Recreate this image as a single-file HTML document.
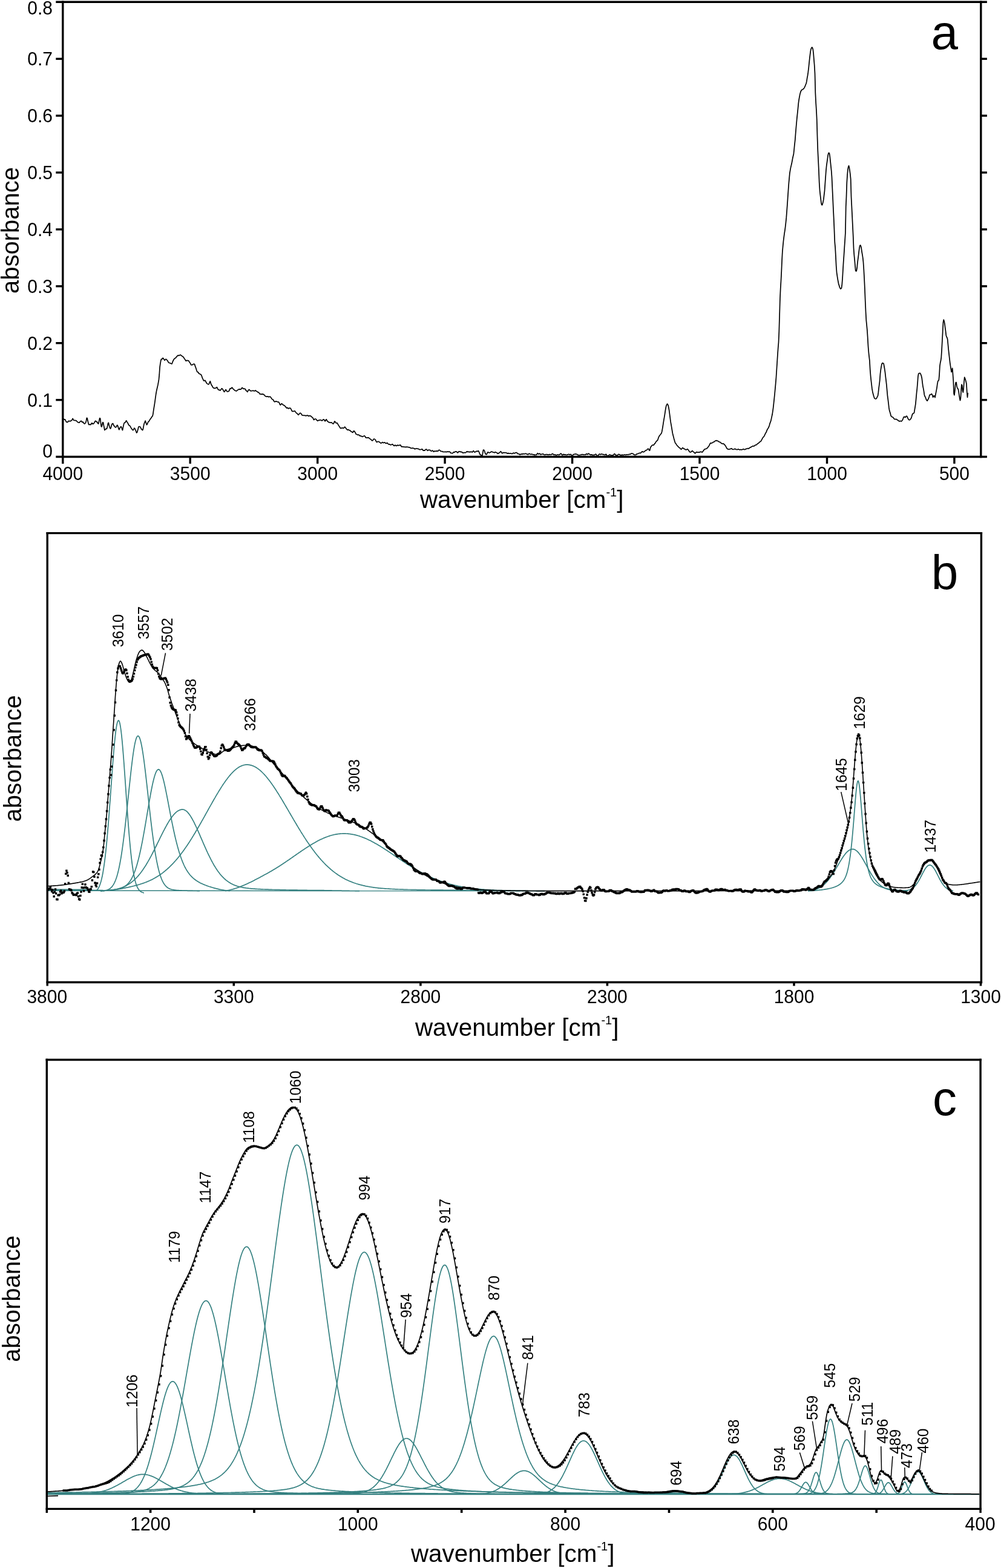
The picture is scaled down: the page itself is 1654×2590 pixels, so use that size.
<!DOCTYPE html>
<html lang="en">
<head>
<meta charset="utf-8">
<title>FTIR spectrum with band deconvolution</title>
<style>
html,body{margin:0;padding:0;background:#fff;}
body{width:1654px;height:2590px;overflow:hidden;}
svg{display:block;font-family:"Liberation Sans", Arial, Helvetica, sans-serif;fill:#000;}
</style>
</head>
<body>
<svg width="1654" height="2590" viewBox="0 0 1654 2590">
<rect width="1654" height="2590" fill="#fff"/>
<g id="panel-a">
<line x1="92.3" y1="3.2" x2="1630.9" y2="3.2" stroke="#000" stroke-width="3.4" stroke-linecap="butt"/>
<line x1="92.3" y1="754.5" x2="1630.9" y2="754.5" stroke="#000" stroke-width="3.4" stroke-linecap="butt"/>
<line x1="103.8" y1="1.5" x2="103.8" y2="765.9" stroke="#000" stroke-width="3.4" stroke-linecap="butt"/>
<line x1="1620.8" y1="1.5" x2="1620.8" y2="756.2" stroke="#000" stroke-width="3.4" stroke-linecap="butt"/>
<line x1="92.3" y1="660.6" x2="103.8" y2="660.6" stroke="#000" stroke-width="3.4" stroke-linecap="butt"/>
<line x1="1620.8" y1="660.6" x2="1630.9" y2="660.6" stroke="#000" stroke-width="3.4" stroke-linecap="butt"/>
<line x1="92.3" y1="566.7" x2="103.8" y2="566.7" stroke="#000" stroke-width="3.4" stroke-linecap="butt"/>
<line x1="1620.8" y1="566.7" x2="1630.9" y2="566.7" stroke="#000" stroke-width="3.4" stroke-linecap="butt"/>
<line x1="92.3" y1="472.8" x2="103.8" y2="472.8" stroke="#000" stroke-width="3.4" stroke-linecap="butt"/>
<line x1="1620.8" y1="472.8" x2="1630.9" y2="472.8" stroke="#000" stroke-width="3.4" stroke-linecap="butt"/>
<line x1="92.3" y1="378.9" x2="103.8" y2="378.9" stroke="#000" stroke-width="3.4" stroke-linecap="butt"/>
<line x1="1620.8" y1="378.9" x2="1630.9" y2="378.9" stroke="#000" stroke-width="3.4" stroke-linecap="butt"/>
<line x1="92.3" y1="285.0" x2="103.8" y2="285.0" stroke="#000" stroke-width="3.4" stroke-linecap="butt"/>
<line x1="1620.8" y1="285.0" x2="1630.9" y2="285.0" stroke="#000" stroke-width="3.4" stroke-linecap="butt"/>
<line x1="92.3" y1="191.1" x2="103.8" y2="191.1" stroke="#000" stroke-width="3.4" stroke-linecap="butt"/>
<line x1="1620.8" y1="191.1" x2="1630.9" y2="191.1" stroke="#000" stroke-width="3.4" stroke-linecap="butt"/>
<line x1="92.3" y1="97.2" x2="103.8" y2="97.2" stroke="#000" stroke-width="3.4" stroke-linecap="butt"/>
<line x1="1620.8" y1="97.2" x2="1630.9" y2="97.2" stroke="#000" stroke-width="3.4" stroke-linecap="butt"/>
<line x1="314.2" y1="754.5" x2="314.2" y2="765.9" stroke="#000" stroke-width="3.4" stroke-linecap="butt"/>
<line x1="524.7" y1="754.5" x2="524.7" y2="765.9" stroke="#000" stroke-width="3.4" stroke-linecap="butt"/>
<line x1="735.1" y1="754.5" x2="735.1" y2="765.9" stroke="#000" stroke-width="3.4" stroke-linecap="butt"/>
<line x1="945.6" y1="754.5" x2="945.6" y2="765.9" stroke="#000" stroke-width="3.4" stroke-linecap="butt"/>
<line x1="1156.0" y1="754.5" x2="1156.0" y2="765.9" stroke="#000" stroke-width="3.4" stroke-linecap="butt"/>
<line x1="1366.5" y1="754.5" x2="1366.5" y2="765.9" stroke="#000" stroke-width="3.4" stroke-linecap="butt"/>
<line x1="1576.9" y1="754.5" x2="1576.9" y2="765.9" stroke="#000" stroke-width="3.4" stroke-linecap="butt"/>
<text transform="translate(87.0,756.0) scale(1,1.04)" font-size="30" text-anchor="end">0</text>
<text transform="translate(87.0,671.5) scale(1,1.04)" font-size="30" text-anchor="end">0.1</text>
<text transform="translate(87.0,577.6) scale(1,1.04)" font-size="30" text-anchor="end">0.2</text>
<text transform="translate(87.0,483.7) scale(1,1.04)" font-size="30" text-anchor="end">0.3</text>
<text transform="translate(87.0,389.8) scale(1,1.04)" font-size="30" text-anchor="end">0.4</text>
<text transform="translate(87.0,295.9) scale(1,1.04)" font-size="30" text-anchor="end">0.5</text>
<text transform="translate(87.0,202.0) scale(1,1.04)" font-size="30" text-anchor="end">0.6</text>
<text transform="translate(87.0,108.1) scale(1,1.04)" font-size="30" text-anchor="end">0.7</text>
<text transform="translate(87.0,24.1) scale(1,1.04)" font-size="30" text-anchor="end">0.8</text>
<text transform="translate(103.8,793.2) scale(1,1.04)" font-size="30" text-anchor="middle">4000</text>
<text transform="translate(314.2,793.2) scale(1,1.04)" font-size="30" text-anchor="middle">3500</text>
<text transform="translate(524.7,793.2) scale(1,1.04)" font-size="30" text-anchor="middle">3000</text>
<text transform="translate(735.1,793.2) scale(1,1.04)" font-size="30" text-anchor="middle">2500</text>
<text transform="translate(945.6,793.2) scale(1,1.04)" font-size="30" text-anchor="middle">2000</text>
<text transform="translate(1156.0,793.2) scale(1,1.04)" font-size="30" text-anchor="middle">1500</text>
<text transform="translate(1366.5,793.2) scale(1,1.04)" font-size="30" text-anchor="middle">1000</text>
<text transform="translate(1576.9,793.2) scale(1,1.04)" font-size="30" text-anchor="middle">500</text>
<text transform="translate(30.9,380.6) rotate(-90) scale(1,1)" font-size="40" text-anchor="middle">absorbance</text>
<text x="862.2" y="839.0" font-size="40.4" text-anchor="middle">wavenumber [cm<tspan font-size="20" dy="-19">-1</tspan><tspan dy="19">]</tspan></text>
<text transform="translate(1538.4,80.7) scale(1,1)" font-size="80" text-anchor="start">a</text>
<path d="M104.9,691.3 L105.7,692.9 L106.5,693.1 L107.3,692.8 L108.1,693.8 L108.9,695.8 L109.7,697.2 L110.5,697.0 L111.3,697.4 L112.1,697.1 L112.9,695.7 L113.7,695.3 L114.5,695.6 L115.3,695.6 L116.1,695.8 L116.9,695.3 L117.7,694.8 L118.5,694.4 L119.3,692.9 L120.1,691.3 L120.9,692.6 L121.7,694.2 L122.5,694.3 L123.3,694.5 L124.1,694.4 L124.9,694.6 L125.7,694.8 L126.5,695.3 L127.3,696.2 L128.1,697.3 L128.9,697.5 L129.7,697.8 L130.5,698.2 L131.3,697.9 L132.1,696.7 L132.9,695.8 L133.7,695.6 L134.5,695.4 L135.3,696.9 L136.1,697.5 L136.9,696.8 L137.7,697.8 L138.5,699.1 L139.3,699.9 L140.1,699.8 L140.9,699.0 L141.7,697.9 L142.5,694.9 L143.3,690.3 L144.1,690.8 L144.9,694.5 L145.7,697.9 L146.5,701.0 L147.3,701.6 L148.1,701.0 L148.9,701.1 L149.7,701.7 L150.5,700.9 L151.3,699.2 L152.1,698.7 L152.9,700.1 L153.7,700.3 L154.5,699.7 L155.3,699.1 L156.1,697.7 L156.9,696.1 L157.7,695.2 L158.5,695.5 L159.3,696.8 L160.1,696.8 L160.9,697.6 L161.7,699.4 L162.5,700.0 L163.3,697.2 L164.1,693.3 L164.9,690.5 L165.7,691.5 L166.5,698.8 L167.3,704.5 L168.1,704.9 L168.9,701.1 L169.7,697.7 L170.5,697.8 L171.3,702.2 L172.1,706.1 L172.9,710.5 L173.7,709.6 L174.5,708.7 L175.3,708.4 L176.1,708.5 L176.9,706.9 L177.7,703.4 L178.5,699.5 L179.3,698.3 L180.1,701.8 L180.9,704.5 L181.7,706.9 L182.5,708.0 L183.3,706.6 L184.1,703.2 L184.9,700.9 L185.7,699.9 L186.5,699.4 L187.3,701.1 L188.1,703.1 L188.9,703.7 L189.7,704.9 L190.5,705.8 L191.3,705.8 L192.1,705.1 L192.9,703.5 L193.7,702.2 L194.5,703.3 L195.3,705.6 L196.1,708.4 L196.9,709.8 L197.7,707.6 L198.5,706.2 L199.3,705.1 L200.1,704.6 L200.9,705.9 L201.7,708.9 L202.5,710.6 L203.3,706.7 L204.1,702.6 L204.9,699.4 L205.7,698.1 L206.5,698.1 L207.3,697.4 L208.1,695.5 L208.9,694.8 L209.7,696.6 L210.5,697.8 L211.3,698.9 L212.1,701.0 L212.9,702.3 L213.7,702.8 L214.5,703.4 L215.3,704.3 L216.1,705.8 L216.9,707.5 L217.7,708.3 L218.5,709.5 L219.3,710.4 L220.1,710.4 L220.9,709.3 L221.7,707.2 L222.5,707.4 L223.3,709.0 L224.1,710.8 L224.9,713.0 L225.7,714.9 L226.5,714.2 L227.3,711.4 L228.1,708.7 L228.9,705.2 L229.7,704.6 L230.5,704.6 L231.3,704.8 L232.1,705.8 L232.9,707.4 L233.7,709.0 L234.5,709.5 L235.3,710.5 L236.1,709.8 L236.9,706.0 L237.7,701.6 L238.5,698.9 L239.3,697.1 L240.1,695.1 L240.9,697.3 L241.7,699.8 L242.5,701.7 L243.3,700.6 L244.1,698.5 L244.9,696.8 L245.7,696.1 L246.5,695.3 L247.3,693.8 L248.1,692.6 L248.9,691.5 L249.7,690.5 L250.5,689.2 L251.3,687.9 L252.1,687.2 L252.9,683.6 L253.7,677.8 L254.5,672.9 L255.3,668.0 L256.1,662.6 L256.9,656.7 L257.7,651.0 L258.5,646.4 L259.3,642.7 L260.1,639.3 L260.9,635.9 L261.7,631.5 L262.5,626.7 L263.3,618.2 L264.1,606.3 L264.9,600.6 L265.7,596.1 L266.5,593.2 L267.3,593.4 L268.1,592.8 L268.9,591.3 L269.7,591.7 L270.5,593.0 L271.3,594.0 L272.1,595.2 L272.9,594.3 L273.7,593.3 L274.5,593.3 L275.3,594.2 L276.1,595.0 L276.9,595.8 L277.7,597.4 L278.5,598.7 L279.3,599.2 L280.1,599.6 L280.9,599.7 L281.7,600.0 L282.5,600.5 L283.3,600.9 L284.1,600.9 L284.9,598.8 L285.7,596.6 L286.5,595.0 L287.3,593.7 L288.1,592.5 L288.9,591.9 L289.7,591.5 L290.5,591.0 L291.3,589.7 L292.1,588.8 L292.9,588.2 L293.7,587.4 L294.5,586.8 L295.3,587.5 L296.1,587.3 L296.9,586.8 L297.7,586.2 L298.5,586.3 L299.3,587.0 L300.1,587.6 L300.9,588.3 L301.7,588.9 L302.5,589.2 L303.3,590.1 L304.1,591.5 L304.9,592.7 L305.7,593.7 L306.5,595.0 L307.3,596.2 L308.1,595.8 L308.9,595.3 L309.7,595.6 L310.5,595.7 L311.3,595.7 L312.1,596.5 L312.9,597.9 L313.7,599.2 L314.5,600.0 L315.3,601.9 L316.1,603.0 L316.9,602.6 L317.7,602.7 L318.5,602.2 L319.3,601.5 L320.1,601.3 L320.9,601.2 L321.7,602.1 L322.5,604.9 L323.3,606.8 L324.1,609.3 L324.9,611.7 L325.7,613.9 L326.5,614.7 L327.3,614.7 L328.1,616.0 L328.9,617.4 L329.7,617.3 L330.5,617.7 L331.3,618.6 L332.1,618.7 L332.9,619.9 L333.7,622.3 L334.5,624.6 L335.3,626.1 L336.1,628.0 L336.9,629.1 L337.7,628.8 L338.5,628.3 L339.3,628.8 L340.1,630.4 L340.9,632.1 L341.7,633.2 L342.5,633.9 L343.3,634.4 L344.1,634.8 L344.9,635.0 L345.7,633.2 L346.5,631.3 L347.3,629.7 L348.1,632.2 L348.9,634.9 L349.7,636.2 L350.5,637.5 L351.3,638.8 L352.1,640.4 L352.9,640.9 L353.7,641.1 L354.5,641.4 L355.3,641.3 L356.1,641.0 L356.9,641.0 L357.7,639.8 L358.5,639.6 L359.3,641.4 L360.1,642.9 L360.9,643.9 L361.7,643.9 L362.5,644.0 L363.3,644.8 L364.1,644.8 L364.9,643.6 L365.7,642.7 L366.5,641.6 L367.3,642.2 L368.1,643.2 L368.9,644.6 L369.7,646.1 L370.5,647.4 L371.3,646.5 L372.1,645.0 L372.9,643.6 L373.7,644.2 L374.5,645.7 L375.3,646.9 L376.1,646.7 L376.9,646.7 L377.7,646.5 L378.5,645.6 L379.3,643.7 L380.1,641.9 L380.9,641.6 L381.7,641.9 L382.5,641.1 L383.3,640.0 L384.1,640.8 L384.9,642.2 L385.7,643.0 L386.5,643.4 L387.3,644.3 L388.1,645.0 L388.9,645.3 L389.7,645.6 L390.5,645.9 L391.3,645.5 L392.1,644.7 L392.9,644.1 L393.7,643.6 L394.5,643.2 L395.3,642.9 L396.1,643.1 L396.9,643.2 L397.7,643.2 L398.5,642.6 L399.3,641.3 L400.1,640.4 L400.9,640.9 L401.7,641.9 L402.5,642.2 L403.3,642.3 L404.1,642.1 L404.9,642.4 L405.7,643.5 L406.5,645.0 L407.3,645.7 L408.1,646.4 L408.9,647.4 L409.7,645.8 L410.5,644.3 L411.3,643.6 L412.1,643.7 L412.9,644.9 L413.7,645.7 L414.5,645.6 L415.3,645.6 L416.1,645.7 L416.9,645.5 L417.7,645.2 L418.5,645.1 L419.3,645.7 L420.1,646.0 L420.9,645.7 L421.7,644.8 L422.5,645.3 L423.3,646.0 L424.1,646.2 L424.9,646.9 L425.7,647.7 L426.5,647.9 L427.3,648.1 L428.1,648.9 L428.9,650.3 L429.7,651.0 L430.5,650.8 L431.3,650.8 L432.1,651.3 L432.9,651.4 L433.7,650.8 L434.5,650.9 L435.3,651.6 L436.1,651.9 L436.9,652.6 L437.7,653.8 L438.5,654.4 L439.3,654.8 L440.1,655.2 L440.9,655.0 L441.7,655.1 L442.5,654.8 L443.3,655.1 L444.1,655.8 L444.9,655.5 L445.7,655.1 L446.5,655.3 L447.3,656.3 L448.1,657.3 L448.9,658.5 L449.7,659.6 L450.5,659.8 L451.3,660.3 L452.1,661.5 L452.9,663.1 L453.7,663.7 L454.5,663.6 L455.3,663.0 L456.1,662.9 L456.9,663.2 L457.7,663.4 L458.5,663.9 L459.3,664.0 L460.1,663.8 L460.9,664.6 L461.7,666.1 L462.5,668.1 L463.3,669.0 L464.1,668.1 L464.9,667.1 L465.7,666.7 L466.5,667.6 L467.3,668.4 L468.1,668.8 L468.9,669.5 L469.7,669.6 L470.5,670.4 L471.3,671.3 L472.1,672.0 L472.9,673.4 L473.7,674.0 L474.5,673.3 L475.3,673.5 L476.1,674.7 L476.9,674.9 L477.7,674.2 L478.5,674.1 L479.3,674.2 L480.1,674.3 L480.9,675.9 L481.7,677.4 L482.5,679.1 L483.3,679.6 L484.1,679.3 L484.9,679.4 L485.7,679.4 L486.5,678.9 L487.3,678.9 L488.1,680.1 L488.9,681.3 L489.7,682.3 L490.5,682.8 L491.3,683.3 L492.1,684.4 L492.9,685.3 L493.7,684.7 L494.5,683.6 L495.3,682.9 L496.1,682.2 L496.9,682.5 L497.7,683.5 L498.5,684.8 L499.3,685.9 L500.1,686.0 L500.9,685.9 L501.7,686.3 L502.5,686.5 L503.3,686.2 L504.1,686.2 L504.9,686.7 L505.7,686.9 L506.5,686.5 L507.3,686.0 L508.1,686.0 L508.9,686.8 L509.7,687.3 L510.5,686.9 L511.3,686.7 L512.1,686.9 L512.9,686.9 L513.7,687.3 L514.5,688.1 L515.3,689.0 L516.1,689.4 L516.9,690.1 L517.7,691.8 L518.5,693.5 L519.3,692.8 L520.1,692.3 L520.9,692.2 L521.7,692.2 L522.5,692.6 L523.3,693.9 L524.1,694.7 L524.9,695.2 L525.7,694.7 L526.5,694.1 L527.3,694.1 L528.1,694.1 L528.9,693.6 L529.7,693.8 L530.5,694.0 L531.3,694.7 L532.1,694.9 L532.9,694.3 L533.7,693.2 L534.5,692.9 L535.3,693.0 L536.1,694.1 L536.9,695.6 L537.7,695.4 L538.5,693.4 L539.3,692.7 L540.1,694.2 L540.9,695.7 L541.7,696.3 L542.5,696.9 L543.3,697.6 L544.1,697.6 L544.9,697.8 L545.7,698.2 L546.5,698.0 L547.3,697.8 L548.1,698.1 L548.9,698.8 L549.7,699.7 L550.5,700.1 L551.3,699.7 L552.1,697.5 L552.9,695.9 L553.7,696.5 L554.5,697.9 L555.3,698.8 L556.1,698.8 L556.9,698.4 L557.7,699.5 L558.5,701.2 L559.3,702.3 L560.1,703.7 L560.9,704.8 L561.7,706.0 L562.5,707.2 L563.3,707.6 L564.1,707.2 L564.9,706.6 L565.7,706.8 L566.5,707.1 L567.3,707.1 L568.1,707.0 L568.9,706.0 L569.7,705.2 L570.5,705.9 L571.3,707.1 L572.1,708.2 L572.9,709.0 L573.7,709.9 L574.5,710.1 L575.3,709.8 L576.1,709.9 L576.9,710.7 L577.7,711.0 L578.5,710.9 L579.3,712.1 L580.1,713.0 L580.9,713.0 L581.7,713.5 L582.5,714.5 L583.3,714.1 L584.1,712.4 L584.9,711.7 L585.7,712.6 L586.5,713.7 L587.3,714.9 L588.1,716.9 L588.9,717.3 L589.7,717.6 L590.5,718.1 L591.3,718.4 L592.1,718.2 L592.9,718.2 L593.7,719.2 L594.5,719.8 L595.3,719.8 L596.1,720.3 L596.9,720.4 L597.7,720.7 L598.5,721.4 L599.3,721.2 L600.1,720.9 L600.9,720.4 L601.7,719.9 L602.5,720.0 L603.3,721.0 L604.1,722.5 L604.9,723.2 L605.7,723.2 L606.5,723.2 L607.3,723.2 L608.1,722.7 L608.9,722.9 L609.7,723.7 L610.5,724.1 L611.3,724.7 L612.1,725.5 L612.9,725.9 L613.7,726.7 L614.5,727.7 L615.3,727.8 L616.1,727.2 L616.9,726.2 L617.7,725.1 L618.5,725.1 L619.3,725.6 L620.1,726.1 L620.9,727.6 L621.7,729.5 L622.5,730.3 L623.3,730.0 L624.1,729.4 L624.9,729.4 L625.7,729.5 L626.5,729.9 L627.3,730.3 L628.1,731.1 L628.9,731.9 L629.7,731.9 L630.5,731.7 L631.3,730.8 L632.1,730.5 L632.9,731.2 L633.7,731.6 L634.5,731.1 L635.3,730.8 L636.1,731.0 L636.9,731.8 L637.7,732.5 L638.5,732.3 L639.3,731.7 L640.1,731.7 L640.9,732.7 L641.7,733.7 L642.5,733.9 L643.3,733.7 L644.1,733.9 L644.9,734.8 L645.7,734.8 L646.5,734.6 L647.3,734.3 L648.1,733.7 L648.9,734.1 L649.7,735.0 L650.5,735.9 L651.3,736.5 L652.1,736.0 L652.9,735.2 L653.7,735.7 L654.5,736.5 L655.3,736.5 L656.1,735.6 L656.9,735.2 L657.7,735.8 L658.5,735.8 L659.3,735.4 L660.1,735.3 L660.9,735.6 L661.7,735.0 L662.5,736.2 L663.3,737.9 L664.1,738.0 L664.9,737.8 L665.7,737.9 L666.5,738.3 L667.3,738.1 L668.1,738.3 L668.9,738.4 L669.7,738.4 L670.5,738.6 L671.3,738.2 L672.1,738.3 L672.9,738.4 L673.7,738.4 L674.5,738.5 L675.3,738.9 L676.1,738.9 L676.9,739.0 L677.7,739.5 L678.5,740.1 L679.3,740.5 L680.1,740.4 L680.9,740.4 L681.7,740.1 L682.5,740.2 L683.3,740.6 L684.1,740.6 L684.9,741.2 L685.7,741.8 L686.5,741.3 L687.3,741.0 L688.1,740.8 L688.9,741.0 L689.7,741.2 L690.5,741.3 L691.3,741.4 L692.1,741.9 L692.9,742.5 L693.7,742.6 L694.5,742.6 L695.3,742.5 L696.1,742.3 L696.9,741.9 L697.7,741.9 L698.5,743.2 L699.3,744.3 L700.1,744.1 L700.9,743.9 L701.7,744.1 L702.5,743.4 L703.3,742.5 L704.1,742.1 L704.9,742.3 L705.7,743.5 L706.5,744.4 L707.3,743.9 L708.1,743.2 L708.9,743.3 L709.7,743.3 L710.5,743.3 L711.3,744.1 L712.1,744.9 L712.9,745.1 L713.7,744.8 L714.5,744.0 L715.3,744.4 L716.1,745.8 L716.9,746.1 L717.7,745.2 L718.5,745.1 L719.3,745.4 L720.1,745.4 L720.9,745.1 L721.7,744.9 L722.5,745.1 L723.3,745.3 L724.1,744.8 L724.9,743.6 L725.7,743.1 L726.5,743.6 L727.3,744.2 L728.1,745.1 L728.9,745.7 L729.7,745.5 L730.5,745.5 L731.3,746.0 L732.1,746.5 L732.9,746.4 L733.7,746.5 L734.5,746.5 L735.3,746.2 L736.1,746.5 L736.9,746.4 L737.7,746.6 L738.5,746.3 L739.3,746.0 L740.1,746.1 L740.9,746.4 L741.7,746.2 L742.5,746.1 L743.3,746.3 L744.1,747.5 L744.9,748.3 L745.7,748.3 L746.5,748.5 L747.3,748.8 L748.1,748.6 L748.9,747.4 L749.7,746.7 L750.5,747.2 L751.3,746.8 L752.1,746.1 L752.9,745.8 L753.7,745.8 L754.5,746.3 L755.3,746.9 L756.1,747.9 L756.9,747.5 L757.7,746.1 L758.5,745.7 L759.3,745.8 L760.1,745.8 L760.9,746.4 L761.7,746.7 L762.5,746.4 L763.3,746.7 L764.1,747.5 L764.9,748.2 L765.7,748.1 L766.5,747.7 L767.3,747.7 L768.1,747.6 L768.9,747.9 L769.7,747.4 L770.5,746.9 L771.3,745.9 L772.1,745.7 L772.9,746.4 L773.7,746.6 L774.5,746.1 L775.3,746.3 L776.1,746.9 L776.9,746.7 L777.7,746.2 L778.5,746.2 L779.3,746.5 L780.1,747.0 L780.9,746.5 L781.7,745.1 L782.5,744.7 L783.3,745.9 L784.1,746.9 L784.9,746.8 L785.7,746.4 L786.5,745.5 L787.3,745.2 L788.1,745.7 L788.9,745.6 L789.7,744.8 L790.5,744.8 L791.3,746.1 L792.1,748.1 L792.9,750.2 L793.7,751.4 L794.5,751.4 L795.3,752.1 L796.1,753.0 L796.9,752.8 L797.7,748.3 L798.5,743.3 L799.3,743.1 L800.1,744.0 L800.9,745.9 L801.7,748.7 L802.5,750.0 L803.3,750.7 L804.1,750.6 L804.9,748.9 L805.7,747.0 L806.5,746.9 L807.3,747.3 L808.1,747.9 L808.9,747.8 L809.7,747.5 L810.5,746.9 L811.3,746.6 L812.1,746.0 L812.9,746.0 L813.7,746.7 L814.5,747.0 L815.3,747.1 L816.1,747.3 L816.9,747.8 L817.7,747.3 L818.5,746.7 L819.3,747.1 L820.1,747.6 L820.9,747.6 L821.7,748.5 L822.5,749.4 L823.3,749.2 L824.1,748.4 L824.9,747.9 L825.7,747.6 L826.5,746.4 L827.3,745.6 L828.1,746.4 L828.9,747.7 L829.7,748.8 L830.5,748.5 L831.3,747.7 L832.1,747.6 L832.9,748.0 L833.7,747.7 L834.5,747.6 L835.3,747.8 L836.1,748.0 L836.9,748.1 L837.7,748.5 L838.5,749.2 L839.3,748.9 L840.1,748.4 L840.9,749.1 L841.7,749.2 L842.5,749.0 L843.3,748.7 L844.1,749.0 L844.9,749.3 L845.7,749.3 L846.5,749.4 L847.3,749.0 L848.1,748.2 L848.9,748.3 L849.7,748.8 L850.5,748.7 L851.3,748.1 L852.1,747.7 L852.9,747.7 L853.7,747.6 L854.5,748.3 L855.3,749.5 L856.1,749.7 L856.9,749.5 L857.7,749.8 L858.5,750.8 L859.3,751.1 L860.1,750.4 L860.9,750.0 L861.7,749.9 L862.5,750.5 L863.3,750.1 L864.1,749.4 L864.9,749.7 L865.7,749.9 L866.5,749.8 L867.3,749.5 L868.1,749.2 L868.9,749.4 L869.7,749.9 L870.5,749.9 L871.3,750.2 L872.1,751.0 L872.9,750.6 L873.7,749.5 L874.5,749.2 L875.3,749.6 L876.1,750.2 L876.9,750.5 L877.7,750.4 L878.5,750.0 L879.3,750.3 L880.1,750.8 L880.9,751.0 L881.7,750.9 L882.5,750.9 L883.3,751.9 L884.1,751.4 L884.9,751.2 L885.7,751.5 L886.5,751.2 L887.3,750.0 L888.1,748.6 L888.9,749.2 L889.7,750.1 L890.5,749.8 L891.3,749.1 L892.1,749.3 L892.9,750.7 L893.7,750.9 L894.5,750.3 L895.3,750.2 L896.1,750.0 L896.9,749.7 L897.7,750.0 L898.5,750.6 L899.3,751.2 L900.1,751.4 L900.9,751.0 L901.7,750.7 L902.5,750.8 L903.3,750.5 L904.1,750.6 L904.9,751.2 L905.7,751.2 L906.5,751.1 L907.3,750.9 L908.1,750.6 L908.9,750.9 L909.7,751.0 L910.5,750.9 L911.3,750.7 L912.1,749.9 L912.9,749.4 L913.7,750.0 L914.5,750.7 L915.3,751.4 L916.1,751.3 L916.9,750.9 L917.7,751.2 L918.5,751.9 L919.3,751.9 L920.1,751.4 L920.9,751.2 L921.7,751.1 L922.5,751.2 L923.3,751.4 L924.1,751.2 L924.9,750.8 L925.7,749.9 L926.5,749.2 L927.3,749.3 L928.1,750.6 L928.9,751.8 L929.7,751.7 L930.5,750.5 L931.3,750.3 L932.1,751.1 L932.9,751.2 L933.7,750.7 L934.5,751.1 L935.3,751.4 L936.1,751.5 L936.9,751.2 L937.7,751.2 L938.5,750.8 L939.3,750.4 L940.1,750.4 L940.9,750.9 L941.7,751.1 L942.5,750.5 L943.3,750.4 L944.1,751.6 L944.9,752.6 L945.7,752.8 L946.5,752.0 L947.3,750.8 L948.1,750.4 L948.9,750.5 L949.7,750.2 L950.5,749.7 L951.3,750.1 L952.1,750.3 L952.9,750.1 L953.7,750.6 L954.5,751.3 L955.3,751.4 L956.1,751.8 L956.9,751.9 L957.7,751.7 L958.5,751.5 L959.3,751.4 L960.1,751.4 L960.9,750.9 L961.7,750.6 L962.5,750.8 L963.3,750.7 L964.1,751.0 L964.9,751.3 L965.7,751.0 L966.5,751.0 L967.3,751.2 L968.1,750.6 L968.9,749.5 L969.7,749.7 L970.5,750.7 L971.3,750.3 L972.1,749.1 L972.9,749.3 L973.7,750.0 L974.5,750.4 L975.3,751.0 L976.1,751.4 L976.9,751.1 L977.7,750.8 L978.5,751.5 L979.3,751.9 L980.1,751.4 L980.9,751.6 L981.7,751.7 L982.5,751.4 L983.3,750.7 L984.1,750.1 L984.9,750.5 L985.7,751.7 L986.5,752.5 L987.3,752.8 L988.1,752.5 L988.9,751.7 L989.7,750.6 L990.5,749.9 L991.3,750.3 L992.1,750.8 L992.9,750.5 L993.7,749.9 L994.5,750.0 L995.3,750.3 L996.1,750.7 L996.9,750.6 L997.7,750.9 L998.5,751.2 L999.3,751.5 L1000.1,751.4 L1000.9,750.4 L1001.7,750.3 L1002.5,752.0 L1003.3,753.3 L1004.1,753.4 L1004.9,752.8 L1005.7,752.3 L1006.5,751.7 L1007.3,751.0 L1008.1,751.2 L1008.9,751.7 L1009.7,752.2 L1010.5,752.5 L1011.3,751.9 L1012.1,752.1 L1012.9,752.5 L1013.7,751.4 L1014.5,750.1 L1015.3,749.6 L1016.1,750.0 L1016.9,751.5 L1017.7,751.9 L1018.5,751.9 L1019.3,752.0 L1020.1,752.1 L1020.9,751.4 L1021.7,750.5 L1022.5,750.4 L1023.3,750.7 L1024.1,751.3 L1024.9,751.4 L1025.7,752.0 L1026.5,752.3 L1027.3,751.4 L1028.1,751.2 L1028.9,751.8 L1029.7,751.9 L1030.5,751.4 L1031.3,751.2 L1032.1,751.0 L1032.9,751.2 L1033.7,751.4 L1034.5,751.4 L1035.3,750.9 L1036.1,750.9 L1036.9,751.0 L1037.7,751.0 L1038.5,750.9 L1039.3,750.4 L1040.1,750.3 L1040.9,750.4 L1041.7,750.0 L1042.5,749.5 L1043.3,749.1 L1044.1,749.1 L1044.9,749.2 L1045.7,749.4 L1046.5,749.9 L1047.3,750.7 L1048.1,751.4 L1048.9,751.4 L1049.7,751.3 L1050.5,751.4 L1051.3,750.9 L1052.1,749.9 L1052.9,749.7 L1053.7,749.7 L1054.5,749.3 L1055.3,748.9 L1056.1,748.4 L1056.9,748.4 L1057.7,748.4 L1058.5,748.4 L1059.3,747.7 L1060.1,746.8 L1060.9,745.8 L1061.7,745.9 L1062.5,746.7 L1063.3,746.6 L1064.1,746.3 L1064.9,746.0 L1065.7,745.0 L1066.5,744.2 L1067.3,743.9 L1068.1,743.7 L1068.9,743.2 L1069.7,742.3 L1070.5,741.3 L1071.3,741.3 L1072.1,742.3 L1072.9,744.1 L1073.7,744.0 L1074.5,740.5 L1075.3,738.1 L1076.1,737.4 L1076.9,736.2 L1077.7,735.4 L1078.5,735.0 L1079.3,735.3 L1080.1,735.2 L1080.9,734.0 L1081.7,732.7 L1082.5,732.2 L1083.3,730.9 L1084.1,729.4 L1084.9,728.7 L1085.7,728.0 L1086.5,727.2 L1087.3,725.3 L1088.1,722.8 L1088.9,721.0 L1089.7,719.7 L1090.5,718.7 L1091.3,717.8 L1092.1,716.6 L1092.9,715.7 L1093.7,712.9 L1094.5,708.6 L1095.3,704.0 L1096.1,698.4 L1096.9,693.7 L1097.7,689.2 L1098.5,684.1 L1099.3,678.7 L1100.1,673.8 L1100.9,670.1 L1101.7,668.6 L1102.5,667.1 L1103.3,668.0 L1104.1,669.7 L1104.9,673.4 L1105.7,678.0 L1106.5,684.3 L1107.3,690.4 L1108.1,696.7 L1108.9,701.1 L1109.7,705.7 L1110.5,710.5 L1111.3,715.5 L1112.1,718.7 L1112.9,721.8 L1113.7,725.0 L1114.5,727.8 L1115.3,730.6 L1116.1,732.2 L1116.9,732.9 L1117.7,734.4 L1118.5,735.6 L1119.3,736.2 L1120.1,737.3 L1120.9,738.0 L1121.7,738.8 L1122.5,739.7 L1123.3,740.0 L1124.1,740.6 L1124.9,741.8 L1125.7,742.2 L1126.5,741.3 L1127.3,740.1 L1128.1,739.7 L1128.9,740.5 L1129.7,741.2 L1130.5,741.2 L1131.3,741.7 L1132.1,742.3 L1132.9,742.7 L1133.7,743.1 L1134.5,742.7 L1135.3,742.0 L1136.1,741.8 L1136.9,742.7 L1137.7,743.6 L1138.5,745.0 L1139.3,746.2 L1140.1,746.8 L1140.9,747.0 L1141.7,746.5 L1142.5,746.1 L1143.3,745.1 L1144.1,744.7 L1144.9,745.5 L1145.7,746.4 L1146.5,746.9 L1147.3,747.7 L1148.1,748.6 L1148.9,748.6 L1149.7,747.6 L1150.5,746.8 L1151.3,746.6 L1152.1,747.1 L1152.9,747.2 L1153.7,747.1 L1154.5,747.0 L1155.3,747.1 L1156.1,747.0 L1156.9,746.4 L1157.7,746.4 L1158.5,746.4 L1159.3,746.6 L1160.1,746.9 L1160.9,746.6 L1161.7,745.2 L1162.5,744.1 L1163.3,743.1 L1164.1,742.2 L1164.9,741.7 L1165.7,741.7 L1166.5,741.5 L1167.3,740.9 L1168.1,740.5 L1168.9,740.1 L1169.7,738.8 L1170.5,737.8 L1171.3,736.8 L1172.1,735.4 L1172.9,733.7 L1173.7,732.1 L1174.5,731.7 L1175.3,732.0 L1176.1,732.0 L1176.9,731.4 L1177.7,730.7 L1178.5,730.4 L1179.3,730.3 L1180.1,729.7 L1180.9,728.8 L1181.7,728.5 L1182.5,728.0 L1183.3,727.5 L1184.1,727.9 L1184.9,728.1 L1185.7,728.3 L1186.5,728.6 L1187.3,729.3 L1188.1,729.8 L1188.9,730.1 L1189.7,730.3 L1190.5,730.8 L1191.3,731.7 L1192.1,732.4 L1192.9,732.7 L1193.7,733.0 L1194.5,732.8 L1195.3,732.8 L1196.1,733.5 L1196.9,734.1 L1197.7,735.1 L1198.5,736.2 L1199.3,737.3 L1200.1,738.9 L1200.9,740.5 L1201.7,741.2 L1202.5,741.9 L1203.3,742.1 L1204.1,742.1 L1204.9,742.1 L1205.7,742.0 L1206.5,741.5 L1207.3,741.5 L1208.1,740.9 L1208.9,740.8 L1209.7,741.7 L1210.5,742.2 L1211.3,742.5 L1212.1,742.3 L1212.9,742.0 L1213.7,741.6 L1214.5,741.4 L1215.3,741.8 L1216.1,742.3 L1216.9,742.5 L1217.7,742.6 L1218.5,742.6 L1219.3,742.2 L1220.1,741.9 L1220.9,742.4 L1221.7,742.9 L1222.5,742.8 L1223.3,742.7 L1224.1,742.7 L1224.9,742.8 L1225.7,742.8 L1226.5,742.6 L1227.3,742.2 L1228.1,741.8 L1228.9,741.9 L1229.7,742.3 L1230.5,742.6 L1231.3,742.4 L1232.1,741.8 L1232.9,741.3 L1233.7,741.4 L1234.5,741.1 L1235.3,740.6 L1236.1,740.8 L1236.9,741.1 L1237.7,740.7 L1238.5,739.6 L1239.3,739.1 L1240.1,739.1 L1240.9,738.5 L1241.7,738.0 L1242.5,737.6 L1243.3,737.1 L1244.1,736.7 L1244.9,736.9 L1245.7,737.0 L1246.5,736.5 L1247.3,735.7 L1248.1,735.1 L1248.9,735.1 L1249.7,734.8 L1250.5,734.1 L1251.3,733.2 L1252.1,732.8 L1252.9,732.2 L1253.7,731.7 L1254.5,730.9 L1255.3,730.0 L1256.1,729.6 L1256.9,729.2 L1257.7,728.1 L1258.5,726.7 L1259.3,725.1 L1260.1,723.6 L1260.9,722.4 L1261.7,721.6 L1262.5,720.7 L1263.3,719.1 L1264.1,717.3 L1264.9,715.7 L1265.7,714.5 L1266.5,712.9 L1267.3,710.6 L1268.1,709.0 L1268.9,707.9 L1269.7,706.5 L1270.5,704.9 L1271.3,702.4 L1272.1,699.6 L1272.9,697.4 L1273.7,695.4 L1274.5,691.9 L1275.3,688.1 L1276.1,684.3 L1276.9,679.1 L1277.7,673.3 L1278.5,665.8 L1279.3,658.4 L1280.1,650.5 L1280.9,641.6 L1281.7,632.8 L1282.5,623.2 L1283.3,610.8 L1284.1,598.5 L1284.9,586.2 L1285.7,574.8 L1286.5,565.2 L1287.3,547.5 L1288.1,520.4 L1288.9,493.2 L1289.7,476.8 L1290.5,463.5 L1291.3,447.5 L1292.1,429.2 L1292.9,415.0 L1293.7,406.2 L1294.5,398.0 L1295.3,391.6 L1296.1,385.5 L1296.9,380.6 L1297.7,374.6 L1298.5,367.3 L1299.3,359.4 L1300.1,349.0 L1300.9,338.1 L1301.7,326.1 L1302.5,314.7 L1303.3,303.5 L1304.1,294.6 L1304.9,286.2 L1305.7,281.4 L1306.5,276.9 L1307.3,273.6 L1308.1,270.3 L1308.9,266.0 L1309.7,261.7 L1310.5,258.0 L1311.3,254.8 L1312.1,247.5 L1312.9,239.2 L1313.7,232.2 L1314.5,221.9 L1315.3,212.3 L1316.1,203.2 L1316.9,194.4 L1317.7,187.2 L1318.5,179.4 L1319.3,170.7 L1320.1,165.0 L1320.9,160.3 L1321.7,156.1 L1322.5,153.1 L1323.3,150.9 L1324.1,149.2 L1324.9,148.5 L1325.7,148.1 L1326.5,147.6 L1327.3,147.0 L1328.1,146.3 L1328.9,145.1 L1329.7,143.7 L1330.5,141.7 L1331.3,139.7 L1332.1,137.7 L1332.9,134.4 L1333.7,128.8 L1334.5,124.8 L1335.3,119.4 L1336.1,112.9 L1336.9,104.9 L1337.7,97.4 L1338.5,90.7 L1339.3,84.4 L1340.1,80.9 L1340.9,79.0 L1341.7,78.1 L1342.5,79.1 L1343.3,81.7 L1344.1,88.0 L1344.9,98.4 L1345.7,107.5 L1346.5,121.6 L1347.3,153.2 L1348.1,169.2 L1348.9,181.6 L1349.7,197.7 L1350.5,225.2 L1351.3,248.8 L1352.1,265.0 L1352.9,281.4 L1353.7,301.4 L1354.5,314.0 L1355.3,321.4 L1356.1,328.2 L1356.9,334.7 L1357.7,338.3 L1358.5,338.7 L1359.3,336.2 L1360.1,333.2 L1360.9,329.2 L1361.7,321.9 L1362.5,315.3 L1363.3,304.2 L1364.1,292.9 L1364.9,281.8 L1365.7,273.8 L1366.5,268.1 L1367.3,262.4 L1368.1,256.4 L1368.9,253.2 L1369.7,252.4 L1370.5,253.6 L1371.3,258.8 L1372.1,266.7 L1372.9,274.4 L1373.7,281.8 L1374.5,292.9 L1375.3,310.4 L1376.1,327.0 L1376.9,345.4 L1377.7,361.4 L1378.5,379.6 L1379.3,400.2 L1380.1,408.9 L1380.9,422.9 L1381.7,439.2 L1382.5,449.8 L1383.3,455.4 L1384.1,460.6 L1384.9,465.0 L1385.7,469.0 L1386.5,471.6 L1387.3,474.3 L1388.1,475.9 L1388.9,477.2 L1389.7,476.6 L1390.5,475.6 L1391.3,469.9 L1392.1,459.5 L1392.9,445.5 L1393.7,432.6 L1394.5,421.3 L1395.3,408.6 L1396.1,397.3 L1396.9,384.7 L1397.7,341.7 L1398.5,325.2 L1399.3,301.5 L1400.1,288.7 L1400.9,280.4 L1401.7,275.7 L1402.5,273.7 L1403.3,276.9 L1404.1,281.8 L1404.9,288.0 L1405.7,296.2 L1406.5,324.6 L1407.3,340.6 L1408.1,356.6 L1408.9,372.6 L1409.7,389.2 L1410.5,409.8 L1411.3,420.6 L1412.1,429.1 L1412.9,438.3 L1413.7,446.7 L1414.5,448.1 L1415.3,447.2 L1416.1,442.5 L1416.9,434.2 L1417.7,427.9 L1418.5,421.9 L1419.3,414.9 L1420.1,409.0 L1420.9,405.6 L1421.7,405.0 L1422.5,406.7 L1423.3,410.5 L1424.1,416.1 L1424.9,420.6 L1425.7,425.9 L1426.5,433.2 L1427.3,445.3 L1428.1,460.2 L1428.9,476.7 L1429.7,496.5 L1430.5,514.7 L1431.3,528.8 L1432.1,536.8 L1432.9,545.6 L1433.7,557.8 L1434.5,571.6 L1435.3,581.8 L1436.1,589.2 L1436.9,595.6 L1437.7,610.4 L1438.5,620.3 L1439.3,628.0 L1440.1,635.0 L1440.9,641.9 L1441.7,646.4 L1442.5,650.1 L1443.3,652.9 L1444.1,655.5 L1444.9,657.9 L1445.7,658.4 L1446.5,658.8 L1447.3,658.7 L1448.1,658.4 L1448.9,656.8 L1449.7,655.1 L1450.5,653.9 L1451.3,648.4 L1452.1,641.2 L1452.9,635.0 L1453.7,628.3 L1454.5,617.5 L1455.3,611.0 L1456.1,605.9 L1456.9,601.8 L1457.7,599.9 L1458.5,599.5 L1459.3,600.1 L1460.1,600.7 L1460.9,605.0 L1461.7,609.5 L1462.5,615.1 L1463.3,622.5 L1464.1,628.9 L1464.9,635.9 L1465.7,645.1 L1466.5,654.2 L1467.3,659.9 L1468.1,666.6 L1468.9,673.9 L1469.7,678.3 L1470.5,680.7 L1471.3,683.5 L1472.1,686.8 L1472.9,687.9 L1473.7,688.5 L1474.5,688.8 L1475.3,689.2 L1476.1,690.0 L1476.9,691.1 L1477.7,692.1 L1478.5,692.5 L1479.3,692.7 L1480.1,692.3 L1480.9,692.4 L1481.7,692.8 L1482.5,693.5 L1483.3,694.0 L1484.1,694.4 L1484.9,694.9 L1485.7,695.9 L1486.5,695.9 L1487.3,695.4 L1488.1,695.4 L1488.9,695.9 L1489.7,695.9 L1490.5,694.6 L1491.3,693.7 L1492.1,691.8 L1492.9,689.5 L1493.7,688.6 L1494.5,688.3 L1495.3,689.3 L1496.1,689.3 L1496.9,687.9 L1497.7,687.3 L1498.5,687.3 L1499.3,689.2 L1500.1,690.8 L1500.9,692.5 L1501.7,693.3 L1502.5,693.8 L1503.3,693.5 L1504.1,692.8 L1504.9,691.7 L1505.7,690.5 L1506.5,687.9 L1507.3,685.0 L1508.1,683.5 L1508.9,683.0 L1509.7,682.5 L1510.5,681.8 L1511.3,676.8 L1512.1,672.2 L1512.9,667.1 L1513.7,658.3 L1514.5,649.4 L1515.3,642.3 L1516.1,633.0 L1516.9,621.9 L1517.7,617.4 L1518.5,616.7 L1519.3,616.7 L1520.1,616.2 L1520.9,617.2 L1521.7,619.0 L1522.5,621.3 L1523.3,625.0 L1524.1,631.8 L1524.9,637.8 L1525.7,641.7 L1526.5,646.2 L1527.3,651.9 L1528.1,654.5 L1528.9,655.8 L1529.7,657.8 L1530.5,660.1 L1531.3,661.2 L1532.1,662.1 L1532.9,660.7 L1533.7,659.4 L1534.5,657.7 L1535.3,655.3 L1536.1,652.3 L1536.9,652.0 L1537.7,651.9 L1538.5,651.2 L1539.3,650.6 L1540.1,651.5 L1540.9,653.7 L1541.7,656.3 L1542.5,654.1 L1543.3,653.8 L1544.1,654.0 L1544.9,656.6 L1545.7,652.8 L1546.5,648.6 L1547.3,644.4 L1548.1,640.1 L1548.9,633.8 L1549.7,629.8 L1550.5,628.6 L1551.3,627.9 L1552.1,618.9 L1552.9,604.7 L1553.7,599.3 L1554.5,595.8 L1555.3,590.3 L1556.1,577.9 L1556.9,562.7 L1557.7,547.4 L1558.5,532.1 L1559.3,528.2 L1560.1,530.6 L1560.9,534.7 L1561.7,541.1 L1562.5,546.8 L1563.3,553.9 L1564.1,556.5 L1564.9,557.7 L1565.7,560.7 L1566.5,569.5 L1567.3,578.2 L1568.1,585.2 L1568.9,592.1 L1569.7,599.1 L1570.5,604.5 L1571.3,609.4 L1572.1,614.5 L1572.9,610.5 L1573.7,608.2 L1574.5,618.4 L1575.3,629.5 L1576.1,650.2 L1576.9,652.7 L1577.7,646.5 L1578.5,636.6 L1579.3,631.7 L1580.1,631.6 L1580.9,637.4 L1581.7,640.6 L1582.5,641.9 L1583.3,642.8 L1584.1,646.9 L1584.9,652.9 L1585.7,657.7 L1586.5,661.5 L1587.3,658.0 L1588.1,646.0 L1588.9,635.2 L1589.7,636.4 L1590.5,645.5 L1591.3,648.1 L1592.1,642.2 L1592.9,631.5 L1593.7,623.2 L1594.5,625.1 L1595.3,627.4 L1596.1,630.2 L1596.9,633.8 L1597.7,646.7 L1598.5,656.3 L1599.3,649.0" fill="none" stroke="#000" stroke-width="1.7" stroke-linejoin="round"/>
</g>
<g id="panel-b">
<path d="M160.0,1470.6 L161.0,1469.4 L162.0,1468.0 L163.0,1466.3 L164.0,1464.2 L165.0,1461.7 L166.0,1458.8 L167.0,1455.4 L168.0,1451.5 L169.0,1447.0 L170.0,1441.8 L171.0,1435.9 L172.0,1429.2 L173.0,1421.8 L174.0,1413.5 L175.0,1404.5 L176.0,1394.6 L177.0,1384.0 L178.0,1372.6 L179.0,1360.4 L180.0,1347.7 L181.0,1334.5 L182.0,1320.9 L183.0,1307.1 L184.0,1293.2 L185.0,1279.4 L186.0,1266.0 L187.0,1253.0 L188.0,1240.8 L189.0,1229.5 L190.0,1219.3 L191.0,1210.4 L192.0,1202.9 L193.0,1197.0 L194.0,1192.9 L195.0,1190.5 L196.0,1189.9 L197.0,1191.3 L198.0,1194.7 L199.0,1200.0 L200.0,1207.0 L201.0,1215.7 L202.0,1225.9 L203.0,1237.4 L204.0,1249.9 L205.0,1263.2 L206.0,1277.2 L207.0,1291.5 L208.0,1306.0 L209.0,1320.4 L210.0,1334.6 L211.0,1348.3 L212.0,1361.5 L213.0,1374.1 L214.0,1385.8 L215.0,1396.8 L216.0,1406.9 L217.0,1416.1 L218.0,1424.4 L219.0,1431.8 L220.0,1438.4 L221.0,1444.2 L222.0,1449.3 L223.0,1453.7 L224.0,1457.4 L225.0,1460.7 L226.0,1463.4 L227.0,1465.6 L228.0,1467.5 L229.0,1469.1 L230.0,1470.4 L231.0,1471.4 L232.0,1472.3 L233.0,1473.0 L234.0,1473.5 L235.0,1474.0 L236.0,1474.3 L237.0,1474.6 L238.0,1474.8" fill="none" stroke="#348080" stroke-width="1.7" stroke-linejoin="round"/>
<path d="M166.0,1471.6 L167.0,1471.6 L168.0,1471.5 L169.0,1471.4 L170.0,1471.4 L171.0,1471.3 L172.0,1471.2 L173.0,1471.0 L174.0,1470.8 L175.0,1470.6 L176.0,1470.4 L177.0,1470.1 L178.0,1469.7 L179.0,1469.3 L180.0,1468.8 L181.0,1468.2 L182.0,1467.5 L183.0,1466.7 L184.0,1465.7 L185.0,1464.6 L186.0,1463.4 L187.0,1461.9 L188.0,1460.2 L189.0,1458.3 L190.0,1456.2 L191.0,1453.7 L192.0,1451.0 L193.0,1447.9 L194.0,1444.5 L195.0,1440.7 L196.0,1436.6 L197.0,1432.0 L198.0,1427.0 L199.0,1421.6 L200.0,1415.8 L201.0,1409.5 L202.0,1402.7 L203.0,1395.5 L204.0,1387.9 L205.0,1379.9 L206.0,1371.6 L207.0,1362.9 L208.0,1353.8 L209.0,1344.6 L210.0,1335.1 L211.0,1325.5 L212.0,1315.9 L213.0,1306.2 L214.0,1296.6 L215.0,1287.2 L216.0,1278.0 L217.0,1269.2 L218.0,1260.8 L219.0,1252.9 L220.0,1245.5 L221.0,1238.8 L222.0,1232.9 L223.0,1227.7 L224.0,1223.4 L225.0,1220.0 L226.0,1217.6 L227.0,1216.1 L228.0,1215.6 L229.0,1216.1 L230.0,1217.4 L231.0,1219.7 L232.0,1222.8 L233.0,1226.8 L234.0,1231.5 L235.0,1237.0 L236.0,1243.2 L237.0,1249.9 L238.0,1257.2 L239.0,1265.0 L240.0,1273.2 L241.0,1281.7 L242.0,1290.5 L243.0,1299.4 L244.0,1308.5 L245.0,1317.5 L246.0,1326.6 L247.0,1335.6 L248.0,1344.5 L249.0,1353.1 L250.0,1361.6 L251.0,1369.8 L252.0,1377.6 L253.0,1385.2 L254.0,1392.4 L255.0,1399.2 L256.0,1405.6 L257.0,1411.7 L258.0,1417.4 L259.0,1422.6 L260.0,1427.5 L261.0,1432.0 L262.0,1436.2 L263.0,1440.0 L264.0,1443.4 L265.0,1446.6 L266.0,1449.4 L267.0,1452.0 L268.0,1454.3 L269.0,1456.4 L270.0,1458.2 L271.0,1459.8 L272.0,1461.3 L273.0,1462.5 L274.0,1463.6 L275.0,1464.6 L276.0,1465.5 L277.0,1466.2 L278.0,1466.9 L279.0,1467.4 L280.0,1467.9 L281.0,1468.3 L282.0,1468.7 L283.0,1469.0 L284.0,1469.3 L285.0,1469.5 L286.0,1469.7 L287.0,1469.9 L288.0,1470.1 L289.0,1470.2 L290.0,1470.3 L291.0,1470.4 L292.0,1470.5 L293.0,1470.6 L294.0,1470.6 L295.0,1470.7 L296.0,1470.8 L297.0,1470.8 L298.0,1470.9 L299.0,1470.9 L300.0,1470.9 L301.0,1471.0 L302.0,1471.0 L303.0,1471.1 L304.0,1471.1 L305.0,1471.1 L306.0,1471.2 L307.0,1471.2 L308.0,1471.2 L309.0,1471.2 L310.0,1471.3 L311.0,1471.3 L312.0,1471.3 L313.0,1471.3 L314.0,1471.4 L315.0,1471.4 L316.0,1471.4 L317.0,1471.4 L318.0,1471.4 L319.0,1471.5 L320.0,1471.5 L321.0,1471.5 L322.0,1471.5 L323.0,1471.5 L324.0,1471.5 L325.0,1471.5 L326.0,1471.6 L327.0,1471.6 L328.0,1471.6 L329.0,1471.6 L330.0,1471.6" fill="none" stroke="#348080" stroke-width="1.7" stroke-linejoin="round"/>
<path d="M166.0,1471.6 L167.0,1471.6 L168.0,1471.5 L169.0,1471.5 L170.0,1471.4 L171.0,1471.4 L172.0,1471.3 L173.0,1471.2 L174.0,1471.2 L175.0,1471.1 L176.0,1471.0 L177.0,1471.0 L178.0,1470.9 L179.0,1470.8 L180.0,1470.7 L181.0,1470.6 L182.0,1470.5 L183.0,1470.4 L184.0,1470.3 L185.0,1470.2 L186.0,1470.1 L187.0,1470.0 L188.0,1469.8 L189.0,1469.7 L190.0,1469.5 L191.0,1469.4 L192.0,1469.2 L193.0,1469.0 L194.0,1468.8 L195.0,1468.6 L196.0,1468.3 L197.0,1468.0 L198.0,1467.8 L199.0,1467.4 L200.0,1467.1 L201.0,1466.7 L202.0,1466.3 L203.0,1465.9 L204.0,1465.4 L205.0,1464.8 L206.0,1464.2 L207.0,1463.5 L208.0,1462.8 L209.0,1462.0 L210.0,1461.1 L211.0,1460.1 L212.0,1459.1 L213.0,1457.9 L214.0,1456.6 L215.0,1455.2 L216.0,1453.7 L217.0,1452.0 L218.0,1450.2 L219.0,1448.2 L220.0,1446.1 L221.0,1443.8 L222.0,1441.3 L223.0,1438.6 L224.0,1435.8 L225.0,1432.7 L226.0,1429.5 L227.0,1426.0 L228.0,1422.3 L229.0,1418.4 L230.0,1414.3 L231.0,1410.0 L232.0,1405.5 L233.0,1400.8 L234.0,1395.9 L235.0,1390.8 L236.0,1385.6 L237.0,1380.2 L238.0,1374.6 L239.0,1369.0 L240.0,1363.2 L241.0,1357.3 L242.0,1351.4 L243.0,1345.4 L244.0,1339.5 L245.0,1333.6 L246.0,1327.7 L247.0,1321.9 L248.0,1316.3 L249.0,1310.8 L250.0,1305.5 L251.0,1300.5 L252.0,1295.7 L253.0,1291.3 L254.0,1287.2 L255.0,1283.5 L256.0,1280.2 L257.0,1277.4 L258.0,1275.0 L259.0,1273.2 L260.0,1271.9 L261.0,1271.1 L262.0,1270.9 L263.0,1271.2 L264.0,1272.1 L265.0,1273.6 L266.0,1275.5 L267.0,1278.0 L268.0,1280.9 L269.0,1284.3 L270.0,1288.0 L271.0,1292.0 L272.0,1296.4 L273.0,1301.0 L274.0,1305.8 L275.0,1310.8 L276.0,1315.8 L277.0,1321.0 L278.0,1326.3 L279.0,1331.5 L280.0,1336.8 L281.0,1342.0 L282.0,1347.2 L283.0,1352.3 L284.0,1357.3 L285.0,1362.2 L286.0,1367.0 L287.0,1371.7 L288.0,1376.3 L289.0,1380.7 L290.0,1385.0 L291.0,1389.1 L292.0,1393.0 L293.0,1396.9 L294.0,1400.5 L295.0,1404.0 L296.0,1407.4 L297.0,1410.6 L298.0,1413.6 L299.0,1416.5 L300.0,1419.3 L301.0,1421.9 L302.0,1424.4 L303.0,1426.7 L304.0,1429.0 L305.0,1431.1 L306.0,1433.0 L307.0,1434.9 L308.0,1436.6 L309.0,1438.3 L310.0,1439.8 L311.0,1441.3 L312.0,1442.6 L313.0,1443.9 L314.0,1445.2 L315.0,1446.3 L316.0,1447.4 L317.0,1448.4 L318.0,1449.4 L319.0,1450.3 L320.0,1451.2 L321.0,1452.0 L322.0,1452.8 L323.0,1453.5 L324.0,1454.2 L325.0,1454.9 L326.0,1455.5 L327.0,1456.2 L328.0,1456.7 L329.0,1457.3 L330.0,1457.9 L331.0,1458.4 L332.0,1458.9 L333.0,1459.4 L334.0,1459.8 L335.0,1460.3 L336.0,1460.7 L337.0,1461.1 L338.0,1461.6 L339.0,1462.0 L340.0,1462.3 L341.0,1462.7 L342.0,1463.1 L343.0,1463.5 L344.0,1463.8 L345.0,1464.2 L346.0,1464.5 L347.0,1464.8 L348.0,1465.1 L349.0,1465.4 L350.0,1465.7 L351.0,1466.0 L352.0,1466.3 L353.0,1466.6 L354.0,1466.9 L355.0,1467.2 L356.0,1467.4 L357.0,1467.7 L358.0,1467.9 L359.0,1468.2 L360.0,1468.4 L361.0,1468.6 L362.0,1468.8 L363.0,1469.1 L364.0,1469.3 L365.0,1469.5 L366.0,1469.7 L367.0,1469.8 L368.0,1470.0 L369.0,1470.2 L370.0,1470.4 L371.0,1470.5 L372.0,1470.7 L373.0,1470.8 L374.0,1471.0 L375.0,1471.1 L376.0,1471.2 L377.0,1471.3 L378.0,1471.4 L379.0,1471.5 L380.0,1471.6" fill="none" stroke="#348080" stroke-width="1.7" stroke-linejoin="round"/>
<path d="M166.0,1471.6 L167.0,1471.6 L168.0,1471.5 L169.0,1471.5 L170.0,1471.4 L171.0,1471.4 L172.0,1471.3 L173.0,1471.3 L174.0,1471.2 L175.0,1471.1 L176.0,1471.0 L177.0,1471.0 L178.0,1470.9 L179.0,1470.8 L180.0,1470.7 L181.0,1470.6 L182.0,1470.5 L183.0,1470.3 L184.0,1470.2 L185.0,1470.1 L186.0,1469.9 L187.0,1469.8 L188.0,1469.6 L189.0,1469.4 L190.0,1469.2 L191.0,1469.0 L192.0,1468.8 L193.0,1468.6 L194.0,1468.3 L195.0,1468.1 L196.0,1467.8 L197.0,1467.5 L198.0,1467.2 L199.0,1466.9 L200.0,1466.6 L201.0,1466.2 L202.0,1465.9 L203.0,1465.5 L204.0,1465.1 L205.0,1464.6 L206.0,1464.2 L207.0,1463.7 L208.0,1463.2 L209.0,1462.7 L210.0,1462.1 L211.0,1461.5 L212.0,1460.9 L213.0,1460.3 L214.0,1459.6 L215.0,1459.0 L216.0,1458.2 L217.0,1457.5 L218.0,1456.7 L219.0,1455.9 L220.0,1455.1 L221.0,1454.2 L222.0,1453.3 L223.0,1452.3 L224.0,1451.4 L225.0,1450.4 L226.0,1449.3 L227.0,1448.2 L228.0,1447.1 L229.0,1445.9 L230.0,1444.7 L231.0,1443.5 L232.0,1442.2 L233.0,1440.9 L234.0,1439.6 L235.0,1438.2 L236.0,1436.8 L237.0,1435.3 L238.0,1433.8 L239.0,1432.3 L240.0,1430.8 L241.0,1429.2 L242.0,1427.5 L243.0,1425.8 L244.0,1424.1 L245.0,1422.4 L246.0,1420.6 L247.0,1418.8 L248.0,1417.0 L249.0,1415.2 L250.0,1413.3 L251.0,1411.4 L252.0,1409.5 L253.0,1407.5 L254.0,1405.5 L255.0,1403.6 L256.0,1401.5 L257.0,1399.5 L258.0,1397.5 L259.0,1395.5 L260.0,1393.4 L261.0,1391.4 L262.0,1389.3 L263.0,1387.3 L264.0,1385.2 L265.0,1383.2 L266.0,1381.2 L267.0,1379.2 L268.0,1377.2 L269.0,1375.2 L270.0,1373.2 L271.0,1371.3 L272.0,1369.4 L273.0,1367.5 L274.0,1365.6 L275.0,1363.8 L276.0,1362.0 L277.0,1360.3 L278.0,1358.6 L279.0,1356.9 L280.0,1355.3 L281.0,1353.8 L282.0,1352.3 L283.0,1350.9 L284.0,1349.5 L285.0,1348.2 L286.0,1346.9 L287.0,1345.7 L288.0,1344.6 L289.0,1343.6 L290.0,1342.6 L291.0,1341.7 L292.0,1340.9 L293.0,1340.1 L294.0,1339.5 L295.0,1338.9 L296.0,1338.4 L297.0,1338.0 L298.0,1337.6 L299.0,1337.4 L300.0,1337.2 L301.0,1337.1 L302.0,1337.1 L303.0,1337.2 L304.0,1337.5 L305.0,1337.9 L306.0,1338.4 L307.0,1339.1 L308.0,1339.8 L309.0,1340.7 L310.0,1341.7 L311.0,1342.9 L312.0,1344.1 L313.0,1345.4 L314.0,1346.8 L315.0,1348.4 L316.0,1350.0 L317.0,1351.7 L318.0,1353.5 L319.0,1355.3 L320.0,1357.2 L321.0,1359.2 L322.0,1361.3 L323.0,1363.3 L324.0,1365.5 L325.0,1367.6 L326.0,1369.9 L327.0,1372.1 L328.0,1374.4 L329.0,1376.6 L330.0,1378.9 L331.0,1381.3 L332.0,1383.6 L333.0,1385.9 L334.0,1388.2 L335.0,1390.5 L336.0,1392.8 L337.0,1395.1 L338.0,1397.4 L339.0,1399.7 L340.0,1401.9 L341.0,1404.1 L342.0,1406.3 L343.0,1408.5 L344.0,1410.6 L345.0,1412.7 L346.0,1414.7 L347.0,1416.7 L348.0,1418.7 L349.0,1420.7 L350.0,1422.5 L351.0,1424.4 L352.0,1426.2 L353.0,1428.0 L354.0,1429.7 L355.0,1431.3 L356.0,1432.9 L357.0,1434.5 L358.0,1436.0 L359.0,1437.5 L360.0,1438.9 L361.0,1440.3 L362.0,1441.6 L363.0,1442.9 L364.0,1444.2 L365.0,1445.4 L366.0,1446.5 L367.0,1447.6 L368.0,1448.7 L369.0,1449.7 L370.0,1450.7 L371.0,1451.6 L372.0,1452.5 L373.0,1453.4 L374.0,1454.2 L375.0,1454.9 L376.0,1455.7 L377.0,1456.4 L378.0,1457.1 L379.0,1457.7 L380.0,1458.3 L381.0,1458.9 L382.0,1459.5 L383.0,1460.0 L384.0,1460.5 L385.0,1461.0 L386.0,1461.4 L387.0,1461.9 L388.0,1462.3 L389.0,1462.6 L390.0,1463.0 L391.0,1463.4 L392.0,1463.7 L393.0,1464.0 L394.0,1464.3 L395.0,1464.5 L396.0,1464.8 L397.0,1465.0 L398.0,1465.3 L399.0,1465.5 L400.0,1465.7 L401.0,1465.9 L402.0,1466.1 L403.0,1466.3 L404.0,1466.4 L405.0,1466.6 L406.0,1466.7 L407.0,1466.9 L408.0,1467.0 L409.0,1467.1 L410.0,1467.2 L411.0,1467.4 L412.0,1467.5 L413.0,1467.6 L414.0,1467.7 L415.0,1467.8 L416.0,1467.8 L417.0,1467.9 L418.0,1468.0 L419.0,1468.1 L420.0,1468.2 L421.0,1468.2 L422.0,1468.3 L423.0,1468.4 L424.0,1468.4 L425.0,1468.5 L426.0,1468.5 L427.0,1468.6 L428.0,1468.6 L429.0,1468.7 L430.0,1468.7 L431.0,1468.8 L432.0,1468.8 L433.0,1468.9 L434.0,1468.9 L435.0,1469.0 L436.0,1469.0 L437.0,1469.0 L438.0,1469.1 L439.0,1469.1 L440.0,1469.1 L441.0,1469.2 L442.0,1469.2 L443.0,1469.2 L444.0,1469.3 L445.0,1469.3 L446.0,1469.3 L447.0,1469.4 L448.0,1469.4 L449.0,1469.4 L450.0,1469.5 L451.0,1469.5 L452.0,1469.5 L453.0,1469.5 L454.0,1469.6 L455.0,1469.6 L456.0,1469.6 L457.0,1469.6 L458.0,1469.7 L459.0,1469.7 L460.0,1469.7 L461.0,1469.7 L462.0,1469.7 L463.0,1469.8 L464.0,1469.8 L465.0,1469.8 L466.0,1469.8 L467.0,1469.9 L468.0,1469.9 L469.0,1469.9 L470.0,1469.9 L471.0,1469.9 L472.0,1469.9 L473.0,1470.0 L474.0,1470.0 L475.0,1470.0 L476.0,1470.0 L477.0,1470.0 L478.0,1470.1 L479.0,1470.1 L480.0,1470.1 L481.0,1470.1 L482.0,1470.1 L483.0,1470.1 L484.0,1470.1 L485.0,1470.2 L486.0,1470.2 L487.0,1470.2 L488.0,1470.2 L489.0,1470.2 L490.0,1470.2 L491.0,1470.2 L492.0,1470.3 L493.0,1470.3 L494.0,1470.3 L495.0,1470.3 L496.0,1470.3 L497.0,1470.3 L498.0,1470.3 L499.0,1470.4 L500.0,1470.4 L501.0,1470.4 L502.0,1470.4 L503.0,1470.4 L504.0,1470.4 L505.0,1470.4 L506.0,1470.4 L507.0,1470.4 L508.0,1470.5 L509.0,1470.5 L510.0,1470.5 L511.0,1470.5 L512.0,1470.5 L513.0,1470.5 L514.0,1470.5 L515.0,1470.5 L516.0,1470.5 L517.0,1470.5 L518.0,1470.6 L519.0,1470.6 L520.0,1470.6 L521.0,1470.6 L522.0,1470.6 L523.0,1470.6 L524.0,1470.6 L525.0,1470.6 L526.0,1470.6 L527.0,1470.6 L528.0,1470.6 L529.0,1470.7 L530.0,1470.7 L531.0,1470.7 L532.0,1470.7 L533.0,1470.7 L534.0,1470.7 L535.0,1470.7 L536.0,1470.8 L537.0,1470.8 L538.0,1470.8 L539.0,1470.8 L540.0,1470.8 L541.0,1470.8 L542.0,1470.8 L543.0,1470.9 L544.0,1470.9 L545.0,1470.9 L546.0,1470.9 L547.0,1470.9 L548.0,1470.9 L549.0,1471.0 L550.0,1471.0 L551.0,1471.0 L552.0,1471.0 L553.0,1471.0 L554.0,1471.1 L555.0,1471.1 L556.0,1471.1 L557.0,1471.1 L558.0,1471.1 L559.0,1471.1 L560.0,1471.2 L561.0,1471.2 L562.0,1471.2 L563.0,1471.2 L564.0,1471.2 L565.0,1471.3 L566.0,1471.3 L567.0,1471.3 L568.0,1471.3 L569.0,1471.3 L570.0,1471.3 L571.0,1471.4 L572.0,1471.4 L573.0,1471.4 L574.0,1471.4 L575.0,1471.4 L576.0,1471.4 L577.0,1471.4 L578.0,1471.5 L579.0,1471.5 L580.0,1471.5 L581.0,1471.5 L582.0,1471.5 L583.0,1471.5 L584.0,1471.5 L585.0,1471.5 L586.0,1471.5 L587.0,1471.6 L588.0,1471.6 L589.0,1471.6 L590.0,1471.6 L591.0,1471.6 L592.0,1471.6 L593.0,1471.6 L594.0,1471.6" fill="none" stroke="#348080" stroke-width="1.7" stroke-linejoin="round"/>
<path d="M166.0,1471.6 L167.0,1471.6 L168.0,1471.5 L169.0,1471.5 L170.0,1471.4 L171.0,1471.4 L172.0,1471.3 L173.0,1471.2 L174.0,1471.2 L175.0,1471.1 L176.0,1471.0 L177.0,1470.9 L178.0,1470.8 L179.0,1470.7 L180.0,1470.6 L181.0,1470.5 L182.0,1470.4 L183.0,1470.3 L184.0,1470.2 L185.0,1470.1 L186.0,1470.0 L187.0,1469.9 L188.0,1469.7 L189.0,1469.6 L190.0,1469.5 L191.0,1469.3 L192.0,1469.2 L193.0,1469.1 L194.0,1468.9 L195.0,1468.7 L196.0,1468.6 L197.0,1468.4 L198.0,1468.3 L199.0,1468.1 L200.0,1467.9 L201.0,1467.8 L202.0,1467.6 L203.0,1467.4 L204.0,1467.2 L205.0,1467.0 L206.0,1466.8 L207.0,1466.6 L208.0,1466.4 L209.0,1466.2 L210.0,1466.0 L211.0,1465.8 L212.0,1465.6 L213.0,1465.4 L214.0,1465.2 L215.0,1464.9 L216.0,1464.7 L217.0,1464.5 L218.0,1464.2 L219.0,1464.0 L220.0,1463.7 L221.0,1463.5 L222.0,1463.2 L223.0,1462.9 L224.0,1462.7 L225.0,1462.4 L226.0,1462.1 L227.0,1461.8 L228.0,1461.6 L229.0,1461.3 L230.0,1461.0 L231.0,1460.7 L232.0,1460.4 L233.0,1460.0 L234.0,1459.7 L235.0,1459.4 L236.0,1459.1 L237.0,1458.7 L238.0,1458.4 L239.0,1458.0 L240.0,1457.7 L241.0,1457.3 L242.0,1456.9 L243.0,1456.5 L244.0,1456.1 L245.0,1455.6 L246.0,1455.2 L247.0,1454.8 L248.0,1454.3 L249.0,1453.8 L250.0,1453.4 L251.0,1452.9 L252.0,1452.4 L253.0,1451.8 L254.0,1451.3 L255.0,1450.8 L256.0,1450.2 L257.0,1449.6 L258.0,1449.0 L259.0,1448.4 L260.0,1447.8 L261.0,1447.2 L262.0,1446.5 L263.0,1445.9 L264.0,1445.2 L265.0,1444.5 L266.0,1443.8 L267.0,1443.1 L268.0,1442.3 L269.0,1441.6 L270.0,1440.8 L271.0,1440.0 L272.0,1439.2 L273.0,1438.4 L274.0,1437.5 L275.0,1436.7 L276.0,1435.8 L277.0,1434.9 L278.0,1434.0 L279.0,1433.1 L280.0,1432.1 L281.0,1431.2 L282.0,1430.2 L283.0,1429.2 L284.0,1428.2 L285.0,1427.1 L286.0,1426.1 L287.0,1425.0 L288.0,1423.9 L289.0,1422.8 L290.0,1421.7 L291.0,1420.5 L292.0,1419.4 L293.0,1418.2 L294.0,1417.0 L295.0,1415.7 L296.0,1414.5 L297.0,1413.2 L298.0,1412.0 L299.0,1410.7 L300.0,1409.3 L301.0,1408.0 L302.0,1406.7 L303.0,1405.3 L304.0,1403.9 L305.0,1402.5 L306.0,1401.1 L307.0,1399.6 L308.0,1398.2 L309.0,1396.7 L310.0,1395.2 L311.0,1393.7 L312.0,1392.2 L313.0,1390.7 L314.0,1389.1 L315.0,1387.5 L316.0,1386.0 L317.0,1384.4 L318.0,1382.7 L319.0,1381.1 L320.0,1379.5 L321.0,1377.8 L322.0,1376.2 L323.0,1374.5 L324.0,1372.8 L325.0,1371.1 L326.0,1369.4 L327.0,1367.7 L328.0,1366.0 L329.0,1364.2 L330.0,1362.5 L331.0,1360.7 L332.0,1359.0 L333.0,1357.2 L334.0,1355.4 L335.0,1353.7 L336.0,1351.9 L337.0,1350.1 L338.0,1348.3 L339.0,1346.5 L340.0,1344.7 L341.0,1342.9 L342.0,1341.1 L343.0,1339.3 L344.0,1337.5 L345.0,1335.7 L346.0,1333.9 L347.0,1332.1 L348.0,1330.4 L349.0,1328.6 L350.0,1326.8 L351.0,1325.0 L352.0,1323.3 L353.0,1321.5 L354.0,1319.8 L355.0,1318.1 L356.0,1316.3 L357.0,1314.6 L358.0,1312.9 L359.0,1311.2 L360.0,1309.6 L361.0,1307.9 L362.0,1306.3 L363.0,1304.7 L364.0,1303.1 L365.0,1301.5 L366.0,1299.9 L367.0,1298.4 L368.0,1296.8 L369.0,1295.3 L370.0,1293.9 L371.0,1292.4 L372.0,1291.0 L373.0,1289.6 L374.0,1288.2 L375.0,1286.9 L376.0,1285.5 L377.0,1284.3 L378.0,1283.0 L379.0,1281.8 L380.0,1280.6 L381.0,1279.4 L382.0,1278.3 L383.0,1277.2 L384.0,1276.2 L385.0,1275.1 L386.0,1274.2 L387.0,1273.2 L388.0,1272.3 L389.0,1271.4 L390.0,1270.6 L391.0,1269.8 L392.0,1269.1 L393.0,1268.4 L394.0,1267.7 L395.0,1267.1 L396.0,1266.5 L397.0,1266.0 L398.0,1265.5 L399.0,1265.1 L400.0,1264.7 L401.0,1264.3 L402.0,1264.0 L403.0,1263.7 L404.0,1263.5 L405.0,1263.3 L406.0,1263.2 L407.0,1263.1 L408.0,1263.1 L409.0,1263.1 L410.0,1263.2 L411.0,1263.3 L412.0,1263.4 L413.0,1263.6 L414.0,1263.8 L415.0,1264.1 L416.0,1264.4 L417.0,1264.7 L418.0,1265.1 L419.0,1265.5 L420.0,1266.0 L421.0,1266.5 L422.0,1267.0 L423.0,1267.6 L424.0,1268.2 L425.0,1268.9 L426.0,1269.6 L427.0,1270.3 L428.0,1271.1 L429.0,1271.9 L430.0,1272.7 L431.0,1273.6 L432.0,1274.5 L433.0,1275.5 L434.0,1276.5 L435.0,1277.5 L436.0,1278.5 L437.0,1279.6 L438.0,1280.7 L439.0,1281.8 L440.0,1283.0 L441.0,1284.2 L442.0,1285.4 L443.0,1286.7 L444.0,1288.0 L445.0,1289.3 L446.0,1290.6 L447.0,1291.9 L448.0,1293.3 L449.0,1294.7 L450.0,1296.1 L451.0,1297.6 L452.0,1299.0 L453.0,1300.5 L454.0,1302.0 L455.0,1303.5 L456.0,1305.0 L457.0,1306.6 L458.0,1308.2 L459.0,1309.7 L460.0,1311.3 L461.0,1312.9 L462.0,1314.6 L463.0,1316.2 L464.0,1317.8 L465.0,1319.5 L466.0,1321.1 L467.0,1322.8 L468.0,1324.5 L469.0,1326.2 L470.0,1327.9 L471.0,1329.6 L472.0,1331.3 L473.0,1333.0 L474.0,1334.7 L475.0,1336.4 L476.0,1338.1 L477.0,1339.8 L478.0,1341.6 L479.0,1343.3 L480.0,1345.0 L481.0,1346.7 L482.0,1348.4 L483.0,1350.1 L484.0,1351.8 L485.0,1353.6 L486.0,1355.3 L487.0,1357.0 L488.0,1358.6 L489.0,1360.3 L490.0,1362.0 L491.0,1363.7 L492.0,1365.4 L493.0,1367.0 L494.0,1368.7 L495.0,1370.3 L496.0,1371.9 L497.0,1373.6 L498.0,1375.2 L499.0,1376.8 L500.0,1378.4 L501.0,1379.9 L502.0,1381.5 L503.0,1383.1 L504.0,1384.6 L505.0,1386.1 L506.0,1387.7 L507.0,1389.2 L508.0,1390.7 L509.0,1392.1 L510.0,1393.6 L511.0,1395.0 L512.0,1396.5 L513.0,1397.9 L514.0,1399.3 L515.0,1400.7 L516.0,1402.1 L517.0,1403.4 L518.0,1404.8 L519.0,1406.1 L520.0,1407.4 L521.0,1408.7 L522.0,1410.0 L523.0,1411.2 L524.0,1412.5 L525.0,1413.7 L526.0,1414.9 L527.0,1416.1 L528.0,1417.3 L529.0,1418.4 L530.0,1419.6 L531.0,1420.7 L532.0,1421.8 L533.0,1422.9 L534.0,1423.9 L535.0,1425.0 L536.0,1426.0 L537.0,1427.1 L538.0,1428.1 L539.0,1429.1 L540.0,1430.0 L541.0,1431.0 L542.0,1431.9 L543.0,1432.8 L544.0,1433.7 L545.0,1434.6 L546.0,1435.5 L547.0,1436.4 L548.0,1437.2 L549.0,1438.0 L550.0,1438.8 L551.0,1439.6 L552.0,1440.4 L553.0,1441.1 L554.0,1441.9 L555.0,1442.6 L556.0,1443.3 L557.0,1444.0 L558.0,1444.7 L559.0,1445.4 L560.0,1446.0 L561.0,1446.7 L562.0,1447.3 L563.0,1447.9 L564.0,1448.5 L565.0,1449.1 L566.0,1449.7 L567.0,1450.3 L568.0,1450.8 L569.0,1451.3 L570.0,1451.9 L571.0,1452.4 L572.0,1452.9 L573.0,1453.4 L574.0,1453.8 L575.0,1454.3 L576.0,1454.7 L577.0,1455.2 L578.0,1455.6 L579.0,1456.0 L580.0,1456.4 L581.0,1456.8 L582.0,1457.2 L583.0,1457.6 L584.0,1458.0 L585.0,1458.3 L586.0,1458.7 L587.0,1459.0 L588.0,1459.3 L589.0,1459.7 L590.0,1460.0 L591.0,1460.3 L592.0,1460.6 L593.0,1460.9 L594.0,1461.2 L595.0,1461.4 L596.0,1461.7 L597.0,1461.9 L598.0,1462.2 L599.0,1462.4 L600.0,1462.7 L601.0,1462.9 L602.0,1463.1 L603.0,1463.3 L604.0,1463.6 L605.0,1463.8 L606.0,1464.0 L607.0,1464.1 L608.0,1464.3 L609.0,1464.5 L610.0,1464.7 L611.0,1464.9 L612.0,1465.0 L613.0,1465.2 L614.0,1465.3 L615.0,1465.5 L616.0,1465.6 L617.0,1465.8 L618.0,1465.9 L619.0,1466.0 L620.0,1466.2 L621.0,1466.3 L622.0,1466.4 L623.0,1466.5 L624.0,1466.6 L625.0,1466.8 L626.0,1466.9 L627.0,1467.0 L628.0,1467.1 L629.0,1467.2 L630.0,1467.3 L631.0,1467.3 L632.0,1467.4 L633.0,1467.5 L634.0,1467.6 L635.0,1467.7 L636.0,1467.8 L637.0,1467.8 L638.0,1467.9 L639.0,1468.0 L640.0,1468.0 L641.0,1468.1 L642.0,1468.2 L643.0,1468.2 L644.0,1468.3 L645.0,1468.4 L646.0,1468.4 L647.0,1468.5 L648.0,1468.5 L649.0,1468.6 L650.0,1468.6 L651.0,1468.7 L652.0,1468.7 L653.0,1468.8 L654.0,1468.8 L655.0,1468.8 L656.0,1468.9 L657.0,1468.9 L658.0,1469.0 L659.0,1469.0 L660.0,1469.0 L661.0,1469.1 L662.0,1469.1 L663.0,1469.1 L664.0,1469.2 L665.0,1469.2 L666.0,1469.2 L667.0,1469.3 L668.0,1469.3 L669.0,1469.3 L670.0,1469.3 L671.0,1469.4 L672.0,1469.4 L673.0,1469.4 L674.0,1469.5 L675.0,1469.5 L676.0,1469.5 L677.0,1469.5 L678.0,1469.5 L679.0,1469.6 L680.0,1469.6 L681.0,1469.6 L682.0,1469.6 L683.0,1469.6 L684.0,1469.7 L685.0,1469.7 L686.0,1469.7 L687.0,1469.7 L688.0,1469.7 L689.0,1469.8 L690.0,1469.8 L691.0,1469.8 L692.0,1469.8 L693.0,1469.8 L694.0,1469.8 L695.0,1469.8 L696.0,1469.9 L697.0,1469.9 L698.0,1469.9 L699.0,1469.9 L700.0,1469.9 L701.0,1469.9 L702.0,1469.9 L703.0,1470.0 L704.0,1470.0 L705.0,1470.0 L706.0,1470.0 L707.0,1470.0 L708.0,1470.0 L709.0,1470.0 L710.0,1470.0 L711.0,1470.0 L712.0,1470.1 L713.0,1470.1 L714.0,1470.1 L715.0,1470.1 L716.0,1470.1 L717.0,1470.1 L718.0,1470.1 L719.0,1470.1 L720.0,1470.1 L721.0,1470.2 L722.0,1470.2 L723.0,1470.2 L724.0,1470.2 L725.0,1470.2 L726.0,1470.2 L727.0,1470.2 L728.0,1470.2 L729.0,1470.2 L730.0,1470.2 L731.0,1470.2 L732.0,1470.2 L733.0,1470.3 L734.0,1470.3 L735.0,1470.3 L736.0,1470.3 L737.0,1470.3 L738.0,1470.3 L739.0,1470.3 L740.0,1470.3 L741.0,1470.3 L742.0,1470.3 L743.0,1470.3 L744.0,1470.3 L745.0,1470.3 L746.0,1470.4 L747.0,1470.4 L748.0,1470.4 L749.0,1470.4 L750.0,1470.4 L751.0,1470.4 L752.0,1470.4 L753.0,1470.4 L754.0,1470.4 L755.0,1470.4 L756.0,1470.4 L757.0,1470.4 L758.0,1470.4 L759.0,1470.4 L760.0,1470.4 L761.0,1470.5 L762.0,1470.5 L763.0,1470.5 L764.0,1470.5 L765.0,1470.5 L766.0,1470.5 L767.0,1470.5 L768.0,1470.5 L769.0,1470.5 L770.0,1470.5 L771.0,1470.5 L772.0,1470.5 L773.0,1470.5 L774.0,1470.5 L775.0,1470.5 L776.0,1470.5 L777.0,1470.5 L778.0,1470.6 L779.0,1470.6 L780.0,1470.6 L781.0,1470.6 L782.0,1470.6 L783.0,1470.6 L784.0,1470.6 L785.0,1470.6 L786.0,1470.6 L787.0,1470.6 L788.0,1470.6 L789.0,1470.6 L790.0,1470.6 L791.0,1470.6 L792.0,1470.6 L793.0,1470.6 L794.0,1470.6 L795.0,1470.6 L796.0,1470.7 L797.0,1470.7 L798.0,1470.7 L799.0,1470.7 L800.0,1470.7 L801.0,1470.7 L802.0,1470.7 L803.0,1470.7 L804.0,1470.8 L805.0,1470.8 L806.0,1470.8 L807.0,1470.8 L808.0,1470.8 L809.0,1470.8 L810.0,1470.8 L811.0,1470.9 L812.0,1470.9 L813.0,1470.9 L814.0,1470.9 L815.0,1470.9 L816.0,1471.0 L817.0,1471.0 L818.0,1471.0 L819.0,1471.0 L820.0,1471.0 L821.0,1471.0 L822.0,1471.1 L823.0,1471.1 L824.0,1471.1 L825.0,1471.1 L826.0,1471.1 L827.0,1471.2 L828.0,1471.2 L829.0,1471.2 L830.0,1471.2 L831.0,1471.2 L832.0,1471.3 L833.0,1471.3 L834.0,1471.3 L835.0,1471.3 L836.0,1471.3 L837.0,1471.3 L838.0,1471.4 L839.0,1471.4 L840.0,1471.4 L841.0,1471.4 L842.0,1471.4 L843.0,1471.4 L844.0,1471.5 L845.0,1471.5 L846.0,1471.5 L847.0,1471.5 L848.0,1471.5 L849.0,1471.5 L850.0,1471.5 L851.0,1471.5 L852.0,1471.5 L853.0,1471.6 L854.0,1471.6 L855.0,1471.6 L856.0,1471.6 L857.0,1471.6 L858.0,1471.6 L859.0,1471.6 L860.0,1471.6" fill="none" stroke="#348080" stroke-width="1.7" stroke-linejoin="round"/>
<path d="M372.0,1471.6 L373.0,1471.4 L374.0,1471.3 L375.0,1471.1 L376.0,1470.9 L377.0,1470.7 L378.0,1470.5 L379.0,1470.2 L380.0,1470.0 L381.0,1469.7 L382.0,1469.5 L383.0,1469.2 L384.0,1469.0 L385.0,1468.7 L386.0,1468.4 L387.0,1468.1 L388.0,1467.8 L389.0,1467.5 L390.0,1467.1 L391.0,1466.8 L392.0,1466.4 L393.0,1466.1 L394.0,1465.7 L395.0,1465.4 L396.0,1465.0 L397.0,1464.6 L398.0,1464.2 L399.0,1463.8 L400.0,1463.4 L401.0,1463.0 L402.0,1462.6 L403.0,1462.2 L404.0,1461.8 L405.0,1461.3 L406.0,1460.9 L407.0,1460.4 L408.0,1460.0 L409.0,1459.5 L410.0,1459.1 L411.0,1458.6 L412.0,1458.1 L413.0,1457.6 L414.0,1457.2 L415.0,1456.7 L416.0,1456.2 L417.0,1455.7 L418.0,1455.2 L419.0,1454.7 L420.0,1454.2 L421.0,1453.6 L422.0,1453.1 L423.0,1452.6 L424.0,1452.1 L425.0,1451.6 L426.0,1451.0 L427.0,1450.5 L428.0,1450.0 L429.0,1449.4 L430.0,1448.9 L431.0,1448.3 L432.0,1447.8 L433.0,1447.3 L434.0,1446.7 L435.0,1446.2 L436.0,1445.6 L437.0,1445.1 L438.0,1444.5 L439.0,1444.0 L440.0,1443.4 L441.0,1442.9 L442.0,1442.4 L443.0,1441.8 L444.0,1441.3 L445.0,1440.7 L446.0,1440.1 L447.0,1439.6 L448.0,1439.0 L449.0,1438.4 L450.0,1437.8 L451.0,1437.2 L452.0,1436.6 L453.0,1436.0 L454.0,1435.4 L455.0,1434.8 L456.0,1434.2 L457.0,1433.6 L458.0,1433.0 L459.0,1432.3 L460.0,1431.7 L461.0,1431.0 L462.0,1430.4 L463.0,1429.8 L464.0,1429.1 L465.0,1428.5 L466.0,1427.8 L467.0,1427.1 L468.0,1426.5 L469.0,1425.8 L470.0,1425.1 L471.0,1424.5 L472.0,1423.8 L473.0,1423.1 L474.0,1422.4 L475.0,1421.7 L476.0,1421.0 L477.0,1420.4 L478.0,1419.7 L479.0,1419.0 L480.0,1418.3 L481.0,1417.6 L482.0,1416.9 L483.0,1416.2 L484.0,1415.5 L485.0,1414.8 L486.0,1414.1 L487.0,1413.4 L488.0,1412.7 L489.0,1412.0 L490.0,1411.3 L491.0,1410.6 L492.0,1409.9 L493.0,1409.2 L494.0,1408.5 L495.0,1407.9 L496.0,1407.2 L497.0,1406.5 L498.0,1405.8 L499.0,1405.1 L500.0,1404.4 L501.0,1403.8 L502.0,1403.1 L503.0,1402.4 L504.0,1401.8 L505.0,1401.1 L506.0,1400.4 L507.0,1399.8 L508.0,1399.2 L509.0,1398.5 L510.0,1397.9 L511.0,1397.2 L512.0,1396.6 L513.0,1396.0 L514.0,1395.4 L515.0,1394.8 L516.0,1394.2 L517.0,1393.6 L518.0,1393.0 L519.0,1392.4 L520.0,1391.9 L521.0,1391.3 L522.0,1390.7 L523.0,1390.2 L524.0,1389.6 L525.0,1389.1 L526.0,1388.6 L527.0,1388.1 L528.0,1387.6 L529.0,1387.1 L530.0,1386.6 L531.0,1386.1 L532.0,1385.7 L533.0,1385.2 L534.0,1384.8 L535.0,1384.3 L536.0,1383.9 L537.0,1383.5 L538.0,1383.1 L539.0,1382.7 L540.0,1382.3 L541.0,1382.0 L542.0,1381.6 L543.0,1381.3 L544.0,1380.9 L545.0,1380.6 L546.0,1380.3 L547.0,1380.0 L548.0,1379.7 L549.0,1379.5 L550.0,1379.2 L551.0,1379.0 L552.0,1378.7 L553.0,1378.5 L554.0,1378.3 L555.0,1378.1 L556.0,1377.9 L557.0,1377.8 L558.0,1377.6 L559.0,1377.5 L560.0,1377.4 L561.0,1377.3 L562.0,1377.2 L563.0,1377.1 L564.0,1377.0 L565.0,1377.0 L566.0,1376.9 L567.0,1376.9 L568.0,1376.9 L569.0,1376.9 L570.0,1376.9 L571.0,1376.9 L572.0,1377.0 L573.0,1377.0 L574.0,1377.1 L575.0,1377.2 L576.0,1377.3 L577.0,1377.4 L578.0,1377.5 L579.0,1377.6 L580.0,1377.8 L581.0,1378.0 L582.0,1378.1 L583.0,1378.3 L584.0,1378.5 L585.0,1378.7 L586.0,1378.9 L587.0,1379.2 L588.0,1379.4 L589.0,1379.7 L590.0,1379.9 L591.0,1380.2 L592.0,1380.5 L593.0,1380.8 L594.0,1381.1 L595.0,1381.5 L596.0,1381.8 L597.0,1382.2 L598.0,1382.5 L599.0,1382.9 L600.0,1383.3 L601.0,1383.7 L602.0,1384.1 L603.0,1384.5 L604.0,1384.9 L605.0,1385.3 L606.0,1385.8 L607.0,1386.2 L608.0,1386.7 L609.0,1387.2 L610.0,1387.7 L611.0,1388.1 L612.0,1388.6 L613.0,1389.1 L614.0,1389.7 L615.0,1390.2 L616.0,1390.7 L617.0,1391.3 L618.0,1391.8 L619.0,1392.4 L620.0,1392.9 L621.0,1393.5 L622.0,1394.1 L623.0,1394.6 L624.0,1395.2 L625.0,1395.8 L626.0,1396.4 L627.0,1397.0 L628.0,1397.6 L629.0,1398.2 L630.0,1398.9 L631.0,1399.5 L632.0,1400.1 L633.0,1400.7 L634.0,1401.4 L635.0,1402.0 L636.0,1402.7 L637.0,1403.3 L638.0,1404.0 L639.0,1404.6 L640.0,1405.3 L641.0,1405.9 L642.0,1406.6 L643.0,1407.3 L644.0,1407.9 L645.0,1408.6 L646.0,1409.3 L647.0,1410.0 L648.0,1410.6 L649.0,1411.3 L650.0,1412.0 L651.0,1412.7 L652.0,1413.3 L653.0,1414.0 L654.0,1414.7 L655.0,1415.4 L656.0,1416.0 L657.0,1416.7 L658.0,1417.4 L659.0,1418.1 L660.0,1418.7 L661.0,1419.4 L662.0,1420.1 L663.0,1420.7 L664.0,1421.4 L665.0,1422.1 L666.0,1422.7 L667.0,1423.4 L668.0,1424.1 L669.0,1424.7 L670.0,1425.4 L671.0,1426.0 L672.0,1426.7 L673.0,1427.3 L674.0,1427.9 L675.0,1428.6 L676.0,1429.2 L677.0,1429.8 L678.0,1430.5 L679.0,1431.1 L680.0,1431.7 L681.0,1432.3 L682.0,1432.9 L683.0,1433.6 L684.0,1434.2 L685.0,1434.8 L686.0,1435.3 L687.0,1435.9 L688.0,1436.5 L689.0,1437.1 L690.0,1437.7 L691.0,1438.2 L692.0,1438.8 L693.0,1439.4 L694.0,1439.9 L695.0,1440.5 L696.0,1441.0 L697.0,1441.6 L698.0,1442.1 L699.0,1442.6 L700.0,1443.1 L701.0,1443.7 L702.0,1444.2 L703.0,1444.7 L704.0,1445.2 L705.0,1445.7 L706.0,1446.2 L707.0,1446.6 L708.0,1447.1 L709.0,1447.6 L710.0,1448.1 L711.0,1448.5 L712.0,1449.0 L713.0,1449.4 L714.0,1449.9 L715.0,1450.3 L716.0,1450.7 L717.0,1451.1 L718.0,1451.6 L719.0,1452.0 L720.0,1452.4 L721.0,1452.8 L722.0,1453.2 L723.0,1453.6 L724.0,1454.0 L725.0,1454.3 L726.0,1454.7 L727.0,1455.1 L728.0,1455.4 L729.0,1455.8 L730.0,1456.1 L731.0,1456.5 L732.0,1456.8 L733.0,1457.2 L734.0,1457.5 L735.0,1457.8 L736.0,1458.1 L737.0,1458.4 L738.0,1458.7 L739.0,1459.0 L740.0,1459.3 L741.0,1459.6 L742.0,1459.9 L743.0,1460.2 L744.0,1460.5 L745.0,1460.7 L746.0,1461.0 L747.0,1461.2 L748.0,1461.5 L749.0,1461.7 L750.0,1462.0 L751.0,1462.2 L752.0,1462.5 L753.0,1462.7 L754.0,1462.9 L755.0,1463.1 L756.0,1463.4 L757.0,1463.6 L758.0,1463.8 L759.0,1464.0 L760.0,1464.2 L761.0,1464.4 L762.0,1464.6 L763.0,1464.8 L764.0,1464.9 L765.0,1465.1 L766.0,1465.3 L767.0,1465.5 L768.0,1465.6 L769.0,1465.8 L770.0,1466.0 L771.0,1466.1 L772.0,1466.3 L773.0,1466.4 L774.0,1466.6 L775.0,1466.7 L776.0,1466.8 L777.0,1467.0 L778.0,1467.1 L779.0,1467.2 L780.0,1467.4 L781.0,1467.5 L782.0,1467.6 L783.0,1467.7 L784.0,1467.8 L785.0,1467.9 L786.0,1468.1 L787.0,1468.2 L788.0,1468.3 L789.0,1468.4 L790.0,1468.5 L791.0,1468.6 L792.0,1468.6 L793.0,1468.7 L794.0,1468.8 L795.0,1468.9 L796.0,1469.0 L797.0,1469.1 L798.0,1469.2 L799.0,1469.2 L800.0,1469.3 L801.0,1469.4 L802.0,1469.5 L803.0,1469.5 L804.0,1469.6 L805.0,1469.7 L806.0,1469.7 L807.0,1469.8 L808.0,1469.8 L809.0,1469.9 L810.0,1469.9 L811.0,1470.0 L812.0,1470.1 L813.0,1470.1 L814.0,1470.2 L815.0,1470.2 L816.0,1470.3 L817.0,1470.3 L818.0,1470.3 L819.0,1470.4 L820.0,1470.4 L821.0,1470.5 L822.0,1470.5 L823.0,1470.5 L824.0,1470.6 L825.0,1470.6 L826.0,1470.7 L827.0,1470.7 L828.0,1470.7 L829.0,1470.7 L830.0,1470.8 L831.0,1470.8 L832.0,1470.8 L833.0,1470.9 L834.0,1470.9 L835.0,1470.9 L836.0,1470.9 L837.0,1471.0 L838.0,1471.0 L839.0,1471.0 L840.0,1471.0 L841.0,1471.1 L842.0,1471.1 L843.0,1471.1 L844.0,1471.1 L845.0,1471.1 L846.0,1471.2 L847.0,1471.2 L848.0,1471.2 L849.0,1471.2 L850.0,1471.2 L851.0,1471.2 L852.0,1471.3 L853.0,1471.3 L854.0,1471.3 L855.0,1471.3 L856.0,1471.3 L857.0,1471.3 L858.0,1471.3 L859.0,1471.3 L860.0,1471.4 L861.0,1471.4 L862.0,1471.4 L863.0,1471.4 L864.0,1471.4 L865.0,1471.4 L866.0,1471.4 L867.0,1471.4 L868.0,1471.4 L869.0,1471.4 L870.0,1471.5 L871.0,1471.5 L872.0,1471.5 L873.0,1471.5 L874.0,1471.5 L875.0,1471.5 L876.0,1471.5 L877.0,1471.5 L878.0,1471.5 L879.0,1471.5 L880.0,1471.5 L881.0,1471.5 L882.0,1471.5 L883.0,1471.5 L884.0,1471.5 L885.0,1471.6 L886.0,1471.6 L887.0,1471.6 L888.0,1471.6 L889.0,1471.6 L890.0,1471.6 L891.0,1471.6 L892.0,1471.6 L893.0,1471.6 L894.0,1471.6 L895.0,1471.6 L896.0,1471.6 L897.0,1471.6 L898.0,1471.6 L899.0,1471.6 L900.0,1471.6" fill="none" stroke="#348080" stroke-width="1.7" stroke-linejoin="round"/>
<path d="M1335.0,1471.6 L1336.0,1471.5 L1337.0,1471.4 L1338.0,1471.3 L1339.0,1471.1 L1340.0,1471.0 L1341.0,1470.8 L1342.0,1470.6 L1343.0,1470.4 L1344.0,1470.2 L1345.0,1469.9 L1346.0,1469.6 L1347.0,1469.4 L1348.0,1469.0 L1349.0,1468.7 L1350.0,1468.3 L1351.0,1467.9 L1352.0,1467.4 L1353.0,1466.9 L1354.0,1466.4 L1355.0,1465.9 L1356.0,1465.3 L1357.0,1464.6 L1358.0,1464.0 L1359.0,1463.2 L1360.0,1462.5 L1361.0,1461.6 L1362.0,1460.8 L1363.0,1459.9 L1364.0,1458.9 L1365.0,1457.9 L1366.0,1456.8 L1367.0,1455.7 L1368.0,1454.5 L1369.0,1453.3 L1370.0,1452.0 L1371.0,1450.7 L1372.0,1449.4 L1373.0,1447.9 L1374.0,1446.5 L1375.0,1445.0 L1376.0,1443.5 L1377.0,1441.9 L1378.0,1440.3 L1379.0,1438.7 L1380.0,1437.0 L1381.0,1435.3 L1382.0,1433.6 L1383.0,1431.9 L1384.0,1430.2 L1385.0,1428.5 L1386.0,1426.8 L1387.0,1425.1 L1388.0,1423.4 L1389.0,1421.8 L1390.0,1420.1 L1391.0,1418.5 L1392.0,1417.0 L1393.0,1415.5 L1394.0,1414.0 L1395.0,1412.7 L1396.0,1411.4 L1397.0,1410.1 L1398.0,1408.9 L1399.0,1407.9 L1400.0,1406.9 L1401.0,1406.0 L1402.0,1405.2 L1403.0,1404.5 L1404.0,1403.9 L1405.0,1403.4 L1406.0,1403.0 L1407.0,1402.8 L1408.0,1402.6 L1409.0,1402.6 L1410.0,1402.7 L1411.0,1402.9 L1412.0,1403.3 L1413.0,1403.7 L1414.0,1404.4 L1415.0,1405.1 L1416.0,1405.9 L1417.0,1406.9 L1418.0,1407.9 L1419.0,1409.1 L1420.0,1410.4 L1421.0,1411.7 L1422.0,1413.1 L1423.0,1414.6 L1424.0,1416.2 L1425.0,1417.8 L1426.0,1419.5 L1427.0,1421.2 L1428.0,1423.0 L1429.0,1424.8 L1430.0,1426.6 L1431.0,1428.4 L1432.0,1430.2 L1433.0,1432.1 L1434.0,1433.9 L1435.0,1435.7 L1436.0,1437.5 L1437.0,1439.2 L1438.0,1440.9 L1439.0,1442.6 L1440.0,1444.3 L1441.0,1445.9 L1442.0,1447.4 L1443.0,1448.9 L1444.0,1450.4 L1445.0,1451.8 L1446.0,1453.1 L1447.0,1454.4 L1448.0,1455.6 L1449.0,1456.8 L1450.0,1457.9 L1451.0,1459.0 L1452.0,1460.0 L1453.0,1460.9 L1454.0,1461.8 L1455.0,1462.6 L1456.0,1463.4 L1457.0,1464.1 L1458.0,1464.8 L1459.0,1465.4 L1460.0,1466.0 L1461.0,1466.5 L1462.0,1467.0 L1463.0,1467.5 L1464.0,1467.9 L1465.0,1468.3 L1466.0,1468.6 L1467.0,1468.9 L1468.0,1469.2 L1469.0,1469.5 L1470.0,1469.7 L1471.0,1470.0 L1472.0,1470.2 L1473.0,1470.3 L1474.0,1470.5 L1475.0,1470.6 L1476.0,1470.8 L1477.0,1470.9 L1478.0,1471.0 L1479.0,1471.1 L1480.0,1471.2 L1481.0,1471.2 L1482.0,1471.3 L1483.0,1471.4 L1484.0,1471.4 L1485.0,1471.5 L1486.0,1471.5 L1487.0,1471.5 L1488.0,1471.6 L1489.0,1471.6 L1490.0,1471.6" fill="none" stroke="#348080" stroke-width="1.7" stroke-linejoin="round"/>
<path d="M1335.0,1471.6 L1336.0,1471.6 L1337.0,1471.5 L1338.0,1471.5 L1339.0,1471.4 L1340.0,1471.4 L1341.0,1471.3 L1342.0,1471.3 L1343.0,1471.2 L1344.0,1471.1 L1345.0,1471.1 L1346.0,1471.0 L1347.0,1470.9 L1348.0,1470.8 L1349.0,1470.7 L1350.0,1470.6 L1351.0,1470.6 L1352.0,1470.5 L1353.0,1470.4 L1354.0,1470.2 L1355.0,1470.1 L1356.0,1470.0 L1357.0,1469.9 L1358.0,1469.8 L1359.0,1469.6 L1360.0,1469.5 L1361.0,1469.4 L1362.0,1469.2 L1363.0,1469.1 L1364.0,1468.9 L1365.0,1468.7 L1366.0,1468.6 L1367.0,1468.4 L1368.0,1468.2 L1369.0,1468.0 L1370.0,1467.7 L1371.0,1467.5 L1372.0,1467.3 L1373.0,1467.0 L1374.0,1466.8 L1375.0,1466.5 L1376.0,1466.2 L1377.0,1465.9 L1378.0,1465.5 L1379.0,1465.2 L1380.0,1464.8 L1381.0,1464.4 L1382.0,1463.9 L1383.0,1463.5 L1384.0,1463.0 L1385.0,1462.4 L1386.0,1461.8 L1387.0,1461.2 L1388.0,1460.5 L1389.0,1459.7 L1390.0,1458.9 L1391.0,1457.9 L1392.0,1456.8 L1393.0,1455.6 L1394.0,1454.2 L1395.0,1452.7 L1396.0,1450.8 L1397.0,1448.7 L1398.0,1446.3 L1399.0,1443.4 L1400.0,1440.0 L1401.0,1436.0 L1402.0,1431.4 L1403.0,1426.1 L1404.0,1419.9 L1405.0,1412.9 L1406.0,1404.9 L1407.0,1395.9 L1408.0,1385.9 L1409.0,1375.0 L1410.0,1363.3 L1411.0,1350.9 L1412.0,1338.2 L1413.0,1325.6 L1414.0,1313.8 L1415.0,1303.5 L1416.0,1295.6 L1417.0,1290.8 L1418.0,1289.7 L1419.0,1292.3 L1420.0,1298.4 L1421.0,1307.4 L1422.0,1318.4 L1423.0,1330.6 L1424.0,1343.3 L1425.0,1355.9 L1426.0,1368.1 L1427.0,1379.5 L1428.0,1390.0 L1429.0,1399.6 L1430.0,1408.2 L1431.0,1415.8 L1432.0,1422.5 L1433.0,1428.3 L1434.0,1433.4 L1435.0,1437.7 L1436.0,1441.4 L1437.0,1444.6 L1438.0,1447.3 L1439.0,1449.6 L1440.0,1451.6 L1441.0,1453.3 L1442.0,1454.8 L1443.0,1456.1 L1444.0,1457.3 L1445.0,1458.3 L1446.0,1459.2 L1447.0,1460.0 L1448.0,1460.8 L1449.0,1461.5 L1450.0,1462.1 L1451.0,1462.7 L1452.0,1463.2 L1453.0,1463.7 L1454.0,1464.1 L1455.0,1464.6 L1456.0,1465.0 L1457.0,1465.3 L1458.0,1465.7 L1459.0,1466.0 L1460.0,1466.3 L1461.0,1466.6 L1462.0,1466.9 L1463.0,1467.2 L1464.0,1467.4 L1465.0,1467.6 L1466.0,1467.9 L1467.0,1468.1 L1468.0,1468.3 L1469.0,1468.5 L1470.0,1468.7 L1471.0,1468.8 L1472.0,1469.0 L1473.0,1469.2 L1474.0,1469.3 L1475.0,1469.5 L1476.0,1469.6 L1477.0,1469.7 L1478.0,1469.9 L1479.0,1470.0 L1480.0,1470.1 L1481.0,1470.2 L1482.0,1470.3 L1483.0,1470.4 L1484.0,1470.5 L1485.0,1470.6 L1486.0,1470.7 L1487.0,1470.8 L1488.0,1470.9 L1489.0,1471.0 L1490.0,1471.0 L1491.0,1471.1 L1492.0,1471.2 L1493.0,1471.2 L1494.0,1471.3 L1495.0,1471.4 L1496.0,1471.4 L1497.0,1471.5 L1498.0,1471.5 L1499.0,1471.6 L1500.0,1471.6" fill="none" stroke="#348080" stroke-width="1.7" stroke-linejoin="round"/>
<path d="M1480.0,1471.6 L1481.0,1471.6 L1482.0,1471.6 L1483.0,1471.6 L1484.0,1471.6 L1485.0,1471.6 L1486.0,1471.6 L1487.0,1471.6 L1488.0,1471.5 L1489.0,1471.5 L1490.0,1471.5 L1491.0,1471.5 L1492.0,1471.4 L1493.0,1471.4 L1494.0,1471.3 L1495.0,1471.2 L1496.0,1471.2 L1497.0,1471.0 L1498.0,1470.9 L1499.0,1470.7 L1500.0,1470.5 L1501.0,1470.3 L1502.0,1470.0 L1503.0,1469.7 L1504.0,1469.3 L1505.0,1468.9 L1506.0,1468.4 L1507.0,1467.8 L1508.0,1467.1 L1509.0,1466.3 L1510.0,1465.5 L1511.0,1464.5 L1512.0,1463.4 L1513.0,1462.3 L1514.0,1461.0 L1515.0,1459.6 L1516.0,1458.1 L1517.0,1456.6 L1518.0,1454.9 L1519.0,1453.1 L1520.0,1451.3 L1521.0,1449.4 L1522.0,1447.5 L1523.0,1445.6 L1524.0,1443.6 L1525.0,1441.7 L1526.0,1439.8 L1527.0,1438.0 L1528.0,1436.3 L1529.0,1434.8 L1530.0,1433.3 L1531.0,1432.1 L1532.0,1431.0 L1533.0,1430.1 L1534.0,1429.5 L1535.0,1429.1 L1536.0,1428.9 L1537.0,1428.9 L1538.0,1429.2 L1539.0,1429.8 L1540.0,1430.5 L1541.0,1431.5 L1542.0,1432.7 L1543.0,1434.1 L1544.0,1435.6 L1545.0,1437.2 L1546.0,1439.0 L1547.0,1440.8 L1548.0,1442.8 L1549.0,1444.7 L1550.0,1446.7 L1551.0,1448.6 L1552.0,1450.6 L1553.0,1452.5 L1554.0,1454.3 L1555.0,1456.0 L1556.0,1457.7 L1557.0,1459.2 L1558.0,1460.7 L1559.0,1462.1 L1560.0,1463.3 L1561.0,1464.4 L1562.0,1465.5 L1563.0,1466.4 L1564.0,1467.2 L1565.0,1468.0 L1566.0,1468.6 L1567.0,1469.2 L1568.0,1469.7 L1569.0,1470.1 L1570.0,1470.5 L1571.0,1470.8 L1572.0,1471.0 L1573.0,1471.3 L1574.0,1471.4 L1575.0,1471.6" fill="none" stroke="#348080" stroke-width="1.7" stroke-linejoin="round"/>
<path d="M79.5,1471.3 L900.0,1471.6" fill="none" stroke="#348080" stroke-width="1.5" stroke-linejoin="round"/>
<path d="M79.5,1470.0 L170.0,1470.4" fill="none" stroke="#348080" stroke-width="1.5" stroke-linejoin="round"/>
<path d="M79.5,1469.0 L150.0,1469.4" fill="none" stroke="#348080" stroke-width="1.5" stroke-linejoin="round"/>
<path d="M79.5,1463.7 L80.5,1463.6 L81.5,1463.6 L82.5,1463.5 L83.5,1463.5 L84.5,1463.4 L85.5,1463.3 L86.5,1463.3 L87.5,1463.2 L88.5,1463.1 L89.5,1463.1 L90.5,1463.0 L91.5,1462.9 L92.5,1462.8 L93.5,1462.7 L94.5,1462.7 L95.5,1462.6 L96.5,1462.5 L97.5,1462.4 L98.5,1462.3 L99.5,1462.2 L100.5,1462.1 L101.5,1462.0 L102.5,1461.9 L103.5,1461.8 L104.5,1461.7 L105.5,1461.5 L106.5,1461.4 L107.5,1461.3 L108.5,1461.1 L109.5,1461.0 L110.5,1460.8 L111.5,1460.7 L112.5,1460.5 L113.5,1460.4 L114.5,1460.2 L115.5,1460.1 L116.5,1459.9 L117.5,1459.7 L118.5,1459.6 L119.5,1459.4 L120.5,1459.2 L121.5,1459.1 L122.5,1458.9 L123.5,1458.7 L124.5,1458.6 L125.5,1458.4 L126.5,1458.2 L127.5,1458.1 L128.5,1457.9 L129.5,1457.7 L130.5,1457.5 L131.5,1457.3 L132.5,1457.1 L133.5,1456.9 L134.5,1456.7 L135.5,1456.5 L136.5,1456.2 L137.5,1456.0 L138.5,1455.7 L139.5,1455.4 L140.5,1455.1 L141.5,1454.8 L142.5,1454.5 L143.5,1454.0 L144.5,1453.6 L145.5,1453.0 L146.5,1452.4 L147.5,1451.8 L148.5,1451.1 L149.5,1450.4 L150.5,1449.6 L151.5,1448.9 L152.5,1448.1 L153.5,1447.4 L154.5,1446.6 L155.5,1445.9 L156.5,1445.1 L157.5,1444.2 L158.5,1443.3 L159.5,1442.2 L160.5,1440.9 L161.5,1439.4 L162.5,1437.1 L163.5,1434.2 L164.5,1430.7 L165.5,1426.8 L166.5,1422.8 L167.5,1418.7 L168.5,1414.3 L169.5,1409.1 L170.5,1403.0 L171.5,1394.5 L172.5,1383.7 L173.5,1373.2 L174.5,1363.6 L175.5,1353.5 L176.5,1342.2 L177.5,1329.5 L178.5,1316.7 L179.5,1304.2 L180.5,1291.7 L181.5,1279.2 L182.5,1267.0 L183.5,1254.5 L184.5,1240.5 L185.5,1225.2 L186.5,1210.0 L187.5,1195.8 L188.5,1181.6 L189.5,1166.4 L190.5,1150.9 L191.5,1137.3 L192.5,1125.2 L193.5,1115.0 L194.5,1107.2 L195.5,1100.7 L196.5,1096.6 L197.5,1093.9 L198.5,1092.1 L199.5,1092.1 L200.5,1093.7 L201.5,1095.9 L202.5,1098.6 L203.5,1102.1 L204.5,1105.6 L205.5,1109.2 L206.5,1112.7 L207.5,1115.8 L208.5,1118.7 L209.5,1121.1 L210.5,1123.1 L211.5,1124.8 L212.5,1126.0 L213.5,1126.8 L214.5,1126.8 L215.5,1125.9 L216.5,1124.3 L217.5,1121.3 L218.5,1117.7 L219.5,1114.0 L220.5,1109.8 L221.5,1105.5 L222.5,1100.9 L223.5,1096.4 L224.5,1092.5 L225.5,1089.0 L226.5,1085.9 L227.5,1082.8 L228.5,1080.2 L229.5,1078.2 L230.5,1076.5 L231.5,1075.4 L232.5,1074.5 L233.5,1073.9 L234.5,1073.7 L235.5,1074.1 L236.5,1075.1 L237.5,1076.1 L238.5,1077.5 L239.5,1079.2 L240.5,1081.0 L241.5,1082.8 L242.5,1084.8 L243.5,1086.9 L244.5,1089.0 L245.5,1091.0 L246.5,1093.1 L247.5,1095.1 L248.5,1096.9 L249.5,1098.8 L250.5,1100.6 L251.5,1102.2 L252.5,1103.5 L253.5,1104.7 L254.5,1105.6 L255.5,1106.6 L256.5,1107.5 L257.5,1108.3 L258.5,1109.1 L259.5,1109.9 L260.5,1110.8 L261.5,1111.9 L262.5,1113.1 L263.5,1114.3 L264.5,1115.7 L265.5,1117.1 L266.5,1118.7 L267.5,1120.2 L268.5,1121.7 L269.5,1123.1 L270.5,1124.5 L271.5,1126.1 L272.5,1128.0 L273.5,1130.2 L274.5,1132.6 L275.5,1135.2 L276.5,1138.1 L277.5,1141.5 L278.5,1145.0 L279.5,1148.4 L280.5,1151.5 L281.5,1154.6 L282.5,1157.6 L283.5,1160.4 L284.5,1163.2 L285.5,1165.8 L286.5,1168.5 L287.5,1171.1 L288.5,1173.8 L289.5,1176.4 L290.5,1179.1 L291.5,1181.8 L292.5,1184.5 L293.5,1187.3 L294.5,1190.0 L295.5,1192.3 L296.5,1194.5 L297.5,1196.5 L298.5,1198.4 L299.5,1200.2 L300.5,1201.8 L301.5,1203.4 L302.5,1205.1 L303.5,1206.9 L304.5,1209.0 L305.5,1211.1 L306.5,1213.1 L307.5,1214.7 L308.5,1216.1 L309.5,1217.4 L310.5,1218.7 L311.5,1219.8 L312.5,1220.9 L313.5,1221.9 L314.5,1222.8 L315.5,1223.8 L316.5,1224.7 L317.5,1225.5 L318.5,1226.4 L319.5,1227.2 L320.5,1228.0 L321.5,1228.7 L322.5,1229.4 L323.5,1230.1 L324.5,1230.7 L325.5,1231.3 L326.5,1231.9 L327.5,1232.4 L328.5,1233.0 L329.5,1233.6 L330.5,1234.2 L331.5,1234.8 L332.5,1235.4 L333.5,1236.0 L334.5,1236.6 L335.5,1237.2 L336.5,1237.8 L337.5,1238.5 L338.5,1239.1 L339.5,1239.7 L340.5,1240.3 L341.5,1240.9 L342.5,1241.4 L343.5,1241.8 L344.5,1242.3 L345.5,1242.7 L346.5,1243.1 L347.5,1243.4 L348.5,1243.7 L349.5,1244.0 L350.5,1244.4 L351.5,1244.7 L352.5,1245.0 L353.5,1245.3 L354.5,1245.5 L355.5,1245.8 L356.5,1246.0 L357.5,1246.2 L358.5,1246.3 L359.5,1246.4 L360.5,1246.3 L361.5,1246.1 L362.5,1245.7 L363.5,1245.1 L364.5,1244.4 L365.5,1243.6 L366.5,1242.8 L367.5,1242.0 L368.5,1241.2 L369.5,1240.5 L370.5,1239.9 L371.5,1239.4 L372.5,1239.0 L373.5,1238.6 L374.5,1238.2 L375.5,1237.9 L376.5,1237.5 L377.5,1237.2 L378.5,1236.9 L379.5,1236.6 L380.5,1236.3 L381.5,1236.0 L382.5,1235.7 L383.5,1235.5 L384.5,1235.2 L385.5,1234.9 L386.5,1234.6 L387.5,1234.4 L388.5,1234.1 L389.5,1233.8 L390.5,1233.4 L391.5,1233.1 L392.5,1232.9 L393.5,1232.6 L394.5,1232.4 L395.5,1232.2 L396.5,1232.0 L397.5,1231.9 L398.5,1231.7 L399.5,1231.6 L400.5,1231.5 L401.5,1231.4 L402.5,1231.3 L403.5,1231.3 L404.5,1231.3 L405.5,1231.3 L406.5,1231.3 L407.5,1231.3 L408.5,1231.4 L409.5,1231.4 L410.5,1231.5 L411.5,1231.5 L412.5,1231.6 L413.5,1231.7 L414.5,1231.8 L415.5,1232.0 L416.5,1232.3 L417.5,1232.6 L418.5,1232.9 L419.5,1233.2 L420.5,1233.5 L421.5,1233.8 L422.5,1234.2 L423.5,1234.7 L424.5,1235.2 L425.5,1235.7 L426.5,1236.3 L427.5,1236.9 L428.5,1237.5 L429.5,1238.1 L430.5,1238.9 L431.5,1239.7 L432.5,1240.5 L433.5,1241.4 L434.5,1242.3 L435.5,1243.2 L436.5,1244.1 L437.5,1245.0 L438.5,1245.8 L439.5,1246.7 L440.5,1247.6 L441.5,1248.7 L442.5,1249.8 L443.5,1250.9 L444.5,1252.1 L445.5,1253.4 L446.5,1254.6 L447.5,1255.9 L448.5,1257.2 L449.5,1258.4 L450.5,1259.7 L451.5,1260.9 L452.5,1262.2 L453.5,1263.3 L454.5,1264.5 L455.5,1265.6 L456.5,1266.7 L457.5,1267.8 L458.5,1268.9 L459.5,1270.0 L460.5,1271.0 L461.5,1272.1 L462.5,1273.2 L463.5,1274.3 L464.5,1275.4 L465.5,1276.5 L466.5,1277.6 L467.5,1278.8 L468.5,1279.9 L469.5,1281.1 L470.5,1282.3 L471.5,1283.5 L472.5,1284.7 L473.5,1286.0 L474.5,1287.2 L475.5,1288.4 L476.5,1289.6 L477.5,1290.8 L478.5,1292.0 L479.5,1293.2 L480.5,1294.4 L481.5,1295.5 L482.5,1296.7 L483.5,1297.8 L484.5,1299.0 L485.5,1300.1 L486.5,1301.3 L487.5,1302.4 L488.5,1303.5 L489.5,1304.6 L490.5,1305.7 L491.5,1306.7 L492.5,1307.8 L493.5,1308.8 L494.5,1309.8 L495.5,1310.8 L496.5,1311.8 L497.5,1312.7 L498.5,1313.7 L499.5,1314.6 L500.5,1315.5 L501.5,1316.4 L502.5,1317.3 L503.5,1318.2 L504.5,1319.1 L505.5,1319.9 L506.5,1320.8 L507.5,1321.6 L508.5,1322.4 L509.5,1323.2 L510.5,1324.1 L511.5,1324.9 L512.5,1325.7 L513.5,1326.5 L514.5,1327.3 L515.5,1328.1 L516.5,1328.8 L517.5,1329.6 L518.5,1330.3 L519.5,1331.0 L520.5,1331.7 L521.5,1332.3 L522.5,1333.0 L523.5,1333.6 L524.5,1334.2 L525.5,1334.7 L526.5,1335.3 L527.5,1335.9 L528.5,1336.4 L529.5,1336.9 L530.5,1337.4 L531.5,1337.9 L532.5,1338.4 L533.5,1338.9 L534.5,1339.4 L535.5,1339.9 L536.5,1340.4 L537.5,1340.9 L538.5,1341.4 L539.5,1341.9 L540.5,1342.4 L541.5,1342.9 L542.5,1343.3 L543.5,1343.8 L544.5,1344.3 L545.5,1344.7 L546.5,1345.1 L547.5,1345.6 L548.5,1346.0 L549.5,1346.4 L550.5,1346.7 L551.5,1347.1 L552.5,1347.5 L553.5,1347.8 L554.5,1348.2 L555.5,1348.5 L556.5,1348.8 L557.5,1349.1 L558.5,1349.5 L559.5,1349.8 L560.5,1350.1 L561.5,1350.4 L562.5,1350.8 L563.5,1351.1 L564.5,1351.4 L565.5,1351.8 L566.5,1352.1 L567.5,1352.4 L568.5,1352.8 L569.5,1353.1 L570.5,1353.4 L571.5,1353.8 L572.5,1354.1 L573.5,1354.5 L574.5,1354.8 L575.5,1355.2 L576.5,1355.5 L577.5,1355.9 L578.5,1356.3 L579.5,1356.6 L580.5,1357.0 L581.5,1357.4 L582.5,1357.8 L583.5,1358.2 L584.5,1358.6 L585.5,1359.0 L586.5,1359.4 L587.5,1359.8 L588.5,1360.2 L589.5,1360.7 L590.5,1361.1 L591.5,1361.6 L592.5,1362.1 L593.5,1362.6 L594.5,1363.2 L595.5,1363.7 L596.5,1364.3 L597.5,1364.8 L598.5,1365.4 L599.5,1366.0 L600.5,1366.6 L601.5,1367.2 L602.5,1367.8 L603.5,1368.4 L604.5,1369.1 L605.5,1369.7 L606.5,1370.4 L607.5,1371.0 L608.5,1371.7 L609.5,1372.4 L610.5,1373.1 L611.5,1373.8 L612.5,1374.5 L613.5,1375.3 L614.5,1376.0 L615.5,1376.7 L616.5,1377.5 L617.5,1378.2 L618.5,1379.0 L619.5,1379.7 L620.5,1380.5 L621.5,1381.3 L622.5,1382.0 L623.5,1382.8 L624.5,1383.6 L625.5,1384.4 L626.5,1385.3 L627.5,1386.1 L628.5,1386.9 L629.5,1387.7 L630.5,1388.6 L631.5,1389.4 L632.5,1390.3 L633.5,1391.2 L634.5,1392.0 L635.5,1392.9 L636.5,1393.8 L637.5,1394.7 L638.5,1395.7 L639.5,1396.6 L640.5,1397.5 L641.5,1398.4 L642.5,1399.3 L643.5,1400.2 L644.5,1401.1 L645.5,1402.0 L646.5,1403.0 L647.5,1403.9 L648.5,1404.8 L649.5,1405.7 L650.5,1406.6 L651.5,1407.5 L652.5,1408.4 L653.5,1409.4 L654.5,1410.3 L655.5,1411.1 L656.5,1412.0 L657.5,1412.9 L658.5,1413.7 L659.5,1414.6 L660.5,1415.4 L661.5,1416.2 L662.5,1417.1 L663.5,1417.9 L664.5,1418.7 L665.5,1419.5 L666.5,1420.3 L667.5,1421.1 L668.5,1421.8 L669.5,1422.6 L670.5,1423.4 L671.5,1424.2 L672.5,1424.9 L673.5,1425.7 L674.5,1426.5 L675.5,1427.2 L676.5,1428.0 L677.5,1428.7 L678.5,1429.5 L679.5,1430.2 L680.5,1431.0 L681.5,1431.7 L682.5,1432.4 L683.5,1433.1 L684.5,1433.8 L685.5,1434.5 L686.5,1435.2 L687.5,1435.9 L688.5,1436.6 L689.5,1437.3 L690.5,1438.0 L691.5,1438.7 L692.5,1439.4 L693.5,1440.0 L694.5,1440.7 L695.5,1441.3 L696.5,1442.0 L697.5,1442.6 L698.5,1443.2 L699.5,1443.8 L700.5,1444.4 L701.5,1445.0 L702.5,1445.6 L703.5,1446.1 L704.5,1446.7 L705.5,1447.3 L706.5,1447.8 L707.5,1448.3 L708.5,1448.9 L709.5,1449.4 L710.5,1449.9 L711.5,1450.4 L712.5,1450.9 L713.5,1451.3 L714.5,1451.8 L715.5,1452.2 L716.5,1452.6 L717.5,1453.0 L718.5,1453.4 L719.5,1453.8 L720.5,1454.2 L721.5,1454.6 L722.5,1455.0 L723.5,1455.4 L724.5,1455.7 L725.5,1456.1 L726.5,1456.5 L727.5,1456.9 L728.5,1457.3 L729.5,1457.6 L730.5,1458.0 L731.5,1458.4 L732.5,1458.8 L733.5,1459.2 L734.5,1459.5 L735.5,1459.9 L736.5,1460.3 L737.5,1460.6 L738.5,1460.9 L739.5,1461.2 L740.5,1461.5 L741.5,1461.8 L742.5,1462.1 L743.5,1462.4 L744.5,1462.6 L745.5,1462.9 L746.5,1463.1 L747.5,1463.4 L748.5,1463.6 L749.5,1463.8 L750.5,1464.1 L751.5,1464.3 L752.5,1464.5 L753.5,1464.7 L754.5,1464.9 L755.5,1465.0 L756.5,1465.2 L757.5,1465.4 L758.5,1465.6 L759.5,1465.8 L760.5,1465.9 L761.5,1466.1 L762.5,1466.2 L763.5,1466.4 L764.5,1466.5 L765.5,1466.7 L766.5,1466.8 L767.5,1466.9 L768.5,1467.1 L769.5,1467.2 L770.5,1467.3 L771.5,1467.4 L772.5,1467.6 L773.5,1467.7 L774.5,1467.8 L775.5,1467.9 L776.5,1468.0 L777.5,1468.1 L778.5,1468.3 L779.5,1468.4 L780.5,1468.5 L781.5,1468.6 L782.5,1468.7 L783.5,1468.8 L784.5,1468.9 L785.5,1469.0 L786.5,1469.1 L787.5,1469.1 L788.5,1469.2 L789.5,1469.3 L790.5,1469.4 L791.5,1469.5 L792.5,1469.5 L793.5,1469.6 L794.5,1469.7 L795.5,1469.7 L796.5,1469.8 L797.5,1469.8 L798.5,1469.9 L799.5,1469.9 L800.5,1470.0 L801.5,1470.0 L802.5,1470.1 L803.5,1470.1 L804.5,1470.2 L805.5,1470.2 L806.5,1470.3 L807.5,1470.3 L808.5,1470.3 L809.5,1470.4 L810.5,1470.4 L811.5,1470.5 L812.5,1470.5 L813.5,1470.5 L814.5,1470.6 L815.5,1470.6 L816.5,1470.6 L817.5,1470.7 L818.5,1470.7 L819.5,1470.7 L820.5,1470.7 L821.5,1470.8 L822.5,1470.8 L823.5,1470.8 L824.5,1470.8 L825.5,1470.8 L826.5,1470.9 L827.5,1470.9 L828.5,1470.9 L829.5,1470.9 L830.5,1470.9 L831.5,1471.0 L832.5,1471.0 L833.5,1471.0 L834.5,1471.0 L835.5,1471.0 L836.5,1471.0 L837.5,1471.1 L838.5,1471.1 L839.5,1471.1 L840.5,1471.1 L841.5,1471.1 L842.5,1471.1 L843.5,1471.1 L844.5,1471.2 L845.5,1471.2 L846.5,1471.2 L847.5,1471.2 L848.5,1471.2 L849.5,1471.2 L850.5,1471.2 L851.5,1471.2 L852.5,1471.3 L853.5,1471.3 L854.5,1471.3 L855.5,1471.3 L856.5,1471.3 L857.5,1471.3 L858.5,1471.3 L859.5,1471.3 L860.5,1471.3 L861.5,1471.3 L862.5,1471.4 L863.5,1471.4 L864.5,1471.4 L865.5,1471.4 L866.5,1471.4 L867.5,1471.4 L868.5,1471.4 L869.5,1471.4 L870.5,1471.4 L871.5,1471.4 L872.5,1471.4 L873.5,1471.5 L874.5,1471.5 L875.5,1471.5 L876.5,1471.5 L877.5,1471.5 L878.5,1471.5 L879.5,1471.5 L880.5,1471.5 L881.5,1471.5 L882.5,1471.5 L883.5,1471.5 L884.5,1471.5 L885.5,1471.5 L886.5,1471.6 L887.5,1471.6 L888.5,1471.6 L889.5,1471.6 L890.5,1471.6 L891.5,1471.6 L892.5,1471.6 L893.5,1471.6 L894.5,1471.6 L895.5,1471.6 L896.5,1471.6 L897.5,1471.6 L898.5,1471.6 L899.5,1471.6 L900.5,1471.6 L901.5,1471.6 L902.5,1471.6 L903.5,1471.6 L904.5,1471.6 L905.5,1471.6 L906.5,1471.6 L907.5,1471.6 L908.5,1471.6 L909.5,1471.6 L910.5,1471.6 L911.5,1471.6 L912.5,1471.6 L913.5,1471.6 L914.5,1471.6 L915.5,1471.6 L916.5,1471.6 L917.5,1471.6 L918.5,1471.6 L919.5,1471.6 L920.5,1471.6 L921.5,1471.6 L922.5,1471.6 L923.5,1471.6 L924.5,1471.6 L925.5,1471.6 L926.5,1471.6 L927.5,1471.6 L928.5,1471.6 L929.5,1471.6 L930.5,1471.6 L931.5,1471.6 L932.5,1471.6 L933.5,1471.6 L934.5,1471.6 L935.5,1471.6 L936.5,1471.6 L937.5,1471.6 L938.5,1471.6 L939.5,1471.6 L940.5,1471.6 L941.5,1471.6 L942.5,1471.6 L943.5,1471.6 L944.5,1471.6 L945.5,1471.6 L946.5,1471.6 L947.5,1471.6 L948.5,1471.6 L949.5,1471.6 L950.5,1471.6 L951.5,1471.6 L952.5,1471.6 L953.5,1471.6 L954.5,1471.6 L955.5,1471.6 L956.5,1471.6 L957.5,1471.6 L958.5,1471.6 L959.5,1471.6 L960.5,1471.6 L961.5,1471.6 L962.5,1471.6 L963.5,1471.6 L964.5,1471.6 L965.5,1471.6 L966.5,1471.6 L967.5,1471.6 L968.5,1471.6 L969.5,1471.6 L970.5,1471.6 L971.5,1471.6 L972.5,1471.6 L973.5,1471.6 L974.5,1471.6 L975.5,1471.6 L976.5,1471.6 L977.5,1471.6 L978.5,1471.6 L979.5,1471.6 L980.5,1471.6 L981.5,1471.6 L982.5,1471.6 L983.5,1471.6 L984.5,1471.6 L985.5,1471.6 L986.5,1471.6 L987.5,1471.6 L988.5,1471.6 L989.5,1471.6 L990.5,1471.6 L991.5,1471.6 L992.5,1471.6 L993.5,1471.6 L994.5,1471.6 L995.5,1471.6 L996.5,1471.6 L997.5,1471.6 L998.5,1471.6 L999.5,1471.6 L1000.5,1471.6 L1001.5,1471.6 L1002.5,1471.6 L1003.5,1471.6 L1004.5,1471.6 L1005.5,1471.6 L1006.5,1471.6 L1007.5,1471.6 L1008.5,1471.6 L1009.5,1471.6 L1010.5,1471.6 L1011.5,1471.6 L1012.5,1471.6 L1013.5,1471.6 L1014.5,1471.6 L1015.5,1471.6 L1016.5,1471.6 L1017.5,1471.6 L1018.5,1471.6 L1019.5,1471.6 L1020.5,1471.6 L1021.5,1471.6 L1022.5,1471.6 L1023.5,1471.6 L1024.5,1471.6 L1025.5,1471.6 L1026.5,1471.6 L1027.5,1471.6 L1028.5,1471.6 L1029.5,1471.6 L1030.5,1471.6 L1031.5,1471.6 L1032.5,1471.6 L1033.5,1471.6 L1034.5,1471.6 L1035.5,1471.6 L1036.5,1471.6 L1037.5,1471.6 L1038.5,1471.6 L1039.5,1471.6 L1040.5,1471.6 L1041.5,1471.6 L1042.5,1471.6 L1043.5,1471.6 L1044.5,1471.6 L1045.5,1471.6 L1046.5,1471.6 L1047.5,1471.6 L1048.5,1471.6 L1049.5,1471.6 L1050.5,1471.6 L1051.5,1471.6 L1052.5,1471.6 L1053.5,1471.6 L1054.5,1471.6 L1055.5,1471.6 L1056.5,1471.6 L1057.5,1471.6 L1058.5,1471.6 L1059.5,1471.6 L1060.5,1471.6 L1061.5,1471.6 L1062.5,1471.6 L1063.5,1471.6 L1064.5,1471.6 L1065.5,1471.6 L1066.5,1471.6 L1067.5,1471.6 L1068.5,1471.6 L1069.5,1471.6 L1070.5,1471.6 L1071.5,1471.6 L1072.5,1471.6 L1073.5,1471.6 L1074.5,1471.6 L1075.5,1471.6 L1076.5,1471.6 L1077.5,1471.6 L1078.5,1471.6 L1079.5,1471.6 L1080.5,1471.6 L1081.5,1471.6 L1082.5,1471.6 L1083.5,1471.6 L1084.5,1471.6 L1085.5,1471.6 L1086.5,1471.6 L1087.5,1471.6 L1088.5,1471.6 L1089.5,1471.6 L1090.5,1471.6 L1091.5,1471.6 L1092.5,1471.6 L1093.5,1471.6 L1094.5,1471.6 L1095.5,1471.6 L1096.5,1471.6 L1097.5,1471.6 L1098.5,1471.6 L1099.5,1471.6 L1100.5,1471.6 L1101.5,1471.6 L1102.5,1471.6 L1103.5,1471.6 L1104.5,1471.6 L1105.5,1471.6 L1106.5,1471.6 L1107.5,1471.6 L1108.5,1471.6 L1109.5,1471.6 L1110.5,1471.6 L1111.5,1471.6 L1112.5,1471.6 L1113.5,1471.6 L1114.5,1471.6 L1115.5,1471.6 L1116.5,1471.6 L1117.5,1471.6 L1118.5,1471.6 L1119.5,1471.6 L1120.5,1471.6 L1121.5,1471.6 L1122.5,1471.6 L1123.5,1471.6 L1124.5,1471.6 L1125.5,1471.6 L1126.5,1471.6 L1127.5,1471.6 L1128.5,1471.6 L1129.5,1471.6 L1130.5,1471.6 L1131.5,1471.6 L1132.5,1471.6 L1133.5,1471.6 L1134.5,1471.6 L1135.5,1471.6 L1136.5,1471.6 L1137.5,1471.6 L1138.5,1471.6 L1139.5,1471.6 L1140.5,1471.6 L1141.5,1471.6 L1142.5,1471.6 L1143.5,1471.6 L1144.5,1471.6 L1145.5,1471.6 L1146.5,1471.6 L1147.5,1471.6 L1148.5,1471.6 L1149.5,1471.6 L1150.5,1471.6 L1151.5,1471.6 L1152.5,1471.6 L1153.5,1471.6 L1154.5,1471.6 L1155.5,1471.6 L1156.5,1471.6 L1157.5,1471.6 L1158.5,1471.6 L1159.5,1471.6 L1160.5,1471.6 L1161.5,1471.6 L1162.5,1471.6 L1163.5,1471.6 L1164.5,1471.6 L1165.5,1471.6 L1166.5,1471.6 L1167.5,1471.6 L1168.5,1471.6 L1169.5,1471.6 L1170.5,1471.6 L1171.5,1471.6 L1172.5,1471.6 L1173.5,1471.6 L1174.5,1471.6 L1175.5,1471.6 L1176.5,1471.6 L1177.5,1471.6 L1178.5,1471.6 L1179.5,1471.6 L1180.5,1471.5 L1181.5,1471.5 L1182.5,1471.5 L1183.5,1471.5 L1184.5,1471.5 L1185.5,1471.5 L1186.5,1471.5 L1187.5,1471.5 L1188.5,1471.5 L1189.5,1471.5 L1190.5,1471.5 L1191.5,1471.5 L1192.5,1471.5 L1193.5,1471.5 L1194.5,1471.5 L1195.5,1471.5 L1196.5,1471.5 L1197.5,1471.5 L1198.5,1471.5 L1199.5,1471.5 L1200.5,1471.5 L1201.5,1471.5 L1202.5,1471.5 L1203.5,1471.5 L1204.5,1471.5 L1205.5,1471.5 L1206.5,1471.5 L1207.5,1471.5 L1208.5,1471.5 L1209.5,1471.5 L1210.5,1471.5 L1211.5,1471.5 L1212.5,1471.5 L1213.5,1471.5 L1214.5,1471.5 L1215.5,1471.5 L1216.5,1471.5 L1217.5,1471.5 L1218.5,1471.5 L1219.5,1471.5 L1220.5,1471.5 L1221.5,1471.5 L1222.5,1471.5 L1223.5,1471.5 L1224.5,1471.5 L1225.5,1471.5 L1226.5,1471.5 L1227.5,1471.5 L1228.5,1471.5 L1229.5,1471.5 L1230.5,1471.5 L1231.5,1471.4 L1232.5,1471.4 L1233.5,1471.4 L1234.5,1471.4 L1235.5,1471.4 L1236.5,1471.4 L1237.5,1471.4 L1238.5,1471.4 L1239.5,1471.4 L1240.5,1471.4 L1241.5,1471.4 L1242.5,1471.4 L1243.5,1471.4 L1244.5,1471.4 L1245.5,1471.4 L1246.5,1471.4 L1247.5,1471.4 L1248.5,1471.4 L1249.5,1471.4 L1250.5,1471.4 L1251.5,1471.4 L1252.5,1471.4 L1253.5,1471.4 L1254.5,1471.4 L1255.5,1471.4 L1256.5,1471.4 L1257.5,1471.4 L1258.5,1471.4 L1259.5,1471.4 L1260.5,1471.4 L1261.5,1471.4 L1262.5,1471.4 L1263.5,1471.3 L1264.5,1471.3 L1265.5,1471.3 L1266.5,1471.3 L1267.5,1471.3 L1268.5,1471.3 L1269.5,1471.3 L1270.5,1471.3 L1271.5,1471.3 L1272.5,1471.3 L1273.5,1471.3 L1274.5,1471.3 L1275.5,1471.3 L1276.5,1471.3 L1277.5,1471.3 L1278.5,1471.3 L1279.5,1471.3 L1280.5,1471.3 L1281.5,1471.3 L1282.5,1471.3 L1283.5,1471.3 L1284.5,1471.3 L1285.5,1471.3 L1286.5,1471.3 L1287.5,1471.3 L1288.5,1471.3 L1289.5,1471.2 L1290.5,1471.2 L1291.5,1471.2 L1292.5,1471.2 L1293.5,1471.2 L1294.5,1471.2 L1295.5,1471.2 L1296.5,1471.2 L1297.5,1471.2 L1298.5,1471.2 L1299.5,1471.2 L1300.5,1471.2 L1301.5,1471.2 L1302.5,1471.2 L1303.5,1471.2 L1304.5,1471.2 L1305.5,1471.2 L1306.5,1471.1 L1307.5,1471.1 L1308.5,1471.1 L1309.5,1471.1 L1310.5,1471.1 L1311.5,1471.1 L1312.5,1471.1 L1313.5,1471.0 L1314.5,1471.0 L1315.5,1471.0 L1316.5,1471.0 L1317.5,1470.9 L1318.5,1470.9 L1319.5,1470.9 L1320.5,1470.8 L1321.5,1470.8 L1322.5,1470.8 L1323.5,1470.7 L1324.5,1470.7 L1325.5,1470.7 L1326.5,1470.6 L1327.5,1470.6 L1328.5,1470.5 L1329.5,1470.5 L1330.5,1470.4 L1331.5,1470.4 L1332.5,1470.3 L1333.5,1470.3 L1334.5,1470.2 L1335.5,1470.2 L1336.5,1470.1 L1337.5,1470.0 L1338.5,1470.0 L1339.5,1469.8 L1340.5,1469.7 L1341.5,1469.5 L1342.5,1469.2 L1343.5,1468.9 L1344.5,1468.6 L1345.5,1468.3 L1346.5,1467.9 L1347.5,1467.6 L1348.5,1467.2 L1349.5,1466.7 L1350.5,1466.3 L1351.5,1465.9 L1352.5,1465.4 L1353.5,1464.8 L1354.5,1464.2 L1355.5,1463.5 L1356.5,1462.7 L1357.5,1461.9 L1358.5,1461.1 L1359.5,1460.2 L1360.5,1459.3 L1361.5,1458.5 L1362.5,1457.6 L1363.5,1456.7 L1364.5,1455.8 L1365.5,1454.9 L1366.5,1454.0 L1367.5,1453.0 L1368.5,1451.9 L1369.5,1450.8 L1370.5,1449.6 L1371.5,1448.3 L1372.5,1446.9 L1373.5,1445.4 L1374.5,1443.8 L1375.5,1442.0 L1376.5,1440.2 L1377.5,1438.3 L1378.5,1436.4 L1379.5,1434.2 L1380.5,1431.9 L1381.5,1429.3 L1382.5,1426.7 L1383.5,1423.9 L1384.5,1421.0 L1385.5,1418.1 L1386.5,1415.2 L1387.5,1412.4 L1388.5,1409.5 L1389.5,1406.6 L1390.5,1403.6 L1391.5,1400.5 L1392.5,1397.3 L1393.5,1394.0 L1394.5,1390.7 L1395.5,1387.3 L1396.5,1383.7 L1397.5,1379.9 L1398.5,1375.8 L1399.5,1371.5 L1400.5,1366.9 L1401.5,1361.8 L1402.5,1356.3 L1403.5,1350.3 L1404.5,1343.6 L1405.5,1336.4 L1406.5,1328.2 L1407.5,1318.6 L1408.5,1307.8 L1409.5,1295.9 L1410.5,1282.5 L1411.5,1269.3 L1412.5,1256.4 L1413.5,1244.1 L1414.5,1234.0 L1415.5,1225.2 L1416.5,1219.9 L1417.5,1217.3 L1418.5,1216.1 L1419.5,1217.2 L1420.5,1220.4 L1421.5,1226.2 L1422.5,1236.7 L1423.5,1248.5 L1424.5,1262.5 L1425.5,1277.1 L1426.5,1292.0 L1427.5,1307.2 L1428.5,1322.4 L1429.5,1337.9 L1430.5,1352.4 L1431.5,1365.8 L1432.5,1378.1 L1433.5,1388.1 L1434.5,1396.1 L1435.5,1403.0 L1436.5,1409.0 L1437.5,1414.3 L1438.5,1419.0 L1439.5,1423.2 L1440.5,1427.0 L1441.5,1430.3 L1442.5,1433.3 L1443.5,1436.1 L1444.5,1438.7 L1445.5,1441.0 L1446.5,1443.1 L1447.5,1445.0 L1448.5,1446.7 L1449.5,1448.4 L1450.5,1449.8 L1451.5,1451.1 L1452.5,1452.3 L1453.5,1453.4 L1454.5,1454.3 L1455.5,1455.3 L1456.5,1456.1 L1457.5,1456.9 L1458.5,1457.7 L1459.5,1458.3 L1460.5,1459.0 L1461.5,1459.6 L1462.5,1460.2 L1463.5,1460.8 L1464.5,1461.3 L1465.5,1461.8 L1466.5,1462.3 L1467.5,1462.7 L1468.5,1463.1 L1469.5,1463.4 L1470.5,1463.7 L1471.5,1464.1 L1472.5,1464.4 L1473.5,1464.7 L1474.5,1465.0 L1475.5,1465.2 L1476.5,1465.5 L1477.5,1465.6 L1478.5,1465.8 L1479.5,1465.9 L1480.5,1466.0 L1481.5,1466.0 L1482.5,1466.1 L1483.5,1466.2 L1484.5,1466.2 L1485.5,1466.3 L1486.5,1466.3 L1487.5,1466.4 L1488.5,1466.4 L1489.5,1466.4 L1490.5,1466.4 L1491.5,1466.5 L1492.5,1466.5 L1493.5,1466.5 L1494.5,1466.5 L1495.5,1466.4 L1496.5,1466.4 L1497.5,1466.3 L1498.5,1466.2 L1499.5,1466.2 L1500.5,1466.1 L1501.5,1465.9 L1502.5,1465.7 L1503.5,1465.4 L1504.5,1464.9 L1505.5,1464.3 L1506.5,1463.6 L1507.5,1462.9 L1508.5,1461.9 L1509.5,1460.7 L1510.5,1459.4 L1511.5,1457.9 L1512.5,1456.4 L1513.5,1454.7 L1514.5,1452.8 L1515.5,1450.7 L1516.5,1448.6 L1517.5,1446.5 L1518.5,1444.4 L1519.5,1442.4 L1520.5,1440.3 L1521.5,1438.3 L1522.5,1436.3 L1523.5,1434.4 L1524.5,1432.6 L1525.5,1430.8 L1526.5,1429.1 L1527.5,1427.5 L1528.5,1426.1 L1529.5,1424.8 L1530.5,1423.5 L1531.5,1422.3 L1532.5,1421.5 L1533.5,1420.9 L1534.5,1420.4 L1535.5,1420.1 L1536.5,1420.1 L1537.5,1420.3 L1538.5,1420.7 L1539.5,1421.2 L1540.5,1421.8 L1541.5,1422.7 L1542.5,1423.8 L1543.5,1425.1 L1544.5,1426.5 L1545.5,1428.0 L1546.5,1429.7 L1547.5,1431.7 L1548.5,1433.8 L1549.5,1436.0 L1550.5,1438.1 L1551.5,1440.1 L1552.5,1442.2 L1553.5,1444.3 L1554.5,1446.3 L1555.5,1448.2 L1556.5,1450.0 L1557.5,1451.8 L1558.5,1453.5 L1559.5,1455.2 L1560.5,1456.5 L1561.5,1457.6 L1562.5,1458.3 L1563.5,1459.0 L1564.5,1459.6 L1565.5,1460.1 L1566.5,1460.5 L1567.5,1460.8 L1568.5,1461.0 L1569.5,1461.1 L1570.5,1461.3 L1571.5,1461.4 L1572.5,1461.5 L1573.5,1461.6 L1574.5,1461.7 L1575.5,1461.8 L1576.5,1461.8 L1577.5,1461.8 L1578.5,1461.8 L1579.5,1461.8 L1580.5,1461.8 L1581.5,1461.7 L1582.5,1461.6 L1583.5,1461.5 L1584.5,1461.5 L1585.5,1461.4 L1586.5,1461.3 L1587.5,1461.2 L1588.5,1461.1 L1589.5,1461.0 L1590.5,1460.8 L1591.5,1460.7 L1592.5,1460.6 L1593.5,1460.5 L1594.5,1460.3 L1595.5,1460.2 L1596.5,1460.0 L1597.5,1459.9 L1598.5,1459.7 L1599.5,1459.6 L1600.5,1459.4 L1601.5,1459.3 L1602.5,1459.1 L1603.5,1459.0 L1604.5,1458.8 L1605.5,1458.7 L1606.5,1458.5 L1607.5,1458.4 L1608.5,1458.2 L1609.5,1458.1 L1610.5,1457.9 L1611.5,1457.8 L1612.5,1457.6 L1613.5,1457.5 L1614.5,1457.3 L1615.5,1457.1 L1616.5,1457.0 L1617.5,1456.8 L1618.5,1456.7 L1619.5,1456.5" fill="none" stroke="#000" stroke-width="1.6" stroke-linejoin="round"/>
<path d="M80.0,1469.5h.01M81.1,1468.1h.01M82.3,1467.2h.01M83.4,1465.1h.01M84.6,1469.1h.01M85.7,1472.5h.01M86.9,1470.0h.01M88.0,1474.7h.01M89.2,1480.8h.01M90.3,1473.2h.01M91.5,1468.9h.01M92.6,1475.7h.01M93.8,1485.5h.01M94.9,1485.8h.01M96.1,1478.7h.01M97.2,1478.8h.01M98.4,1477.8h.01M99.5,1473.0h.01M100.7,1471.3h.01M101.8,1475.8h.01M103.0,1474.8h.01M104.1,1474.2h.01M105.3,1474.0h.01M106.4,1472.0h.01M107.6,1459.9h.01M108.7,1443.2h.01M109.9,1438.2h.01M111.0,1441.6h.01M112.2,1446.2h.01M113.3,1458.4h.01M114.5,1468.6h.01M115.6,1469.5h.01M116.8,1469.4h.01M117.9,1470.8h.01M119.1,1474.8h.01M120.2,1476.1h.01M121.4,1478.2h.01M122.5,1478.0h.01M123.7,1477.7h.01M124.8,1477.6h.01M126.0,1478.4h.01M127.1,1475.9h.01M128.3,1475.0h.01M129.4,1480.7h.01M130.6,1485.0h.01M131.7,1485.9h.01M132.9,1479.4h.01M134.0,1473.1h.01M135.2,1466.0h.01M136.3,1460.3h.01M137.5,1466.5h.01M138.6,1471.8h.01M139.8,1465.9h.01M140.9,1460.9h.01M142.1,1465.6h.01M143.2,1466.6h.01M144.4,1467.1h.01M145.5,1469.4h.01M146.7,1472.7h.01M147.8,1473.2h.01M149.0,1469.3h.01M150.1,1468.5h.01M151.3,1464.6h.01M152.4,1454.0h.01M153.6,1440.0h.01M154.7,1440.4h.01M155.9,1448.2h.01M157.0,1458.2h.01M158.2,1462.0h.01M159.3,1464.1h.01M160.5,1458.9h.01M161.6,1449.1h.01M162.8,1443.8h.01M163.9,1436.3h.01M165.1,1425.3h.01M166.2,1418.9h.01M167.4,1412.9h.01M168.5,1413.5h.01M169.7,1407.4h.01M170.8,1399.6h.01M172.0,1388.4h.01M173.1,1376.4h.01M174.3,1364.8h.01M175.4,1352.9h.01M176.6,1339.7h.01M177.7,1325.4h.01M178.9,1311.7h.01M180.0,1298.0h.01M181.2,1284.6h.01M182.3,1271.1h.01M183.5,1280.1h.01M184.6,1266.2h.01M185.8,1249.9h.01M186.9,1229.9h.01M188.1,1205.7h.01M189.2,1181.9h.01M190.4,1160.2h.01M191.5,1140.2h.01M192.7,1123.6h.01M193.8,1110.5h.01M195.0,1104.0h.01M196.1,1100.6h.01M197.3,1100.2h.01M198.4,1100.7h.01M199.6,1104.0h.01M200.7,1107.4h.01M201.9,1110.8h.01M203.0,1112.3h.01M204.2,1110.6h.01M205.3,1108.2h.01M206.5,1106.6h.01M207.6,1105.7h.01M208.8,1107.0h.01M209.9,1112.3h.01M211.1,1118.0h.01M212.2,1122.6h.01M213.4,1125.0h.01M214.5,1125.9h.01M215.7,1125.4h.01M216.8,1124.8h.01M218.0,1124.0h.01M219.1,1121.4h.01M220.3,1117.6h.01M221.4,1112.8h.01M222.6,1107.2h.01M223.7,1102.5h.01M224.9,1098.2h.01M226.0,1093.6h.01M227.2,1089.7h.01M228.3,1087.9h.01M229.5,1086.7h.01M230.6,1085.8h.01M231.8,1084.9h.01M232.9,1084.0h.01M234.1,1083.6h.01M235.2,1083.3h.01M236.4,1082.7h.01M237.5,1082.2h.01M238.7,1081.9h.01M239.8,1081.7h.01M241.0,1081.4h.01M242.1,1081.1h.01M243.3,1080.7h.01M244.4,1080.4h.01M245.6,1081.4h.01M246.7,1083.5h.01M247.9,1085.6h.01M249.0,1088.7h.01M250.2,1093.5h.01M251.3,1097.6h.01M252.5,1101.2h.01M253.6,1102.9h.01M254.8,1103.3h.01M255.9,1103.4h.01M257.1,1103.4h.01M258.2,1103.3h.01M259.4,1103.7h.01M260.5,1107.3h.01M261.7,1113.0h.01M262.8,1117.5h.01M264.0,1120.0h.01M265.1,1121.2h.01M266.3,1121.7h.01M267.4,1121.5h.01M268.6,1121.2h.01M269.7,1120.9h.01M270.9,1120.6h.01M272.0,1120.3h.01M273.2,1119.9h.01M274.3,1121.8h.01M275.5,1124.5h.01M276.6,1127.1h.01M277.8,1131.2h.01M278.9,1139.7h.01M280.1,1151.9h.01M281.2,1160.8h.01M282.4,1165.5h.01M283.5,1168.5h.01M284.7,1170.3h.01M285.8,1171.2h.01M287.0,1172.0h.01M288.1,1172.5h.01M289.3,1172.8h.01M290.4,1173.2h.01M291.6,1176.8h.01M292.7,1181.2h.01M293.9,1186.6h.01M295.0,1193.2h.01M296.2,1197.5h.01M297.3,1199.1h.01M298.5,1200.4h.01M299.6,1201.3h.01M300.8,1202.3h.01M301.9,1203.5h.01M303.1,1205.1h.01M304.2,1207.4h.01M305.4,1210.7h.01M306.5,1216.3h.01M307.7,1220.8h.01M308.8,1219.8h.01M310.0,1218.2h.01M311.1,1215.9h.01M312.3,1215.8h.01M313.4,1217.3h.01M314.6,1219.5h.01M315.7,1222.0h.01M316.9,1224.4h.01M318.0,1227.3h.01M319.2,1229.9h.01M320.3,1232.4h.01M321.5,1234.5h.01M322.6,1235.3h.01M323.8,1234.9h.01M324.9,1234.2h.01M326.1,1233.6h.01M327.2,1233.3h.01M328.4,1233.0h.01M329.5,1233.4h.01M330.7,1237.0h.01M331.8,1241.1h.01M333.0,1245.7h.01M334.1,1246.6h.01M335.3,1243.5h.01M336.4,1239.8h.01M337.6,1236.9h.01M338.7,1233.9h.01M339.9,1233.6h.01M341.0,1238.5h.01M342.2,1244.2h.01M343.3,1249.9h.01M344.5,1253.6h.01M345.6,1251.5h.01M346.8,1247.2h.01M347.9,1243.4h.01M349.1,1242.7h.01M350.2,1243.9h.01M351.4,1245.5h.01M352.5,1247.0h.01M353.7,1248.4h.01M354.8,1249.3h.01M356.0,1249.1h.01M357.1,1248.6h.01M358.3,1247.7h.01M359.4,1246.0h.01M360.6,1245.5h.01M361.7,1244.9h.01M362.9,1244.3h.01M364.0,1241.1h.01M365.2,1235.8h.01M366.3,1231.5h.01M367.5,1230.0h.01M368.6,1231.4h.01M369.8,1234.3h.01M370.9,1237.4h.01M372.1,1239.0h.01M373.2,1239.0h.01M374.4,1239.0h.01M375.5,1239.6h.01M376.7,1240.3h.01M377.8,1240.3h.01M379.0,1239.4h.01M380.1,1238.7h.01M381.3,1237.5h.01M382.4,1236.1h.01M383.6,1234.9h.01M384.7,1233.8h.01M385.9,1232.4h.01M387.0,1230.2h.01M388.2,1227.2h.01M389.3,1224.9h.01M390.5,1225.1h.01M391.6,1227.1h.01M392.8,1228.5h.01M393.9,1229.2h.01M395.1,1230.2h.01M396.2,1231.5h.01M397.4,1233.3h.01M398.5,1236.2h.01M399.7,1239.0h.01M400.8,1239.0h.01M402.0,1237.4h.01M403.1,1236.0h.01M404.3,1235.9h.01M405.4,1234.8h.01M406.6,1232.6h.01M407.7,1230.7h.01M408.9,1229.6h.01M410.0,1229.4h.01M411.2,1230.0h.01M412.3,1231.1h.01M413.5,1232.3h.01M414.6,1233.4h.01M415.8,1234.0h.01M416.9,1234.2h.01M418.1,1234.6h.01M419.2,1234.4h.01M420.4,1234.1h.01M421.5,1234.0h.01M422.7,1234.3h.01M423.8,1235.5h.01M425.0,1237.1h.01M426.1,1238.3h.01M427.3,1238.8h.01M428.4,1239.3h.01M429.6,1239.4h.01M430.7,1239.0h.01M431.9,1239.2h.01M433.0,1240.6h.01M434.2,1243.4h.01M435.3,1246.5h.01M436.5,1249.3h.01M437.6,1250.1h.01M438.8,1250.6h.01M439.9,1251.7h.01M441.1,1252.1h.01M442.2,1252.8h.01M443.4,1253.9h.01M444.5,1254.7h.01M445.7,1256.2h.01M446.8,1257.1h.01M448.0,1257.1h.01M449.1,1256.9h.01M450.3,1257.2h.01M451.4,1257.4h.01M452.6,1258.2h.01M453.7,1260.2h.01M454.9,1262.6h.01M456.0,1265.4h.01M457.2,1267.3h.01M458.3,1269.0h.01M459.5,1270.3h.01M460.6,1271.1h.01M461.8,1272.3h.01M462.9,1274.2h.01M464.1,1277.1h.01M465.2,1279.7h.01M466.4,1281.4h.01M467.5,1281.9h.01M468.7,1281.6h.01M469.8,1281.3h.01M471.0,1281.9h.01M472.1,1283.6h.01M473.3,1284.8h.01M474.4,1285.9h.01M475.6,1287.6h.01M476.7,1289.2h.01M477.9,1290.9h.01M479.0,1292.5h.01M480.2,1293.8h.01M481.3,1295.6h.01M482.5,1297.7h.01M483.6,1299.5h.01M484.8,1300.8h.01M485.9,1301.7h.01M487.1,1303.2h.01M488.2,1305.3h.01M489.4,1307.1h.01M490.5,1308.1h.01M491.7,1309.7h.01M492.8,1310.0h.01M494.0,1310.0h.01M495.1,1310.7h.01M496.3,1310.7h.01M497.4,1311.4h.01M498.6,1313.1h.01M499.7,1314.1h.01M500.9,1314.2h.01M502.0,1313.7h.01M503.2,1312.6h.01M504.3,1310.9h.01M505.5,1309.3h.01M506.6,1310.9h.01M507.8,1315.8h.01M508.9,1320.7h.01M510.1,1324.6h.01M511.2,1326.9h.01M512.4,1328.1h.01M513.5,1329.1h.01M514.7,1329.2h.01M515.8,1329.9h.01M517.0,1330.1h.01M518.1,1329.7h.01M519.3,1330.2h.01M520.4,1330.9h.01M521.6,1331.4h.01M522.7,1332.2h.01M523.9,1334.2h.01M525.0,1335.9h.01M526.2,1336.5h.01M527.3,1336.9h.01M528.5,1335.5h.01M529.6,1332.9h.01M530.8,1331.6h.01M531.9,1332.0h.01M533.1,1334.4h.01M534.2,1337.2h.01M535.4,1338.8h.01M536.5,1339.8h.01M537.7,1338.7h.01M538.8,1337.9h.01M540.0,1338.4h.01M541.1,1338.7h.01M542.3,1338.7h.01M543.4,1339.7h.01M544.6,1341.6h.01M545.7,1343.3h.01M546.9,1345.0h.01M548.0,1346.6h.01M549.2,1347.6h.01M550.3,1348.4h.01M551.5,1348.2h.01M552.6,1347.6h.01M553.8,1347.0h.01M554.9,1347.2h.01M556.1,1347.4h.01M557.2,1346.6h.01M558.4,1344.1h.01M559.5,1342.2h.01M560.7,1342.2h.01M561.8,1344.1h.01M563.0,1346.4h.01M564.1,1348.0h.01M565.3,1348.8h.01M566.4,1350.6h.01M567.6,1353.1h.01M568.7,1354.5h.01M569.9,1354.9h.01M571.0,1354.8h.01M572.2,1354.8h.01M573.3,1354.9h.01M574.5,1355.9h.01M575.6,1357.7h.01M576.8,1358.7h.01M577.9,1358.7h.01M579.1,1358.4h.01M580.2,1357.5h.01M581.4,1355.9h.01M582.5,1354.1h.01M583.7,1352.7h.01M584.8,1353.0h.01M586.0,1354.5h.01M587.1,1357.1h.01M588.3,1359.9h.01M589.4,1361.3h.01M590.6,1361.9h.01M591.7,1362.1h.01M592.9,1363.0h.01M594.0,1364.5h.01M595.2,1365.6h.01M596.3,1365.8h.01M597.5,1365.9h.01M598.6,1366.3h.01M599.8,1367.4h.01M600.9,1368.7h.01M602.1,1368.2h.01M603.2,1368.0h.01M604.4,1368.2h.01M605.5,1368.0h.01M606.7,1367.0h.01M607.8,1365.8h.01M609.0,1363.4h.01M610.1,1360.4h.01M611.3,1358.4h.01M612.4,1358.6h.01M613.6,1361.0h.01M614.7,1365.5h.01M615.9,1369.7h.01M617.0,1373.1h.01M618.2,1376.3h.01M619.3,1378.8h.01M620.5,1380.5h.01M621.6,1382.0h.01M622.8,1383.0h.01M623.9,1383.5h.01M625.1,1384.3h.01M626.2,1385.2h.01M627.4,1385.9h.01M628.5,1387.2h.01M629.7,1387.5h.01M630.8,1387.6h.01M632.0,1387.7h.01M633.1,1388.3h.01M634.3,1390.1h.01M635.4,1392.1h.01M636.6,1393.3h.01M637.7,1394.7h.01M638.9,1397.4h.01M640.0,1399.0h.01M641.2,1399.8h.01M642.3,1400.5h.01M643.5,1401.2h.01M644.6,1402.2h.01M645.8,1403.2h.01M646.9,1403.8h.01M648.1,1404.6h.01M649.2,1405.3h.01M650.4,1405.9h.01M651.5,1406.8h.01M652.7,1408.4h.01M653.8,1410.3h.01M655.0,1412.1h.01M656.1,1413.9h.01M657.3,1414.6h.01M658.4,1413.9h.01M659.6,1413.8h.01M660.7,1413.9h.01M661.9,1414.8h.01M663.0,1416.5h.01M664.2,1417.8h.01M665.3,1419.1h.01M666.5,1420.5h.01M667.6,1420.9h.01M668.8,1421.4h.01M669.9,1422.3h.01M671.1,1422.4h.01M672.2,1423.4h.01M673.4,1425.3h.01M674.5,1426.4h.01M675.7,1427.1h.01M676.8,1427.0h.01M678.0,1427.1h.01M679.1,1427.9h.01M680.3,1428.9h.01M681.4,1430.6h.01M682.6,1433.3h.01M683.7,1435.9h.01M684.9,1437.4h.01M686.0,1438.4h.01M687.2,1439.2h.01M688.3,1439.3h.01M689.5,1439.2h.01M690.6,1439.6h.01M691.8,1440.6h.01M692.9,1441.6h.01M694.1,1442.2h.01M695.2,1442.4h.01M696.4,1442.6h.01M697.5,1443.4h.01M698.7,1443.8h.01M699.8,1443.2h.01M701.0,1442.8h.01M702.1,1442.8h.01M703.3,1443.4h.01M704.4,1443.8h.01M705.6,1444.1h.01M706.7,1445.1h.01M707.9,1446.2h.01M709.0,1447.8h.01M710.2,1449.0h.01M711.3,1450.1h.01M712.5,1450.9h.01M713.6,1452.1h.01M714.8,1452.6h.01M715.9,1452.9h.01M717.1,1452.8h.01M718.2,1453.0h.01M719.4,1452.8h.01M720.5,1453.1h.01M721.7,1454.4h.01M722.8,1455.2h.01M724.0,1455.3h.01M725.1,1455.8h.01M726.3,1457.0h.01M727.4,1457.9h.01M728.6,1457.8h.01M729.7,1457.3h.01M730.9,1457.2h.01M732.0,1457.4h.01M733.2,1457.0h.01M734.3,1456.3h.01M735.5,1456.9h.01M736.6,1458.6h.01M737.8,1460.1h.01M738.9,1461.0h.01M740.1,1462.0h.01M741.2,1463.0h.01M742.4,1463.4h.01M743.5,1463.6h.01M744.7,1463.2h.01M745.8,1463.0h.01M747.0,1463.1h.01M748.1,1463.8h.01M749.3,1464.1h.01M750.4,1464.5h.01M751.6,1465.6h.01M752.7,1466.3h.01M753.9,1467.0h.01M755.0,1467.8h.01M756.2,1468.0h.01M757.3,1467.8h.01M758.5,1467.5h.01M759.6,1467.5h.01M760.8,1467.9h.01M761.9,1468.4h.01M763.1,1468.3h.01M764.2,1467.1h.01M765.4,1466.2h.01M766.5,1466.0h.01M767.7,1466.2h.01M768.8,1466.6h.01M770.0,1466.6h.01M771.1,1466.6h.01M772.3,1467.2h.01M773.4,1467.2h.01M774.6,1466.8h.01M775.7,1466.8h.01M776.9,1467.3h.01M778.0,1467.8h.01M779.2,1468.1h.01M780.3,1467.8h.01M781.5,1467.8h.01M782.6,1468.1h.01M783.8,1468.6h.01M784.9,1468.6h.01M786.1,1469.0h.01M787.2,1468.9h.01M788.4,1469.1h.01M789.5,1469.5h.01M790.7,1474.7h.01M791.8,1475.3h.01M793.0,1474.6h.01M794.1,1474.1h.01M795.3,1474.8h.01M796.4,1475.2h.01M797.6,1474.6h.01M798.7,1474.0h.01M799.9,1473.2h.01M801.0,1472.9h.01M802.2,1473.2h.01M803.3,1474.9h.01M804.5,1475.8h.01M805.6,1475.7h.01M806.8,1475.8h.01M807.9,1475.2h.01M809.1,1473.3h.01M810.2,1472.3h.01M811.4,1472.6h.01M812.5,1473.6h.01M813.7,1475.0h.01M814.8,1475.7h.01M816.0,1475.3h.01M817.1,1475.0h.01M818.3,1474.7h.01M819.4,1474.8h.01M820.6,1474.7h.01M821.7,1474.2h.01M822.9,1474.9h.01M824.0,1475.6h.01M825.2,1475.5h.01M826.3,1474.6h.01M827.5,1473.9h.01M828.6,1473.7h.01M829.8,1473.1h.01M830.9,1472.6h.01M832.1,1472.8h.01M833.2,1473.6h.01M834.4,1475.1h.01M835.5,1475.8h.01M836.7,1475.8h.01M837.8,1475.9h.01M839.0,1476.5h.01M840.1,1476.7h.01M841.3,1476.8h.01M842.4,1476.4h.01M843.6,1475.9h.01M844.7,1475.1h.01M845.9,1475.1h.01M847.0,1475.3h.01M848.2,1475.5h.01M849.3,1476.2h.01M850.5,1476.6h.01M851.6,1477.0h.01M852.8,1477.6h.01M853.9,1477.9h.01M855.1,1477.8h.01M856.2,1478.3h.01M857.4,1478.6h.01M858.5,1478.9h.01M859.7,1478.9h.01M860.8,1478.3h.01M862.0,1478.4h.01M863.1,1477.8h.01M864.3,1476.7h.01M865.4,1476.2h.01M866.6,1476.2h.01M867.7,1476.0h.01M868.9,1475.3h.01M870.0,1474.3h.01M871.2,1474.1h.01M872.3,1474.7h.01M873.5,1475.2h.01M874.6,1475.4h.01M875.8,1476.2h.01M876.9,1476.8h.01M878.1,1477.1h.01M879.2,1477.5h.01M880.4,1478.4h.01M881.5,1478.7h.01M882.7,1478.4h.01M883.8,1477.3h.01M885.0,1476.6h.01M886.1,1477.1h.01M887.3,1477.8h.01M888.4,1477.8h.01M889.6,1477.8h.01M890.7,1478.4h.01M891.9,1478.2h.01M893.0,1477.2h.01M894.2,1476.6h.01M895.3,1476.5h.01M896.5,1477.0h.01M897.6,1477.5h.01M898.8,1477.5h.01M899.9,1476.7h.01M901.1,1476.4h.01M902.2,1475.7h.01M903.4,1475.0h.01M904.5,1474.3h.01M905.7,1474.3h.01M906.8,1474.3h.01M908.0,1474.5h.01M909.1,1474.8h.01M910.3,1475.1h.01M911.4,1475.4h.01M912.6,1475.2h.01M913.7,1475.2h.01M914.9,1475.7h.01M916.0,1475.5h.01M917.2,1475.5h.01M918.3,1476.2h.01M919.5,1476.5h.01M920.6,1476.2h.01M921.8,1475.4h.01M922.9,1475.7h.01M924.1,1476.4h.01M925.2,1476.1h.01M926.4,1475.7h.01M927.5,1475.5h.01M928.7,1475.9h.01M929.8,1476.4h.01M931.0,1476.3h.01M932.1,1475.7h.01M933.3,1474.9h.01M934.4,1474.7h.01M935.6,1475.2h.01M936.7,1475.9h.01M937.9,1476.2h.01M939.0,1476.0h.01M940.2,1475.5h.01M941.3,1475.4h.01M942.5,1475.4h.01M943.6,1475.1h.01M944.8,1475.0h.01M945.9,1474.7h.01M947.1,1474.2h.01M948.2,1473.8h.01M949.4,1472.9h.01M950.5,1468.2h.01M951.7,1468.3h.01M952.8,1467.7h.01M954.0,1466.6h.01M955.1,1465.8h.01M956.3,1465.5h.01M957.4,1464.5h.01M958.6,1464.5h.01M959.7,1466.1h.01M960.9,1467.2h.01M962.0,1469.0h.01M963.2,1472.3h.01M964.3,1477.1h.01M965.5,1482.9h.01M966.6,1487.8h.01M967.8,1488.0h.01M968.9,1483.7h.01M970.1,1477.9h.01M971.2,1473.3h.01M972.4,1470.3h.01M973.5,1467.5h.01M974.7,1465.2h.01M975.8,1466.4h.01M977.0,1470.7h.01M978.1,1474.5h.01M979.3,1477.7h.01M980.4,1479.2h.01M981.6,1477.9h.01M982.7,1473.5h.01M983.9,1468.7h.01M985.0,1466.7h.01M986.2,1465.7h.01M987.3,1465.2h.01M988.5,1465.8h.01M989.6,1467.2h.01M990.8,1468.6h.01M991.9,1469.9h.01M993.1,1470.7h.01M994.2,1471.0h.01M995.4,1470.5h.01M996.5,1469.6h.01M997.7,1469.7h.01M998.8,1471.0h.01M1000.0,1472.1h.01M1001.1,1472.4h.01M1002.3,1472.2h.01M1003.4,1472.3h.01M1004.6,1472.3h.01M1005.7,1472.2h.01M1006.9,1471.3h.01M1008.0,1470.5h.01M1009.2,1470.5h.01M1010.3,1471.3h.01M1011.5,1471.9h.01M1012.6,1472.2h.01M1013.8,1473.0h.01M1014.9,1473.5h.01M1016.1,1473.9h.01M1017.2,1474.5h.01M1018.4,1475.3h.01M1019.5,1475.4h.01M1020.7,1475.5h.01M1021.8,1475.3h.01M1023.0,1475.5h.01M1024.1,1474.9h.01M1025.3,1474.2h.01M1026.4,1473.8h.01M1027.6,1473.8h.01M1028.7,1473.1h.01M1029.9,1472.1h.01M1031.0,1471.3h.01M1032.2,1470.4h.01M1033.3,1469.7h.01M1034.5,1469.3h.01M1035.6,1468.7h.01M1036.8,1469.1h.01M1037.9,1470.0h.01M1039.1,1470.0h.01M1040.2,1470.3h.01M1041.4,1471.0h.01M1042.5,1471.6h.01M1043.7,1472.7h.01M1044.8,1473.0h.01M1046.0,1472.9h.01M1047.1,1473.1h.01M1048.3,1473.1h.01M1049.4,1473.1h.01M1050.6,1472.7h.01M1051.7,1472.4h.01M1052.9,1471.6h.01M1054.0,1471.9h.01M1055.2,1472.6h.01M1056.3,1472.9h.01M1057.5,1473.1h.01M1058.6,1473.4h.01M1059.8,1473.4h.01M1060.9,1473.1h.01M1062.1,1473.2h.01M1063.2,1473.3h.01M1064.4,1472.5h.01M1065.5,1471.0h.01M1066.7,1470.4h.01M1067.8,1470.5h.01M1069.0,1470.5h.01M1070.1,1470.3h.01M1071.3,1470.4h.01M1072.4,1470.8h.01M1073.6,1471.1h.01M1074.7,1471.5h.01M1075.9,1472.3h.01M1077.0,1472.0h.01M1078.2,1471.5h.01M1079.3,1470.9h.01M1080.5,1470.3h.01M1081.6,1471.4h.01M1082.8,1472.3h.01M1083.9,1472.3h.01M1085.1,1472.5h.01M1086.2,1473.2h.01M1087.4,1474.5h.01M1088.5,1474.8h.01M1089.7,1474.6h.01M1090.8,1474.5h.01M1092.0,1474.5h.01M1093.1,1474.0h.01M1094.3,1473.0h.01M1095.4,1471.7h.01M1096.6,1471.0h.01M1097.7,1471.6h.01M1098.9,1471.7h.01M1100.0,1471.1h.01M1101.2,1470.7h.01M1102.3,1471.1h.01M1103.5,1471.7h.01M1104.6,1471.8h.01M1105.8,1471.6h.01M1106.9,1471.3h.01M1108.1,1470.8h.01M1109.2,1470.7h.01M1110.4,1470.0h.01M1111.5,1469.2h.01M1112.7,1469.1h.01M1113.8,1468.9h.01M1115.0,1468.9h.01M1116.1,1469.2h.01M1117.3,1468.5h.01M1118.4,1468.5h.01M1119.6,1468.6h.01M1120.7,1468.6h.01M1121.9,1469.4h.01M1123.0,1470.5h.01M1124.2,1470.6h.01M1125.3,1471.0h.01M1126.5,1471.8h.01M1127.6,1472.3h.01M1128.8,1472.3h.01M1129.9,1471.5h.01M1131.1,1470.9h.01M1132.2,1471.6h.01M1133.4,1472.2h.01M1134.5,1472.4h.01M1135.7,1472.1h.01M1136.8,1472.3h.01M1138.0,1473.1h.01M1139.1,1473.4h.01M1140.3,1473.0h.01M1141.4,1472.1h.01M1142.6,1471.5h.01M1143.7,1471.3h.01M1144.9,1470.7h.01M1146.0,1471.2h.01M1147.2,1472.6h.01M1148.3,1473.7h.01M1149.5,1474.5h.01M1150.6,1474.9h.01M1151.8,1474.7h.01M1152.9,1474.4h.01M1154.1,1474.1h.01M1155.2,1473.3h.01M1156.4,1472.7h.01M1157.5,1472.7h.01M1158.7,1472.6h.01M1159.8,1472.3h.01M1161.0,1472.1h.01M1162.1,1471.2h.01M1163.3,1470.2h.01M1164.4,1469.7h.01M1165.6,1469.3h.01M1166.7,1469.0h.01M1167.9,1468.5h.01M1169.0,1469.3h.01M1170.2,1471.0h.01M1171.3,1472.1h.01M1172.5,1472.7h.01M1173.6,1472.9h.01M1174.8,1472.1h.01M1175.9,1471.5h.01M1177.1,1471.3h.01M1178.2,1471.0h.01M1179.4,1471.0h.01M1180.5,1470.9h.01M1181.7,1470.0h.01M1182.8,1469.2h.01M1184.0,1469.1h.01M1185.1,1469.7h.01M1186.3,1470.3h.01M1187.4,1470.4h.01M1188.6,1470.0h.01M1189.7,1469.5h.01M1190.9,1468.6h.01M1192.0,1468.4h.01M1193.2,1469.0h.01M1194.3,1469.9h.01M1195.5,1470.0h.01M1196.6,1469.6h.01M1197.8,1469.5h.01M1198.9,1470.3h.01M1200.1,1470.8h.01M1201.2,1470.6h.01M1202.4,1471.1h.01M1203.5,1471.6h.01M1204.7,1471.7h.01M1205.8,1471.6h.01M1207.0,1471.4h.01M1208.1,1471.5h.01M1209.3,1471.9h.01M1210.4,1472.1h.01M1211.6,1471.4h.01M1212.7,1470.7h.01M1213.9,1469.9h.01M1215.0,1469.6h.01M1216.2,1469.4h.01M1217.3,1469.7h.01M1218.5,1470.5h.01M1219.6,1470.6h.01M1220.8,1469.6h.01M1221.9,1469.3h.01M1223.1,1469.0h.01M1224.2,1469.3h.01M1225.4,1471.2h.01M1226.5,1472.5h.01M1227.7,1473.0h.01M1228.8,1473.0h.01M1230.0,1472.0h.01M1231.1,1471.2h.01M1232.3,1471.6h.01M1233.4,1471.8h.01M1234.6,1471.8h.01M1235.7,1472.2h.01M1236.9,1472.8h.01M1238.0,1472.8h.01M1239.2,1472.5h.01M1240.3,1472.9h.01M1241.5,1474.0h.01M1242.6,1473.8h.01M1243.8,1472.5h.01M1244.9,1470.9h.01M1246.1,1469.5h.01M1247.2,1468.9h.01M1248.4,1469.8h.01M1249.5,1470.6h.01M1250.7,1470.7h.01M1251.8,1470.9h.01M1253.0,1471.2h.01M1254.1,1471.1h.01M1255.3,1470.5h.01M1256.4,1470.8h.01M1257.6,1471.7h.01M1258.7,1471.9h.01M1259.9,1471.6h.01M1261.0,1471.2h.01M1262.2,1471.3h.01M1263.3,1470.8h.01M1264.5,1470.0h.01M1265.6,1469.9h.01M1266.8,1470.5h.01M1267.9,1471.0h.01M1269.1,1471.6h.01M1270.2,1472.3h.01M1271.4,1472.1h.01M1272.5,1471.1h.01M1273.7,1470.4h.01M1274.8,1470.1h.01M1276.0,1469.8h.01M1277.1,1469.4h.01M1278.3,1470.4h.01M1279.4,1471.6h.01M1280.6,1472.9h.01M1281.7,1473.2h.01M1282.9,1473.4h.01M1284.0,1473.7h.01M1285.2,1473.7h.01M1286.3,1473.6h.01M1287.5,1473.0h.01M1288.6,1471.9h.01M1289.8,1471.4h.01M1290.9,1470.8h.01M1292.1,1470.7h.01M1293.2,1471.2h.01M1294.4,1472.2h.01M1295.5,1472.9h.01M1296.7,1473.1h.01M1297.8,1472.9h.01M1299.0,1473.2h.01M1300.1,1473.6h.01M1301.3,1473.6h.01M1302.4,1473.3h.01M1303.6,1472.4h.01M1304.7,1471.6h.01M1305.9,1471.5h.01M1307.0,1471.3h.01M1308.2,1471.2h.01M1309.3,1471.1h.01M1310.5,1471.5h.01M1311.6,1472.1h.01M1312.8,1472.2h.01M1313.9,1471.8h.01M1315.1,1471.4h.01M1316.2,1470.6h.01M1317.4,1470.8h.01M1318.5,1471.3h.01M1319.7,1471.3h.01M1320.8,1470.9h.01M1322.0,1470.8h.01M1323.1,1470.7h.01M1324.3,1469.8h.01M1325.4,1469.0h.01M1326.6,1468.8h.01M1327.7,1468.9h.01M1328.9,1468.9h.01M1330.0,1469.3h.01M1331.2,1469.9h.01M1332.3,1469.6h.01M1333.5,1468.7h.01M1334.6,1467.6h.01M1335.8,1466.5h.01M1336.9,1467.3h.01M1338.1,1469.0h.01M1339.2,1469.8h.01M1340.4,1469.5h.01M1341.5,1469.7h.01M1342.7,1470.0h.01M1343.8,1470.0h.01M1345.0,1469.3h.01M1346.1,1468.2h.01M1347.3,1467.3h.01M1348.4,1466.8h.01M1349.6,1466.1h.01M1350.7,1465.3h.01M1351.9,1464.2h.01M1353.0,1463.4h.01M1354.2,1463.9h.01M1355.3,1464.5h.01M1356.5,1464.7h.01M1357.6,1464.1h.01M1358.8,1462.7h.01M1359.9,1460.4h.01M1361.1,1458.1h.01M1362.2,1456.4h.01M1363.4,1455.6h.01M1364.5,1454.9h.01M1365.7,1453.8h.01M1366.8,1452.7h.01M1368.0,1451.1h.01M1369.1,1448.1h.01M1370.3,1444.2h.01M1371.4,1440.4h.01M1372.6,1438.9h.01M1373.7,1438.7h.01M1374.9,1439.7h.01M1376.0,1443.0h.01M1377.2,1443.4h.01M1378.3,1437.4h.01M1379.5,1430.4h.01M1380.6,1425.0h.01M1381.8,1421.6h.01M1382.9,1419.7h.01M1384.1,1419.2h.01M1385.2,1418.4h.01M1386.4,1415.8h.01M1387.5,1412.5h.01M1388.7,1408.7h.01M1389.8,1404.8h.01M1391.0,1400.9h.01M1392.1,1396.5h.01M1393.3,1392.8h.01M1394.4,1388.8h.01M1395.6,1384.9h.01M1396.7,1380.8h.01M1397.9,1375.9h.01M1399.0,1371.2h.01M1400.2,1366.8h.01M1401.3,1362.2h.01M1402.5,1357.3h.01M1403.6,1350.4h.01M1404.8,1342.6h.01M1405.9,1334.2h.01M1407.1,1325.1h.01M1408.2,1314.1h.01M1409.4,1301.3h.01M1410.5,1286.0h.01M1411.7,1270.4h.01M1412.8,1255.3h.01M1414.0,1241.8h.01M1415.1,1229.5h.01M1416.3,1219.8h.01M1417.4,1215.4h.01M1418.6,1212.9h.01M1419.7,1214.7h.01M1420.9,1219.3h.01M1422.0,1229.5h.01M1423.2,1243.3h.01M1424.3,1259.9h.01M1425.5,1276.3h.01M1426.6,1292.6h.01M1427.8,1309.6h.01M1428.9,1327.1h.01M1430.1,1344.4h.01M1431.2,1359.4h.01M1432.4,1373.4h.01M1433.5,1384.9h.01M1434.7,1393.6h.01M1435.8,1401.7h.01M1437.0,1409.0h.01M1438.1,1415.2h.01M1439.3,1421.1h.01M1440.4,1426.2h.01M1441.6,1430.3h.01M1442.7,1432.4h.01M1443.9,1434.4h.01M1445.0,1436.6h.01M1446.2,1438.8h.01M1447.3,1441.1h.01M1448.5,1443.4h.01M1449.6,1445.8h.01M1450.8,1448.1h.01M1451.9,1450.3h.01M1453.1,1452.0h.01M1454.2,1452.8h.01M1455.4,1452.9h.01M1456.5,1452.1h.01M1457.7,1451.7h.01M1458.8,1453.1h.01M1460.0,1455.7h.01M1461.1,1458.6h.01M1462.3,1460.9h.01M1463.4,1462.3h.01M1464.6,1462.4h.01M1465.7,1461.0h.01M1466.9,1459.2h.01M1468.0,1459.1h.01M1469.2,1461.0h.01M1470.3,1464.5h.01M1471.5,1467.7h.01M1472.6,1470.0h.01M1473.8,1472.0h.01M1474.9,1472.8h.01M1476.1,1471.6h.01M1477.2,1469.9h.01M1478.4,1469.4h.01M1479.5,1470.1h.01M1480.7,1471.6h.01M1481.8,1472.3h.01M1483.0,1472.7h.01M1484.1,1472.9h.01M1485.3,1472.5h.01M1486.4,1471.7h.01M1487.6,1471.1h.01M1488.7,1471.7h.01M1489.9,1472.5h.01M1491.0,1472.9h.01M1492.2,1473.1h.01M1493.3,1473.7h.01M1494.5,1473.9h.01M1495.6,1473.5h.01M1496.8,1473.6h.01M1497.9,1474.7h.01M1499.1,1475.5h.01M1500.2,1475.8h.01M1501.4,1475.4h.01M1502.5,1474.5h.01M1503.7,1473.5h.01M1504.8,1472.3h.01M1506.0,1470.3h.01M1507.1,1468.5h.01M1508.3,1466.9h.01M1509.4,1464.4h.01M1510.6,1461.6h.01M1511.7,1458.5h.01M1512.9,1455.5h.01M1514.0,1453.2h.01M1515.2,1451.3h.01M1516.3,1449.0h.01M1517.5,1446.5h.01M1518.6,1444.8h.01M1519.8,1442.9h.01M1520.9,1440.7h.01M1522.1,1438.1h.01M1523.2,1434.6h.01M1524.4,1431.1h.01M1525.5,1428.7h.01M1526.7,1426.9h.01M1527.8,1425.5h.01M1529.0,1424.7h.01M1530.1,1424.3h.01M1531.3,1423.4h.01M1532.4,1422.3h.01M1533.6,1421.4h.01M1534.7,1421.0h.01M1535.9,1421.2h.01M1537.0,1421.0h.01M1538.2,1420.5h.01M1539.3,1420.5h.01M1540.5,1421.1h.01M1541.6,1422.4h.01M1542.8,1423.9h.01M1543.9,1425.6h.01M1545.1,1427.3h.01M1546.2,1428.5h.01M1547.4,1430.2h.01M1548.5,1432.1h.01M1549.7,1434.0h.01M1550.8,1435.8h.01M1552.0,1438.1h.01M1553.1,1440.9h.01M1554.3,1443.6h.01M1555.4,1446.5h.01M1556.6,1449.7h.01M1557.7,1452.8h.01M1558.9,1454.2h.01M1560.0,1456.1h.01M1561.2,1458.1h.01M1562.3,1458.5h.01M1563.5,1459.0h.01M1564.6,1460.8h.01M1565.8,1464.1h.01M1566.9,1466.7h.01M1568.1,1468.5h.01M1569.2,1469.4h.01M1570.4,1470.8h.01M1571.5,1472.7h.01M1572.7,1474.7h.01M1573.8,1475.2h.01M1575.0,1475.7h.01M1576.1,1476.2h.01M1577.3,1476.7h.01M1578.4,1476.8h.01M1579.6,1476.9h.01M1580.7,1476.8h.01M1581.9,1476.6h.01M1583.0,1477.5h.01M1584.2,1478.2h.01M1585.3,1477.7h.01M1586.5,1476.7h.01M1587.6,1475.9h.01M1588.8,1475.4h.01M1589.9,1475.0h.01M1591.1,1475.2h.01M1592.2,1475.4h.01M1593.4,1475.9h.01M1594.5,1476.3h.01M1595.7,1477.1h.01M1596.8,1478.1h.01M1598.0,1479.2h.01M1599.1,1480.2h.01M1600.3,1480.0h.01M1601.4,1479.1h.01M1602.6,1478.5h.01M1603.7,1477.9h.01M1604.9,1477.5h.01M1606.0,1478.0h.01M1607.2,1478.7h.01M1608.3,1479.0h.01M1609.5,1478.2h.01M1610.6,1477.0h.01M1611.8,1476.0h.01M1612.9,1475.0h.01M1614.1,1475.0h.01M1615.2,1476.3h.01M1616.4,1477.6h.01" fill="none" stroke="#000" stroke-width="3.45" stroke-linecap="square"/>
<line x1="78.2" y1="878.9" x2="78.2" y2="1628.5" stroke="#000" stroke-width="3.4" stroke-linecap="butt"/>
<line x1="1621.4" y1="878.9" x2="1621.4" y2="1624.2" stroke="#000" stroke-width="3.4" stroke-linecap="butt"/>
<line x1="76.5" y1="880.6" x2="1623.1" y2="880.6" stroke="#000" stroke-width="3.4" stroke-linecap="butt"/>
<line x1="76.5" y1="1622.5" x2="1623.1" y2="1622.5" stroke="#000" stroke-width="3.4" stroke-linecap="butt"/>
<text transform="translate(77.8,1657.2) scale(1,1.04)" font-size="30" text-anchor="middle">3800</text>
<line x1="386.3" y1="1622.5" x2="386.3" y2="1628.5" stroke="#000" stroke-width="3.6" stroke-linecap="butt"/>
<text transform="translate(386.3,1657.2) scale(1,1.04)" font-size="30" text-anchor="middle">3300</text>
<line x1="694.9" y1="1622.5" x2="694.9" y2="1628.5" stroke="#000" stroke-width="3.6" stroke-linecap="butt"/>
<text transform="translate(694.9,1657.2) scale(1,1.04)" font-size="30" text-anchor="middle">2800</text>
<line x1="1003.4" y1="1622.5" x2="1003.4" y2="1628.5" stroke="#000" stroke-width="3.6" stroke-linecap="butt"/>
<text transform="translate(1003.4,1657.2) scale(1,1.04)" font-size="30" text-anchor="middle">2300</text>
<line x1="1312.0" y1="1622.5" x2="1312.0" y2="1628.5" stroke="#000" stroke-width="3.6" stroke-linecap="butt"/>
<text transform="translate(1312.0,1657.2) scale(1,1.04)" font-size="30" text-anchor="middle">1800</text>
<line x1="1620.5" y1="1622.5" x2="1620.5" y2="1628.5" stroke="#000" stroke-width="3.6" stroke-linecap="butt"/>
<text transform="translate(1620.5,1657.2) scale(1,1.04)" font-size="30" text-anchor="middle">1300</text>
<text transform="translate(34.9,1252.9) rotate(-90) scale(1,1)" font-size="40" text-anchor="middle">absorbance</text>
<text x="854.2" y="1710.7" font-size="40.4" text-anchor="middle">wavenumber [cm<tspan font-size="20" dy="-19">-1</tspan><tspan dy="19">]</tspan></text>
<text transform="translate(1538.7,973.1) scale(1,1)" font-size="80" text-anchor="start">b</text>
<text transform="translate(203.9,1069.0) rotate(-90) scale(1,1.04)" font-size="24.5" text-anchor="start">3610</text>
<text transform="translate(245.7,1056.0) rotate(-90) scale(1,1.04)" font-size="24.5" text-anchor="start">3557</text>
<text transform="translate(284.5,1075.0) rotate(-90) scale(1,1.04)" font-size="24.5" text-anchor="start">3502</text>
<line x1="273.5" y1="1078.6" x2="266.2" y2="1116.0" stroke="#000" stroke-width="1.5" stroke-linecap="butt"/>
<text transform="translate(324.3,1175.5) rotate(-90) scale(1,1.04)" font-size="24.5" text-anchor="start">3438</text>
<line x1="314.0" y1="1178.9" x2="312.6" y2="1211.6" stroke="#000" stroke-width="1.5" stroke-linecap="butt"/>
<text transform="translate(421.8,1207.5) rotate(-90) scale(1,1.04)" font-size="24.5" text-anchor="start">3266</text>
<text transform="translate(593.7,1308.5) rotate(-90) scale(1,1.04)" font-size="24.5" text-anchor="start">3003</text>
<text transform="translate(1399.2,1306.7) rotate(-90) scale(1,1.04)" font-size="24.5" text-anchor="start">1645</text>
<line x1="1389.7" y1="1308.1" x2="1402.5" y2="1363.5" stroke="#000" stroke-width="1.5" stroke-linecap="butt"/>
<text transform="translate(1429.2,1204.5) rotate(-90) scale(1,1.04)" font-size="24.5" text-anchor="start">1629</text>
<text transform="translate(1546.1,1408.5) rotate(-90) scale(1,1.04)" font-size="24.5" text-anchor="start">1437</text>
</g>
<g id="panel-c">
<path d="M96.0,2468.1 L97.0,2468.0 L98.0,2468.0 L99.0,2468.0 L100.0,2468.0 L101.0,2468.0 L102.0,2468.0 L103.0,2468.0 L104.0,2468.0 L105.0,2468.0 L106.0,2468.0 L107.0,2468.0 L108.0,2468.0 L109.0,2468.0 L110.0,2468.0 L111.0,2468.0 L112.0,2468.0 L113.0,2468.0 L114.0,2467.9 L115.0,2467.9 L116.0,2467.9 L117.0,2467.9 L118.0,2467.9 L119.0,2467.9 L120.0,2467.9 L121.0,2467.9 L122.0,2467.9 L123.0,2467.8 L124.0,2467.8 L125.0,2467.8 L126.0,2467.8 L127.0,2467.8 L128.0,2467.7 L129.0,2467.7 L130.0,2467.7 L131.0,2467.7 L132.0,2467.6 L133.0,2467.6 L134.0,2467.6 L135.0,2467.5 L136.0,2467.5 L137.0,2467.5 L138.0,2467.4 L139.0,2467.4 L140.0,2467.3 L141.0,2467.3 L142.0,2467.2 L143.0,2467.2 L144.0,2467.1 L145.0,2467.0 L146.0,2467.0 L147.0,2466.9 L148.0,2466.8 L149.0,2466.7 L150.0,2466.6 L151.0,2466.5 L152.0,2466.4 L153.0,2466.3 L154.0,2466.2 L155.0,2466.1 L156.0,2465.9 L157.0,2465.8 L158.0,2465.7 L159.0,2465.5 L160.0,2465.3 L161.0,2465.2 L162.0,2465.0 L163.0,2464.8 L164.0,2464.6 L165.0,2464.4 L166.0,2464.2 L167.0,2463.9 L168.0,2463.7 L169.0,2463.4 L170.0,2463.2 L171.0,2462.9 L172.0,2462.6 L173.0,2462.3 L174.0,2462.0 L175.0,2461.7 L176.0,2461.3 L177.0,2461.0 L178.0,2460.6 L179.0,2460.3 L180.0,2459.9 L181.0,2459.5 L182.0,2459.1 L183.0,2458.6 L184.0,2458.2 L185.0,2457.8 L186.0,2457.3 L187.0,2456.8 L188.0,2456.3 L189.0,2455.9 L190.0,2455.3 L191.0,2454.8 L192.0,2454.3 L193.0,2453.8 L194.0,2453.2 L195.0,2452.7 L196.0,2452.1 L197.0,2451.6 L198.0,2451.0 L199.0,2450.4 L200.0,2449.9 L201.0,2449.3 L202.0,2448.7 L203.0,2448.1 L204.0,2447.5 L205.0,2446.9 L206.0,2446.4 L207.0,2445.8 L208.0,2445.2 L209.0,2444.6 L210.0,2444.1 L211.0,2443.5 L212.0,2442.9 L213.0,2442.4 L214.0,2441.9 L215.0,2441.4 L216.0,2440.9 L217.0,2440.4 L218.0,2439.9 L219.0,2439.4 L220.0,2439.0 L221.0,2438.6 L222.0,2438.2 L223.0,2437.8 L224.0,2437.5 L225.0,2437.1 L226.0,2436.8 L227.0,2436.5 L228.0,2436.3 L229.0,2436.1 L230.0,2435.9 L231.0,2435.7 L232.0,2435.6 L233.0,2435.4 L234.0,2435.4 L235.0,2435.3 L236.0,2435.3 L237.0,2435.3 L238.0,2435.4 L239.0,2435.4 L240.0,2435.5 L241.0,2435.7 L242.0,2435.8 L243.0,2436.0 L244.0,2436.2 L245.0,2436.5 L246.0,2436.8 L247.0,2437.1 L248.0,2437.4 L249.0,2437.7 L250.0,2438.1 L251.0,2438.5 L252.0,2438.9 L253.0,2439.3 L254.0,2439.8 L255.0,2440.3 L256.0,2440.8 L257.0,2441.3 L258.0,2441.8 L259.0,2442.3 L260.0,2442.8 L261.0,2443.4 L262.0,2443.9 L263.0,2444.5 L264.0,2445.1 L265.0,2445.7 L266.0,2446.2 L267.0,2446.8 L268.0,2447.4 L269.0,2448.0 L270.0,2448.6 L271.0,2449.2 L272.0,2449.7 L273.0,2450.3 L274.0,2450.9 L275.0,2451.5 L276.0,2452.0 L277.0,2452.6 L278.0,2453.1 L279.0,2453.7 L280.0,2454.2 L281.0,2454.7 L282.0,2455.2 L283.0,2455.8 L284.0,2456.2 L285.0,2456.7 L286.0,2457.2 L287.0,2457.7 L288.0,2458.1 L289.0,2458.6 L290.0,2459.0 L291.0,2459.4 L292.0,2459.8 L293.0,2460.2 L294.0,2460.6 L295.0,2460.9 L296.0,2461.3 L297.0,2461.6 L298.0,2461.9 L299.0,2462.2 L300.0,2462.5 L301.0,2462.8 L302.0,2463.1 L303.0,2463.4 L304.0,2463.6 L305.0,2463.9 L306.0,2464.1 L307.0,2464.3 L308.0,2464.5 L309.0,2464.7 L310.0,2464.9 L311.0,2465.1 L312.0,2465.3 L313.0,2465.5 L314.0,2465.6 L315.0,2465.8 L316.0,2465.9 L317.0,2466.0 L318.0,2466.2 L319.0,2466.3 L320.0,2466.4 L321.0,2466.5 L322.0,2466.6 L323.0,2466.7 L324.0,2466.8 L325.0,2466.9 L326.0,2466.9 L327.0,2467.0 L328.0,2467.1 L329.0,2467.2 L330.0,2467.2 L331.0,2467.3 L332.0,2467.3 L333.0,2467.4 L334.0,2467.4 L335.0,2467.5 L336.0,2467.5 L337.0,2467.5 L338.0,2467.6 L339.0,2467.6 L340.0,2467.6 L341.0,2467.7 L342.0,2467.7 L343.0,2467.7 L344.0,2467.7 L345.0,2467.8 L346.0,2467.8 L347.0,2467.8 L348.0,2467.8 L349.0,2467.8 L350.0,2467.9 L351.0,2467.9 L352.0,2467.9 L353.0,2467.9 L354.0,2467.9 L355.0,2467.9 L356.0,2467.9 L357.0,2467.9 L358.0,2467.9 L359.0,2468.0 L360.0,2468.0 L361.0,2468.0 L362.0,2468.0 L363.0,2468.0 L364.0,2468.0 L365.0,2468.0 L366.0,2468.0 L367.0,2468.0 L368.0,2468.0 L369.0,2468.0 L370.0,2468.0 L371.0,2468.0 L372.0,2468.0 L373.0,2468.0 L374.0,2468.0 L375.0,2468.0 L376.0,2468.1" fill="none" stroke="#348080" stroke-width="1.7" stroke-linejoin="round"/>
<path d="M195.0,2468.1 L196.0,2468.0 L197.0,2468.0 L198.0,2468.0 L199.0,2467.9 L200.0,2467.8 L201.0,2467.8 L202.0,2467.7 L203.0,2467.6 L204.0,2467.5 L205.0,2467.4 L206.0,2467.3 L207.0,2467.1 L208.0,2466.9 L209.0,2466.8 L210.0,2466.6 L211.0,2466.3 L212.0,2466.1 L213.0,2465.8 L214.0,2465.5 L215.0,2465.1 L216.0,2464.7 L217.0,2464.3 L218.0,2463.8 L219.0,2463.3 L220.0,2462.7 L221.0,2462.1 L222.0,2461.4 L223.0,2460.7 L224.0,2459.9 L225.0,2459.0 L226.0,2458.0 L227.0,2457.0 L228.0,2455.8 L229.0,2454.6 L230.0,2453.3 L231.0,2451.9 L232.0,2450.4 L233.0,2448.7 L234.0,2447.0 L235.0,2445.1 L236.0,2443.1 L237.0,2441.0 L238.0,2438.8 L239.0,2436.4 L240.0,2433.9 L241.0,2431.3 L242.0,2428.5 L243.0,2425.6 L244.0,2422.6 L245.0,2419.4 L246.0,2416.1 L247.0,2412.6 L248.0,2409.0 L249.0,2405.3 L250.0,2401.5 L251.0,2397.6 L252.0,2393.5 L253.0,2389.4 L254.0,2385.1 L255.0,2380.8 L256.0,2376.4 L257.0,2371.9 L258.0,2367.4 L259.0,2362.8 L260.0,2358.3 L261.0,2353.7 L262.0,2349.1 L263.0,2344.5 L264.0,2340.0 L265.0,2335.5 L266.0,2331.1 L267.0,2326.8 L268.0,2322.6 L269.0,2318.5 L270.0,2314.5 L271.0,2310.7 L272.0,2307.1 L273.0,2303.7 L274.0,2300.4 L275.0,2297.4 L276.0,2294.6 L277.0,2292.1 L278.0,2289.8 L279.0,2287.8 L280.0,2286.1 L281.0,2284.6 L282.0,2283.5 L283.0,2282.6 L284.0,2282.1 L285.0,2281.8 L286.0,2281.9 L287.0,2282.2 L288.0,2282.9 L289.0,2283.9 L290.0,2285.2 L291.0,2286.7 L292.0,2288.6 L293.0,2290.7 L294.0,2293.1 L295.0,2295.7 L296.0,2298.6 L297.0,2301.7 L298.0,2305.0 L299.0,2308.5 L300.0,2312.2 L301.0,2316.1 L302.0,2320.1 L303.0,2324.2 L304.0,2328.5 L305.0,2332.9 L306.0,2337.3 L307.0,2341.8 L308.0,2346.3 L309.0,2350.9 L310.0,2355.5 L311.0,2360.1 L312.0,2364.7 L313.0,2369.2 L314.0,2373.7 L315.0,2378.2 L316.0,2382.5 L317.0,2386.8 L318.0,2391.0 L319.0,2395.2 L320.0,2399.2 L321.0,2403.1 L322.0,2406.8 L323.0,2410.5 L324.0,2414.0 L325.0,2417.4 L326.0,2420.7 L327.0,2423.8 L328.0,2426.8 L329.0,2429.6 L330.0,2432.4 L331.0,2434.9 L332.0,2437.4 L333.0,2439.7 L334.0,2441.9 L335.0,2443.9 L336.0,2445.9 L337.0,2447.7 L338.0,2449.4 L339.0,2451.0 L340.0,2452.5 L341.0,2453.8 L342.0,2455.1 L343.0,2456.3 L344.0,2457.4 L345.0,2458.4 L346.0,2459.3 L347.0,2460.2 L348.0,2461.0 L349.0,2461.7 L350.0,2462.4 L351.0,2463.0 L352.0,2463.5 L353.0,2464.0 L354.0,2464.5 L355.0,2464.9 L356.0,2465.3 L357.0,2465.6 L358.0,2465.9 L359.0,2466.2 L360.0,2466.4 L361.0,2466.6 L362.0,2466.8 L363.0,2467.0 L364.0,2467.2 L365.0,2467.3 L366.0,2467.4 L367.0,2467.5 L368.0,2467.6 L369.0,2467.7 L370.0,2467.8 L371.0,2467.9 L372.0,2467.9 L373.0,2468.0 L374.0,2468.0 L375.0,2468.1" fill="none" stroke="#348080" stroke-width="1.7" stroke-linejoin="round"/>
<path d="M79.0,2467.6 L80.0,2467.6 L81.0,2467.6 L82.0,2467.6 L83.0,2467.6 L84.0,2467.6 L85.0,2467.6 L86.0,2467.6 L87.0,2467.6 L88.0,2467.6 L89.0,2467.5 L90.0,2467.5 L91.0,2467.5 L92.0,2467.5 L93.0,2467.5 L94.0,2467.5 L95.0,2467.5 L96.0,2467.5 L97.0,2467.5 L98.0,2467.5 L99.0,2467.5 L100.0,2467.5 L101.0,2467.5 L102.0,2467.5 L103.0,2467.5 L104.0,2467.5 L105.0,2467.4 L106.0,2467.4 L107.0,2467.4 L108.0,2467.4 L109.0,2467.4 L110.0,2467.4 L111.0,2467.4 L112.0,2467.4 L113.0,2467.4 L114.0,2467.4 L115.0,2467.4 L116.0,2467.4 L117.0,2467.4 L118.0,2467.3 L119.0,2467.3 L120.0,2467.3 L121.0,2467.3 L122.0,2467.3 L123.0,2467.3 L124.0,2467.3 L125.0,2467.3 L126.0,2467.3 L127.0,2467.3 L128.0,2467.3 L129.0,2467.2 L130.0,2467.2 L131.0,2467.2 L132.0,2467.2 L133.0,2467.2 L134.0,2467.2 L135.0,2467.2 L136.0,2467.2 L137.0,2467.2 L138.0,2467.2 L139.0,2467.1 L140.0,2467.1 L141.0,2467.1 L142.0,2467.1 L143.0,2467.1 L144.0,2467.1 L145.0,2467.1 L146.0,2467.1 L147.0,2467.1 L148.0,2467.0 L149.0,2467.0 L150.0,2467.0 L151.0,2467.0 L152.0,2467.0 L153.0,2467.0 L154.0,2467.0 L155.0,2466.9 L156.0,2466.9 L157.0,2466.9 L158.0,2466.9 L159.0,2466.9 L160.0,2466.9 L161.0,2466.9 L162.0,2466.8 L163.0,2466.8 L164.0,2466.8 L165.0,2466.8 L166.0,2466.8 L167.0,2466.8 L168.0,2466.7 L169.0,2466.7 L170.0,2466.7 L171.0,2466.7 L172.0,2466.7 L173.0,2466.7 L174.0,2466.6 L175.0,2466.6 L176.0,2466.6 L177.0,2466.6 L178.0,2466.6 L179.0,2466.5 L180.0,2466.5 L181.0,2466.5 L182.0,2466.5 L183.0,2466.4 L184.0,2466.4 L185.0,2466.4 L186.0,2466.4 L187.0,2466.4 L188.0,2466.3 L189.0,2466.3 L190.0,2466.3 L191.0,2466.2 L192.0,2466.2 L193.0,2466.2 L194.0,2466.2 L195.0,2466.1 L196.0,2466.1 L197.0,2466.1 L198.0,2466.0 L199.0,2466.0 L200.0,2466.0 L201.0,2465.9 L202.0,2465.9 L203.0,2465.9 L204.0,2465.8 L205.0,2465.8 L206.0,2465.7 L207.0,2465.7 L208.0,2465.6 L209.0,2465.6 L210.0,2465.6 L211.0,2465.5 L212.0,2465.4 L213.0,2465.4 L214.0,2465.3 L215.0,2465.3 L216.0,2465.2 L217.0,2465.1 L218.0,2465.0 L219.0,2465.0 L220.0,2464.9 L221.0,2464.8 L222.0,2464.7 L223.0,2464.6 L224.0,2464.5 L225.0,2464.4 L226.0,2464.2 L227.0,2464.1 L228.0,2464.0 L229.0,2463.8 L230.0,2463.6 L231.0,2463.5 L232.0,2463.3 L233.0,2463.1 L234.0,2462.9 L235.0,2462.6 L236.0,2462.4 L237.0,2462.1 L238.0,2461.8 L239.0,2461.5 L240.0,2461.2 L241.0,2460.8 L242.0,2460.5 L243.0,2460.1 L244.0,2459.6 L245.0,2459.2 L246.0,2458.7 L247.0,2458.1 L248.0,2457.6 L249.0,2457.0 L250.0,2456.3 L251.0,2455.6 L252.0,2454.9 L253.0,2454.1 L254.0,2453.3 L255.0,2452.4 L256.0,2451.5 L257.0,2450.5 L258.0,2449.4 L259.0,2448.3 L260.0,2447.1 L261.0,2445.8 L262.0,2444.5 L263.0,2443.1 L264.0,2441.6 L265.0,2440.0 L266.0,2438.3 L267.0,2436.5 L268.0,2434.7 L269.0,2432.8 L270.0,2430.7 L271.0,2428.6 L272.0,2426.3 L273.0,2424.0 L274.0,2421.5 L275.0,2418.9 L276.0,2416.2 L277.0,2413.4 L278.0,2410.5 L279.0,2407.5 L280.0,2404.3 L281.0,2401.0 L282.0,2397.6 L283.0,2394.1 L284.0,2390.4 L285.0,2386.6 L286.0,2382.7 L287.0,2378.7 L288.0,2374.5 L289.0,2370.3 L290.0,2365.9 L291.0,2361.4 L292.0,2356.7 L293.0,2352.0 L294.0,2347.2 L295.0,2342.2 L296.0,2337.2 L297.0,2332.0 L298.0,2326.8 L299.0,2321.5 L300.0,2316.1 L301.0,2310.6 L302.0,2305.1 L303.0,2299.5 L304.0,2293.8 L305.0,2288.2 L306.0,2282.5 L307.0,2276.7 L308.0,2271.0 L309.0,2265.2 L310.0,2259.5 L311.0,2253.8 L312.0,2248.1 L313.0,2242.5 L314.0,2236.9 L315.0,2231.3 L316.0,2225.9 L317.0,2220.5 L318.0,2215.3 L319.0,2210.1 L320.0,2205.1 L321.0,2200.2 L322.0,2195.5 L323.0,2190.9 L324.0,2186.5 L325.0,2182.3 L326.0,2178.3 L327.0,2174.5 L328.0,2170.9 L329.0,2167.6 L330.0,2164.5 L331.0,2161.6 L332.0,2159.0 L333.0,2156.7 L334.0,2154.7 L335.0,2152.9 L336.0,2151.4 L337.0,2150.3 L338.0,2149.4 L339.0,2148.8 L340.0,2148.5 L341.0,2148.6 L342.0,2148.9 L343.0,2149.6 L344.0,2150.6 L345.0,2152.0 L346.0,2153.6 L347.0,2155.6 L348.0,2157.8 L349.0,2160.4 L350.0,2163.2 L351.0,2166.4 L352.0,2169.8 L353.0,2173.4 L354.0,2177.3 L355.0,2181.4 L356.0,2185.8 L357.0,2190.3 L358.0,2195.0 L359.0,2199.9 L360.0,2205.0 L361.0,2210.2 L362.0,2215.6 L363.0,2221.1 L364.0,2226.7 L365.0,2232.3 L366.0,2238.1 L367.0,2243.9 L368.0,2249.8 L369.0,2255.8 L370.0,2261.7 L371.0,2267.7 L372.0,2273.7 L373.0,2279.6 L374.0,2285.6 L375.0,2291.5 L376.0,2297.4 L377.0,2303.2 L378.0,2309.0 L379.0,2314.7 L380.0,2320.3 L381.0,2325.8 L382.0,2331.3 L383.0,2336.7 L384.0,2341.9 L385.0,2347.1 L386.0,2352.1 L387.0,2357.0 L388.0,2361.8 L389.0,2366.5 L390.0,2371.1 L391.0,2375.5 L392.0,2379.8 L393.0,2383.9 L394.0,2387.9 L395.0,2391.8 L396.0,2395.6 L397.0,2399.2 L398.0,2402.7 L399.0,2406.0 L400.0,2409.3 L401.0,2412.3 L402.0,2415.3 L403.0,2418.1 L404.0,2420.8 L405.0,2423.4 L406.0,2425.9 L407.0,2428.3 L408.0,2430.5 L409.0,2432.6 L410.0,2434.7 L411.0,2436.6 L412.0,2438.4 L413.0,2440.1 L414.0,2441.8 L415.0,2443.3 L416.0,2444.8 L417.0,2446.2 L418.0,2447.4 L419.0,2448.7 L420.0,2449.8 L421.0,2450.9 L422.0,2451.9 L423.0,2452.9 L424.0,2453.8 L425.0,2454.6 L426.0,2455.4 L427.0,2456.1 L428.0,2456.8 L429.0,2457.4 L430.0,2458.0 L431.0,2458.6 L432.0,2459.1 L433.0,2459.6 L434.0,2460.0 L435.0,2460.5 L436.0,2460.9 L437.0,2461.2 L438.0,2461.6 L439.0,2461.9 L440.0,2462.2 L441.0,2462.4 L442.0,2462.7 L443.0,2462.9 L444.0,2463.1 L445.0,2463.3 L446.0,2463.5 L447.0,2463.7 L448.0,2463.9 L449.0,2464.0 L450.0,2464.2 L451.0,2464.3 L452.0,2464.4 L453.0,2464.6 L454.0,2464.7 L455.0,2464.8 L456.0,2464.9 L457.0,2464.9 L458.0,2465.0 L459.0,2465.1 L460.0,2465.2 L461.0,2465.3 L462.0,2465.3 L463.0,2465.4 L464.0,2465.4 L465.0,2465.5 L466.0,2465.6 L467.0,2465.6 L468.0,2465.7 L469.0,2465.7 L470.0,2465.8 L471.0,2465.8 L472.0,2465.8 L473.0,2465.9 L474.0,2465.9 L475.0,2466.0 L476.0,2466.0 L477.0,2466.0 L478.0,2466.1 L479.0,2466.1 L480.0,2466.1 L481.0,2466.2 L482.0,2466.2 L483.0,2466.2 L484.0,2466.2 L485.0,2466.3 L486.0,2466.3 L487.0,2466.3 L488.0,2466.4 L489.0,2466.4 L490.0,2466.4 L491.0,2466.4 L492.0,2466.5 L493.0,2466.5 L494.0,2466.5 L495.0,2466.5 L496.0,2466.5 L497.0,2466.6 L498.0,2466.6 L499.0,2466.6 L500.0,2466.6 L501.0,2466.6 L502.0,2466.7 L503.0,2466.7 L504.0,2466.7 L505.0,2466.7 L506.0,2466.7 L507.0,2466.8 L508.0,2466.8 L509.0,2466.8 L510.0,2466.8 L511.0,2466.8 L512.0,2466.8 L513.0,2466.9 L514.0,2466.9 L515.0,2466.9 L516.0,2466.9 L517.0,2466.9 L518.0,2466.9 L519.0,2466.9 L520.0,2467.0 L521.0,2467.0 L522.0,2467.0 L523.0,2467.0 L524.0,2467.0 L525.0,2467.0 L526.0,2467.0 L527.0,2467.1 L528.0,2467.1 L529.0,2467.1 L530.0,2467.1 L531.0,2467.1 L532.0,2467.1 L533.0,2467.1 L534.0,2467.1 L535.0,2467.2 L536.0,2467.2 L537.0,2467.2 L538.0,2467.2 L539.0,2467.2 L540.0,2467.2 L541.0,2467.2 L542.0,2467.2 L543.0,2467.2 L544.0,2467.3 L545.0,2467.3 L546.0,2467.3 L547.0,2467.3 L548.0,2467.3 L549.0,2467.3 L550.0,2467.3 L551.0,2467.3 L552.0,2467.3 L553.0,2467.3 L554.0,2467.3 L555.0,2467.4 L556.0,2467.4 L557.0,2467.4 L558.0,2467.4 L559.0,2467.4 L560.0,2467.4 L561.0,2467.4 L562.0,2467.4 L563.0,2467.4 L564.0,2467.4 L565.0,2467.4 L566.0,2467.4 L567.0,2467.4 L568.0,2467.5 L569.0,2467.5 L570.0,2467.5 L571.0,2467.5 L572.0,2467.5 L573.0,2467.5 L574.0,2467.5 L575.0,2467.5 L576.0,2467.5 L577.0,2467.5 L578.0,2467.5 L579.0,2467.5 L580.0,2467.5 L581.0,2467.5 L582.0,2467.5 L583.0,2467.6 L584.0,2467.6 L585.0,2467.6 L586.0,2467.6 L587.0,2467.6 L588.0,2467.6 L589.0,2467.6 L590.0,2467.6 L591.0,2467.6 L592.0,2467.6 L593.0,2467.6 L594.0,2467.6 L595.0,2467.6 L596.0,2467.6 L597.0,2467.6 L598.0,2467.6 L599.0,2467.6 L600.0,2467.6 L601.0,2467.7 L602.0,2467.7 L603.0,2467.7 L604.0,2467.7 L605.0,2467.7 L606.0,2467.7 L607.0,2467.7 L608.0,2467.7 L609.0,2467.7 L610.0,2467.7 L611.0,2467.7 L612.0,2467.7 L613.0,2467.7 L614.0,2467.7 L615.0,2467.7 L616.0,2467.7 L617.0,2467.7 L618.0,2467.7 L619.0,2467.7 L620.0,2467.7 L621.0,2467.7 L622.0,2467.7 L623.0,2467.7 L624.0,2467.8 L625.0,2467.8 L626.0,2467.8 L627.0,2467.8 L628.0,2467.8 L629.0,2467.8 L630.0,2467.8 L631.0,2467.8 L632.0,2467.8 L633.0,2467.8 L634.0,2467.8 L635.0,2467.8 L636.0,2467.8 L637.0,2467.8 L638.0,2467.8 L639.0,2467.8 L640.0,2467.8 L641.0,2467.8 L642.0,2467.8 L643.0,2467.8 L644.0,2467.8 L645.0,2467.8 L646.0,2467.8 L647.0,2467.8 L648.0,2467.8 L649.0,2467.8 L650.0,2467.8 L651.0,2467.8 L652.0,2467.8 L653.0,2467.8 L654.0,2467.8 L655.0,2467.9 L656.0,2467.9 L657.0,2467.9 L658.0,2467.9 L659.0,2467.9 L660.0,2467.9 L661.0,2467.9 L662.0,2467.9 L663.0,2467.9 L664.0,2467.9 L665.0,2467.9 L666.0,2467.9 L667.0,2467.9 L668.0,2467.9 L669.0,2467.9 L670.0,2467.9 L671.0,2467.9 L672.0,2467.9 L673.0,2467.9 L674.0,2467.9 L675.0,2467.9 L676.0,2467.9 L677.0,2467.9 L678.0,2467.9 L679.0,2467.9 L680.0,2467.9 L681.0,2467.9 L682.0,2467.9 L683.0,2467.9 L684.0,2467.9 L685.0,2467.9 L686.0,2467.9 L687.0,2467.9 L688.0,2467.9 L689.0,2467.9 L690.0,2467.9 L691.0,2467.9 L692.0,2467.9 L693.0,2467.9 L694.0,2467.9 L695.0,2467.9 L696.0,2467.9 L697.0,2468.0 L698.0,2468.0 L699.0,2468.0 L700.0,2468.0 L701.0,2468.0 L702.0,2468.0 L703.0,2468.0 L704.0,2468.0 L705.0,2468.0 L706.0,2468.0 L707.0,2468.0 L708.0,2468.0 L709.0,2468.0 L710.0,2468.0 L711.0,2468.0 L712.0,2468.0 L713.0,2468.0 L714.0,2468.0 L715.0,2468.0 L716.0,2468.0 L717.0,2468.0 L718.0,2468.0 L719.0,2468.0 L720.0,2468.0 L721.0,2468.0 L722.0,2468.0 L723.0,2468.0 L724.0,2468.0 L725.0,2468.0 L726.0,2468.0 L727.0,2468.0 L728.0,2468.0 L729.0,2468.0 L730.0,2468.0 L731.0,2468.0 L732.0,2468.0 L733.0,2468.0 L734.0,2468.0 L735.0,2468.0 L736.0,2468.0 L737.0,2468.0 L738.0,2468.0 L739.0,2468.0 L740.0,2468.0 L741.0,2468.0 L742.0,2468.0 L743.0,2468.0 L744.0,2468.0 L745.0,2468.0 L746.0,2468.0 L747.0,2468.0 L748.0,2468.0 L749.0,2468.0 L750.0,2468.0 L751.0,2468.0 L752.0,2468.0 L753.0,2468.0 L754.0,2468.0 L755.0,2468.0 L756.0,2468.0 L757.0,2468.0 L758.0,2468.0 L759.0,2468.0 L760.0,2468.0 L761.0,2468.0 L762.0,2468.0 L763.0,2468.1" fill="none" stroke="#348080" stroke-width="1.7" stroke-linejoin="round"/>
<path d="M79.0,2467.0 L80.0,2467.0 L81.0,2467.0 L82.0,2467.0 L83.0,2467.0 L84.0,2467.0 L85.0,2467.0 L86.0,2467.0 L87.0,2467.0 L88.0,2467.0 L89.0,2467.0 L90.0,2467.0 L91.0,2466.9 L92.0,2466.9 L93.0,2466.9 L94.0,2466.9 L95.0,2466.9 L96.0,2466.9 L97.0,2466.9 L98.0,2466.9 L99.0,2466.9 L100.0,2466.9 L101.0,2466.9 L102.0,2466.9 L103.0,2466.8 L104.0,2466.8 L105.0,2466.8 L106.0,2466.8 L107.0,2466.8 L108.0,2466.8 L109.0,2466.8 L110.0,2466.8 L111.0,2466.8 L112.0,2466.8 L113.0,2466.7 L114.0,2466.7 L115.0,2466.7 L116.0,2466.7 L117.0,2466.7 L118.0,2466.7 L119.0,2466.7 L120.0,2466.7 L121.0,2466.7 L122.0,2466.6 L123.0,2466.6 L124.0,2466.6 L125.0,2466.6 L126.0,2466.6 L127.0,2466.6 L128.0,2466.6 L129.0,2466.6 L130.0,2466.6 L131.0,2466.5 L132.0,2466.5 L133.0,2466.5 L134.0,2466.5 L135.0,2466.5 L136.0,2466.5 L137.0,2466.5 L138.0,2466.4 L139.0,2466.4 L140.0,2466.4 L141.0,2466.4 L142.0,2466.4 L143.0,2466.4 L144.0,2466.4 L145.0,2466.4 L146.0,2466.3 L147.0,2466.3 L148.0,2466.3 L149.0,2466.3 L150.0,2466.3 L151.0,2466.3 L152.0,2466.2 L153.0,2466.2 L154.0,2466.2 L155.0,2466.2 L156.0,2466.2 L157.0,2466.2 L158.0,2466.1 L159.0,2466.1 L160.0,2466.1 L161.0,2466.1 L162.0,2466.1 L163.0,2466.1 L164.0,2466.0 L165.0,2466.0 L166.0,2466.0 L167.0,2466.0 L168.0,2466.0 L169.0,2466.0 L170.0,2465.9 L171.0,2465.9 L172.0,2465.9 L173.0,2465.9 L174.0,2465.9 L175.0,2465.8 L176.0,2465.8 L177.0,2465.8 L178.0,2465.8 L179.0,2465.7 L180.0,2465.7 L181.0,2465.7 L182.0,2465.7 L183.0,2465.7 L184.0,2465.6 L185.0,2465.6 L186.0,2465.6 L187.0,2465.6 L188.0,2465.5 L189.0,2465.5 L190.0,2465.5 L191.0,2465.5 L192.0,2465.4 L193.0,2465.4 L194.0,2465.4 L195.0,2465.4 L196.0,2465.3 L197.0,2465.3 L198.0,2465.3 L199.0,2465.3 L200.0,2465.2 L201.0,2465.2 L202.0,2465.2 L203.0,2465.1 L204.0,2465.1 L205.0,2465.1 L206.0,2465.0 L207.0,2465.0 L208.0,2465.0 L209.0,2464.9 L210.0,2464.9 L211.0,2464.9 L212.0,2464.9 L213.0,2464.8 L214.0,2464.8 L215.0,2464.7 L216.0,2464.7 L217.0,2464.7 L218.0,2464.6 L219.0,2464.6 L220.0,2464.6 L221.0,2464.5 L222.0,2464.5 L223.0,2464.4 L224.0,2464.4 L225.0,2464.4 L226.0,2464.3 L227.0,2464.3 L228.0,2464.2 L229.0,2464.2 L230.0,2464.2 L231.0,2464.1 L232.0,2464.1 L233.0,2464.0 L234.0,2464.0 L235.0,2463.9 L236.0,2463.9 L237.0,2463.8 L238.0,2463.8 L239.0,2463.7 L240.0,2463.7 L241.0,2463.6 L242.0,2463.6 L243.0,2463.5 L244.0,2463.4 L245.0,2463.4 L246.0,2463.3 L247.0,2463.3 L248.0,2463.2 L249.0,2463.2 L250.0,2463.1 L251.0,2463.0 L252.0,2463.0 L253.0,2462.9 L254.0,2462.8 L255.0,2462.8 L256.0,2462.7 L257.0,2462.6 L258.0,2462.5 L259.0,2462.5 L260.0,2462.4 L261.0,2462.3 L262.0,2462.2 L263.0,2462.1 L264.0,2462.1 L265.0,2462.0 L266.0,2461.9 L267.0,2461.8 L268.0,2461.7 L269.0,2461.6 L270.0,2461.5 L271.0,2461.4 L272.0,2461.3 L273.0,2461.1 L274.0,2461.0 L275.0,2460.9 L276.0,2460.8 L277.0,2460.6 L278.0,2460.5 L279.0,2460.4 L280.0,2460.2 L281.0,2460.1 L282.0,2459.9 L283.0,2459.7 L284.0,2459.6 L285.0,2459.4 L286.0,2459.2 L287.0,2459.0 L288.0,2458.8 L289.0,2458.5 L290.0,2458.3 L291.0,2458.0 L292.0,2457.8 L293.0,2457.5 L294.0,2457.2 L295.0,2456.9 L296.0,2456.6 L297.0,2456.2 L298.0,2455.9 L299.0,2455.5 L300.0,2455.1 L301.0,2454.7 L302.0,2454.2 L303.0,2453.7 L304.0,2453.2 L305.0,2452.7 L306.0,2452.1 L307.0,2451.5 L308.0,2450.8 L309.0,2450.2 L310.0,2449.4 L311.0,2448.7 L312.0,2447.9 L313.0,2447.0 L314.0,2446.1 L315.0,2445.2 L316.0,2444.2 L317.0,2443.1 L318.0,2442.0 L319.0,2440.8 L320.0,2439.5 L321.0,2438.2 L322.0,2436.8 L323.0,2435.3 L324.0,2433.8 L325.0,2432.2 L326.0,2430.4 L327.0,2428.7 L328.0,2426.8 L329.0,2424.8 L330.0,2422.7 L331.0,2420.5 L332.0,2418.2 L333.0,2415.9 L334.0,2413.4 L335.0,2410.7 L336.0,2408.0 L337.0,2405.2 L338.0,2402.2 L339.0,2399.1 L340.0,2395.9 L341.0,2392.6 L342.0,2389.1 L343.0,2385.5 L344.0,2381.8 L345.0,2377.9 L346.0,2373.9 L347.0,2369.8 L348.0,2365.5 L349.0,2361.1 L350.0,2356.6 L351.0,2351.9 L352.0,2347.0 L353.0,2342.1 L354.0,2337.0 L355.0,2331.8 L356.0,2326.4 L357.0,2320.9 L358.0,2315.3 L359.0,2309.6 L360.0,2303.7 L361.0,2297.8 L362.0,2291.7 L363.0,2285.5 L364.0,2279.2 L365.0,2272.9 L366.0,2266.4 L367.0,2259.9 L368.0,2253.3 L369.0,2246.6 L370.0,2239.9 L371.0,2233.1 L372.0,2226.3 L373.0,2219.4 L374.0,2212.6 L375.0,2205.7 L376.0,2198.8 L377.0,2192.0 L378.0,2185.2 L379.0,2178.4 L380.0,2171.7 L381.0,2165.0 L382.0,2158.4 L383.0,2151.9 L384.0,2145.5 L385.0,2139.3 L386.0,2133.1 L387.0,2127.1 L388.0,2121.3 L389.0,2115.6 L390.0,2110.2 L391.0,2104.9 L392.0,2099.9 L393.0,2095.1 L394.0,2090.5 L395.0,2086.3 L396.0,2082.2 L397.0,2078.5 L398.0,2075.1 L399.0,2072.0 L400.0,2069.2 L401.0,2066.7 L402.0,2064.6 L403.0,2062.8 L404.0,2061.4 L405.0,2060.4 L406.0,2059.7 L407.0,2059.3 L408.0,2059.4 L409.0,2059.8 L410.0,2060.5 L411.0,2061.7 L412.0,2063.2 L413.0,2065.0 L414.0,2067.2 L415.0,2069.7 L416.0,2072.6 L417.0,2075.8 L418.0,2079.2 L419.0,2083.0 L420.0,2087.1 L421.0,2091.4 L422.0,2096.0 L423.0,2100.9 L424.0,2106.0 L425.0,2111.3 L426.0,2116.8 L427.0,2122.4 L428.0,2128.3 L429.0,2134.3 L430.0,2140.5 L431.0,2146.8 L432.0,2153.2 L433.0,2159.7 L434.0,2166.3 L435.0,2173.0 L436.0,2179.7 L437.0,2186.5 L438.0,2193.4 L439.0,2200.2 L440.0,2207.1 L441.0,2213.9 L442.0,2220.8 L443.0,2227.6 L444.0,2234.4 L445.0,2241.2 L446.0,2247.9 L447.0,2254.6 L448.0,2261.2 L449.0,2267.7 L450.0,2274.1 L451.0,2280.5 L452.0,2286.7 L453.0,2292.9 L454.0,2299.0 L455.0,2304.9 L456.0,2310.7 L457.0,2316.4 L458.0,2322.0 L459.0,2327.5 L460.0,2332.8 L461.0,2338.0 L462.0,2343.1 L463.0,2348.0 L464.0,2352.8 L465.0,2357.5 L466.0,2362.0 L467.0,2366.4 L468.0,2370.6 L469.0,2374.7 L470.0,2378.7 L471.0,2382.6 L472.0,2386.3 L473.0,2389.8 L474.0,2393.3 L475.0,2396.6 L476.0,2399.8 L477.0,2402.8 L478.0,2405.8 L479.0,2408.6 L480.0,2411.3 L481.0,2413.9 L482.0,2416.3 L483.0,2418.7 L484.0,2421.0 L485.0,2423.1 L486.0,2425.2 L487.0,2427.1 L488.0,2429.0 L489.0,2430.8 L490.0,2432.5 L491.0,2434.1 L492.0,2435.6 L493.0,2437.1 L494.0,2438.5 L495.0,2439.8 L496.0,2441.0 L497.0,2442.2 L498.0,2443.3 L499.0,2444.4 L500.0,2445.4 L501.0,2446.3 L502.0,2447.2 L503.0,2448.0 L504.0,2448.8 L505.0,2449.6 L506.0,2450.3 L507.0,2451.0 L508.0,2451.6 L509.0,2452.2 L510.0,2452.8 L511.0,2453.3 L512.0,2453.8 L513.0,2454.3 L514.0,2454.7 L515.0,2455.2 L516.0,2455.6 L517.0,2455.9 L518.0,2456.3 L519.0,2456.6 L520.0,2457.0 L521.0,2457.3 L522.0,2457.6 L523.0,2457.8 L524.0,2458.1 L525.0,2458.3 L526.0,2458.6 L527.0,2458.8 L528.0,2459.0 L529.0,2459.2 L530.0,2459.4 L531.0,2459.6 L532.0,2459.8 L533.0,2459.9 L534.0,2460.1 L535.0,2460.2 L536.0,2460.4 L537.0,2460.5 L538.0,2460.7 L539.0,2460.8 L540.0,2460.9 L541.0,2461.1 L542.0,2461.2 L543.0,2461.3 L544.0,2461.4 L545.0,2461.5 L546.0,2461.6 L547.0,2461.7 L548.0,2461.8 L549.0,2461.9 L550.0,2462.0 L551.0,2462.1 L552.0,2462.2 L553.0,2462.2 L554.0,2462.3 L555.0,2462.4 L556.0,2462.5 L557.0,2462.6 L558.0,2462.6 L559.0,2462.7 L560.0,2462.8 L561.0,2462.8 L562.0,2462.9 L563.0,2463.0 L564.0,2463.0 L565.0,2463.1 L566.0,2463.2 L567.0,2463.2 L568.0,2463.3 L569.0,2463.3 L570.0,2463.4 L571.0,2463.5 L572.0,2463.5 L573.0,2463.6 L574.0,2463.6 L575.0,2463.7 L576.0,2463.7 L577.0,2463.8 L578.0,2463.8 L579.0,2463.9 L580.0,2463.9 L581.0,2464.0 L582.0,2464.0 L583.0,2464.1 L584.0,2464.1 L585.0,2464.2 L586.0,2464.2 L587.0,2464.2 L588.0,2464.3 L589.0,2464.3 L590.0,2464.4 L591.0,2464.4 L592.0,2464.5 L593.0,2464.5 L594.0,2464.5 L595.0,2464.6 L596.0,2464.6 L597.0,2464.6 L598.0,2464.7 L599.0,2464.7 L600.0,2464.8 L601.0,2464.8 L602.0,2464.8 L603.0,2464.9 L604.0,2464.9 L605.0,2464.9 L606.0,2465.0 L607.0,2465.0 L608.0,2465.0 L609.0,2465.1 L610.0,2465.1 L611.0,2465.1 L612.0,2465.1 L613.0,2465.2 L614.0,2465.2 L615.0,2465.2 L616.0,2465.3 L617.0,2465.3 L618.0,2465.3 L619.0,2465.3 L620.0,2465.4 L621.0,2465.4 L622.0,2465.4 L623.0,2465.4 L624.0,2465.5 L625.0,2465.5 L626.0,2465.5 L627.0,2465.5 L628.0,2465.6 L629.0,2465.6 L630.0,2465.6 L631.0,2465.6 L632.0,2465.7 L633.0,2465.7 L634.0,2465.7 L635.0,2465.7 L636.0,2465.8 L637.0,2465.8 L638.0,2465.8 L639.0,2465.8 L640.0,2465.8 L641.0,2465.9 L642.0,2465.9 L643.0,2465.9 L644.0,2465.9 L645.0,2465.9 L646.0,2466.0 L647.0,2466.0 L648.0,2466.0 L649.0,2466.0 L650.0,2466.0 L651.0,2466.0 L652.0,2466.1 L653.0,2466.1 L654.0,2466.1 L655.0,2466.1 L656.0,2466.1 L657.0,2466.2 L658.0,2466.2 L659.0,2466.2 L660.0,2466.2 L661.0,2466.2 L662.0,2466.2 L663.0,2466.2 L664.0,2466.3 L665.0,2466.3 L666.0,2466.3 L667.0,2466.3 L668.0,2466.3 L669.0,2466.3 L670.0,2466.4 L671.0,2466.4 L672.0,2466.4 L673.0,2466.4 L674.0,2466.4 L675.0,2466.4 L676.0,2466.4 L677.0,2466.5 L678.0,2466.5 L679.0,2466.5 L680.0,2466.5 L681.0,2466.5 L682.0,2466.5 L683.0,2466.5 L684.0,2466.5 L685.0,2466.6 L686.0,2466.6 L687.0,2466.6 L688.0,2466.6 L689.0,2466.6 L690.0,2466.6 L691.0,2466.6 L692.0,2466.6 L693.0,2466.6 L694.0,2466.7 L695.0,2466.7 L696.0,2466.7 L697.0,2466.7 L698.0,2466.7 L699.0,2466.7 L700.0,2466.7 L701.0,2466.7 L702.0,2466.7 L703.0,2466.8 L704.0,2466.8 L705.0,2466.8 L706.0,2466.8 L707.0,2466.8 L708.0,2466.8 L709.0,2466.8 L710.0,2466.8 L711.0,2466.8 L712.0,2466.8 L713.0,2466.9 L714.0,2466.9 L715.0,2466.9 L716.0,2466.9 L717.0,2466.9 L718.0,2466.9 L719.0,2466.9 L720.0,2466.9 L721.0,2466.9 L722.0,2466.9 L723.0,2466.9 L724.0,2467.0 L725.0,2467.0 L726.0,2467.0 L727.0,2467.0 L728.0,2467.0 L729.0,2467.0 L730.0,2467.0 L731.0,2467.0 L732.0,2467.0 L733.0,2467.0 L734.0,2467.0 L735.0,2467.0 L736.0,2467.0 L737.0,2467.1 L738.0,2467.1 L739.0,2467.1 L740.0,2467.1 L741.0,2467.1 L742.0,2467.1 L743.0,2467.1 L744.0,2467.1 L745.0,2467.1 L746.0,2467.1 L747.0,2467.1 L748.0,2467.1 L749.0,2467.1 L750.0,2467.1 L751.0,2467.2 L752.0,2467.2 L753.0,2467.2 L754.0,2467.2 L755.0,2467.2 L756.0,2467.2 L757.0,2467.2 L758.0,2467.2 L759.0,2467.2 L760.0,2467.2 L761.0,2467.2 L762.0,2467.2 L763.0,2467.2 L764.0,2467.2 L765.0,2467.2 L766.0,2467.2 L767.0,2467.3 L768.0,2467.3 L769.0,2467.3 L770.0,2467.3 L771.0,2467.3 L772.0,2467.3 L773.0,2467.3 L774.0,2467.3 L775.0,2467.3 L776.0,2467.3 L777.0,2467.3 L778.0,2467.3 L779.0,2467.3 L780.0,2467.3 L781.0,2467.3 L782.0,2467.3 L783.0,2467.3 L784.0,2467.3 L785.0,2467.3 L786.0,2467.4 L787.0,2467.4 L788.0,2467.4 L789.0,2467.4 L790.0,2467.4 L791.0,2467.4 L792.0,2467.4 L793.0,2467.4 L794.0,2467.4 L795.0,2467.4 L796.0,2467.4 L797.0,2467.4 L798.0,2467.4 L799.0,2467.4 L800.0,2467.4 L801.0,2467.4 L802.0,2467.4 L803.0,2467.4 L804.0,2467.4 L805.0,2467.4 L806.0,2467.4 L807.0,2467.4 L808.0,2467.5 L809.0,2467.5 L810.0,2467.5 L811.0,2467.5 L812.0,2467.5 L813.0,2467.5 L814.0,2467.5 L815.0,2467.5 L816.0,2467.5 L817.0,2467.5 L818.0,2467.5 L819.0,2467.5 L820.0,2467.5 L821.0,2467.5 L822.0,2467.5 L823.0,2467.5 L824.0,2467.5 L825.0,2467.5 L826.0,2467.5 L827.0,2467.5 L828.0,2467.5 L829.0,2467.5 L830.0,2467.5 L831.0,2467.5 L832.0,2467.5 L833.0,2467.5 L834.0,2467.6 L835.0,2467.6 L836.0,2467.6 L837.0,2467.6 L838.0,2467.6 L839.0,2467.6 L840.0,2467.6 L841.0,2467.6 L842.0,2467.6 L843.0,2467.6 L844.0,2467.6 L845.0,2467.6 L846.0,2467.6 L847.0,2467.6 L848.0,2467.6 L849.0,2467.6 L850.0,2467.6 L851.0,2467.6 L852.0,2467.6 L853.0,2467.6 L854.0,2467.6 L855.0,2467.6 L856.0,2467.6 L857.0,2467.6 L858.0,2467.6 L859.0,2467.6 L860.0,2467.6 L861.0,2467.6 L862.0,2467.6 L863.0,2467.6 L864.0,2467.6 L865.0,2467.6 L866.0,2467.7 L867.0,2467.7 L868.0,2467.7 L869.0,2467.7 L870.0,2467.7 L871.0,2467.7 L872.0,2467.7 L873.0,2467.7 L874.0,2467.7 L875.0,2467.7 L876.0,2467.7 L877.0,2467.7 L878.0,2467.7 L879.0,2467.7 L880.0,2467.7 L881.0,2467.7 L882.0,2467.7 L883.0,2467.7 L884.0,2467.7 L885.0,2467.7 L886.0,2467.7 L887.0,2467.7 L888.0,2467.7 L889.0,2467.7 L890.0,2467.7 L891.0,2467.7 L892.0,2467.7 L893.0,2467.7 L894.0,2467.7 L895.0,2467.7 L896.0,2467.7 L897.0,2467.7 L898.0,2467.7 L899.0,2467.7 L900.0,2467.7 L901.0,2467.7 L902.0,2467.7 L903.0,2467.7 L904.0,2467.7 L905.0,2467.7 L906.0,2467.8 L907.0,2467.8 L908.0,2467.8 L909.0,2467.8 L910.0,2467.8 L911.0,2467.8 L912.0,2467.8 L913.0,2467.8 L914.0,2467.8 L915.0,2467.8 L916.0,2467.8 L917.0,2467.8 L918.0,2467.8 L919.0,2467.8 L920.0,2467.8 L921.0,2467.8 L922.0,2467.8 L923.0,2467.8 L924.0,2467.8 L925.0,2467.8 L926.0,2467.8 L927.0,2467.8 L928.0,2467.8 L929.0,2467.8 L930.0,2467.8 L931.0,2467.8 L932.0,2467.8 L933.0,2467.8 L934.0,2467.8 L935.0,2467.8 L936.0,2467.8 L937.0,2467.8 L938.0,2467.8 L939.0,2467.8 L940.0,2467.8 L941.0,2467.8 L942.0,2467.8 L943.0,2467.8 L944.0,2467.8 L945.0,2467.8 L946.0,2467.8 L947.0,2467.8 L948.0,2467.8 L949.0,2467.8 L950.0,2467.8 L951.0,2467.8 L952.0,2467.8 L953.0,2467.8 L954.0,2467.8 L955.0,2467.8 L956.0,2467.8 L957.0,2467.8 L958.0,2467.8 L959.0,2467.9 L960.0,2467.9 L961.0,2467.9 L962.0,2467.9 L963.0,2467.9 L964.0,2467.9 L965.0,2467.9 L966.0,2467.9 L967.0,2467.9 L968.0,2467.9 L969.0,2467.9 L970.0,2467.9 L971.0,2467.9 L972.0,2467.9 L973.0,2467.9 L974.0,2467.9 L975.0,2467.9 L976.0,2467.9 L977.0,2467.9 L978.0,2467.9 L979.0,2467.9 L980.0,2467.9 L981.0,2467.9 L982.0,2467.9 L983.0,2467.9 L984.0,2467.9 L985.0,2467.9 L986.0,2467.9 L987.0,2467.9 L988.0,2467.9 L989.0,2467.9 L990.0,2467.9 L991.0,2467.9 L992.0,2467.9 L993.0,2467.9 L994.0,2467.9 L995.0,2467.9 L996.0,2467.9 L997.0,2467.9 L998.0,2467.9 L999.0,2467.9 L1000.0,2467.9 L1001.0,2467.9 L1002.0,2467.9 L1003.0,2467.9 L1004.0,2467.9 L1005.0,2467.9 L1006.0,2467.9 L1007.0,2467.9 L1008.0,2467.9 L1009.0,2467.9 L1010.0,2467.9 L1011.0,2467.9 L1012.0,2467.9 L1013.0,2467.9 L1014.0,2467.9 L1015.0,2467.9 L1016.0,2467.9 L1017.0,2467.9 L1018.0,2467.9 L1019.0,2467.9 L1020.0,2467.9 L1021.0,2467.9 L1022.0,2467.9 L1023.0,2467.9 L1024.0,2467.9 L1025.0,2467.9 L1026.0,2467.9 L1027.0,2467.9 L1028.0,2467.9 L1029.0,2467.9 L1030.0,2467.9 L1031.0,2467.9 L1032.0,2467.9 L1033.0,2468.0 L1034.0,2468.0 L1035.0,2468.0 L1036.0,2468.0 L1037.0,2468.0 L1038.0,2468.0 L1039.0,2468.0 L1040.0,2468.0 L1041.0,2468.0 L1042.0,2468.0 L1043.0,2468.0 L1044.0,2468.0 L1045.0,2468.0 L1046.0,2468.0 L1047.0,2468.0 L1048.0,2468.0 L1049.0,2468.0 L1050.0,2468.0 L1051.0,2468.0 L1052.0,2468.0 L1053.0,2468.0 L1054.0,2468.0 L1055.0,2468.0 L1056.0,2468.0 L1057.0,2468.0 L1058.0,2468.0 L1059.0,2468.0 L1060.0,2468.0 L1061.0,2468.0 L1062.0,2468.0 L1063.0,2468.0 L1064.0,2468.0 L1065.0,2468.0 L1066.0,2468.0 L1067.0,2468.0 L1068.0,2468.0 L1069.0,2468.0 L1070.0,2468.0 L1071.0,2468.0 L1072.0,2468.0 L1073.0,2468.0 L1074.0,2468.0 L1075.0,2468.0 L1076.0,2468.0 L1077.0,2468.0 L1078.0,2468.0 L1079.0,2468.0 L1080.0,2468.0 L1081.0,2468.0 L1082.0,2468.0 L1083.0,2468.0 L1084.0,2468.0 L1085.0,2468.0 L1086.0,2468.0 L1087.0,2468.0 L1088.0,2468.0 L1089.0,2468.0 L1090.0,2468.0 L1091.0,2468.0 L1092.0,2468.0 L1093.0,2468.0 L1094.0,2468.0 L1095.0,2468.0 L1096.0,2468.0 L1097.0,2468.0 L1098.0,2468.0 L1099.0,2468.0 L1100.0,2468.0 L1101.0,2468.0 L1102.0,2468.0 L1103.0,2468.0 L1104.0,2468.0 L1105.0,2468.0 L1106.0,2468.0 L1107.0,2468.0 L1108.0,2468.0 L1109.0,2468.0 L1110.0,2468.0 L1111.0,2468.0 L1112.0,2468.0 L1113.0,2468.0 L1114.0,2468.0 L1115.0,2468.0 L1116.0,2468.0 L1117.0,2468.0 L1118.0,2468.0 L1119.0,2468.0 L1120.0,2468.0 L1121.0,2468.0 L1122.0,2468.0 L1123.0,2468.0 L1124.0,2468.0 L1125.0,2468.0 L1126.0,2468.0 L1127.0,2468.0 L1128.0,2468.0 L1129.0,2468.0 L1130.0,2468.0 L1131.0,2468.0 L1132.0,2468.0 L1133.0,2468.0 L1134.0,2468.0 L1135.0,2468.0 L1136.0,2468.0 L1137.0,2468.0 L1138.0,2468.0 L1139.0,2468.0 L1140.0,2468.0 L1141.0,2468.0 L1142.0,2468.0 L1143.0,2468.0 L1144.0,2468.0 L1145.0,2468.0 L1146.0,2468.0 L1147.0,2468.0 L1148.0,2468.1" fill="none" stroke="#348080" stroke-width="1.7" stroke-linejoin="round"/>
<path d="M79.0,2465.7 L80.0,2465.6 L81.0,2465.6 L82.0,2465.6 L83.0,2465.6 L84.0,2465.6 L85.0,2465.6 L86.0,2465.6 L87.0,2465.5 L88.0,2465.5 L89.0,2465.5 L90.0,2465.5 L91.0,2465.5 L92.0,2465.5 L93.0,2465.5 L94.0,2465.5 L95.0,2465.4 L96.0,2465.4 L97.0,2465.4 L98.0,2465.4 L99.0,2465.4 L100.0,2465.4 L101.0,2465.3 L102.0,2465.3 L103.0,2465.3 L104.0,2465.3 L105.0,2465.3 L106.0,2465.3 L107.0,2465.3 L108.0,2465.2 L109.0,2465.2 L110.0,2465.2 L111.0,2465.2 L112.0,2465.2 L113.0,2465.2 L114.0,2465.1 L115.0,2465.1 L116.0,2465.1 L117.0,2465.1 L118.0,2465.1 L119.0,2465.1 L120.0,2465.0 L121.0,2465.0 L122.0,2465.0 L123.0,2465.0 L124.0,2465.0 L125.0,2465.0 L126.0,2464.9 L127.0,2464.9 L128.0,2464.9 L129.0,2464.9 L130.0,2464.9 L131.0,2464.8 L132.0,2464.8 L133.0,2464.8 L134.0,2464.8 L135.0,2464.8 L136.0,2464.7 L137.0,2464.7 L138.0,2464.7 L139.0,2464.7 L140.0,2464.7 L141.0,2464.6 L142.0,2464.6 L143.0,2464.6 L144.0,2464.6 L145.0,2464.6 L146.0,2464.5 L147.0,2464.5 L148.0,2464.5 L149.0,2464.5 L150.0,2464.5 L151.0,2464.4 L152.0,2464.4 L153.0,2464.4 L154.0,2464.4 L155.0,2464.3 L156.0,2464.3 L157.0,2464.3 L158.0,2464.3 L159.0,2464.3 L160.0,2464.2 L161.0,2464.2 L162.0,2464.2 L163.0,2464.2 L164.0,2464.1 L165.0,2464.1 L166.0,2464.1 L167.0,2464.1 L168.0,2464.0 L169.0,2464.0 L170.0,2464.0 L171.0,2463.9 L172.0,2463.9 L173.0,2463.9 L174.0,2463.9 L175.0,2463.8 L176.0,2463.8 L177.0,2463.8 L178.0,2463.8 L179.0,2463.7 L180.0,2463.7 L181.0,2463.7 L182.0,2463.6 L183.0,2463.6 L184.0,2463.6 L185.0,2463.6 L186.0,2463.5 L187.0,2463.5 L188.0,2463.5 L189.0,2463.4 L190.0,2463.4 L191.0,2463.4 L192.0,2463.3 L193.0,2463.3 L194.0,2463.3 L195.0,2463.2 L196.0,2463.2 L197.0,2463.2 L198.0,2463.1 L199.0,2463.1 L200.0,2463.1 L201.0,2463.0 L202.0,2463.0 L203.0,2463.0 L204.0,2462.9 L205.0,2462.9 L206.0,2462.8 L207.0,2462.8 L208.0,2462.8 L209.0,2462.7 L210.0,2462.7 L211.0,2462.7 L212.0,2462.6 L213.0,2462.6 L214.0,2462.5 L215.0,2462.5 L216.0,2462.5 L217.0,2462.4 L218.0,2462.4 L219.0,2462.3 L220.0,2462.3 L221.0,2462.2 L222.0,2462.2 L223.0,2462.2 L224.0,2462.1 L225.0,2462.1 L226.0,2462.0 L227.0,2462.0 L228.0,2461.9 L229.0,2461.9 L230.0,2461.8 L231.0,2461.8 L232.0,2461.7 L233.0,2461.7 L234.0,2461.6 L235.0,2461.6 L236.0,2461.5 L237.0,2461.5 L238.0,2461.4 L239.0,2461.4 L240.0,2461.3 L241.0,2461.3 L242.0,2461.2 L243.0,2461.2 L244.0,2461.1 L245.0,2461.1 L246.0,2461.0 L247.0,2460.9 L248.0,2460.9 L249.0,2460.8 L250.0,2460.8 L251.0,2460.7 L252.0,2460.6 L253.0,2460.6 L254.0,2460.5 L255.0,2460.5 L256.0,2460.4 L257.0,2460.3 L258.0,2460.3 L259.0,2460.2 L260.0,2460.1 L261.0,2460.1 L262.0,2460.0 L263.0,2459.9 L264.0,2459.9 L265.0,2459.8 L266.0,2459.7 L267.0,2459.6 L268.0,2459.6 L269.0,2459.5 L270.0,2459.4 L271.0,2459.3 L272.0,2459.3 L273.0,2459.2 L274.0,2459.1 L275.0,2459.0 L276.0,2458.9 L277.0,2458.8 L278.0,2458.8 L279.0,2458.7 L280.0,2458.6 L281.0,2458.5 L282.0,2458.4 L283.0,2458.3 L284.0,2458.2 L285.0,2458.1 L286.0,2458.0 L287.0,2457.9 L288.0,2457.9 L289.0,2457.8 L290.0,2457.7 L291.0,2457.6 L292.0,2457.4 L293.0,2457.3 L294.0,2457.2 L295.0,2457.1 L296.0,2457.0 L297.0,2456.9 L298.0,2456.8 L299.0,2456.7 L300.0,2456.6 L301.0,2456.4 L302.0,2456.3 L303.0,2456.2 L304.0,2456.1 L305.0,2456.0 L306.0,2455.8 L307.0,2455.7 L308.0,2455.6 L309.0,2455.4 L310.0,2455.3 L311.0,2455.1 L312.0,2455.0 L313.0,2454.9 L314.0,2454.7 L315.0,2454.6 L316.0,2454.4 L317.0,2454.2 L318.0,2454.1 L319.0,2453.9 L320.0,2453.7 L321.0,2453.6 L322.0,2453.4 L323.0,2453.2 L324.0,2453.0 L325.0,2452.8 L326.0,2452.6 L327.0,2452.4 L328.0,2452.2 L329.0,2452.0 L330.0,2451.8 L331.0,2451.6 L332.0,2451.3 L333.0,2451.1 L334.0,2450.9 L335.0,2450.6 L336.0,2450.4 L337.0,2450.1 L338.0,2449.8 L339.0,2449.5 L340.0,2449.2 L341.0,2448.9 L342.0,2448.6 L343.0,2448.3 L344.0,2448.0 L345.0,2447.6 L346.0,2447.3 L347.0,2446.9 L348.0,2446.5 L349.0,2446.1 L350.0,2445.7 L351.0,2445.3 L352.0,2444.8 L353.0,2444.4 L354.0,2443.9 L355.0,2443.4 L356.0,2442.9 L357.0,2442.3 L358.0,2441.8 L359.0,2441.2 L360.0,2440.6 L361.0,2439.9 L362.0,2439.3 L363.0,2438.6 L364.0,2437.9 L365.0,2437.1 L366.0,2436.4 L367.0,2435.6 L368.0,2434.7 L369.0,2433.8 L370.0,2432.9 L371.0,2432.0 L372.0,2431.0 L373.0,2429.9 L374.0,2428.9 L375.0,2427.7 L376.0,2426.6 L377.0,2425.4 L378.0,2424.1 L379.0,2422.8 L380.0,2421.4 L381.0,2420.0 L382.0,2418.5 L383.0,2416.9 L384.0,2415.3 L385.0,2413.7 L386.0,2411.9 L387.0,2410.1 L388.0,2408.2 L389.0,2406.3 L390.0,2404.3 L391.0,2402.2 L392.0,2400.0 L393.0,2397.7 L394.0,2395.4 L395.0,2393.0 L396.0,2390.5 L397.0,2387.9 L398.0,2385.2 L399.0,2382.4 L400.0,2379.5 L401.0,2376.5 L402.0,2373.4 L403.0,2370.2 L404.0,2367.0 L405.0,2363.6 L406.0,2360.1 L407.0,2356.5 L408.0,2352.8 L409.0,2348.9 L410.0,2345.0 L411.0,2341.0 L412.0,2336.8 L413.0,2332.5 L414.0,2328.1 L415.0,2323.6 L416.0,2319.0 L417.0,2314.2 L418.0,2309.4 L419.0,2304.4 L420.0,2299.3 L421.0,2294.1 L422.0,2288.7 L423.0,2283.3 L424.0,2277.7 L425.0,2272.0 L426.0,2266.2 L427.0,2260.3 L428.0,2254.3 L429.0,2248.1 L430.0,2241.9 L431.0,2235.5 L432.0,2229.1 L433.0,2222.5 L434.0,2215.8 L435.0,2209.1 L436.0,2202.2 L437.0,2195.3 L438.0,2188.3 L439.0,2181.2 L440.0,2174.1 L441.0,2166.8 L442.0,2159.5 L443.0,2152.2 L444.0,2144.7 L445.0,2137.3 L446.0,2129.8 L447.0,2122.2 L448.0,2114.7 L449.0,2107.1 L450.0,2099.4 L451.0,2091.8 L452.0,2084.2 L453.0,2076.6 L454.0,2069.0 L455.0,2061.4 L456.0,2053.9 L457.0,2046.4 L458.0,2039.0 L459.0,2031.6 L460.0,2024.3 L461.0,2017.0 L462.0,2009.9 L463.0,2002.9 L464.0,1996.0 L465.0,1989.2 L466.0,1982.5 L467.0,1976.0 L468.0,1969.6 L469.0,1963.5 L470.0,1957.5 L471.0,1951.6 L472.0,1946.0 L473.0,1940.6 L474.0,1935.5 L475.0,1930.5 L476.0,1925.9 L477.0,1921.4 L478.0,1917.3 L479.0,1913.4 L480.0,1909.8 L481.0,1906.5 L482.0,1903.5 L483.0,1900.9 L484.0,1898.5 L485.0,1896.5 L486.0,1894.8 L487.0,1893.4 L488.0,1892.4 L489.0,1891.7 L490.0,1891.3 L491.0,1891.3 L492.0,1891.7 L493.0,1892.4 L494.0,1893.5 L495.0,1895.0 L496.0,1896.7 L497.0,1898.9 L498.0,1901.4 L499.0,1904.2 L500.0,1907.3 L501.0,1910.8 L502.0,1914.5 L503.0,1918.6 L504.0,1923.0 L505.0,1927.6 L506.0,1932.5 L507.0,1937.7 L508.0,1943.1 L509.0,1948.7 L510.0,1954.6 L511.0,1960.6 L512.0,1966.9 L513.0,1973.3 L514.0,1980.0 L515.0,1986.7 L516.0,1993.7 L517.0,2000.7 L518.0,2007.9 L519.0,2015.2 L520.0,2022.6 L521.0,2030.1 L522.0,2037.6 L523.0,2045.2 L524.0,2052.9 L525.0,2060.7 L526.0,2068.4 L527.0,2076.2 L528.0,2084.0 L529.0,2091.8 L530.0,2099.6 L531.0,2107.5 L532.0,2115.2 L533.0,2123.0 L534.0,2130.8 L535.0,2138.4 L536.0,2146.1 L537.0,2153.7 L538.0,2161.2 L539.0,2168.7 L540.0,2176.1 L541.0,2183.4 L542.0,2190.7 L543.0,2197.9 L544.0,2204.9 L545.0,2211.9 L546.0,2218.8 L547.0,2225.6 L548.0,2232.3 L549.0,2238.8 L550.0,2245.3 L551.0,2251.6 L552.0,2257.9 L553.0,2264.0 L554.0,2270.0 L555.0,2275.9 L556.0,2281.6 L557.0,2287.3 L558.0,2292.8 L559.0,2298.2 L560.0,2303.4 L561.0,2308.5 L562.0,2313.6 L563.0,2318.4 L564.0,2323.2 L565.0,2327.8 L566.0,2332.4 L567.0,2336.8 L568.0,2341.0 L569.0,2345.2 L570.0,2349.2 L571.0,2353.1 L572.0,2356.9 L573.0,2360.6 L574.0,2364.2 L575.0,2367.6 L576.0,2371.0 L577.0,2374.2 L578.0,2377.3 L579.0,2380.4 L580.0,2383.3 L581.0,2386.1 L582.0,2388.8 L583.0,2391.5 L584.0,2394.0 L585.0,2396.5 L586.0,2398.8 L587.0,2401.1 L588.0,2403.3 L589.0,2405.4 L590.0,2407.4 L591.0,2409.4 L592.0,2411.3 L593.0,2413.1 L594.0,2414.8 L595.0,2416.5 L596.0,2418.1 L597.0,2419.6 L598.0,2421.1 L599.0,2422.5 L600.0,2423.9 L601.0,2425.2 L602.0,2426.5 L603.0,2427.7 L604.0,2428.8 L605.0,2429.9 L606.0,2431.0 L607.0,2432.0 L608.0,2433.0 L609.0,2433.9 L610.0,2434.8 L611.0,2435.7 L612.0,2436.5 L613.0,2437.3 L614.0,2438.0 L615.0,2438.8 L616.0,2439.5 L617.0,2440.1 L618.0,2440.8 L619.0,2441.4 L620.0,2442.0 L621.0,2442.5 L622.0,2443.1 L623.0,2443.6 L624.0,2444.1 L625.0,2444.6 L626.0,2445.1 L627.0,2445.5 L628.0,2445.9 L629.0,2446.4 L630.0,2446.8 L631.0,2447.1 L632.0,2447.5 L633.0,2447.9 L634.0,2448.2 L635.0,2448.6 L636.0,2448.9 L637.0,2449.2 L638.0,2449.5 L639.0,2449.8 L640.0,2450.1 L641.0,2450.3 L642.0,2450.6 L643.0,2450.9 L644.0,2451.1 L645.0,2451.3 L646.0,2451.6 L647.0,2451.8 L648.0,2452.0 L649.0,2452.3 L650.0,2452.5 L651.0,2452.7 L652.0,2452.9 L653.0,2453.1 L654.0,2453.3 L655.0,2453.4 L656.0,2453.6 L657.0,2453.8 L658.0,2454.0 L659.0,2454.1 L660.0,2454.3 L661.0,2454.5 L662.0,2454.6 L663.0,2454.8 L664.0,2454.9 L665.0,2455.1 L666.0,2455.2 L667.0,2455.4 L668.0,2455.5 L669.0,2455.6 L670.0,2455.8 L671.0,2455.9 L672.0,2456.0 L673.0,2456.2 L674.0,2456.3 L675.0,2456.4 L676.0,2456.5 L677.0,2456.7 L678.0,2456.8 L679.0,2456.9 L680.0,2457.0 L681.0,2457.1 L682.0,2457.2 L683.0,2457.3 L684.0,2457.5 L685.0,2457.6 L686.0,2457.7 L687.0,2457.8 L688.0,2457.9 L689.0,2458.0 L690.0,2458.1 L691.0,2458.2 L692.0,2458.3 L693.0,2458.3 L694.0,2458.4 L695.0,2458.5 L696.0,2458.6 L697.0,2458.7 L698.0,2458.8 L699.0,2458.9 L700.0,2459.0 L701.0,2459.1 L702.0,2459.1 L703.0,2459.2 L704.0,2459.3 L705.0,2459.4 L706.0,2459.5 L707.0,2459.5 L708.0,2459.6 L709.0,2459.7 L710.0,2459.8 L711.0,2459.8 L712.0,2459.9 L713.0,2460.0 L714.0,2460.0 L715.0,2460.1 L716.0,2460.2 L717.0,2460.3 L718.0,2460.3 L719.0,2460.4 L720.0,2460.5 L721.0,2460.5 L722.0,2460.6 L723.0,2460.6 L724.0,2460.7 L725.0,2460.8 L726.0,2460.8 L727.0,2460.9 L728.0,2461.0 L729.0,2461.0 L730.0,2461.1 L731.0,2461.1 L732.0,2461.2 L733.0,2461.2 L734.0,2461.3 L735.0,2461.4 L736.0,2461.4 L737.0,2461.5 L738.0,2461.5 L739.0,2461.6 L740.0,2461.6 L741.0,2461.7 L742.0,2461.7 L743.0,2461.8 L744.0,2461.8 L745.0,2461.9 L746.0,2461.9 L747.0,2462.0 L748.0,2462.0 L749.0,2462.1 L750.0,2462.1 L751.0,2462.1 L752.0,2462.2 L753.0,2462.2 L754.0,2462.3 L755.0,2462.3 L756.0,2462.4 L757.0,2462.4 L758.0,2462.5 L759.0,2462.5 L760.0,2462.5 L761.0,2462.6 L762.0,2462.6 L763.0,2462.7 L764.0,2462.7 L765.0,2462.7 L766.0,2462.8 L767.0,2462.8 L768.0,2462.9 L769.0,2462.9 L770.0,2462.9 L771.0,2463.0 L772.0,2463.0 L773.0,2463.0 L774.0,2463.1 L775.0,2463.1 L776.0,2463.1 L777.0,2463.2 L778.0,2463.2 L779.0,2463.3 L780.0,2463.3 L781.0,2463.3 L782.0,2463.4 L783.0,2463.4 L784.0,2463.4 L785.0,2463.5 L786.0,2463.5 L787.0,2463.5 L788.0,2463.5 L789.0,2463.6 L790.0,2463.6 L791.0,2463.6 L792.0,2463.7 L793.0,2463.7 L794.0,2463.7 L795.0,2463.8 L796.0,2463.8 L797.0,2463.8 L798.0,2463.8 L799.0,2463.9 L800.0,2463.9 L801.0,2463.9 L802.0,2464.0 L803.0,2464.0 L804.0,2464.0 L805.0,2464.0 L806.0,2464.1 L807.0,2464.1 L808.0,2464.1 L809.0,2464.1 L810.0,2464.2 L811.0,2464.2 L812.0,2464.2 L813.0,2464.2 L814.0,2464.3 L815.0,2464.3 L816.0,2464.3 L817.0,2464.3 L818.0,2464.4 L819.0,2464.4 L820.0,2464.4 L821.0,2464.4 L822.0,2464.4 L823.0,2464.5 L824.0,2464.5 L825.0,2464.5 L826.0,2464.5 L827.0,2464.6 L828.0,2464.6 L829.0,2464.6 L830.0,2464.6 L831.0,2464.6 L832.0,2464.7 L833.0,2464.7 L834.0,2464.7 L835.0,2464.7 L836.0,2464.7 L837.0,2464.8 L838.0,2464.8 L839.0,2464.8 L840.0,2464.8 L841.0,2464.8 L842.0,2464.9 L843.0,2464.9 L844.0,2464.9 L845.0,2464.9 L846.0,2464.9 L847.0,2465.0 L848.0,2465.0 L849.0,2465.0 L850.0,2465.0 L851.0,2465.0 L852.0,2465.1 L853.0,2465.1 L854.0,2465.1 L855.0,2465.1 L856.0,2465.1 L857.0,2465.1 L858.0,2465.2 L859.0,2465.2 L860.0,2465.2 L861.0,2465.2 L862.0,2465.2 L863.0,2465.2 L864.0,2465.3 L865.0,2465.3 L866.0,2465.3 L867.0,2465.3 L868.0,2465.3 L869.0,2465.3 L870.0,2465.3 L871.0,2465.4 L872.0,2465.4 L873.0,2465.4 L874.0,2465.4 L875.0,2465.4 L876.0,2465.4 L877.0,2465.5 L878.0,2465.5 L879.0,2465.5 L880.0,2465.5 L881.0,2465.5 L882.0,2465.5 L883.0,2465.5 L884.0,2465.5 L885.0,2465.6 L886.0,2465.6 L887.0,2465.6 L888.0,2465.6 L889.0,2465.6 L890.0,2465.6 L891.0,2465.6 L892.0,2465.7 L893.0,2465.7 L894.0,2465.7 L895.0,2465.7 L896.0,2465.7 L897.0,2465.7 L898.0,2465.7 L899.0,2465.7 L900.0,2465.8 L901.0,2465.8 L902.0,2465.8 L903.0,2465.8 L904.0,2465.8 L905.0,2465.8 L906.0,2465.8 L907.0,2465.8 L908.0,2465.9 L909.0,2465.9 L910.0,2465.9 L911.0,2465.9 L912.0,2465.9 L913.0,2465.9 L914.0,2465.9 L915.0,2465.9 L916.0,2465.9 L917.0,2466.0 L918.0,2466.0 L919.0,2466.0 L920.0,2466.0 L921.0,2466.0 L922.0,2466.0 L923.0,2466.0 L924.0,2466.0 L925.0,2466.0 L926.0,2466.0 L927.0,2466.1 L928.0,2466.1 L929.0,2466.1 L930.0,2466.1 L931.0,2466.1 L932.0,2466.1 L933.0,2466.1 L934.0,2466.1 L935.0,2466.1 L936.0,2466.1 L937.0,2466.2 L938.0,2466.2 L939.0,2466.2 L940.0,2466.2 L941.0,2466.2 L942.0,2466.2 L943.0,2466.2 L944.0,2466.2 L945.0,2466.2 L946.0,2466.2 L947.0,2466.2 L948.0,2466.3 L949.0,2466.3 L950.0,2466.3 L951.0,2466.3 L952.0,2466.3 L953.0,2466.3 L954.0,2466.3 L955.0,2466.3 L956.0,2466.3 L957.0,2466.3 L958.0,2466.3 L959.0,2466.4 L960.0,2466.4 L961.0,2466.4 L962.0,2466.4 L963.0,2466.4 L964.0,2466.4 L965.0,2466.4 L966.0,2466.4 L967.0,2466.4 L968.0,2466.4 L969.0,2466.4 L970.0,2466.4 L971.0,2466.4 L972.0,2466.5 L973.0,2466.5 L974.0,2466.5 L975.0,2466.5 L976.0,2466.5 L977.0,2466.5 L978.0,2466.5 L979.0,2466.5 L980.0,2466.5 L981.0,2466.5 L982.0,2466.5 L983.0,2466.5 L984.0,2466.5 L985.0,2466.5 L986.0,2466.6 L987.0,2466.6 L988.0,2466.6 L989.0,2466.6 L990.0,2466.6 L991.0,2466.6 L992.0,2466.6 L993.0,2466.6 L994.0,2466.6 L995.0,2466.6 L996.0,2466.6 L997.0,2466.6 L998.0,2466.6 L999.0,2466.6 L1000.0,2466.6 L1001.0,2466.7 L1002.0,2466.7 L1003.0,2466.7 L1004.0,2466.7 L1005.0,2466.7 L1006.0,2466.7 L1007.0,2466.7 L1008.0,2466.7 L1009.0,2466.7 L1010.0,2466.7 L1011.0,2466.7 L1012.0,2466.7 L1013.0,2466.7 L1014.0,2466.7 L1015.0,2466.7 L1016.0,2466.7 L1017.0,2466.8 L1018.0,2466.8 L1019.0,2466.8 L1020.0,2466.8 L1021.0,2466.8 L1022.0,2466.8 L1023.0,2466.8 L1024.0,2466.8 L1025.0,2466.8 L1026.0,2466.8 L1027.0,2466.8 L1028.0,2466.8 L1029.0,2466.8 L1030.0,2466.8 L1031.0,2466.8 L1032.0,2466.8 L1033.0,2466.8 L1034.0,2466.8 L1035.0,2466.9 L1036.0,2466.9 L1037.0,2466.9 L1038.0,2466.9 L1039.0,2466.9 L1040.0,2466.9 L1041.0,2466.9 L1042.0,2466.9 L1043.0,2466.9 L1044.0,2466.9 L1045.0,2466.9 L1046.0,2466.9 L1047.0,2466.9 L1048.0,2466.9 L1049.0,2466.9 L1050.0,2466.9 L1051.0,2466.9 L1052.0,2466.9 L1053.0,2466.9 L1054.0,2466.9 L1055.0,2467.0 L1056.0,2467.0 L1057.0,2467.0 L1058.0,2467.0 L1059.0,2467.0 L1060.0,2467.0 L1061.0,2467.0 L1062.0,2467.0 L1063.0,2467.0 L1064.0,2467.0 L1065.0,2467.0 L1066.0,2467.0 L1067.0,2467.0 L1068.0,2467.0 L1069.0,2467.0 L1070.0,2467.0 L1071.0,2467.0 L1072.0,2467.0 L1073.0,2467.0 L1074.0,2467.0 L1075.0,2467.0 L1076.0,2467.0 L1077.0,2467.1 L1078.0,2467.1 L1079.0,2467.1 L1080.0,2467.1 L1081.0,2467.1 L1082.0,2467.1 L1083.0,2467.1 L1084.0,2467.1 L1085.0,2467.1 L1086.0,2467.1 L1087.0,2467.1 L1088.0,2467.1 L1089.0,2467.1 L1090.0,2467.1 L1091.0,2467.1 L1092.0,2467.1 L1093.0,2467.1 L1094.0,2467.1 L1095.0,2467.1 L1096.0,2467.1 L1097.0,2467.1 L1098.0,2467.1 L1099.0,2467.1 L1100.0,2467.1 L1101.0,2467.1 L1102.0,2467.2 L1103.0,2467.2 L1104.0,2467.2 L1105.0,2467.2 L1106.0,2467.2 L1107.0,2467.2 L1108.0,2467.2 L1109.0,2467.2 L1110.0,2467.2 L1111.0,2467.2 L1112.0,2467.2 L1113.0,2467.2 L1114.0,2467.2 L1115.0,2467.2 L1116.0,2467.2 L1117.0,2467.2 L1118.0,2467.2 L1119.0,2467.2 L1120.0,2467.2 L1121.0,2467.2 L1122.0,2467.2 L1123.0,2467.2 L1124.0,2467.2 L1125.0,2467.2 L1126.0,2467.2 L1127.0,2467.2 L1128.0,2467.2 L1129.0,2467.2 L1130.0,2467.2 L1131.0,2467.3 L1132.0,2467.3 L1133.0,2467.3 L1134.0,2467.3 L1135.0,2467.3 L1136.0,2467.3 L1137.0,2467.3 L1138.0,2467.3 L1139.0,2467.3 L1140.0,2467.3 L1141.0,2467.3 L1142.0,2467.3 L1143.0,2467.3 L1144.0,2467.3 L1145.0,2467.3 L1146.0,2467.3 L1147.0,2467.3 L1148.0,2467.3 L1149.0,2467.3 L1150.0,2467.3 L1151.0,2467.3 L1152.0,2467.3 L1153.0,2467.3 L1154.0,2467.3 L1155.0,2467.3 L1156.0,2467.3 L1157.0,2467.3 L1158.0,2467.3 L1159.0,2467.3 L1160.0,2467.3 L1161.0,2467.3 L1162.0,2467.3 L1163.0,2467.3 L1164.0,2467.4 L1165.0,2467.4 L1166.0,2467.4 L1167.0,2467.4 L1168.0,2467.4 L1169.0,2467.4 L1170.0,2467.4 L1171.0,2467.4 L1172.0,2467.4 L1173.0,2467.4 L1174.0,2467.4 L1175.0,2467.4 L1176.0,2467.4 L1177.0,2467.4 L1178.0,2467.4 L1179.0,2467.4 L1180.0,2467.4 L1181.0,2467.4 L1182.0,2467.4 L1183.0,2467.4 L1184.0,2467.4 L1185.0,2467.4 L1186.0,2467.4 L1187.0,2467.4 L1188.0,2467.4 L1189.0,2467.4 L1190.0,2467.4 L1191.0,2467.4 L1192.0,2467.4 L1193.0,2467.4 L1194.0,2467.4 L1195.0,2467.4 L1196.0,2467.4 L1197.0,2467.4 L1198.0,2467.4 L1199.0,2467.4 L1200.0,2467.4 L1201.0,2467.4 L1202.0,2467.4 L1203.0,2467.5 L1204.0,2467.5 L1205.0,2467.5 L1206.0,2467.5 L1207.0,2467.5 L1208.0,2467.5 L1209.0,2467.5 L1210.0,2467.5 L1211.0,2467.5 L1212.0,2467.5 L1213.0,2467.5 L1214.0,2467.5 L1215.0,2467.5 L1216.0,2467.5 L1217.0,2467.5 L1218.0,2467.5 L1219.0,2467.5 L1220.0,2467.5 L1221.0,2467.5 L1222.0,2467.5 L1223.0,2467.5 L1224.0,2467.5 L1225.0,2467.5 L1226.0,2467.5 L1227.0,2467.5 L1228.0,2467.5 L1229.0,2467.5 L1230.0,2467.5 L1231.0,2467.5 L1232.0,2467.5 L1233.0,2467.5 L1234.0,2467.5 L1235.0,2467.5 L1236.0,2467.5 L1237.0,2467.5 L1238.0,2467.5 L1239.0,2467.5 L1240.0,2467.5 L1241.0,2467.5 L1242.0,2467.5 L1243.0,2467.5 L1244.0,2467.5 L1245.0,2467.5 L1246.0,2467.5 L1247.0,2467.5 L1248.0,2467.5 L1249.0,2467.6 L1250.0,2467.6 L1251.0,2467.6 L1252.0,2467.6 L1253.0,2467.6 L1254.0,2467.6 L1255.0,2467.6 L1256.0,2467.6 L1257.0,2467.6 L1258.0,2467.6 L1259.0,2467.6 L1260.0,2467.6 L1261.0,2467.6 L1262.0,2467.6 L1263.0,2467.6 L1264.0,2467.6 L1265.0,2467.6 L1266.0,2467.6 L1267.0,2467.6 L1268.0,2467.6 L1269.0,2467.6 L1270.0,2467.6 L1271.0,2467.6 L1272.0,2467.6 L1273.0,2467.6 L1274.0,2467.6 L1275.0,2467.6 L1276.0,2467.6 L1277.0,2467.6 L1278.0,2467.6 L1279.0,2467.6 L1280.0,2467.6 L1281.0,2467.6 L1282.0,2467.6 L1283.0,2467.6 L1284.0,2467.6 L1285.0,2467.6 L1286.0,2467.6 L1287.0,2467.6 L1288.0,2467.6 L1289.0,2467.6 L1290.0,2467.6 L1291.0,2467.6 L1292.0,2467.6 L1293.0,2467.6 L1294.0,2467.6 L1295.0,2467.6 L1296.0,2467.6 L1297.0,2467.6 L1298.0,2467.6 L1299.0,2467.6 L1300.0,2467.6 L1301.0,2467.6 L1302.0,2467.6 L1303.0,2467.6 L1304.0,2467.6 L1305.0,2467.7 L1306.0,2467.7 L1307.0,2467.7 L1308.0,2467.7 L1309.0,2467.7 L1310.0,2467.7 L1311.0,2467.7 L1312.0,2467.7 L1313.0,2467.7 L1314.0,2467.7 L1315.0,2467.7 L1316.0,2467.7 L1317.0,2467.7 L1318.0,2467.7 L1319.0,2467.7 L1320.0,2467.7 L1321.0,2467.7 L1322.0,2467.7 L1323.0,2467.7 L1324.0,2467.7 L1325.0,2467.7 L1326.0,2467.7 L1327.0,2467.7 L1328.0,2467.7 L1329.0,2467.7 L1330.0,2467.7 L1331.0,2467.7 L1332.0,2467.7 L1333.0,2467.7 L1334.0,2467.7 L1335.0,2467.7 L1336.0,2467.7 L1337.0,2467.7 L1338.0,2467.7 L1339.0,2467.7 L1340.0,2467.7 L1341.0,2467.7 L1342.0,2467.7 L1343.0,2467.7 L1344.0,2467.7 L1345.0,2467.7 L1346.0,2467.7 L1347.0,2467.7 L1348.0,2467.7 L1349.0,2467.7 L1350.0,2467.7 L1351.0,2467.7 L1352.0,2467.7 L1353.0,2467.7 L1354.0,2467.7 L1355.0,2467.7 L1356.0,2467.7 L1357.0,2467.7 L1358.0,2467.7 L1359.0,2467.7 L1360.0,2467.7 L1361.0,2467.7 L1362.0,2467.7 L1363.0,2467.7 L1364.0,2467.7 L1365.0,2467.7 L1366.0,2467.7 L1367.0,2467.7 L1368.0,2467.7 L1369.0,2467.7 L1370.0,2467.7 L1371.0,2467.7 L1372.0,2467.7 L1373.0,2467.7 L1374.0,2467.7 L1375.0,2467.7 L1376.0,2467.7 L1377.0,2467.8 L1378.0,2467.8 L1379.0,2467.8 L1380.0,2467.8 L1381.0,2467.8 L1382.0,2467.8 L1383.0,2467.8 L1384.0,2467.8 L1385.0,2467.8 L1386.0,2467.8 L1387.0,2467.8 L1388.0,2467.8 L1389.0,2467.8 L1390.0,2467.8 L1391.0,2467.8 L1392.0,2467.8 L1393.0,2467.8 L1394.0,2467.8 L1395.0,2467.8 L1396.0,2467.8 L1397.0,2467.8 L1398.0,2467.8 L1399.0,2467.8 L1400.0,2467.8 L1401.0,2467.8 L1402.0,2467.8 L1403.0,2467.8 L1404.0,2467.8 L1405.0,2467.8 L1406.0,2467.8 L1407.0,2467.8 L1408.0,2467.8 L1409.0,2467.8 L1410.0,2467.8 L1411.0,2467.8 L1412.0,2467.8 L1413.0,2467.8 L1414.0,2467.8 L1415.0,2467.8 L1416.0,2467.8 L1417.0,2467.8 L1418.0,2467.8 L1419.0,2467.8 L1420.0,2467.8 L1421.0,2467.8 L1422.0,2467.8 L1423.0,2467.8 L1424.0,2467.8 L1425.0,2467.8 L1426.0,2467.8 L1427.0,2467.8 L1428.0,2467.8 L1429.0,2467.8 L1430.0,2467.8 L1431.0,2467.8 L1432.0,2467.8 L1433.0,2467.8 L1434.0,2467.8 L1435.0,2467.8 L1436.0,2467.8 L1437.0,2467.8 L1438.0,2467.8 L1439.0,2467.8 L1440.0,2467.8 L1441.0,2467.8 L1442.0,2467.8 L1443.0,2467.8 L1444.0,2467.8 L1445.0,2467.8 L1446.0,2467.8 L1447.0,2467.8 L1448.0,2467.8 L1449.0,2467.8 L1450.0,2467.8 L1451.0,2467.8 L1452.0,2467.8 L1453.0,2467.8 L1454.0,2467.8 L1455.0,2467.8 L1456.0,2467.8 L1457.0,2467.8 L1458.0,2467.8 L1459.0,2467.8 L1460.0,2467.8 L1461.0,2467.8 L1462.0,2467.8 L1463.0,2467.8 L1464.0,2467.8 L1465.0,2467.8 L1466.0,2467.8 L1467.0,2467.8 L1468.0,2467.8 L1469.0,2467.8 L1470.0,2467.9 L1471.0,2467.9 L1472.0,2467.9 L1473.0,2467.9 L1474.0,2467.9 L1475.0,2467.9 L1476.0,2467.9 L1477.0,2467.9 L1478.0,2467.9 L1479.0,2467.9 L1480.0,2467.9 L1481.0,2467.9 L1482.0,2467.9 L1483.0,2467.9 L1484.0,2467.9 L1485.0,2467.9 L1486.0,2467.9 L1487.0,2467.9 L1488.0,2467.9 L1489.0,2467.9 L1490.0,2467.9 L1491.0,2467.9 L1492.0,2467.9 L1493.0,2467.9 L1494.0,2467.9 L1495.0,2467.9 L1496.0,2467.9 L1497.0,2467.9 L1498.0,2467.9 L1499.0,2467.9 L1500.0,2467.9 L1501.0,2467.9 L1502.0,2467.9 L1503.0,2467.9 L1504.0,2467.9 L1505.0,2467.9 L1506.0,2467.9 L1507.0,2467.9 L1508.0,2467.9 L1509.0,2467.9 L1510.0,2467.9 L1511.0,2467.9 L1512.0,2467.9 L1513.0,2467.9 L1514.0,2467.9 L1515.0,2467.9 L1516.0,2467.9 L1517.0,2467.9 L1518.0,2467.9 L1519.0,2467.9 L1520.0,2467.9 L1521.0,2467.9 L1522.0,2467.9 L1523.0,2467.9 L1524.0,2467.9 L1525.0,2467.9 L1526.0,2467.9 L1527.0,2467.9 L1528.0,2467.9 L1529.0,2467.9 L1530.0,2467.9 L1531.0,2467.9 L1532.0,2467.9 L1533.0,2467.9 L1534.0,2467.9 L1535.0,2467.9 L1536.0,2467.9 L1537.0,2467.9 L1538.0,2467.9 L1539.0,2467.9 L1540.0,2467.9 L1541.0,2467.9 L1542.0,2467.9 L1543.0,2467.9 L1544.0,2467.9 L1545.0,2467.9 L1546.0,2467.9 L1547.0,2467.9 L1548.0,2467.9 L1549.0,2467.9 L1550.0,2467.9 L1551.0,2467.9 L1552.0,2467.9 L1553.0,2467.9 L1554.0,2467.9 L1555.0,2467.9 L1556.0,2467.9 L1557.0,2467.9 L1558.0,2467.9 L1559.0,2467.9 L1560.0,2467.9 L1561.0,2467.9 L1562.0,2467.9 L1563.0,2467.9 L1564.0,2467.9 L1565.0,2467.9 L1566.0,2467.9 L1567.0,2467.9 L1568.0,2467.9 L1569.0,2467.9 L1570.0,2467.9 L1571.0,2467.9 L1572.0,2467.9 L1573.0,2467.9 L1574.0,2467.9 L1575.0,2467.9 L1576.0,2467.9 L1577.0,2467.9 L1578.0,2467.9 L1579.0,2467.9 L1580.0,2467.9 L1581.0,2467.9 L1582.0,2467.9 L1583.0,2467.9 L1584.0,2467.9 L1585.0,2467.9 L1586.0,2467.9 L1587.0,2467.9 L1588.0,2467.9 L1589.0,2467.9 L1590.0,2467.9 L1591.0,2467.9 L1592.0,2467.9 L1593.0,2467.9 L1594.0,2467.9 L1595.0,2467.9 L1596.0,2467.9 L1597.0,2467.9 L1598.0,2467.9 L1599.0,2467.9 L1600.0,2467.9 L1601.0,2467.9 L1602.0,2468.0 L1603.0,2468.0 L1604.0,2468.0 L1605.0,2468.0 L1606.0,2468.0 L1607.0,2468.0 L1608.0,2468.0 L1609.0,2468.0 L1610.0,2468.0 L1611.0,2468.0 L1612.0,2468.0 L1613.0,2468.0 L1614.0,2468.0 L1615.0,2468.0 L1616.0,2468.0 L1617.0,2468.0 L1618.0,2468.0" fill="none" stroke="#348080" stroke-width="1.7" stroke-linejoin="round"/>
<path d="M79.0,2467.8 L80.0,2467.8 L81.0,2467.8 L82.0,2467.8 L83.0,2467.8 L84.0,2467.8 L85.0,2467.8 L86.0,2467.8 L87.0,2467.8 L88.0,2467.8 L89.0,2467.8 L90.0,2467.8 L91.0,2467.8 L92.0,2467.8 L93.0,2467.7 L94.0,2467.7 L95.0,2467.7 L96.0,2467.7 L97.0,2467.7 L98.0,2467.7 L99.0,2467.7 L100.0,2467.7 L101.0,2467.7 L102.0,2467.7 L103.0,2467.7 L104.0,2467.7 L105.0,2467.7 L106.0,2467.7 L107.0,2467.7 L108.0,2467.7 L109.0,2467.7 L110.0,2467.7 L111.0,2467.7 L112.0,2467.7 L113.0,2467.7 L114.0,2467.7 L115.0,2467.7 L116.0,2467.7 L117.0,2467.7 L118.0,2467.7 L119.0,2467.7 L120.0,2467.7 L121.0,2467.7 L122.0,2467.7 L123.0,2467.7 L124.0,2467.7 L125.0,2467.7 L126.0,2467.7 L127.0,2467.7 L128.0,2467.7 L129.0,2467.7 L130.0,2467.7 L131.0,2467.7 L132.0,2467.7 L133.0,2467.7 L134.0,2467.6 L135.0,2467.6 L136.0,2467.6 L137.0,2467.6 L138.0,2467.6 L139.0,2467.6 L140.0,2467.6 L141.0,2467.6 L142.0,2467.6 L143.0,2467.6 L144.0,2467.6 L145.0,2467.6 L146.0,2467.6 L147.0,2467.6 L148.0,2467.6 L149.0,2467.6 L150.0,2467.6 L151.0,2467.6 L152.0,2467.6 L153.0,2467.6 L154.0,2467.6 L155.0,2467.6 L156.0,2467.6 L157.0,2467.6 L158.0,2467.6 L159.0,2467.6 L160.0,2467.6 L161.0,2467.6 L162.0,2467.6 L163.0,2467.6 L164.0,2467.6 L165.0,2467.6 L166.0,2467.6 L167.0,2467.5 L168.0,2467.5 L169.0,2467.5 L170.0,2467.5 L171.0,2467.5 L172.0,2467.5 L173.0,2467.5 L174.0,2467.5 L175.0,2467.5 L176.0,2467.5 L177.0,2467.5 L178.0,2467.5 L179.0,2467.5 L180.0,2467.5 L181.0,2467.5 L182.0,2467.5 L183.0,2467.5 L184.0,2467.5 L185.0,2467.5 L186.0,2467.5 L187.0,2467.5 L188.0,2467.5 L189.0,2467.5 L190.0,2467.5 L191.0,2467.5 L192.0,2467.5 L193.0,2467.4 L194.0,2467.4 L195.0,2467.4 L196.0,2467.4 L197.0,2467.4 L198.0,2467.4 L199.0,2467.4 L200.0,2467.4 L201.0,2467.4 L202.0,2467.4 L203.0,2467.4 L204.0,2467.4 L205.0,2467.4 L206.0,2467.4 L207.0,2467.4 L208.0,2467.4 L209.0,2467.4 L210.0,2467.4 L211.0,2467.4 L212.0,2467.4 L213.0,2467.4 L214.0,2467.4 L215.0,2467.4 L216.0,2467.3 L217.0,2467.3 L218.0,2467.3 L219.0,2467.3 L220.0,2467.3 L221.0,2467.3 L222.0,2467.3 L223.0,2467.3 L224.0,2467.3 L225.0,2467.3 L226.0,2467.3 L227.0,2467.3 L228.0,2467.3 L229.0,2467.3 L230.0,2467.3 L231.0,2467.3 L232.0,2467.3 L233.0,2467.3 L234.0,2467.3 L235.0,2467.2 L236.0,2467.2 L237.0,2467.2 L238.0,2467.2 L239.0,2467.2 L240.0,2467.2 L241.0,2467.2 L242.0,2467.2 L243.0,2467.2 L244.0,2467.2 L245.0,2467.2 L246.0,2467.2 L247.0,2467.2 L248.0,2467.2 L249.0,2467.2 L250.0,2467.2 L251.0,2467.1 L252.0,2467.1 L253.0,2467.1 L254.0,2467.1 L255.0,2467.1 L256.0,2467.1 L257.0,2467.1 L258.0,2467.1 L259.0,2467.1 L260.0,2467.1 L261.0,2467.1 L262.0,2467.1 L263.0,2467.1 L264.0,2467.1 L265.0,2467.1 L266.0,2467.0 L267.0,2467.0 L268.0,2467.0 L269.0,2467.0 L270.0,2467.0 L271.0,2467.0 L272.0,2467.0 L273.0,2467.0 L274.0,2467.0 L275.0,2467.0 L276.0,2467.0 L277.0,2467.0 L278.0,2467.0 L279.0,2466.9 L280.0,2466.9 L281.0,2466.9 L282.0,2466.9 L283.0,2466.9 L284.0,2466.9 L285.0,2466.9 L286.0,2466.9 L287.0,2466.9 L288.0,2466.9 L289.0,2466.9 L290.0,2466.8 L291.0,2466.8 L292.0,2466.8 L293.0,2466.8 L294.0,2466.8 L295.0,2466.8 L296.0,2466.8 L297.0,2466.8 L298.0,2466.8 L299.0,2466.8 L300.0,2466.8 L301.0,2466.7 L302.0,2466.7 L303.0,2466.7 L304.0,2466.7 L305.0,2466.7 L306.0,2466.7 L307.0,2466.7 L308.0,2466.7 L309.0,2466.7 L310.0,2466.6 L311.0,2466.6 L312.0,2466.6 L313.0,2466.6 L314.0,2466.6 L315.0,2466.6 L316.0,2466.6 L317.0,2466.6 L318.0,2466.6 L319.0,2466.5 L320.0,2466.5 L321.0,2466.5 L322.0,2466.5 L323.0,2466.5 L324.0,2466.5 L325.0,2466.5 L326.0,2466.5 L327.0,2466.4 L328.0,2466.4 L329.0,2466.4 L330.0,2466.4 L331.0,2466.4 L332.0,2466.4 L333.0,2466.4 L334.0,2466.3 L335.0,2466.3 L336.0,2466.3 L337.0,2466.3 L338.0,2466.3 L339.0,2466.3 L340.0,2466.3 L341.0,2466.2 L342.0,2466.2 L343.0,2466.2 L344.0,2466.2 L345.0,2466.2 L346.0,2466.2 L347.0,2466.1 L348.0,2466.1 L349.0,2466.1 L350.0,2466.1 L351.0,2466.1 L352.0,2466.1 L353.0,2466.0 L354.0,2466.0 L355.0,2466.0 L356.0,2466.0 L357.0,2466.0 L358.0,2466.0 L359.0,2465.9 L360.0,2465.9 L361.0,2465.9 L362.0,2465.9 L363.0,2465.9 L364.0,2465.8 L365.0,2465.8 L366.0,2465.8 L367.0,2465.8 L368.0,2465.8 L369.0,2465.7 L370.0,2465.7 L371.0,2465.7 L372.0,2465.7 L373.0,2465.6 L374.0,2465.6 L375.0,2465.6 L376.0,2465.6 L377.0,2465.6 L378.0,2465.5 L379.0,2465.5 L380.0,2465.5 L381.0,2465.5 L382.0,2465.4 L383.0,2465.4 L384.0,2465.4 L385.0,2465.4 L386.0,2465.3 L387.0,2465.3 L388.0,2465.3 L389.0,2465.2 L390.0,2465.2 L391.0,2465.2 L392.0,2465.2 L393.0,2465.1 L394.0,2465.1 L395.0,2465.1 L396.0,2465.0 L397.0,2465.0 L398.0,2465.0 L399.0,2465.0 L400.0,2464.9 L401.0,2464.9 L402.0,2464.9 L403.0,2464.8 L404.0,2464.8 L405.0,2464.8 L406.0,2464.7 L407.0,2464.7 L408.0,2464.6 L409.0,2464.6 L410.0,2464.6 L411.0,2464.5 L412.0,2464.5 L413.0,2464.5 L414.0,2464.4 L415.0,2464.4 L416.0,2464.3 L417.0,2464.3 L418.0,2464.3 L419.0,2464.2 L420.0,2464.2 L421.0,2464.1 L422.0,2464.1 L423.0,2464.0 L424.0,2464.0 L425.0,2464.0 L426.0,2463.9 L427.0,2463.9 L428.0,2463.8 L429.0,2463.8 L430.0,2463.7 L431.0,2463.7 L432.0,2463.6 L433.0,2463.6 L434.0,2463.5 L435.0,2463.4 L436.0,2463.4 L437.0,2463.3 L438.0,2463.3 L439.0,2463.2 L440.0,2463.2 L441.0,2463.1 L442.0,2463.0 L443.0,2463.0 L444.0,2462.9 L445.0,2462.8 L446.0,2462.8 L447.0,2462.7 L448.0,2462.6 L449.0,2462.5 L450.0,2462.5 L451.0,2462.4 L452.0,2462.3 L453.0,2462.2 L454.0,2462.2 L455.0,2462.1 L456.0,2462.0 L457.0,2461.9 L458.0,2461.8 L459.0,2461.7 L460.0,2461.6 L461.0,2461.5 L462.0,2461.4 L463.0,2461.3 L464.0,2461.2 L465.0,2461.1 L466.0,2460.9 L467.0,2460.8 L468.0,2460.7 L469.0,2460.6 L470.0,2460.4 L471.0,2460.3 L472.0,2460.1 L473.0,2460.0 L474.0,2459.8 L475.0,2459.6 L476.0,2459.4 L477.0,2459.3 L478.0,2459.1 L479.0,2458.8 L480.0,2458.6 L481.0,2458.4 L482.0,2458.2 L483.0,2457.9 L484.0,2457.6 L485.0,2457.4 L486.0,2457.1 L487.0,2456.7 L488.0,2456.4 L489.0,2456.1 L490.0,2455.7 L491.0,2455.3 L492.0,2454.9 L493.0,2454.5 L494.0,2454.0 L495.0,2453.5 L496.0,2453.0 L497.0,2452.5 L498.0,2451.9 L499.0,2451.3 L500.0,2450.7 L501.0,2450.0 L502.0,2449.3 L503.0,2448.5 L504.0,2447.7 L505.0,2446.9 L506.0,2446.0 L507.0,2445.1 L508.0,2444.1 L509.0,2443.0 L510.0,2441.9 L511.0,2440.8 L512.0,2439.6 L513.0,2438.3 L514.0,2436.9 L515.0,2435.5 L516.0,2434.0 L517.0,2432.5 L518.0,2430.8 L519.0,2429.1 L520.0,2427.3 L521.0,2425.4 L522.0,2423.4 L523.0,2421.3 L524.0,2419.2 L525.0,2416.9 L526.0,2414.6 L527.0,2412.1 L528.0,2409.5 L529.0,2406.8 L530.0,2404.0 L531.0,2401.1 L532.0,2398.1 L533.0,2395.0 L534.0,2391.8 L535.0,2388.4 L536.0,2384.9 L537.0,2381.3 L538.0,2377.6 L539.0,2373.7 L540.0,2369.7 L541.0,2365.6 L542.0,2361.4 L543.0,2357.0 L544.0,2352.5 L545.0,2347.9 L546.0,2343.2 L547.0,2338.3 L548.0,2333.3 L549.0,2328.2 L550.0,2323.0 L551.0,2317.7 L552.0,2312.2 L553.0,2306.7 L554.0,2301.0 L555.0,2295.3 L556.0,2289.4 L557.0,2283.5 L558.0,2277.5 L559.0,2271.4 L560.0,2265.2 L561.0,2259.0 L562.0,2252.7 L563.0,2246.3 L564.0,2239.9 L565.0,2233.5 L566.0,2227.0 L567.0,2220.5 L568.0,2214.0 L569.0,2207.5 L570.0,2201.1 L571.0,2194.6 L572.0,2188.2 L573.0,2181.8 L574.0,2175.4 L575.0,2169.2 L576.0,2163.0 L577.0,2156.9 L578.0,2150.8 L579.0,2144.9 L580.0,2139.2 L581.0,2133.5 L582.0,2128.1 L583.0,2122.7 L584.0,2117.6 L585.0,2112.6 L586.0,2107.9 L587.0,2103.3 L588.0,2099.0 L589.0,2095.0 L590.0,2091.1 L591.0,2087.6 L592.0,2084.3 L593.0,2081.3 L594.0,2078.6 L595.0,2076.2 L596.0,2074.1 L597.0,2072.3 L598.0,2070.8 L599.0,2069.7 L600.0,2068.9 L601.0,2068.4 L602.0,2068.3 L603.0,2068.5 L604.0,2069.1 L605.0,2069.9 L606.0,2071.2 L607.0,2072.7 L608.0,2074.6 L609.0,2076.8 L610.0,2079.3 L611.0,2082.1 L612.0,2085.2 L613.0,2088.5 L614.0,2092.2 L615.0,2096.1 L616.0,2100.3 L617.0,2104.6 L618.0,2109.3 L619.0,2114.1 L620.0,2119.1 L621.0,2124.3 L622.0,2129.7 L623.0,2135.2 L624.0,2140.9 L625.0,2146.7 L626.0,2152.6 L627.0,2158.6 L628.0,2164.7 L629.0,2170.9 L630.0,2177.1 L631.0,2183.4 L632.0,2189.8 L633.0,2196.2 L634.0,2202.6 L635.0,2209.0 L636.0,2215.4 L637.0,2221.9 L638.0,2228.3 L639.0,2234.6 L640.0,2241.0 L641.0,2247.3 L642.0,2253.5 L643.0,2259.7 L644.0,2265.9 L645.0,2271.9 L646.0,2277.9 L647.0,2283.8 L648.0,2289.6 L649.0,2295.4 L650.0,2301.0 L651.0,2306.5 L652.0,2311.9 L653.0,2317.3 L654.0,2322.5 L655.0,2327.6 L656.0,2332.6 L657.0,2337.4 L658.0,2342.2 L659.0,2346.8 L660.0,2351.3 L661.0,2355.7 L662.0,2359.9 L663.0,2364.1 L664.0,2368.1 L665.0,2372.0 L666.0,2375.8 L667.0,2379.4 L668.0,2382.9 L669.0,2386.4 L670.0,2389.7 L671.0,2392.8 L672.0,2395.9 L673.0,2398.9 L674.0,2401.7 L675.0,2404.4 L676.0,2407.1 L677.0,2409.6 L678.0,2412.0 L679.0,2414.3 L680.0,2416.6 L681.0,2418.7 L682.0,2420.8 L683.0,2422.7 L684.0,2424.6 L685.0,2426.4 L686.0,2428.1 L687.0,2429.7 L688.0,2431.3 L689.0,2432.7 L690.0,2434.2 L691.0,2435.5 L692.0,2436.8 L693.0,2438.0 L694.0,2439.2 L695.0,2440.3 L696.0,2441.3 L697.0,2442.3 L698.0,2443.3 L699.0,2444.2 L700.0,2445.0 L701.0,2445.8 L702.0,2446.6 L703.0,2447.3 L704.0,2448.0 L705.0,2448.7 L706.0,2449.3 L707.0,2449.9 L708.0,2450.5 L709.0,2451.0 L710.0,2451.5 L711.0,2452.0 L712.0,2452.5 L713.0,2452.9 L714.0,2453.3 L715.0,2453.7 L716.0,2454.1 L717.0,2454.4 L718.0,2454.8 L719.0,2455.1 L720.0,2455.4 L721.0,2455.7 L722.0,2456.0 L723.0,2456.3 L724.0,2456.5 L725.0,2456.8 L726.0,2457.0 L727.0,2457.2 L728.0,2457.4 L729.0,2457.6 L730.0,2457.8 L731.0,2458.0 L732.0,2458.2 L733.0,2458.4 L734.0,2458.5 L735.0,2458.7 L736.0,2458.9 L737.0,2459.0 L738.0,2459.2 L739.0,2459.3 L740.0,2459.4 L741.0,2459.6 L742.0,2459.7 L743.0,2459.8 L744.0,2460.0 L745.0,2460.1 L746.0,2460.2 L747.0,2460.3 L748.0,2460.4 L749.0,2460.5 L750.0,2460.6 L751.0,2460.7 L752.0,2460.8 L753.0,2460.9 L754.0,2461.0 L755.0,2461.1 L756.0,2461.2 L757.0,2461.3 L758.0,2461.4 L759.0,2461.5 L760.0,2461.5 L761.0,2461.6 L762.0,2461.7 L763.0,2461.8 L764.0,2461.9 L765.0,2461.9 L766.0,2462.0 L767.0,2462.1 L768.0,2462.1 L769.0,2462.2 L770.0,2462.3 L771.0,2462.4 L772.0,2462.4 L773.0,2462.5 L774.0,2462.5 L775.0,2462.6 L776.0,2462.7 L777.0,2462.7 L778.0,2462.8 L779.0,2462.9 L780.0,2462.9 L781.0,2463.0 L782.0,2463.0 L783.0,2463.1 L784.0,2463.1 L785.0,2463.2 L786.0,2463.2 L787.0,2463.3 L788.0,2463.3 L789.0,2463.4 L790.0,2463.4 L791.0,2463.5 L792.0,2463.5 L793.0,2463.6 L794.0,2463.6 L795.0,2463.7 L796.0,2463.7 L797.0,2463.8 L798.0,2463.8 L799.0,2463.9 L800.0,2463.9 L801.0,2463.9 L802.0,2464.0 L803.0,2464.0 L804.0,2464.1 L805.0,2464.1 L806.0,2464.1 L807.0,2464.2 L808.0,2464.2 L809.0,2464.3 L810.0,2464.3 L811.0,2464.3 L812.0,2464.4 L813.0,2464.4 L814.0,2464.4 L815.0,2464.5 L816.0,2464.5 L817.0,2464.5 L818.0,2464.6 L819.0,2464.6 L820.0,2464.6 L821.0,2464.7 L822.0,2464.7 L823.0,2464.7 L824.0,2464.8 L825.0,2464.8 L826.0,2464.8 L827.0,2464.9 L828.0,2464.9 L829.0,2464.9 L830.0,2464.9 L831.0,2465.0 L832.0,2465.0 L833.0,2465.0 L834.0,2465.1 L835.0,2465.1 L836.0,2465.1 L837.0,2465.1 L838.0,2465.2 L839.0,2465.2 L840.0,2465.2 L841.0,2465.2 L842.0,2465.3 L843.0,2465.3 L844.0,2465.3 L845.0,2465.3 L846.0,2465.4 L847.0,2465.4 L848.0,2465.4 L849.0,2465.4 L850.0,2465.4 L851.0,2465.5 L852.0,2465.5 L853.0,2465.5 L854.0,2465.5 L855.0,2465.6 L856.0,2465.6 L857.0,2465.6 L858.0,2465.6 L859.0,2465.6 L860.0,2465.7 L861.0,2465.7 L862.0,2465.7 L863.0,2465.7 L864.0,2465.7 L865.0,2465.8 L866.0,2465.8 L867.0,2465.8 L868.0,2465.8 L869.0,2465.8 L870.0,2465.8 L871.0,2465.9 L872.0,2465.9 L873.0,2465.9 L874.0,2465.9 L875.0,2465.9 L876.0,2466.0 L877.0,2466.0 L878.0,2466.0 L879.0,2466.0 L880.0,2466.0 L881.0,2466.0 L882.0,2466.0 L883.0,2466.1 L884.0,2466.1 L885.0,2466.1 L886.0,2466.1 L887.0,2466.1 L888.0,2466.1 L889.0,2466.2 L890.0,2466.2 L891.0,2466.2 L892.0,2466.2 L893.0,2466.2 L894.0,2466.2 L895.0,2466.2 L896.0,2466.3 L897.0,2466.3 L898.0,2466.3 L899.0,2466.3 L900.0,2466.3 L901.0,2466.3 L902.0,2466.3 L903.0,2466.3 L904.0,2466.4 L905.0,2466.4 L906.0,2466.4 L907.0,2466.4 L908.0,2466.4 L909.0,2466.4 L910.0,2466.4 L911.0,2466.4 L912.0,2466.5 L913.0,2466.5 L914.0,2466.5 L915.0,2466.5 L916.0,2466.5 L917.0,2466.5 L918.0,2466.5 L919.0,2466.5 L920.0,2466.5 L921.0,2466.6 L922.0,2466.6 L923.0,2466.6 L924.0,2466.6 L925.0,2466.6 L926.0,2466.6 L927.0,2466.6 L928.0,2466.6 L929.0,2466.6 L930.0,2466.6 L931.0,2466.7 L932.0,2466.7 L933.0,2466.7 L934.0,2466.7 L935.0,2466.7 L936.0,2466.7 L937.0,2466.7 L938.0,2466.7 L939.0,2466.7 L940.0,2466.7 L941.0,2466.8 L942.0,2466.8 L943.0,2466.8 L944.0,2466.8 L945.0,2466.8 L946.0,2466.8 L947.0,2466.8 L948.0,2466.8 L949.0,2466.8 L950.0,2466.8 L951.0,2466.8 L952.0,2466.8 L953.0,2466.9 L954.0,2466.9 L955.0,2466.9 L956.0,2466.9 L957.0,2466.9 L958.0,2466.9 L959.0,2466.9 L960.0,2466.9 L961.0,2466.9 L962.0,2466.9 L963.0,2466.9 L964.0,2466.9 L965.0,2466.9 L966.0,2467.0 L967.0,2467.0 L968.0,2467.0 L969.0,2467.0 L970.0,2467.0 L971.0,2467.0 L972.0,2467.0 L973.0,2467.0 L974.0,2467.0 L975.0,2467.0 L976.0,2467.0 L977.0,2467.0 L978.0,2467.0 L979.0,2467.0 L980.0,2467.1 L981.0,2467.1 L982.0,2467.1 L983.0,2467.1 L984.0,2467.1 L985.0,2467.1 L986.0,2467.1 L987.0,2467.1 L988.0,2467.1 L989.0,2467.1 L990.0,2467.1 L991.0,2467.1 L992.0,2467.1 L993.0,2467.1 L994.0,2467.1 L995.0,2467.1 L996.0,2467.2 L997.0,2467.2 L998.0,2467.2 L999.0,2467.2 L1000.0,2467.2 L1001.0,2467.2 L1002.0,2467.2 L1003.0,2467.2 L1004.0,2467.2 L1005.0,2467.2 L1006.0,2467.2 L1007.0,2467.2 L1008.0,2467.2 L1009.0,2467.2 L1010.0,2467.2 L1011.0,2467.2 L1012.0,2467.2 L1013.0,2467.2 L1014.0,2467.2 L1015.0,2467.3 L1016.0,2467.3 L1017.0,2467.3 L1018.0,2467.3 L1019.0,2467.3 L1020.0,2467.3 L1021.0,2467.3 L1022.0,2467.3 L1023.0,2467.3 L1024.0,2467.3 L1025.0,2467.3 L1026.0,2467.3 L1027.0,2467.3 L1028.0,2467.3 L1029.0,2467.3 L1030.0,2467.3 L1031.0,2467.3 L1032.0,2467.3 L1033.0,2467.3 L1034.0,2467.3 L1035.0,2467.3 L1036.0,2467.4 L1037.0,2467.4 L1038.0,2467.4 L1039.0,2467.4 L1040.0,2467.4 L1041.0,2467.4 L1042.0,2467.4 L1043.0,2467.4 L1044.0,2467.4 L1045.0,2467.4 L1046.0,2467.4 L1047.0,2467.4 L1048.0,2467.4 L1049.0,2467.4 L1050.0,2467.4 L1051.0,2467.4 L1052.0,2467.4 L1053.0,2467.4 L1054.0,2467.4 L1055.0,2467.4 L1056.0,2467.4 L1057.0,2467.4 L1058.0,2467.4 L1059.0,2467.4 L1060.0,2467.4 L1061.0,2467.5 L1062.0,2467.5 L1063.0,2467.5 L1064.0,2467.5 L1065.0,2467.5 L1066.0,2467.5 L1067.0,2467.5 L1068.0,2467.5 L1069.0,2467.5 L1070.0,2467.5 L1071.0,2467.5 L1072.0,2467.5 L1073.0,2467.5 L1074.0,2467.5 L1075.0,2467.5 L1076.0,2467.5 L1077.0,2467.5 L1078.0,2467.5 L1079.0,2467.5 L1080.0,2467.5 L1081.0,2467.5 L1082.0,2467.5 L1083.0,2467.5 L1084.0,2467.5 L1085.0,2467.5 L1086.0,2467.5 L1087.0,2467.5 L1088.0,2467.5 L1089.0,2467.5 L1090.0,2467.5 L1091.0,2467.6 L1092.0,2467.6 L1093.0,2467.6 L1094.0,2467.6 L1095.0,2467.6 L1096.0,2467.6 L1097.0,2467.6 L1098.0,2467.6 L1099.0,2467.6 L1100.0,2467.6 L1101.0,2467.6 L1102.0,2467.6 L1103.0,2467.6 L1104.0,2467.6 L1105.0,2467.6 L1106.0,2467.6 L1107.0,2467.6 L1108.0,2467.6 L1109.0,2467.6 L1110.0,2467.6 L1111.0,2467.6 L1112.0,2467.6 L1113.0,2467.6 L1114.0,2467.6 L1115.0,2467.6 L1116.0,2467.6 L1117.0,2467.6 L1118.0,2467.6 L1119.0,2467.6 L1120.0,2467.6 L1121.0,2467.6 L1122.0,2467.6 L1123.0,2467.6 L1124.0,2467.6 L1125.0,2467.6 L1126.0,2467.6 L1127.0,2467.6 L1128.0,2467.7 L1129.0,2467.7 L1130.0,2467.7 L1131.0,2467.7 L1132.0,2467.7 L1133.0,2467.7 L1134.0,2467.7 L1135.0,2467.7 L1136.0,2467.7 L1137.0,2467.7 L1138.0,2467.7 L1139.0,2467.7 L1140.0,2467.7 L1141.0,2467.7 L1142.0,2467.7 L1143.0,2467.7 L1144.0,2467.7 L1145.0,2467.7 L1146.0,2467.7 L1147.0,2467.7 L1148.0,2467.7 L1149.0,2467.7 L1150.0,2467.7 L1151.0,2467.7 L1152.0,2467.7 L1153.0,2467.7 L1154.0,2467.7 L1155.0,2467.7 L1156.0,2467.7 L1157.0,2467.7 L1158.0,2467.7 L1159.0,2467.7 L1160.0,2467.7 L1161.0,2467.7 L1162.0,2467.7 L1163.0,2467.7 L1164.0,2467.7 L1165.0,2467.7 L1166.0,2467.7 L1167.0,2467.7 L1168.0,2467.7 L1169.0,2467.7 L1170.0,2467.7 L1171.0,2467.7 L1172.0,2467.7 L1173.0,2467.7 L1174.0,2467.8 L1175.0,2467.8 L1176.0,2467.8 L1177.0,2467.8 L1178.0,2467.8 L1179.0,2467.8 L1180.0,2467.8 L1181.0,2467.8 L1182.0,2467.8 L1183.0,2467.8 L1184.0,2467.8 L1185.0,2467.8 L1186.0,2467.8 L1187.0,2467.8 L1188.0,2467.8 L1189.0,2467.8 L1190.0,2467.8 L1191.0,2467.8 L1192.0,2467.8 L1193.0,2467.8 L1194.0,2467.8 L1195.0,2467.8 L1196.0,2467.8 L1197.0,2467.8 L1198.0,2467.8 L1199.0,2467.8 L1200.0,2467.8 L1201.0,2467.8 L1202.0,2467.8 L1203.0,2467.8 L1204.0,2467.8 L1205.0,2467.8 L1206.0,2467.8 L1207.0,2467.8 L1208.0,2467.8 L1209.0,2467.8 L1210.0,2467.8 L1211.0,2467.8 L1212.0,2467.8 L1213.0,2467.8 L1214.0,2467.8 L1215.0,2467.8 L1216.0,2467.8 L1217.0,2467.8 L1218.0,2467.8 L1219.0,2467.8 L1220.0,2467.8 L1221.0,2467.8 L1222.0,2467.8 L1223.0,2467.8 L1224.0,2467.8 L1225.0,2467.8 L1226.0,2467.8 L1227.0,2467.8 L1228.0,2467.8 L1229.0,2467.8 L1230.0,2467.8 L1231.0,2467.8 L1232.0,2467.8 L1233.0,2467.8 L1234.0,2467.8 L1235.0,2467.9 L1236.0,2467.9 L1237.0,2467.9 L1238.0,2467.9 L1239.0,2467.9 L1240.0,2467.9 L1241.0,2467.9 L1242.0,2467.9 L1243.0,2467.9 L1244.0,2467.9 L1245.0,2467.9 L1246.0,2467.9 L1247.0,2467.9 L1248.0,2467.9 L1249.0,2467.9 L1250.0,2467.9 L1251.0,2467.9 L1252.0,2467.9 L1253.0,2467.9 L1254.0,2467.9 L1255.0,2467.9 L1256.0,2467.9 L1257.0,2467.9 L1258.0,2467.9 L1259.0,2467.9 L1260.0,2467.9 L1261.0,2467.9 L1262.0,2467.9 L1263.0,2467.9 L1264.0,2467.9 L1265.0,2467.9 L1266.0,2467.9 L1267.0,2467.9 L1268.0,2467.9 L1269.0,2467.9 L1270.0,2467.9 L1271.0,2467.9 L1272.0,2467.9 L1273.0,2467.9 L1274.0,2467.9 L1275.0,2467.9 L1276.0,2467.9 L1277.0,2467.9 L1278.0,2467.9 L1279.0,2467.9 L1280.0,2467.9 L1281.0,2467.9 L1282.0,2467.9 L1283.0,2467.9 L1284.0,2467.9 L1285.0,2467.9 L1286.0,2467.9 L1287.0,2467.9 L1288.0,2467.9 L1289.0,2467.9 L1290.0,2467.9 L1291.0,2467.9 L1292.0,2467.9 L1293.0,2467.9 L1294.0,2467.9 L1295.0,2467.9 L1296.0,2467.9 L1297.0,2467.9 L1298.0,2467.9 L1299.0,2467.9 L1300.0,2467.9 L1301.0,2467.9 L1302.0,2467.9 L1303.0,2467.9 L1304.0,2467.9 L1305.0,2467.9 L1306.0,2467.9 L1307.0,2467.9 L1308.0,2467.9 L1309.0,2467.9 L1310.0,2467.9 L1311.0,2467.9 L1312.0,2467.9 L1313.0,2467.9 L1314.0,2467.9 L1315.0,2467.9 L1316.0,2467.9 L1317.0,2467.9 L1318.0,2467.9 L1319.0,2467.9 L1320.0,2468.0 L1321.0,2468.0 L1322.0,2468.0 L1323.0,2468.0 L1324.0,2468.0 L1325.0,2468.0 L1326.0,2468.0 L1327.0,2468.0 L1328.0,2468.0 L1329.0,2468.0 L1330.0,2468.0 L1331.0,2468.0 L1332.0,2468.0 L1333.0,2468.0 L1334.0,2468.0 L1335.0,2468.0 L1336.0,2468.0 L1337.0,2468.0 L1338.0,2468.0 L1339.0,2468.0 L1340.0,2468.0 L1341.0,2468.0 L1342.0,2468.0 L1343.0,2468.0 L1344.0,2468.0 L1345.0,2468.0 L1346.0,2468.0 L1347.0,2468.0 L1348.0,2468.0 L1349.0,2468.0 L1350.0,2468.0 L1351.0,2468.0 L1352.0,2468.0 L1353.0,2468.0 L1354.0,2468.0 L1355.0,2468.0 L1356.0,2468.0 L1357.0,2468.0 L1358.0,2468.0 L1359.0,2468.0 L1360.0,2468.0 L1361.0,2468.0 L1362.0,2468.0 L1363.0,2468.0 L1364.0,2468.0 L1365.0,2468.0 L1366.0,2468.0 L1367.0,2468.0 L1368.0,2468.0 L1369.0,2468.0 L1370.0,2468.0 L1371.0,2468.0 L1372.0,2468.0 L1373.0,2468.0 L1374.0,2468.0 L1375.0,2468.0 L1376.0,2468.0 L1377.0,2468.0 L1378.0,2468.0 L1379.0,2468.0 L1380.0,2468.0 L1381.0,2468.0 L1382.0,2468.0 L1383.0,2468.0 L1384.0,2468.0 L1385.0,2468.0 L1386.0,2468.0 L1387.0,2468.0 L1388.0,2468.0 L1389.0,2468.0 L1390.0,2468.0 L1391.0,2468.0 L1392.0,2468.0 L1393.0,2468.0 L1394.0,2468.0 L1395.0,2468.0 L1396.0,2468.0 L1397.0,2468.0 L1398.0,2468.0 L1399.0,2468.0 L1400.0,2468.0 L1401.0,2468.0 L1402.0,2468.0 L1403.0,2468.0 L1404.0,2468.0 L1405.0,2468.0 L1406.0,2468.0 L1407.0,2468.0 L1408.0,2468.0 L1409.0,2468.0 L1410.0,2468.0 L1411.0,2468.0 L1412.0,2468.0 L1413.0,2468.0 L1414.0,2468.0 L1415.0,2468.0 L1416.0,2468.0 L1417.0,2468.0 L1418.0,2468.0 L1419.0,2468.0 L1420.0,2468.0 L1421.0,2468.0 L1422.0,2468.0 L1423.0,2468.0 L1424.0,2468.0 L1425.0,2468.0 L1426.0,2468.0 L1427.0,2468.0 L1428.0,2468.0 L1429.0,2468.0 L1430.0,2468.0 L1431.0,2468.0 L1432.0,2468.0 L1433.0,2468.0 L1434.0,2468.0 L1435.0,2468.0 L1436.0,2468.0 L1437.0,2468.0 L1438.0,2468.0 L1439.0,2468.0 L1440.0,2468.0 L1441.0,2468.0 L1442.0,2468.0 L1443.0,2468.0 L1444.0,2468.0 L1445.0,2468.0 L1446.0,2468.0 L1447.0,2468.0 L1448.0,2468.0 L1449.0,2468.0 L1450.0,2468.0 L1451.0,2468.1" fill="none" stroke="#348080" stroke-width="1.7" stroke-linejoin="round"/>
<path d="M485.0,2468.1 L486.0,2468.0 L487.0,2468.0 L488.0,2468.0 L489.0,2468.0 L490.0,2468.0 L491.0,2468.0 L492.0,2468.0 L493.0,2468.0 L494.0,2468.0 L495.0,2468.0 L496.0,2468.0 L497.0,2468.0 L498.0,2468.0 L499.0,2468.0 L500.0,2468.0 L501.0,2468.0 L502.0,2468.0 L503.0,2468.0 L504.0,2468.0 L505.0,2468.0 L506.0,2468.0 L507.0,2468.0 L508.0,2468.0 L509.0,2468.0 L510.0,2468.0 L511.0,2468.0 L512.0,2468.0 L513.0,2468.0 L514.0,2468.0 L515.0,2468.0 L516.0,2467.9 L517.0,2467.9 L518.0,2467.9 L519.0,2467.9 L520.0,2467.9 L521.0,2467.9 L522.0,2467.9 L523.0,2467.9 L524.0,2467.9 L525.0,2467.9 L526.0,2467.9 L527.0,2467.9 L528.0,2467.9 L529.0,2467.9 L530.0,2467.9 L531.0,2467.9 L532.0,2467.9 L533.0,2467.9 L534.0,2467.9 L535.0,2467.8 L536.0,2467.8 L537.0,2467.8 L538.0,2467.8 L539.0,2467.8 L540.0,2467.8 L541.0,2467.8 L542.0,2467.8 L543.0,2467.8 L544.0,2467.8 L545.0,2467.8 L546.0,2467.8 L547.0,2467.8 L548.0,2467.8 L549.0,2467.7 L550.0,2467.7 L551.0,2467.7 L552.0,2467.7 L553.0,2467.7 L554.0,2467.7 L555.0,2467.7 L556.0,2467.7 L557.0,2467.7 L558.0,2467.7 L559.0,2467.6 L560.0,2467.6 L561.0,2467.6 L562.0,2467.6 L563.0,2467.6 L564.0,2467.6 L565.0,2467.6 L566.0,2467.5 L567.0,2467.5 L568.0,2467.5 L569.0,2467.5 L570.0,2467.5 L571.0,2467.4 L572.0,2467.4 L573.0,2467.4 L574.0,2467.4 L575.0,2467.3 L576.0,2467.3 L577.0,2467.3 L578.0,2467.2 L579.0,2467.2 L580.0,2467.2 L581.0,2467.1 L582.0,2467.1 L583.0,2467.0 L584.0,2466.9 L585.0,2466.9 L586.0,2466.8 L587.0,2466.7 L588.0,2466.6 L589.0,2466.6 L590.0,2466.5 L591.0,2466.3 L592.0,2466.2 L593.0,2466.1 L594.0,2466.0 L595.0,2465.8 L596.0,2465.6 L597.0,2465.4 L598.0,2465.2 L599.0,2465.0 L600.0,2464.8 L601.0,2464.5 L602.0,2464.2 L603.0,2463.9 L604.0,2463.6 L605.0,2463.3 L606.0,2462.9 L607.0,2462.5 L608.0,2462.0 L609.0,2461.6 L610.0,2461.1 L611.0,2460.5 L612.0,2459.9 L613.0,2459.3 L614.0,2458.6 L615.0,2457.9 L616.0,2457.2 L617.0,2456.4 L618.0,2455.5 L619.0,2454.6 L620.0,2453.7 L621.0,2452.7 L622.0,2451.6 L623.0,2450.5 L624.0,2449.3 L625.0,2448.1 L626.0,2446.8 L627.0,2445.5 L628.0,2444.1 L629.0,2442.7 L630.0,2441.2 L631.0,2439.6 L632.0,2438.0 L633.0,2436.3 L634.0,2434.6 L635.0,2432.8 L636.0,2431.0 L637.0,2429.2 L638.0,2427.3 L639.0,2425.3 L640.0,2423.3 L641.0,2421.3 L642.0,2419.3 L643.0,2417.3 L644.0,2415.2 L645.0,2413.1 L646.0,2411.0 L647.0,2408.9 L648.0,2406.9 L649.0,2404.8 L650.0,2402.8 L651.0,2400.7 L652.0,2398.7 L653.0,2396.8 L654.0,2394.9 L655.0,2393.0 L656.0,2391.2 L657.0,2389.5 L658.0,2387.9 L659.0,2386.3 L660.0,2384.8 L661.0,2383.4 L662.0,2382.1 L663.0,2381.0 L664.0,2379.9 L665.0,2379.0 L666.0,2378.1 L667.0,2377.5 L668.0,2376.9 L669.0,2376.5 L670.0,2376.2 L671.0,2376.0 L672.0,2376.0 L673.0,2376.1 L674.0,2376.4 L675.0,2376.8 L676.0,2377.3 L677.0,2378.0 L678.0,2378.7 L679.0,2379.6 L680.0,2380.6 L681.0,2381.8 L682.0,2383.0 L683.0,2384.3 L684.0,2385.7 L685.0,2387.2 L686.0,2388.8 L687.0,2390.4 L688.0,2392.1 L689.0,2393.9 L690.0,2395.7 L691.0,2397.6 L692.0,2399.5 L693.0,2401.4 L694.0,2403.3 L695.0,2405.3 L696.0,2407.3 L697.0,2409.3 L698.0,2411.2 L699.0,2413.2 L700.0,2415.2 L701.0,2417.2 L702.0,2419.1 L703.0,2421.0 L704.0,2422.9 L705.0,2424.8 L706.0,2426.6 L707.0,2428.4 L708.0,2430.1 L709.0,2431.8 L710.0,2433.5 L711.0,2435.1 L712.0,2436.7 L713.0,2438.3 L714.0,2439.7 L715.0,2441.2 L716.0,2442.5 L717.0,2443.9 L718.0,2445.2 L719.0,2446.4 L720.0,2447.6 L721.0,2448.7 L722.0,2449.8 L723.0,2450.8 L724.0,2451.8 L725.0,2452.7 L726.0,2453.6 L727.0,2454.4 L728.0,2455.2 L729.0,2456.0 L730.0,2456.7 L731.0,2457.4 L732.0,2458.0 L733.0,2458.6 L734.0,2459.2 L735.0,2459.7 L736.0,2460.2 L737.0,2460.7 L738.0,2461.1 L739.0,2461.5 L740.0,2461.9 L741.0,2462.2 L742.0,2462.6 L743.0,2462.9 L744.0,2463.2 L745.0,2463.4 L746.0,2463.7 L747.0,2463.9 L748.0,2464.1 L749.0,2464.3 L750.0,2464.5 L751.0,2464.7 L752.0,2464.8 L753.0,2465.0 L754.0,2465.1 L755.0,2465.3 L756.0,2465.4 L757.0,2465.5 L758.0,2465.6 L759.0,2465.7 L760.0,2465.8 L761.0,2465.9 L762.0,2466.0 L763.0,2466.0 L764.0,2466.1 L765.0,2466.2 L766.0,2466.2 L767.0,2466.3 L768.0,2466.3 L769.0,2466.4 L770.0,2466.4 L771.0,2466.5 L772.0,2466.5 L773.0,2466.6 L774.0,2466.6 L775.0,2466.6 L776.0,2466.7 L777.0,2466.7 L778.0,2466.7 L779.0,2466.8 L780.0,2466.8 L781.0,2466.8 L782.0,2466.8 L783.0,2466.9 L784.0,2466.9 L785.0,2466.9 L786.0,2466.9 L787.0,2467.0 L788.0,2467.0 L789.0,2467.0 L790.0,2467.0 L791.0,2467.1 L792.0,2467.1 L793.0,2467.1 L794.0,2467.1 L795.0,2467.1 L796.0,2467.2 L797.0,2467.2 L798.0,2467.2 L799.0,2467.2 L800.0,2467.2 L801.0,2467.2 L802.0,2467.3 L803.0,2467.3 L804.0,2467.3 L805.0,2467.3 L806.0,2467.3 L807.0,2467.3 L808.0,2467.3 L809.0,2467.4 L810.0,2467.4 L811.0,2467.4 L812.0,2467.4 L813.0,2467.4 L814.0,2467.4 L815.0,2467.4 L816.0,2467.4 L817.0,2467.4 L818.0,2467.5 L819.0,2467.5 L820.0,2467.5 L821.0,2467.5 L822.0,2467.5 L823.0,2467.5 L824.0,2467.5 L825.0,2467.5 L826.0,2467.5 L827.0,2467.5 L828.0,2467.6 L829.0,2467.6 L830.0,2467.6 L831.0,2467.6 L832.0,2467.6 L833.0,2467.6 L834.0,2467.6 L835.0,2467.6 L836.0,2467.6 L837.0,2467.6 L838.0,2467.6 L839.0,2467.6 L840.0,2467.7 L841.0,2467.7 L842.0,2467.7 L843.0,2467.7 L844.0,2467.7 L845.0,2467.7 L846.0,2467.7 L847.0,2467.7 L848.0,2467.7 L849.0,2467.7 L850.0,2467.7 L851.0,2467.7 L852.0,2467.7 L853.0,2467.7 L854.0,2467.7 L855.0,2467.8 L856.0,2467.8 L857.0,2467.8 L858.0,2467.8 L859.0,2467.8 L860.0,2467.8 L861.0,2467.8 L862.0,2467.8 L863.0,2467.8 L864.0,2467.8 L865.0,2467.8 L866.0,2467.8 L867.0,2467.8 L868.0,2467.8 L869.0,2467.8 L870.0,2467.8 L871.0,2467.8 L872.0,2467.8 L873.0,2467.8 L874.0,2467.8 L875.0,2467.9 L876.0,2467.9 L877.0,2467.9 L878.0,2467.9 L879.0,2467.9 L880.0,2467.9 L881.0,2467.9 L882.0,2467.9 L883.0,2467.9 L884.0,2467.9 L885.0,2467.9 L886.0,2467.9 L887.0,2467.9 L888.0,2467.9 L889.0,2467.9 L890.0,2467.9 L891.0,2467.9 L892.0,2467.9 L893.0,2467.9 L894.0,2467.9 L895.0,2467.9 L896.0,2467.9 L897.0,2467.9 L898.0,2467.9 L899.0,2467.9 L900.0,2467.9 L901.0,2467.9 L902.0,2468.0 L903.0,2468.0 L904.0,2468.0 L905.0,2468.0 L906.0,2468.0 L907.0,2468.0 L908.0,2468.0 L909.0,2468.0 L910.0,2468.0 L911.0,2468.0 L912.0,2468.0 L913.0,2468.0 L914.0,2468.0 L915.0,2468.0 L916.0,2468.0 L917.0,2468.0 L918.0,2468.0 L919.0,2468.0 L920.0,2468.0 L921.0,2468.0 L922.0,2468.0 L923.0,2468.0 L924.0,2468.0 L925.0,2468.0 L926.0,2468.0 L927.0,2468.0 L928.0,2468.0 L929.0,2468.0 L930.0,2468.0 L931.0,2468.0 L932.0,2468.0 L933.0,2468.0 L934.0,2468.0 L935.0,2468.0 L936.0,2468.0 L937.0,2468.0 L938.0,2468.0 L939.0,2468.0 L940.0,2468.0 L941.0,2468.0 L942.0,2468.0 L943.0,2468.0 L944.0,2468.0 L945.0,2468.1" fill="none" stroke="#348080" stroke-width="1.7" stroke-linejoin="round"/>
<path d="M83.0,2468.1 L84.0,2468.0 L85.0,2468.0 L86.0,2468.0 L87.0,2468.0 L88.0,2468.0 L89.0,2468.0 L90.0,2468.0 L91.0,2468.0 L92.0,2468.0 L93.0,2468.0 L94.0,2468.0 L95.0,2468.0 L96.0,2468.0 L97.0,2468.0 L98.0,2468.0 L99.0,2468.0 L100.0,2468.0 L101.0,2468.0 L102.0,2468.0 L103.0,2468.0 L104.0,2468.0 L105.0,2468.0 L106.0,2468.0 L107.0,2468.0 L108.0,2468.0 L109.0,2468.0 L110.0,2468.0 L111.0,2468.0 L112.0,2468.0 L113.0,2468.0 L114.0,2468.0 L115.0,2468.0 L116.0,2468.0 L117.0,2468.0 L118.0,2468.0 L119.0,2468.0 L120.0,2468.0 L121.0,2468.0 L122.0,2468.0 L123.0,2468.0 L124.0,2468.0 L125.0,2468.0 L126.0,2468.0 L127.0,2468.0 L128.0,2468.0 L129.0,2468.0 L130.0,2468.0 L131.0,2468.0 L132.0,2468.0 L133.0,2468.0 L134.0,2468.0 L135.0,2468.0 L136.0,2468.0 L137.0,2468.0 L138.0,2468.0 L139.0,2468.0 L140.0,2468.0 L141.0,2468.0 L142.0,2468.0 L143.0,2468.0 L144.0,2468.0 L145.0,2468.0 L146.0,2468.0 L147.0,2468.0 L148.0,2468.0 L149.0,2468.0 L150.0,2468.0 L151.0,2468.0 L152.0,2468.0 L153.0,2468.0 L154.0,2468.0 L155.0,2468.0 L156.0,2468.0 L157.0,2468.0 L158.0,2468.0 L159.0,2468.0 L160.0,2468.0 L161.0,2468.0 L162.0,2468.0 L163.0,2468.0 L164.0,2468.0 L165.0,2468.0 L166.0,2468.0 L167.0,2468.0 L168.0,2468.0 L169.0,2468.0 L170.0,2468.0 L171.0,2468.0 L172.0,2468.0 L173.0,2468.0 L174.0,2468.0 L175.0,2468.0 L176.0,2468.0 L177.0,2468.0 L178.0,2468.0 L179.0,2468.0 L180.0,2468.0 L181.0,2468.0 L182.0,2468.0 L183.0,2468.0 L184.0,2468.0 L185.0,2467.9 L186.0,2467.9 L187.0,2467.9 L188.0,2467.9 L189.0,2467.9 L190.0,2467.9 L191.0,2467.9 L192.0,2467.9 L193.0,2467.9 L194.0,2467.9 L195.0,2467.9 L196.0,2467.9 L197.0,2467.9 L198.0,2467.9 L199.0,2467.9 L200.0,2467.9 L201.0,2467.9 L202.0,2467.9 L203.0,2467.9 L204.0,2467.9 L205.0,2467.9 L206.0,2467.9 L207.0,2467.9 L208.0,2467.9 L209.0,2467.9 L210.0,2467.9 L211.0,2467.9 L212.0,2467.9 L213.0,2467.9 L214.0,2467.9 L215.0,2467.9 L216.0,2467.9 L217.0,2467.9 L218.0,2467.9 L219.0,2467.9 L220.0,2467.9 L221.0,2467.9 L222.0,2467.9 L223.0,2467.9 L224.0,2467.9 L225.0,2467.9 L226.0,2467.9 L227.0,2467.9 L228.0,2467.9 L229.0,2467.9 L230.0,2467.9 L231.0,2467.9 L232.0,2467.9 L233.0,2467.9 L234.0,2467.9 L235.0,2467.9 L236.0,2467.9 L237.0,2467.9 L238.0,2467.9 L239.0,2467.9 L240.0,2467.9 L241.0,2467.9 L242.0,2467.9 L243.0,2467.9 L244.0,2467.9 L245.0,2467.9 L246.0,2467.9 L247.0,2467.9 L248.0,2467.9 L249.0,2467.9 L250.0,2467.8 L251.0,2467.8 L252.0,2467.8 L253.0,2467.8 L254.0,2467.8 L255.0,2467.8 L256.0,2467.8 L257.0,2467.8 L258.0,2467.8 L259.0,2467.8 L260.0,2467.8 L261.0,2467.8 L262.0,2467.8 L263.0,2467.8 L264.0,2467.8 L265.0,2467.8 L266.0,2467.8 L267.0,2467.8 L268.0,2467.8 L269.0,2467.8 L270.0,2467.8 L271.0,2467.8 L272.0,2467.8 L273.0,2467.8 L274.0,2467.8 L275.0,2467.8 L276.0,2467.8 L277.0,2467.8 L278.0,2467.8 L279.0,2467.8 L280.0,2467.8 L281.0,2467.8 L282.0,2467.8 L283.0,2467.8 L284.0,2467.8 L285.0,2467.8 L286.0,2467.8 L287.0,2467.8 L288.0,2467.8 L289.0,2467.8 L290.0,2467.8 L291.0,2467.8 L292.0,2467.8 L293.0,2467.8 L294.0,2467.8 L295.0,2467.8 L296.0,2467.8 L297.0,2467.7 L298.0,2467.7 L299.0,2467.7 L300.0,2467.7 L301.0,2467.7 L302.0,2467.7 L303.0,2467.7 L304.0,2467.7 L305.0,2467.7 L306.0,2467.7 L307.0,2467.7 L308.0,2467.7 L309.0,2467.7 L310.0,2467.7 L311.0,2467.7 L312.0,2467.7 L313.0,2467.7 L314.0,2467.7 L315.0,2467.7 L316.0,2467.7 L317.0,2467.7 L318.0,2467.7 L319.0,2467.7 L320.0,2467.7 L321.0,2467.7 L322.0,2467.7 L323.0,2467.7 L324.0,2467.7 L325.0,2467.7 L326.0,2467.7 L327.0,2467.7 L328.0,2467.7 L329.0,2467.7 L330.0,2467.7 L331.0,2467.7 L332.0,2467.6 L333.0,2467.6 L334.0,2467.6 L335.0,2467.6 L336.0,2467.6 L337.0,2467.6 L338.0,2467.6 L339.0,2467.6 L340.0,2467.6 L341.0,2467.6 L342.0,2467.6 L343.0,2467.6 L344.0,2467.6 L345.0,2467.6 L346.0,2467.6 L347.0,2467.6 L348.0,2467.6 L349.0,2467.6 L350.0,2467.6 L351.0,2467.6 L352.0,2467.6 L353.0,2467.6 L354.0,2467.6 L355.0,2467.6 L356.0,2467.6 L357.0,2467.6 L358.0,2467.6 L359.0,2467.6 L360.0,2467.5 L361.0,2467.5 L362.0,2467.5 L363.0,2467.5 L364.0,2467.5 L365.0,2467.5 L366.0,2467.5 L367.0,2467.5 L368.0,2467.5 L369.0,2467.5 L370.0,2467.5 L371.0,2467.5 L372.0,2467.5 L373.0,2467.5 L374.0,2467.5 L375.0,2467.5 L376.0,2467.5 L377.0,2467.5 L378.0,2467.5 L379.0,2467.5 L380.0,2467.5 L381.0,2467.5 L382.0,2467.5 L383.0,2467.4 L384.0,2467.4 L385.0,2467.4 L386.0,2467.4 L387.0,2467.4 L388.0,2467.4 L389.0,2467.4 L390.0,2467.4 L391.0,2467.4 L392.0,2467.4 L393.0,2467.4 L394.0,2467.4 L395.0,2467.4 L396.0,2467.4 L397.0,2467.4 L398.0,2467.4 L399.0,2467.4 L400.0,2467.4 L401.0,2467.4 L402.0,2467.4 L403.0,2467.3 L404.0,2467.3 L405.0,2467.3 L406.0,2467.3 L407.0,2467.3 L408.0,2467.3 L409.0,2467.3 L410.0,2467.3 L411.0,2467.3 L412.0,2467.3 L413.0,2467.3 L414.0,2467.3 L415.0,2467.3 L416.0,2467.3 L417.0,2467.3 L418.0,2467.3 L419.0,2467.2 L420.0,2467.2 L421.0,2467.2 L422.0,2467.2 L423.0,2467.2 L424.0,2467.2 L425.0,2467.2 L426.0,2467.2 L427.0,2467.2 L428.0,2467.2 L429.0,2467.2 L430.0,2467.2 L431.0,2467.2 L432.0,2467.2 L433.0,2467.1 L434.0,2467.1 L435.0,2467.1 L436.0,2467.1 L437.0,2467.1 L438.0,2467.1 L439.0,2467.1 L440.0,2467.1 L441.0,2467.1 L442.0,2467.1 L443.0,2467.1 L444.0,2467.1 L445.0,2467.1 L446.0,2467.0 L447.0,2467.0 L448.0,2467.0 L449.0,2467.0 L450.0,2467.0 L451.0,2467.0 L452.0,2467.0 L453.0,2467.0 L454.0,2467.0 L455.0,2467.0 L456.0,2467.0 L457.0,2466.9 L458.0,2466.9 L459.0,2466.9 L460.0,2466.9 L461.0,2466.9 L462.0,2466.9 L463.0,2466.9 L464.0,2466.9 L465.0,2466.9 L466.0,2466.9 L467.0,2466.8 L468.0,2466.8 L469.0,2466.8 L470.0,2466.8 L471.0,2466.8 L472.0,2466.8 L473.0,2466.8 L474.0,2466.8 L475.0,2466.8 L476.0,2466.7 L477.0,2466.7 L478.0,2466.7 L479.0,2466.7 L480.0,2466.7 L481.0,2466.7 L482.0,2466.7 L483.0,2466.7 L484.0,2466.6 L485.0,2466.6 L486.0,2466.6 L487.0,2466.6 L488.0,2466.6 L489.0,2466.6 L490.0,2466.6 L491.0,2466.5 L492.0,2466.5 L493.0,2466.5 L494.0,2466.5 L495.0,2466.5 L496.0,2466.5 L497.0,2466.5 L498.0,2466.4 L499.0,2466.4 L500.0,2466.4 L501.0,2466.4 L502.0,2466.4 L503.0,2466.4 L504.0,2466.3 L505.0,2466.3 L506.0,2466.3 L507.0,2466.3 L508.0,2466.3 L509.0,2466.3 L510.0,2466.2 L511.0,2466.2 L512.0,2466.2 L513.0,2466.2 L514.0,2466.2 L515.0,2466.2 L516.0,2466.1 L517.0,2466.1 L518.0,2466.1 L519.0,2466.1 L520.0,2466.1 L521.0,2466.0 L522.0,2466.0 L523.0,2466.0 L524.0,2466.0 L525.0,2465.9 L526.0,2465.9 L527.0,2465.9 L528.0,2465.9 L529.0,2465.9 L530.0,2465.8 L531.0,2465.8 L532.0,2465.8 L533.0,2465.8 L534.0,2465.7 L535.0,2465.7 L536.0,2465.7 L537.0,2465.7 L538.0,2465.6 L539.0,2465.6 L540.0,2465.6 L541.0,2465.6 L542.0,2465.5 L543.0,2465.5 L544.0,2465.5 L545.0,2465.4 L546.0,2465.4 L547.0,2465.4 L548.0,2465.3 L549.0,2465.3 L550.0,2465.3 L551.0,2465.3 L552.0,2465.2 L553.0,2465.2 L554.0,2465.2 L555.0,2465.1 L556.0,2465.1 L557.0,2465.1 L558.0,2465.0 L559.0,2465.0 L560.0,2464.9 L561.0,2464.9 L562.0,2464.9 L563.0,2464.8 L564.0,2464.8 L565.0,2464.8 L566.0,2464.7 L567.0,2464.7 L568.0,2464.6 L569.0,2464.6 L570.0,2464.5 L571.0,2464.5 L572.0,2464.5 L573.0,2464.4 L574.0,2464.4 L575.0,2464.3 L576.0,2464.3 L577.0,2464.2 L578.0,2464.2 L579.0,2464.1 L580.0,2464.1 L581.0,2464.0 L582.0,2464.0 L583.0,2463.9 L584.0,2463.8 L585.0,2463.8 L586.0,2463.7 L587.0,2463.7 L588.0,2463.6 L589.0,2463.6 L590.0,2463.5 L591.0,2463.4 L592.0,2463.4 L593.0,2463.3 L594.0,2463.2 L595.0,2463.2 L596.0,2463.1 L597.0,2463.0 L598.0,2462.9 L599.0,2462.9 L600.0,2462.8 L601.0,2462.7 L602.0,2462.6 L603.0,2462.5 L604.0,2462.5 L605.0,2462.4 L606.0,2462.3 L607.0,2462.2 L608.0,2462.1 L609.0,2462.0 L610.0,2461.9 L611.0,2461.8 L612.0,2461.7 L613.0,2461.6 L614.0,2461.5 L615.0,2461.4 L616.0,2461.3 L617.0,2461.2 L618.0,2461.0 L619.0,2460.9 L620.0,2460.8 L621.0,2460.7 L622.0,2460.5 L623.0,2460.4 L624.0,2460.2 L625.0,2460.1 L626.0,2459.9 L627.0,2459.7 L628.0,2459.6 L629.0,2459.4 L630.0,2459.2 L631.0,2459.0 L632.0,2458.8 L633.0,2458.6 L634.0,2458.3 L635.0,2458.1 L636.0,2457.9 L637.0,2457.6 L638.0,2457.3 L639.0,2457.0 L640.0,2456.7 L641.0,2456.3 L642.0,2456.0 L643.0,2455.6 L644.0,2455.2 L645.0,2454.8 L646.0,2454.3 L647.0,2453.8 L648.0,2453.3 L649.0,2452.8 L650.0,2452.2 L651.0,2451.5 L652.0,2450.9 L653.0,2450.1 L654.0,2449.4 L655.0,2448.5 L656.0,2447.7 L657.0,2446.7 L658.0,2445.7 L659.0,2444.7 L660.0,2443.5 L661.0,2442.3 L662.0,2441.0 L663.0,2439.6 L664.0,2438.1 L665.0,2436.6 L666.0,2434.9 L667.0,2433.1 L668.0,2431.2 L669.0,2429.2 L670.0,2427.1 L671.0,2424.8 L672.0,2422.5 L673.0,2419.9 L674.0,2417.3 L675.0,2414.5 L676.0,2411.5 L677.0,2408.4 L678.0,2405.1 L679.0,2401.7 L680.0,2398.1 L681.0,2394.3 L682.0,2390.3 L683.0,2386.2 L684.0,2381.9 L685.0,2377.4 L686.0,2372.7 L687.0,2367.8 L688.0,2362.8 L689.0,2357.5 L690.0,2352.1 L691.0,2346.5 L692.0,2340.7 L693.0,2334.7 L694.0,2328.5 L695.0,2322.2 L696.0,2315.7 L697.0,2309.1 L698.0,2302.3 L699.0,2295.4 L700.0,2288.3 L701.0,2281.1 L702.0,2273.8 L703.0,2266.3 L704.0,2258.8 L705.0,2251.3 L706.0,2243.6 L707.0,2235.9 L708.0,2228.2 L709.0,2220.5 L710.0,2212.8 L711.0,2205.1 L712.0,2197.5 L713.0,2189.9 L714.0,2182.5 L715.0,2175.1 L716.0,2167.9 L717.0,2160.8 L718.0,2154.0 L719.0,2147.3 L720.0,2140.9 L721.0,2134.8 L722.0,2128.9 L723.0,2123.4 L724.0,2118.2 L725.0,2113.3 L726.0,2108.9 L727.0,2104.8 L728.0,2101.2 L729.0,2098.1 L730.0,2095.4 L731.0,2093.2 L732.0,2091.5 L733.0,2090.3 L734.0,2089.7 L735.0,2089.5 L736.0,2089.9 L737.0,2090.8 L738.0,2092.3 L739.0,2094.3 L740.0,2096.8 L741.0,2099.8 L742.0,2103.3 L743.0,2107.3 L744.0,2111.7 L745.0,2116.5 L746.0,2121.7 L747.0,2127.3 L748.0,2133.2 L749.0,2139.5 L750.0,2146.0 L751.0,2152.8 L752.0,2159.8 L753.0,2167.0 L754.0,2174.3 L755.0,2181.8 L756.0,2189.5 L757.0,2197.2 L758.0,2205.0 L759.0,2212.9 L760.0,2220.8 L761.0,2228.7 L762.0,2236.6 L763.0,2244.4 L764.0,2252.2 L765.0,2259.9 L766.0,2267.6 L767.0,2275.2 L768.0,2282.6 L769.0,2289.9 L770.0,2297.1 L771.0,2304.2 L772.0,2311.1 L773.0,2317.8 L774.0,2324.4 L775.0,2330.7 L776.0,2337.0 L777.0,2343.0 L778.0,2348.8 L779.0,2354.5 L780.0,2359.9 L781.0,2365.2 L782.0,2370.2 L783.0,2375.1 L784.0,2379.7 L785.0,2384.2 L786.0,2388.5 L787.0,2392.6 L788.0,2396.5 L789.0,2400.3 L790.0,2403.8 L791.0,2407.2 L792.0,2410.4 L793.0,2413.5 L794.0,2416.4 L795.0,2419.1 L796.0,2421.7 L797.0,2424.1 L798.0,2426.5 L799.0,2428.6 L800.0,2430.7 L801.0,2432.6 L802.0,2434.4 L803.0,2436.1 L804.0,2437.7 L805.0,2439.2 L806.0,2440.7 L807.0,2442.0 L808.0,2443.2 L809.0,2444.4 L810.0,2445.5 L811.0,2446.5 L812.0,2447.4 L813.0,2448.3 L814.0,2449.1 L815.0,2449.9 L816.0,2450.7 L817.0,2451.3 L818.0,2452.0 L819.0,2452.6 L820.0,2453.1 L821.0,2453.6 L822.0,2454.1 L823.0,2454.6 L824.0,2455.0 L825.0,2455.4 L826.0,2455.8 L827.0,2456.2 L828.0,2456.5 L829.0,2456.8 L830.0,2457.1 L831.0,2457.4 L832.0,2457.7 L833.0,2457.9 L834.0,2458.2 L835.0,2458.4 L836.0,2458.6 L837.0,2458.8 L838.0,2459.0 L839.0,2459.2 L840.0,2459.4 L841.0,2459.6 L842.0,2459.8 L843.0,2459.9 L844.0,2460.1 L845.0,2460.2 L846.0,2460.4 L847.0,2460.5 L848.0,2460.6 L849.0,2460.8 L850.0,2460.9 L851.0,2461.0 L852.0,2461.1 L853.0,2461.3 L854.0,2461.4 L855.0,2461.5 L856.0,2461.6 L857.0,2461.7 L858.0,2461.8 L859.0,2461.9 L860.0,2462.0 L861.0,2462.1 L862.0,2462.2 L863.0,2462.3 L864.0,2462.4 L865.0,2462.5 L866.0,2462.5 L867.0,2462.6 L868.0,2462.7 L869.0,2462.8 L870.0,2462.9 L871.0,2462.9 L872.0,2463.0 L873.0,2463.1 L874.0,2463.1 L875.0,2463.2 L876.0,2463.3 L877.0,2463.4 L878.0,2463.4 L879.0,2463.5 L880.0,2463.5 L881.0,2463.6 L882.0,2463.7 L883.0,2463.7 L884.0,2463.8 L885.0,2463.8 L886.0,2463.9 L887.0,2464.0 L888.0,2464.0 L889.0,2464.1 L890.0,2464.1 L891.0,2464.2 L892.0,2464.2 L893.0,2464.3 L894.0,2464.3 L895.0,2464.4 L896.0,2464.4 L897.0,2464.5 L898.0,2464.5 L899.0,2464.5 L900.0,2464.6 L901.0,2464.6 L902.0,2464.7 L903.0,2464.7 L904.0,2464.8 L905.0,2464.8 L906.0,2464.8 L907.0,2464.9 L908.0,2464.9 L909.0,2464.9 L910.0,2465.0 L911.0,2465.0 L912.0,2465.1 L913.0,2465.1 L914.0,2465.1 L915.0,2465.2 L916.0,2465.2 L917.0,2465.2 L918.0,2465.3 L919.0,2465.3 L920.0,2465.3 L921.0,2465.4 L922.0,2465.4 L923.0,2465.4 L924.0,2465.4 L925.0,2465.5 L926.0,2465.5 L927.0,2465.5 L928.0,2465.6 L929.0,2465.6 L930.0,2465.6 L931.0,2465.6 L932.0,2465.7 L933.0,2465.7 L934.0,2465.7 L935.0,2465.7 L936.0,2465.8 L937.0,2465.8 L938.0,2465.8 L939.0,2465.8 L940.0,2465.9 L941.0,2465.9 L942.0,2465.9 L943.0,2465.9 L944.0,2466.0 L945.0,2466.0 L946.0,2466.0 L947.0,2466.0 L948.0,2466.0 L949.0,2466.1 L950.0,2466.1 L951.0,2466.1 L952.0,2466.1 L953.0,2466.1 L954.0,2466.2 L955.0,2466.2 L956.0,2466.2 L957.0,2466.2 L958.0,2466.2 L959.0,2466.2 L960.0,2466.3 L961.0,2466.3 L962.0,2466.3 L963.0,2466.3 L964.0,2466.3 L965.0,2466.4 L966.0,2466.4 L967.0,2466.4 L968.0,2466.4 L969.0,2466.4 L970.0,2466.4 L971.0,2466.4 L972.0,2466.5 L973.0,2466.5 L974.0,2466.5 L975.0,2466.5 L976.0,2466.5 L977.0,2466.5 L978.0,2466.6 L979.0,2466.6 L980.0,2466.6 L981.0,2466.6 L982.0,2466.6 L983.0,2466.6 L984.0,2466.6 L985.0,2466.6 L986.0,2466.7 L987.0,2466.7 L988.0,2466.7 L989.0,2466.7 L990.0,2466.7 L991.0,2466.7 L992.0,2466.7 L993.0,2466.7 L994.0,2466.8 L995.0,2466.8 L996.0,2466.8 L997.0,2466.8 L998.0,2466.8 L999.0,2466.8 L1000.0,2466.8 L1001.0,2466.8 L1002.0,2466.8 L1003.0,2466.9 L1004.0,2466.9 L1005.0,2466.9 L1006.0,2466.9 L1007.0,2466.9 L1008.0,2466.9 L1009.0,2466.9 L1010.0,2466.9 L1011.0,2466.9 L1012.0,2466.9 L1013.0,2467.0 L1014.0,2467.0 L1015.0,2467.0 L1016.0,2467.0 L1017.0,2467.0 L1018.0,2467.0 L1019.0,2467.0 L1020.0,2467.0 L1021.0,2467.0 L1022.0,2467.0 L1023.0,2467.0 L1024.0,2467.1 L1025.0,2467.1 L1026.0,2467.1 L1027.0,2467.1 L1028.0,2467.1 L1029.0,2467.1 L1030.0,2467.1 L1031.0,2467.1 L1032.0,2467.1 L1033.0,2467.1 L1034.0,2467.1 L1035.0,2467.1 L1036.0,2467.2 L1037.0,2467.2 L1038.0,2467.2 L1039.0,2467.2 L1040.0,2467.2 L1041.0,2467.2 L1042.0,2467.2 L1043.0,2467.2 L1044.0,2467.2 L1045.0,2467.2 L1046.0,2467.2 L1047.0,2467.2 L1048.0,2467.2 L1049.0,2467.2 L1050.0,2467.3 L1051.0,2467.3 L1052.0,2467.3 L1053.0,2467.3 L1054.0,2467.3 L1055.0,2467.3 L1056.0,2467.3 L1057.0,2467.3 L1058.0,2467.3 L1059.0,2467.3 L1060.0,2467.3 L1061.0,2467.3 L1062.0,2467.3 L1063.0,2467.3 L1064.0,2467.3 L1065.0,2467.3 L1066.0,2467.3 L1067.0,2467.4 L1068.0,2467.4 L1069.0,2467.4 L1070.0,2467.4 L1071.0,2467.4 L1072.0,2467.4 L1073.0,2467.4 L1074.0,2467.4 L1075.0,2467.4 L1076.0,2467.4 L1077.0,2467.4 L1078.0,2467.4 L1079.0,2467.4 L1080.0,2467.4 L1081.0,2467.4 L1082.0,2467.4 L1083.0,2467.4 L1084.0,2467.4 L1085.0,2467.4 L1086.0,2467.5 L1087.0,2467.5 L1088.0,2467.5 L1089.0,2467.5 L1090.0,2467.5 L1091.0,2467.5 L1092.0,2467.5 L1093.0,2467.5 L1094.0,2467.5 L1095.0,2467.5 L1096.0,2467.5 L1097.0,2467.5 L1098.0,2467.5 L1099.0,2467.5 L1100.0,2467.5 L1101.0,2467.5 L1102.0,2467.5 L1103.0,2467.5 L1104.0,2467.5 L1105.0,2467.5 L1106.0,2467.5 L1107.0,2467.5 L1108.0,2467.5 L1109.0,2467.6 L1110.0,2467.6 L1111.0,2467.6 L1112.0,2467.6 L1113.0,2467.6 L1114.0,2467.6 L1115.0,2467.6 L1116.0,2467.6 L1117.0,2467.6 L1118.0,2467.6 L1119.0,2467.6 L1120.0,2467.6 L1121.0,2467.6 L1122.0,2467.6 L1123.0,2467.6 L1124.0,2467.6 L1125.0,2467.6 L1126.0,2467.6 L1127.0,2467.6 L1128.0,2467.6 L1129.0,2467.6 L1130.0,2467.6 L1131.0,2467.6 L1132.0,2467.6 L1133.0,2467.6 L1134.0,2467.6 L1135.0,2467.6 L1136.0,2467.7 L1137.0,2467.7 L1138.0,2467.7 L1139.0,2467.7 L1140.0,2467.7 L1141.0,2467.7 L1142.0,2467.7 L1143.0,2467.7 L1144.0,2467.7 L1145.0,2467.7 L1146.0,2467.7 L1147.0,2467.7 L1148.0,2467.7 L1149.0,2467.7 L1150.0,2467.7 L1151.0,2467.7 L1152.0,2467.7 L1153.0,2467.7 L1154.0,2467.7 L1155.0,2467.7 L1156.0,2467.7 L1157.0,2467.7 L1158.0,2467.7 L1159.0,2467.7 L1160.0,2467.7 L1161.0,2467.7 L1162.0,2467.7 L1163.0,2467.7 L1164.0,2467.7 L1165.0,2467.7 L1166.0,2467.7 L1167.0,2467.7 L1168.0,2467.7 L1169.0,2467.7 L1170.0,2467.7 L1171.0,2467.7 L1172.0,2467.8 L1173.0,2467.8 L1174.0,2467.8 L1175.0,2467.8 L1176.0,2467.8 L1177.0,2467.8 L1178.0,2467.8 L1179.0,2467.8 L1180.0,2467.8 L1181.0,2467.8 L1182.0,2467.8 L1183.0,2467.8 L1184.0,2467.8 L1185.0,2467.8 L1186.0,2467.8 L1187.0,2467.8 L1188.0,2467.8 L1189.0,2467.8 L1190.0,2467.8 L1191.0,2467.8 L1192.0,2467.8 L1193.0,2467.8 L1194.0,2467.8 L1195.0,2467.8 L1196.0,2467.8 L1197.0,2467.8 L1198.0,2467.8 L1199.0,2467.8 L1200.0,2467.8 L1201.0,2467.8 L1202.0,2467.8 L1203.0,2467.8 L1204.0,2467.8 L1205.0,2467.8 L1206.0,2467.8 L1207.0,2467.8 L1208.0,2467.8 L1209.0,2467.8 L1210.0,2467.8 L1211.0,2467.8 L1212.0,2467.8 L1213.0,2467.8 L1214.0,2467.8 L1215.0,2467.8 L1216.0,2467.8 L1217.0,2467.8 L1218.0,2467.9 L1219.0,2467.9 L1220.0,2467.9 L1221.0,2467.9 L1222.0,2467.9 L1223.0,2467.9 L1224.0,2467.9 L1225.0,2467.9 L1226.0,2467.9 L1227.0,2467.9 L1228.0,2467.9 L1229.0,2467.9 L1230.0,2467.9 L1231.0,2467.9 L1232.0,2467.9 L1233.0,2467.9 L1234.0,2467.9 L1235.0,2467.9 L1236.0,2467.9 L1237.0,2467.9 L1238.0,2467.9 L1239.0,2467.9 L1240.0,2467.9 L1241.0,2467.9 L1242.0,2467.9 L1243.0,2467.9 L1244.0,2467.9 L1245.0,2467.9 L1246.0,2467.9 L1247.0,2467.9 L1248.0,2467.9 L1249.0,2467.9 L1250.0,2467.9 L1251.0,2467.9 L1252.0,2467.9 L1253.0,2467.9 L1254.0,2467.9 L1255.0,2467.9 L1256.0,2467.9 L1257.0,2467.9 L1258.0,2467.9 L1259.0,2467.9 L1260.0,2467.9 L1261.0,2467.9 L1262.0,2467.9 L1263.0,2467.9 L1264.0,2467.9 L1265.0,2467.9 L1266.0,2467.9 L1267.0,2467.9 L1268.0,2467.9 L1269.0,2467.9 L1270.0,2467.9 L1271.0,2467.9 L1272.0,2467.9 L1273.0,2467.9 L1274.0,2467.9 L1275.0,2467.9 L1276.0,2467.9 L1277.0,2467.9 L1278.0,2467.9 L1279.0,2467.9 L1280.0,2467.9 L1281.0,2467.9 L1282.0,2467.9 L1283.0,2468.0 L1284.0,2468.0 L1285.0,2468.0 L1286.0,2468.0 L1287.0,2468.0 L1288.0,2468.0 L1289.0,2468.0 L1290.0,2468.0 L1291.0,2468.0 L1292.0,2468.0 L1293.0,2468.0 L1294.0,2468.0 L1295.0,2468.0 L1296.0,2468.0 L1297.0,2468.0 L1298.0,2468.0 L1299.0,2468.0 L1300.0,2468.0 L1301.0,2468.0 L1302.0,2468.0 L1303.0,2468.0 L1304.0,2468.0 L1305.0,2468.0 L1306.0,2468.0 L1307.0,2468.0 L1308.0,2468.0 L1309.0,2468.0 L1310.0,2468.0 L1311.0,2468.0 L1312.0,2468.0 L1313.0,2468.0 L1314.0,2468.0 L1315.0,2468.0 L1316.0,2468.0 L1317.0,2468.0 L1318.0,2468.0 L1319.0,2468.0 L1320.0,2468.0 L1321.0,2468.0 L1322.0,2468.0 L1323.0,2468.0 L1324.0,2468.0 L1325.0,2468.0 L1326.0,2468.0 L1327.0,2468.0 L1328.0,2468.0 L1329.0,2468.0 L1330.0,2468.0 L1331.0,2468.0 L1332.0,2468.0 L1333.0,2468.0 L1334.0,2468.0 L1335.0,2468.0 L1336.0,2468.0 L1337.0,2468.0 L1338.0,2468.0 L1339.0,2468.0 L1340.0,2468.0 L1341.0,2468.0 L1342.0,2468.0 L1343.0,2468.0 L1344.0,2468.0 L1345.0,2468.0 L1346.0,2468.0 L1347.0,2468.0 L1348.0,2468.0 L1349.0,2468.0 L1350.0,2468.0 L1351.0,2468.0 L1352.0,2468.0 L1353.0,2468.0 L1354.0,2468.0 L1355.0,2468.0 L1356.0,2468.0 L1357.0,2468.0 L1358.0,2468.0 L1359.0,2468.0 L1360.0,2468.0 L1361.0,2468.0 L1362.0,2468.0 L1363.0,2468.0 L1364.0,2468.0 L1365.0,2468.0 L1366.0,2468.0 L1367.0,2468.0 L1368.0,2468.0 L1369.0,2468.0 L1370.0,2468.0 L1371.0,2468.0 L1372.0,2468.0 L1373.0,2468.0 L1374.0,2468.0 L1375.0,2468.0 L1376.0,2468.0 L1377.0,2468.0 L1378.0,2468.0 L1379.0,2468.0 L1380.0,2468.0 L1381.0,2468.0 L1382.0,2468.0 L1383.0,2468.0 L1384.0,2468.1" fill="none" stroke="#348080" stroke-width="1.7" stroke-linejoin="round"/>
<path d="M79.0,2468.0 L80.0,2468.0 L81.0,2468.0 L82.0,2468.0 L83.0,2468.0 L84.0,2468.0 L85.0,2468.0 L86.0,2468.0 L87.0,2468.0 L88.0,2468.0 L89.0,2468.0 L90.0,2468.0 L91.0,2468.0 L92.0,2468.0 L93.0,2468.0 L94.0,2468.0 L95.0,2468.0 L96.0,2468.0 L97.0,2468.0 L98.0,2468.0 L99.0,2468.0 L100.0,2468.0 L101.0,2468.0 L102.0,2468.0 L103.0,2468.0 L104.0,2468.0 L105.0,2468.0 L106.0,2468.0 L107.0,2468.0 L108.0,2468.0 L109.0,2468.0 L110.0,2468.0 L111.0,2468.0 L112.0,2468.0 L113.0,2468.0 L114.0,2468.0 L115.0,2468.0 L116.0,2468.0 L117.0,2468.0 L118.0,2468.0 L119.0,2468.0 L120.0,2468.0 L121.0,2468.0 L122.0,2468.0 L123.0,2468.0 L124.0,2468.0 L125.0,2468.0 L126.0,2468.0 L127.0,2468.0 L128.0,2468.0 L129.0,2468.0 L130.0,2468.0 L131.0,2468.0 L132.0,2468.0 L133.0,2468.0 L134.0,2468.0 L135.0,2468.0 L136.0,2468.0 L137.0,2468.0 L138.0,2468.0 L139.0,2468.0 L140.0,2468.0 L141.0,2468.0 L142.0,2468.0 L143.0,2468.0 L144.0,2468.0 L145.0,2468.0 L146.0,2468.0 L147.0,2468.0 L148.0,2468.0 L149.0,2468.0 L150.0,2468.0 L151.0,2468.0 L152.0,2468.0 L153.0,2468.0 L154.0,2468.0 L155.0,2468.0 L156.0,2468.0 L157.0,2468.0 L158.0,2468.0 L159.0,2468.0 L160.0,2468.0 L161.0,2468.0 L162.0,2468.0 L163.0,2468.0 L164.0,2468.0 L165.0,2468.0 L166.0,2468.0 L167.0,2468.0 L168.0,2468.0 L169.0,2468.0 L170.0,2468.0 L171.0,2467.9 L172.0,2467.9 L173.0,2467.9 L174.0,2467.9 L175.0,2467.9 L176.0,2467.9 L177.0,2467.9 L178.0,2467.9 L179.0,2467.9 L180.0,2467.9 L181.0,2467.9 L182.0,2467.9 L183.0,2467.9 L184.0,2467.9 L185.0,2467.9 L186.0,2467.9 L187.0,2467.9 L188.0,2467.9 L189.0,2467.9 L190.0,2467.9 L191.0,2467.9 L192.0,2467.9 L193.0,2467.9 L194.0,2467.9 L195.0,2467.9 L196.0,2467.9 L197.0,2467.9 L198.0,2467.9 L199.0,2467.9 L200.0,2467.9 L201.0,2467.9 L202.0,2467.9 L203.0,2467.9 L204.0,2467.9 L205.0,2467.9 L206.0,2467.9 L207.0,2467.9 L208.0,2467.9 L209.0,2467.9 L210.0,2467.9 L211.0,2467.9 L212.0,2467.9 L213.0,2467.9 L214.0,2467.9 L215.0,2467.9 L216.0,2467.9 L217.0,2467.9 L218.0,2467.9 L219.0,2467.9 L220.0,2467.9 L221.0,2467.9 L222.0,2467.9 L223.0,2467.9 L224.0,2467.9 L225.0,2467.9 L226.0,2467.9 L227.0,2467.9 L228.0,2467.9 L229.0,2467.9 L230.0,2467.9 L231.0,2467.9 L232.0,2467.9 L233.0,2467.9 L234.0,2467.9 L235.0,2467.9 L236.0,2467.9 L237.0,2467.9 L238.0,2467.9 L239.0,2467.9 L240.0,2467.9 L241.0,2467.9 L242.0,2467.9 L243.0,2467.9 L244.0,2467.9 L245.0,2467.9 L246.0,2467.9 L247.0,2467.8 L248.0,2467.8 L249.0,2467.8 L250.0,2467.8 L251.0,2467.8 L252.0,2467.8 L253.0,2467.8 L254.0,2467.8 L255.0,2467.8 L256.0,2467.8 L257.0,2467.8 L258.0,2467.8 L259.0,2467.8 L260.0,2467.8 L261.0,2467.8 L262.0,2467.8 L263.0,2467.8 L264.0,2467.8 L265.0,2467.8 L266.0,2467.8 L267.0,2467.8 L268.0,2467.8 L269.0,2467.8 L270.0,2467.8 L271.0,2467.8 L272.0,2467.8 L273.0,2467.8 L274.0,2467.8 L275.0,2467.8 L276.0,2467.8 L277.0,2467.8 L278.0,2467.8 L279.0,2467.8 L280.0,2467.8 L281.0,2467.8 L282.0,2467.8 L283.0,2467.8 L284.0,2467.8 L285.0,2467.8 L286.0,2467.8 L287.0,2467.8 L288.0,2467.8 L289.0,2467.8 L290.0,2467.8 L291.0,2467.8 L292.0,2467.8 L293.0,2467.8 L294.0,2467.8 L295.0,2467.8 L296.0,2467.8 L297.0,2467.8 L298.0,2467.8 L299.0,2467.8 L300.0,2467.8 L301.0,2467.8 L302.0,2467.7 L303.0,2467.7 L304.0,2467.7 L305.0,2467.7 L306.0,2467.7 L307.0,2467.7 L308.0,2467.7 L309.0,2467.7 L310.0,2467.7 L311.0,2467.7 L312.0,2467.7 L313.0,2467.7 L314.0,2467.7 L315.0,2467.7 L316.0,2467.7 L317.0,2467.7 L318.0,2467.7 L319.0,2467.7 L320.0,2467.7 L321.0,2467.7 L322.0,2467.7 L323.0,2467.7 L324.0,2467.7 L325.0,2467.7 L326.0,2467.7 L327.0,2467.7 L328.0,2467.7 L329.0,2467.7 L330.0,2467.7 L331.0,2467.7 L332.0,2467.7 L333.0,2467.7 L334.0,2467.7 L335.0,2467.7 L336.0,2467.7 L337.0,2467.7 L338.0,2467.7 L339.0,2467.7 L340.0,2467.7 L341.0,2467.7 L342.0,2467.7 L343.0,2467.6 L344.0,2467.6 L345.0,2467.6 L346.0,2467.6 L347.0,2467.6 L348.0,2467.6 L349.0,2467.6 L350.0,2467.6 L351.0,2467.6 L352.0,2467.6 L353.0,2467.6 L354.0,2467.6 L355.0,2467.6 L356.0,2467.6 L357.0,2467.6 L358.0,2467.6 L359.0,2467.6 L360.0,2467.6 L361.0,2467.6 L362.0,2467.6 L363.0,2467.6 L364.0,2467.6 L365.0,2467.6 L366.0,2467.6 L367.0,2467.6 L368.0,2467.6 L369.0,2467.6 L370.0,2467.6 L371.0,2467.6 L372.0,2467.6 L373.0,2467.6 L374.0,2467.6 L375.0,2467.6 L376.0,2467.5 L377.0,2467.5 L378.0,2467.5 L379.0,2467.5 L380.0,2467.5 L381.0,2467.5 L382.0,2467.5 L383.0,2467.5 L384.0,2467.5 L385.0,2467.5 L386.0,2467.5 L387.0,2467.5 L388.0,2467.5 L389.0,2467.5 L390.0,2467.5 L391.0,2467.5 L392.0,2467.5 L393.0,2467.5 L394.0,2467.5 L395.0,2467.5 L396.0,2467.5 L397.0,2467.5 L398.0,2467.5 L399.0,2467.5 L400.0,2467.5 L401.0,2467.5 L402.0,2467.5 L403.0,2467.4 L404.0,2467.4 L405.0,2467.4 L406.0,2467.4 L407.0,2467.4 L408.0,2467.4 L409.0,2467.4 L410.0,2467.4 L411.0,2467.4 L412.0,2467.4 L413.0,2467.4 L414.0,2467.4 L415.0,2467.4 L416.0,2467.4 L417.0,2467.4 L418.0,2467.4 L419.0,2467.4 L420.0,2467.4 L421.0,2467.4 L422.0,2467.4 L423.0,2467.4 L424.0,2467.4 L425.0,2467.4 L426.0,2467.3 L427.0,2467.3 L428.0,2467.3 L429.0,2467.3 L430.0,2467.3 L431.0,2467.3 L432.0,2467.3 L433.0,2467.3 L434.0,2467.3 L435.0,2467.3 L436.0,2467.3 L437.0,2467.3 L438.0,2467.3 L439.0,2467.3 L440.0,2467.3 L441.0,2467.3 L442.0,2467.3 L443.0,2467.3 L444.0,2467.3 L445.0,2467.2 L446.0,2467.2 L447.0,2467.2 L448.0,2467.2 L449.0,2467.2 L450.0,2467.2 L451.0,2467.2 L452.0,2467.2 L453.0,2467.2 L454.0,2467.2 L455.0,2467.2 L456.0,2467.2 L457.0,2467.2 L458.0,2467.2 L459.0,2467.2 L460.0,2467.2 L461.0,2467.1 L462.0,2467.1 L463.0,2467.1 L464.0,2467.1 L465.0,2467.1 L466.0,2467.1 L467.0,2467.1 L468.0,2467.1 L469.0,2467.1 L470.0,2467.1 L471.0,2467.1 L472.0,2467.1 L473.0,2467.1 L474.0,2467.1 L475.0,2467.1 L476.0,2467.0 L477.0,2467.0 L478.0,2467.0 L479.0,2467.0 L480.0,2467.0 L481.0,2467.0 L482.0,2467.0 L483.0,2467.0 L484.0,2467.0 L485.0,2467.0 L486.0,2467.0 L487.0,2467.0 L488.0,2467.0 L489.0,2466.9 L490.0,2466.9 L491.0,2466.9 L492.0,2466.9 L493.0,2466.9 L494.0,2466.9 L495.0,2466.9 L496.0,2466.9 L497.0,2466.9 L498.0,2466.9 L499.0,2466.9 L500.0,2466.9 L501.0,2466.8 L502.0,2466.8 L503.0,2466.8 L504.0,2466.8 L505.0,2466.8 L506.0,2466.8 L507.0,2466.8 L508.0,2466.8 L509.0,2466.8 L510.0,2466.8 L511.0,2466.7 L512.0,2466.7 L513.0,2466.7 L514.0,2466.7 L515.0,2466.7 L516.0,2466.7 L517.0,2466.7 L518.0,2466.7 L519.0,2466.7 L520.0,2466.7 L521.0,2466.6 L522.0,2466.6 L523.0,2466.6 L524.0,2466.6 L525.0,2466.6 L526.0,2466.6 L527.0,2466.6 L528.0,2466.6 L529.0,2466.5 L530.0,2466.5 L531.0,2466.5 L532.0,2466.5 L533.0,2466.5 L534.0,2466.5 L535.0,2466.5 L536.0,2466.5 L537.0,2466.4 L538.0,2466.4 L539.0,2466.4 L540.0,2466.4 L541.0,2466.4 L542.0,2466.4 L543.0,2466.4 L544.0,2466.4 L545.0,2466.3 L546.0,2466.3 L547.0,2466.3 L548.0,2466.3 L549.0,2466.3 L550.0,2466.3 L551.0,2466.3 L552.0,2466.2 L553.0,2466.2 L554.0,2466.2 L555.0,2466.2 L556.0,2466.2 L557.0,2466.2 L558.0,2466.1 L559.0,2466.1 L560.0,2466.1 L561.0,2466.1 L562.0,2466.1 L563.0,2466.1 L564.0,2466.0 L565.0,2466.0 L566.0,2466.0 L567.0,2466.0 L568.0,2466.0 L569.0,2465.9 L570.0,2465.9 L571.0,2465.9 L572.0,2465.9 L573.0,2465.9 L574.0,2465.9 L575.0,2465.8 L576.0,2465.8 L577.0,2465.8 L578.0,2465.8 L579.0,2465.7 L580.0,2465.7 L581.0,2465.7 L582.0,2465.7 L583.0,2465.7 L584.0,2465.6 L585.0,2465.6 L586.0,2465.6 L587.0,2465.6 L588.0,2465.5 L589.0,2465.5 L590.0,2465.5 L591.0,2465.5 L592.0,2465.5 L593.0,2465.4 L594.0,2465.4 L595.0,2465.4 L596.0,2465.4 L597.0,2465.3 L598.0,2465.3 L599.0,2465.3 L600.0,2465.2 L601.0,2465.2 L602.0,2465.2 L603.0,2465.2 L604.0,2465.1 L605.0,2465.1 L606.0,2465.1 L607.0,2465.0 L608.0,2465.0 L609.0,2465.0 L610.0,2464.9 L611.0,2464.9 L612.0,2464.9 L613.0,2464.9 L614.0,2464.8 L615.0,2464.8 L616.0,2464.8 L617.0,2464.7 L618.0,2464.7 L619.0,2464.6 L620.0,2464.6 L621.0,2464.6 L622.0,2464.5 L623.0,2464.5 L624.0,2464.5 L625.0,2464.4 L626.0,2464.4 L627.0,2464.3 L628.0,2464.3 L629.0,2464.3 L630.0,2464.2 L631.0,2464.2 L632.0,2464.1 L633.0,2464.1 L634.0,2464.0 L635.0,2464.0 L636.0,2463.9 L637.0,2463.9 L638.0,2463.9 L639.0,2463.8 L640.0,2463.8 L641.0,2463.7 L642.0,2463.7 L643.0,2463.6 L644.0,2463.6 L645.0,2463.5 L646.0,2463.4 L647.0,2463.4 L648.0,2463.3 L649.0,2463.3 L650.0,2463.2 L651.0,2463.2 L652.0,2463.1 L653.0,2463.0 L654.0,2463.0 L655.0,2462.9 L656.0,2462.8 L657.0,2462.8 L658.0,2462.7 L659.0,2462.6 L660.0,2462.6 L661.0,2462.5 L662.0,2462.4 L663.0,2462.4 L664.0,2462.3 L665.0,2462.2 L666.0,2462.1 L667.0,2462.1 L668.0,2462.0 L669.0,2461.9 L670.0,2461.8 L671.0,2461.7 L672.0,2461.6 L673.0,2461.6 L674.0,2461.5 L675.0,2461.4 L676.0,2461.3 L677.0,2461.2 L678.0,2461.1 L679.0,2461.0 L680.0,2460.9 L681.0,2460.8 L682.0,2460.7 L683.0,2460.6 L684.0,2460.4 L685.0,2460.3 L686.0,2460.2 L687.0,2460.1 L688.0,2460.0 L689.0,2459.8 L690.0,2459.7 L691.0,2459.6 L692.0,2459.4 L693.0,2459.3 L694.0,2459.2 L695.0,2459.0 L696.0,2458.9 L697.0,2458.7 L698.0,2458.5 L699.0,2458.4 L700.0,2458.2 L701.0,2458.0 L702.0,2457.9 L703.0,2457.7 L704.0,2457.5 L705.0,2457.3 L706.0,2457.1 L707.0,2456.8 L708.0,2456.6 L709.0,2456.4 L710.0,2456.1 L711.0,2455.9 L712.0,2455.6 L713.0,2455.3 L714.0,2455.1 L715.0,2454.8 L716.0,2454.4 L717.0,2454.1 L718.0,2453.8 L719.0,2453.4 L720.0,2453.0 L721.0,2452.6 L722.0,2452.2 L723.0,2451.8 L724.0,2451.3 L725.0,2450.9 L726.0,2450.4 L727.0,2449.8 L728.0,2449.3 L729.0,2448.7 L730.0,2448.1 L731.0,2447.4 L732.0,2446.7 L733.0,2446.0 L734.0,2445.3 L735.0,2444.5 L736.0,2443.6 L737.0,2442.8 L738.0,2441.8 L739.0,2440.8 L740.0,2439.8 L741.0,2438.7 L742.0,2437.6 L743.0,2436.4 L744.0,2435.1 L745.0,2433.8 L746.0,2432.4 L747.0,2431.0 L748.0,2429.5 L749.0,2427.9 L750.0,2426.2 L751.0,2424.5 L752.0,2422.6 L753.0,2420.7 L754.0,2418.8 L755.0,2416.7 L756.0,2414.5 L757.0,2412.3 L758.0,2409.9 L759.0,2407.5 L760.0,2404.9 L761.0,2402.3 L762.0,2399.6 L763.0,2396.7 L764.0,2393.8 L765.0,2390.8 L766.0,2387.6 L767.0,2384.4 L768.0,2381.1 L769.0,2377.6 L770.0,2374.1 L771.0,2370.5 L772.0,2366.7 L773.0,2362.9 L774.0,2359.0 L775.0,2355.0 L776.0,2350.9 L777.0,2346.7 L778.0,2342.5 L779.0,2338.1 L780.0,2333.7 L781.0,2329.3 L782.0,2324.7 L783.0,2320.1 L784.0,2315.5 L785.0,2310.8 L786.0,2306.1 L787.0,2301.3 L788.0,2296.6 L789.0,2291.8 L790.0,2287.0 L791.0,2282.3 L792.0,2277.6 L793.0,2272.9 L794.0,2268.2 L795.0,2263.6 L796.0,2259.1 L797.0,2254.7 L798.0,2250.3 L799.0,2246.1 L800.0,2242.1 L801.0,2238.1 L802.0,2234.4 L803.0,2230.8 L804.0,2227.4 L805.0,2224.2 L806.0,2221.3 L807.0,2218.6 L808.0,2216.1 L809.0,2214.0 L810.0,2212.1 L811.0,2210.5 L812.0,2209.2 L813.0,2208.2 L814.0,2207.5 L815.0,2207.2 L816.0,2207.1 L817.0,2207.4 L818.0,2208.1 L819.0,2209.1 L820.0,2210.4 L821.0,2212.0 L822.0,2213.9 L823.0,2216.2 L824.0,2218.7 L825.0,2221.5 L826.0,2224.5 L827.0,2227.8 L828.0,2231.3 L829.0,2235.0 L830.0,2238.8 L831.0,2242.9 L832.0,2247.0 L833.0,2251.4 L834.0,2255.8 L835.0,2260.3 L836.0,2264.9 L837.0,2269.6 L838.0,2274.3 L839.0,2279.0 L840.0,2283.8 L841.0,2288.6 L842.0,2293.4 L843.0,2298.2 L844.0,2303.0 L845.0,2307.7 L846.0,2312.4 L847.0,2317.0 L848.0,2321.7 L849.0,2326.2 L850.0,2330.7 L851.0,2335.1 L852.0,2339.4 L853.0,2343.7 L854.0,2347.9 L855.0,2351.9 L856.0,2355.9 L857.0,2359.8 L858.0,2363.7 L859.0,2367.4 L860.0,2371.0 L861.0,2374.5 L862.0,2377.9 L863.0,2381.2 L864.0,2384.5 L865.0,2387.6 L866.0,2390.6 L867.0,2393.5 L868.0,2396.3 L869.0,2399.1 L870.0,2401.7 L871.0,2404.2 L872.0,2406.7 L873.0,2409.0 L874.0,2411.3 L875.0,2413.4 L876.0,2415.5 L877.0,2417.5 L878.0,2419.4 L879.0,2421.2 L880.0,2423.0 L881.0,2424.7 L882.0,2426.3 L883.0,2427.8 L884.0,2429.3 L885.0,2430.7 L886.0,2432.0 L887.0,2433.3 L888.0,2434.5 L889.0,2435.7 L890.0,2436.8 L891.0,2437.8 L892.0,2438.8 L893.0,2439.8 L894.0,2440.7 L895.0,2441.5 L896.0,2442.4 L897.0,2443.2 L898.0,2443.9 L899.0,2444.6 L900.0,2445.3 L901.0,2446.0 L902.0,2446.6 L903.0,2447.2 L904.0,2447.7 L905.0,2448.3 L906.0,2448.8 L907.0,2449.3 L908.0,2449.7 L909.0,2450.2 L910.0,2450.6 L911.0,2451.0 L912.0,2451.4 L913.0,2451.8 L914.0,2452.1 L915.0,2452.5 L916.0,2452.8 L917.0,2453.1 L918.0,2453.5 L919.0,2453.8 L920.0,2454.0 L921.0,2454.3 L922.0,2454.6 L923.0,2454.8 L924.0,2455.1 L925.0,2455.3 L926.0,2455.6 L927.0,2455.8 L928.0,2456.0 L929.0,2456.2 L930.0,2456.4 L931.0,2456.6 L932.0,2456.8 L933.0,2457.0 L934.0,2457.2 L935.0,2457.4 L936.0,2457.5 L937.0,2457.7 L938.0,2457.9 L939.0,2458.0 L940.0,2458.2 L941.0,2458.3 L942.0,2458.5 L943.0,2458.6 L944.0,2458.8 L945.0,2458.9 L946.0,2459.0 L947.0,2459.2 L948.0,2459.3 L949.0,2459.4 L950.0,2459.5 L951.0,2459.7 L952.0,2459.8 L953.0,2459.9 L954.0,2460.0 L955.0,2460.1 L956.0,2460.2 L957.0,2460.3 L958.0,2460.5 L959.0,2460.6 L960.0,2460.7 L961.0,2460.8 L962.0,2460.9 L963.0,2460.9 L964.0,2461.0 L965.0,2461.1 L966.0,2461.2 L967.0,2461.3 L968.0,2461.4 L969.0,2461.5 L970.0,2461.6 L971.0,2461.6 L972.0,2461.7 L973.0,2461.8 L974.0,2461.9 L975.0,2462.0 L976.0,2462.0 L977.0,2462.1 L978.0,2462.2 L979.0,2462.3 L980.0,2462.3 L981.0,2462.4 L982.0,2462.5 L983.0,2462.5 L984.0,2462.6 L985.0,2462.7 L986.0,2462.7 L987.0,2462.8 L988.0,2462.8 L989.0,2462.9 L990.0,2463.0 L991.0,2463.0 L992.0,2463.1 L993.0,2463.1 L994.0,2463.2 L995.0,2463.2 L996.0,2463.3 L997.0,2463.4 L998.0,2463.4 L999.0,2463.5 L1000.0,2463.5 L1001.0,2463.6 L1002.0,2463.6 L1003.0,2463.7 L1004.0,2463.7 L1005.0,2463.7 L1006.0,2463.8 L1007.0,2463.8 L1008.0,2463.9 L1009.0,2463.9 L1010.0,2464.0 L1011.0,2464.0 L1012.0,2464.1 L1013.0,2464.1 L1014.0,2464.1 L1015.0,2464.2 L1016.0,2464.2 L1017.0,2464.3 L1018.0,2464.3 L1019.0,2464.3 L1020.0,2464.4 L1021.0,2464.4 L1022.0,2464.4 L1023.0,2464.5 L1024.0,2464.5 L1025.0,2464.6 L1026.0,2464.6 L1027.0,2464.6 L1028.0,2464.7 L1029.0,2464.7 L1030.0,2464.7 L1031.0,2464.8 L1032.0,2464.8 L1033.0,2464.8 L1034.0,2464.8 L1035.0,2464.9 L1036.0,2464.9 L1037.0,2464.9 L1038.0,2465.0 L1039.0,2465.0 L1040.0,2465.0 L1041.0,2465.1 L1042.0,2465.1 L1043.0,2465.1 L1044.0,2465.1 L1045.0,2465.2 L1046.0,2465.2 L1047.0,2465.2 L1048.0,2465.2 L1049.0,2465.3 L1050.0,2465.3 L1051.0,2465.3 L1052.0,2465.3 L1053.0,2465.4 L1054.0,2465.4 L1055.0,2465.4 L1056.0,2465.4 L1057.0,2465.5 L1058.0,2465.5 L1059.0,2465.5 L1060.0,2465.5 L1061.0,2465.5 L1062.0,2465.6 L1063.0,2465.6 L1064.0,2465.6 L1065.0,2465.6 L1066.0,2465.7 L1067.0,2465.7 L1068.0,2465.7 L1069.0,2465.7 L1070.0,2465.7 L1071.0,2465.8 L1072.0,2465.8 L1073.0,2465.8 L1074.0,2465.8 L1075.0,2465.8 L1076.0,2465.9 L1077.0,2465.9 L1078.0,2465.9 L1079.0,2465.9 L1080.0,2465.9 L1081.0,2465.9 L1082.0,2466.0 L1083.0,2466.0 L1084.0,2466.0 L1085.0,2466.0 L1086.0,2466.0 L1087.0,2466.0 L1088.0,2466.1 L1089.0,2466.1 L1090.0,2466.1 L1091.0,2466.1 L1092.0,2466.1 L1093.0,2466.1 L1094.0,2466.2 L1095.0,2466.2 L1096.0,2466.2 L1097.0,2466.2 L1098.0,2466.2 L1099.0,2466.2 L1100.0,2466.2 L1101.0,2466.3 L1102.0,2466.3 L1103.0,2466.3 L1104.0,2466.3 L1105.0,2466.3 L1106.0,2466.3 L1107.0,2466.3 L1108.0,2466.3 L1109.0,2466.4 L1110.0,2466.4 L1111.0,2466.4 L1112.0,2466.4 L1113.0,2466.4 L1114.0,2466.4 L1115.0,2466.4 L1116.0,2466.5 L1117.0,2466.5 L1118.0,2466.5 L1119.0,2466.5 L1120.0,2466.5 L1121.0,2466.5 L1122.0,2466.5 L1123.0,2466.5 L1124.0,2466.5 L1125.0,2466.6 L1126.0,2466.6 L1127.0,2466.6 L1128.0,2466.6 L1129.0,2466.6 L1130.0,2466.6 L1131.0,2466.6 L1132.0,2466.6 L1133.0,2466.6 L1134.0,2466.7 L1135.0,2466.7 L1136.0,2466.7 L1137.0,2466.7 L1138.0,2466.7 L1139.0,2466.7 L1140.0,2466.7 L1141.0,2466.7 L1142.0,2466.7 L1143.0,2466.7 L1144.0,2466.7 L1145.0,2466.8 L1146.0,2466.8 L1147.0,2466.8 L1148.0,2466.8 L1149.0,2466.8 L1150.0,2466.8 L1151.0,2466.8 L1152.0,2466.8 L1153.0,2466.8 L1154.0,2466.8 L1155.0,2466.8 L1156.0,2466.9 L1157.0,2466.9 L1158.0,2466.9 L1159.0,2466.9 L1160.0,2466.9 L1161.0,2466.9 L1162.0,2466.9 L1163.0,2466.9 L1164.0,2466.9 L1165.0,2466.9 L1166.0,2466.9 L1167.0,2466.9 L1168.0,2467.0 L1169.0,2467.0 L1170.0,2467.0 L1171.0,2467.0 L1172.0,2467.0 L1173.0,2467.0 L1174.0,2467.0 L1175.0,2467.0 L1176.0,2467.0 L1177.0,2467.0 L1178.0,2467.0 L1179.0,2467.0 L1180.0,2467.0 L1181.0,2467.0 L1182.0,2467.1 L1183.0,2467.1 L1184.0,2467.1 L1185.0,2467.1 L1186.0,2467.1 L1187.0,2467.1 L1188.0,2467.1 L1189.0,2467.1 L1190.0,2467.1 L1191.0,2467.1 L1192.0,2467.1 L1193.0,2467.1 L1194.0,2467.1 L1195.0,2467.1 L1196.0,2467.1 L1197.0,2467.1 L1198.0,2467.2 L1199.0,2467.2 L1200.0,2467.2 L1201.0,2467.2 L1202.0,2467.2 L1203.0,2467.2 L1204.0,2467.2 L1205.0,2467.2 L1206.0,2467.2 L1207.0,2467.2 L1208.0,2467.2 L1209.0,2467.2 L1210.0,2467.2 L1211.0,2467.2 L1212.0,2467.2 L1213.0,2467.2 L1214.0,2467.2 L1215.0,2467.2 L1216.0,2467.3 L1217.0,2467.3 L1218.0,2467.3 L1219.0,2467.3 L1220.0,2467.3 L1221.0,2467.3 L1222.0,2467.3 L1223.0,2467.3 L1224.0,2467.3 L1225.0,2467.3 L1226.0,2467.3 L1227.0,2467.3 L1228.0,2467.3 L1229.0,2467.3 L1230.0,2467.3 L1231.0,2467.3 L1232.0,2467.3 L1233.0,2467.3 L1234.0,2467.3 L1235.0,2467.3 L1236.0,2467.3 L1237.0,2467.4 L1238.0,2467.4 L1239.0,2467.4 L1240.0,2467.4 L1241.0,2467.4 L1242.0,2467.4 L1243.0,2467.4 L1244.0,2467.4 L1245.0,2467.4 L1246.0,2467.4 L1247.0,2467.4 L1248.0,2467.4 L1249.0,2467.4 L1250.0,2467.4 L1251.0,2467.4 L1252.0,2467.4 L1253.0,2467.4 L1254.0,2467.4 L1255.0,2467.4 L1256.0,2467.4 L1257.0,2467.4 L1258.0,2467.4 L1259.0,2467.4 L1260.0,2467.4 L1261.0,2467.5 L1262.0,2467.5 L1263.0,2467.5 L1264.0,2467.5 L1265.0,2467.5 L1266.0,2467.5 L1267.0,2467.5 L1268.0,2467.5 L1269.0,2467.5 L1270.0,2467.5 L1271.0,2467.5 L1272.0,2467.5 L1273.0,2467.5 L1274.0,2467.5 L1275.0,2467.5 L1276.0,2467.5 L1277.0,2467.5 L1278.0,2467.5 L1279.0,2467.5 L1280.0,2467.5 L1281.0,2467.5 L1282.0,2467.5 L1283.0,2467.5 L1284.0,2467.5 L1285.0,2467.5 L1286.0,2467.5 L1287.0,2467.5 L1288.0,2467.5 L1289.0,2467.5 L1290.0,2467.6 L1291.0,2467.6 L1292.0,2467.6 L1293.0,2467.6 L1294.0,2467.6 L1295.0,2467.6 L1296.0,2467.6 L1297.0,2467.6 L1298.0,2467.6 L1299.0,2467.6 L1300.0,2467.6 L1301.0,2467.6 L1302.0,2467.6 L1303.0,2467.6 L1304.0,2467.6 L1305.0,2467.6 L1306.0,2467.6 L1307.0,2467.6 L1308.0,2467.6 L1309.0,2467.6 L1310.0,2467.6 L1311.0,2467.6 L1312.0,2467.6 L1313.0,2467.6 L1314.0,2467.6 L1315.0,2467.6 L1316.0,2467.6 L1317.0,2467.6 L1318.0,2467.6 L1319.0,2467.6 L1320.0,2467.6 L1321.0,2467.6 L1322.0,2467.6 L1323.0,2467.6 L1324.0,2467.6 L1325.0,2467.7 L1326.0,2467.7 L1327.0,2467.7 L1328.0,2467.7 L1329.0,2467.7 L1330.0,2467.7 L1331.0,2467.7 L1332.0,2467.7 L1333.0,2467.7 L1334.0,2467.7 L1335.0,2467.7 L1336.0,2467.7 L1337.0,2467.7 L1338.0,2467.7 L1339.0,2467.7 L1340.0,2467.7 L1341.0,2467.7 L1342.0,2467.7 L1343.0,2467.7 L1344.0,2467.7 L1345.0,2467.7 L1346.0,2467.7 L1347.0,2467.7 L1348.0,2467.7 L1349.0,2467.7 L1350.0,2467.7 L1351.0,2467.7 L1352.0,2467.7 L1353.0,2467.7 L1354.0,2467.7 L1355.0,2467.7 L1356.0,2467.7 L1357.0,2467.7 L1358.0,2467.7 L1359.0,2467.7 L1360.0,2467.7 L1361.0,2467.7 L1362.0,2467.7 L1363.0,2467.7 L1364.0,2467.7 L1365.0,2467.7 L1366.0,2467.7 L1367.0,2467.7 L1368.0,2467.7 L1369.0,2467.7 L1370.0,2467.8 L1371.0,2467.8 L1372.0,2467.8 L1373.0,2467.8 L1374.0,2467.8 L1375.0,2467.8 L1376.0,2467.8 L1377.0,2467.8 L1378.0,2467.8 L1379.0,2467.8 L1380.0,2467.8 L1381.0,2467.8 L1382.0,2467.8 L1383.0,2467.8 L1384.0,2467.8 L1385.0,2467.8 L1386.0,2467.8 L1387.0,2467.8 L1388.0,2467.8 L1389.0,2467.8 L1390.0,2467.8 L1391.0,2467.8 L1392.0,2467.8 L1393.0,2467.8 L1394.0,2467.8 L1395.0,2467.8 L1396.0,2467.8 L1397.0,2467.8 L1398.0,2467.8 L1399.0,2467.8 L1400.0,2467.8 L1401.0,2467.8 L1402.0,2467.8 L1403.0,2467.8 L1404.0,2467.8 L1405.0,2467.8 L1406.0,2467.8 L1407.0,2467.8 L1408.0,2467.8 L1409.0,2467.8 L1410.0,2467.8 L1411.0,2467.8 L1412.0,2467.8 L1413.0,2467.8 L1414.0,2467.8 L1415.0,2467.8 L1416.0,2467.8 L1417.0,2467.8 L1418.0,2467.8 L1419.0,2467.8 L1420.0,2467.8 L1421.0,2467.8 L1422.0,2467.8 L1423.0,2467.8 L1424.0,2467.8 L1425.0,2467.8 L1426.0,2467.8 L1427.0,2467.8 L1428.0,2467.9 L1429.0,2467.9 L1430.0,2467.9 L1431.0,2467.9 L1432.0,2467.9 L1433.0,2467.9 L1434.0,2467.9 L1435.0,2467.9 L1436.0,2467.9 L1437.0,2467.9 L1438.0,2467.9 L1439.0,2467.9 L1440.0,2467.9 L1441.0,2467.9 L1442.0,2467.9 L1443.0,2467.9 L1444.0,2467.9 L1445.0,2467.9 L1446.0,2467.9 L1447.0,2467.9 L1448.0,2467.9 L1449.0,2467.9 L1450.0,2467.9 L1451.0,2467.9 L1452.0,2467.9 L1453.0,2467.9 L1454.0,2467.9 L1455.0,2467.9 L1456.0,2467.9 L1457.0,2467.9 L1458.0,2467.9 L1459.0,2467.9 L1460.0,2467.9 L1461.0,2467.9 L1462.0,2467.9 L1463.0,2467.9 L1464.0,2467.9 L1465.0,2467.9 L1466.0,2467.9 L1467.0,2467.9 L1468.0,2467.9 L1469.0,2467.9 L1470.0,2467.9 L1471.0,2467.9 L1472.0,2467.9 L1473.0,2467.9 L1474.0,2467.9 L1475.0,2467.9 L1476.0,2467.9 L1477.0,2467.9 L1478.0,2467.9 L1479.0,2467.9 L1480.0,2467.9 L1481.0,2467.9 L1482.0,2467.9 L1483.0,2467.9 L1484.0,2467.9 L1485.0,2467.9 L1486.0,2467.9 L1487.0,2467.9 L1488.0,2467.9 L1489.0,2467.9 L1490.0,2467.9 L1491.0,2467.9 L1492.0,2467.9 L1493.0,2467.9 L1494.0,2467.9 L1495.0,2467.9 L1496.0,2467.9 L1497.0,2467.9 L1498.0,2467.9 L1499.0,2467.9 L1500.0,2467.9 L1501.0,2467.9 L1502.0,2467.9 L1503.0,2467.9 L1504.0,2467.9 L1505.0,2467.9 L1506.0,2467.9 L1507.0,2467.9 L1508.0,2467.9 L1509.0,2467.9 L1510.0,2467.9 L1511.0,2468.0 L1512.0,2468.0 L1513.0,2468.0 L1514.0,2468.0 L1515.0,2468.0 L1516.0,2468.0 L1517.0,2468.0 L1518.0,2468.0 L1519.0,2468.0 L1520.0,2468.0 L1521.0,2468.0 L1522.0,2468.0 L1523.0,2468.0 L1524.0,2468.0 L1525.0,2468.0 L1526.0,2468.0 L1527.0,2468.0 L1528.0,2468.0 L1529.0,2468.0 L1530.0,2468.0 L1531.0,2468.0 L1532.0,2468.0 L1533.0,2468.0 L1534.0,2468.0 L1535.0,2468.0 L1536.0,2468.0 L1537.0,2468.0 L1538.0,2468.0 L1539.0,2468.0 L1540.0,2468.0 L1541.0,2468.0 L1542.0,2468.0 L1543.0,2468.0 L1544.0,2468.0 L1545.0,2468.0 L1546.0,2468.0 L1547.0,2468.0 L1548.0,2468.0 L1549.0,2468.0 L1550.0,2468.0 L1551.0,2468.0 L1552.0,2468.0 L1553.0,2468.0 L1554.0,2468.0 L1555.0,2468.0 L1556.0,2468.0 L1557.0,2468.0 L1558.0,2468.0 L1559.0,2468.0 L1560.0,2468.0 L1561.0,2468.0 L1562.0,2468.0 L1563.0,2468.0 L1564.0,2468.0 L1565.0,2468.0 L1566.0,2468.0 L1567.0,2468.0 L1568.0,2468.0 L1569.0,2468.0 L1570.0,2468.0 L1571.0,2468.0 L1572.0,2468.0 L1573.0,2468.0 L1574.0,2468.0 L1575.0,2468.0 L1576.0,2468.0 L1577.0,2468.0 L1578.0,2468.0 L1579.0,2468.0 L1580.0,2468.0 L1581.0,2468.0 L1582.0,2468.0 L1583.0,2468.0 L1584.0,2468.0 L1585.0,2468.0 L1586.0,2468.0 L1587.0,2468.0 L1588.0,2468.0 L1589.0,2468.0 L1590.0,2468.0 L1591.0,2468.0 L1592.0,2468.0 L1593.0,2468.0 L1594.0,2468.0 L1595.0,2468.0 L1596.0,2468.0 L1597.0,2468.0 L1598.0,2468.0 L1599.0,2468.0 L1600.0,2468.0 L1601.0,2468.0 L1602.0,2468.0 L1603.0,2468.0 L1604.0,2468.0 L1605.0,2468.0 L1606.0,2468.0 L1607.0,2468.0 L1608.0,2468.0 L1609.0,2468.0 L1610.0,2468.0 L1611.0,2468.0 L1612.0,2468.0 L1613.0,2468.0 L1614.0,2468.0 L1615.0,2468.0 L1616.0,2468.0 L1617.0,2468.0 L1618.0,2468.0" fill="none" stroke="#348080" stroke-width="1.7" stroke-linejoin="round"/>
<path d="M786.0,2468.1 L787.0,2468.0 L788.0,2468.0 L789.0,2468.0 L790.0,2467.9 L791.0,2467.9 L792.0,2467.8 L793.0,2467.8 L794.0,2467.7 L795.0,2467.6 L796.0,2467.5 L797.0,2467.5 L798.0,2467.4 L799.0,2467.2 L800.0,2467.1 L801.0,2467.0 L802.0,2466.9 L803.0,2466.7 L804.0,2466.5 L805.0,2466.3 L806.0,2466.1 L807.0,2465.9 L808.0,2465.7 L809.0,2465.4 L810.0,2465.2 L811.0,2464.9 L812.0,2464.6 L813.0,2464.2 L814.0,2463.9 L815.0,2463.5 L816.0,2463.1 L817.0,2462.6 L818.0,2462.2 L819.0,2461.7 L820.0,2461.2 L821.0,2460.6 L822.0,2460.1 L823.0,2459.5 L824.0,2458.8 L825.0,2458.2 L826.0,2457.5 L827.0,2456.8 L828.0,2456.1 L829.0,2455.3 L830.0,2454.5 L831.0,2453.7 L832.0,2452.9 L833.0,2452.0 L834.0,2451.2 L835.0,2450.3 L836.0,2449.4 L837.0,2448.4 L838.0,2447.5 L839.0,2446.6 L840.0,2445.6 L841.0,2444.7 L842.0,2443.7 L843.0,2442.8 L844.0,2441.8 L845.0,2440.9 L846.0,2440.0 L847.0,2439.1 L848.0,2438.2 L849.0,2437.3 L850.0,2436.5 L851.0,2435.7 L852.0,2434.9 L853.0,2434.2 L854.0,2433.5 L855.0,2432.9 L856.0,2432.3 L857.0,2431.7 L858.0,2431.2 L859.0,2430.8 L860.0,2430.4 L861.0,2430.0 L862.0,2429.8 L863.0,2429.6 L864.0,2429.4 L865.0,2429.3 L866.0,2429.3 L867.0,2429.3 L868.0,2429.4 L869.0,2429.6 L870.0,2429.8 L871.0,2430.1 L872.0,2430.5 L873.0,2430.9 L874.0,2431.3 L875.0,2431.8 L876.0,2432.4 L877.0,2433.0 L878.0,2433.6 L879.0,2434.3 L880.0,2435.1 L881.0,2435.9 L882.0,2436.7 L883.0,2437.5 L884.0,2438.4 L885.0,2439.2 L886.0,2440.2 L887.0,2441.1 L888.0,2442.0 L889.0,2443.0 L890.0,2443.9 L891.0,2444.8 L892.0,2445.8 L893.0,2446.7 L894.0,2447.7 L895.0,2448.6 L896.0,2449.5 L897.0,2450.4 L898.0,2451.3 L899.0,2452.2 L900.0,2453.0 L901.0,2453.9 L902.0,2454.7 L903.0,2455.5 L904.0,2456.2 L905.0,2456.9 L906.0,2457.7 L907.0,2458.3 L908.0,2459.0 L909.0,2459.6 L910.0,2460.2 L911.0,2460.8 L912.0,2461.3 L913.0,2461.8 L914.0,2462.3 L915.0,2462.7 L916.0,2463.2 L917.0,2463.6 L918.0,2463.9 L919.0,2464.3 L920.0,2464.6 L921.0,2464.9 L922.0,2465.2 L923.0,2465.5 L924.0,2465.7 L925.0,2466.0 L926.0,2466.2 L927.0,2466.4 L928.0,2466.6 L929.0,2466.7 L930.0,2466.9 L931.0,2467.0 L932.0,2467.2 L933.0,2467.3 L934.0,2467.4 L935.0,2467.5 L936.0,2467.6 L937.0,2467.6 L938.0,2467.7 L939.0,2467.8 L940.0,2467.8 L941.0,2467.9 L942.0,2467.9 L943.0,2468.0 L944.0,2468.0 L945.0,2468.1" fill="none" stroke="#348080" stroke-width="1.7" stroke-linejoin="round"/>
<path d="M883.0,2468.1 L884.0,2468.0 L885.0,2468.0 L886.0,2467.9 L887.0,2467.9 L888.0,2467.8 L889.0,2467.7 L890.0,2467.6 L891.0,2467.6 L892.0,2467.4 L893.0,2467.3 L894.0,2467.2 L895.0,2467.1 L896.0,2466.9 L897.0,2466.7 L898.0,2466.5 L899.0,2466.3 L900.0,2466.0 L901.0,2465.8 L902.0,2465.5 L903.0,2465.2 L904.0,2464.8 L905.0,2464.4 L906.0,2464.0 L907.0,2463.5 L908.0,2463.0 L909.0,2462.4 L910.0,2461.8 L911.0,2461.2 L912.0,2460.5 L913.0,2459.7 L914.0,2458.9 L915.0,2458.1 L916.0,2457.1 L917.0,2456.1 L918.0,2455.1 L919.0,2454.0 L920.0,2452.8 L921.0,2451.5 L922.0,2450.2 L923.0,2448.8 L924.0,2447.3 L925.0,2445.8 L926.0,2444.2 L927.0,2442.5 L928.0,2440.8 L929.0,2439.0 L930.0,2437.1 L931.0,2435.2 L932.0,2433.2 L933.0,2431.1 L934.0,2429.1 L935.0,2426.9 L936.0,2424.8 L937.0,2422.6 L938.0,2420.3 L939.0,2418.1 L940.0,2415.8 L941.0,2413.6 L942.0,2411.3 L943.0,2409.1 L944.0,2406.8 L945.0,2404.6 L946.0,2402.5 L947.0,2400.4 L948.0,2398.3 L949.0,2396.3 L950.0,2394.4 L951.0,2392.6 L952.0,2390.9 L953.0,2389.2 L954.0,2387.7 L955.0,2386.3 L956.0,2385.0 L957.0,2383.9 L958.0,2382.9 L959.0,2382.0 L960.0,2381.3 L961.0,2380.7 L962.0,2380.3 L963.0,2380.0 L964.0,2379.9 L965.0,2380.0 L966.0,2380.2 L967.0,2380.5 L968.0,2381.0 L969.0,2381.7 L970.0,2382.5 L971.0,2383.5 L972.0,2384.6 L973.0,2385.8 L974.0,2387.1 L975.0,2388.6 L976.0,2390.2 L977.0,2391.9 L978.0,2393.7 L979.0,2395.6 L980.0,2397.5 L981.0,2399.5 L982.0,2401.6 L983.0,2403.8 L984.0,2405.9 L985.0,2408.2 L986.0,2410.4 L987.0,2412.7 L988.0,2414.9 L989.0,2417.2 L990.0,2419.4 L991.0,2421.7 L992.0,2423.9 L993.0,2426.1 L994.0,2428.2 L995.0,2430.3 L996.0,2432.4 L997.0,2434.4 L998.0,2436.3 L999.0,2438.2 L1000.0,2440.1 L1001.0,2441.8 L1002.0,2443.5 L1003.0,2445.2 L1004.0,2446.7 L1005.0,2448.2 L1006.0,2449.6 L1007.0,2451.0 L1008.0,2452.3 L1009.0,2453.5 L1010.0,2454.6 L1011.0,2455.7 L1012.0,2456.7 L1013.0,2457.7 L1014.0,2458.6 L1015.0,2459.4 L1016.0,2460.2 L1017.0,2460.9 L1018.0,2461.6 L1019.0,2462.2 L1020.0,2462.8 L1021.0,2463.3 L1022.0,2463.8 L1023.0,2464.2 L1024.0,2464.6 L1025.0,2465.0 L1026.0,2465.4 L1027.0,2465.7 L1028.0,2465.9 L1029.0,2466.2 L1030.0,2466.4 L1031.0,2466.6 L1032.0,2466.8 L1033.0,2467.0 L1034.0,2467.1 L1035.0,2467.3 L1036.0,2467.4 L1037.0,2467.5 L1038.0,2467.6 L1039.0,2467.7 L1040.0,2467.8 L1041.0,2467.8 L1042.0,2467.9 L1043.0,2467.9 L1044.0,2468.0 L1045.0,2468.0 L1046.0,2468.1" fill="none" stroke="#348080" stroke-width="1.7" stroke-linejoin="round"/>
<path d="M1086.0,2468.1 L1087.0,2468.0 L1088.0,2468.0 L1089.0,2467.9 L1090.0,2467.8 L1091.0,2467.7 L1092.0,2467.7 L1093.0,2467.5 L1094.0,2467.4 L1095.0,2467.3 L1096.0,2467.2 L1097.0,2467.0 L1098.0,2466.9 L1099.0,2466.7 L1100.0,2466.5 L1101.0,2466.4 L1102.0,2466.2 L1103.0,2466.0 L1104.0,2465.8 L1105.0,2465.6 L1106.0,2465.4 L1107.0,2465.2 L1108.0,2465.1 L1109.0,2464.9 L1110.0,2464.8 L1111.0,2464.6 L1112.0,2464.5 L1113.0,2464.4 L1114.0,2464.4 L1115.0,2464.3 L1116.0,2464.3 L1117.0,2464.3 L1118.0,2464.3 L1119.0,2464.4 L1120.0,2464.5 L1121.0,2464.6 L1122.0,2464.7 L1123.0,2464.8 L1124.0,2465.0 L1125.0,2465.1 L1126.0,2465.3 L1127.0,2465.5 L1128.0,2465.7 L1129.0,2465.9 L1130.0,2466.1 L1131.0,2466.2 L1132.0,2466.4 L1133.0,2466.6 L1134.0,2466.8 L1135.0,2466.9 L1136.0,2467.1 L1137.0,2467.2 L1138.0,2467.4 L1139.0,2467.5 L1140.0,2467.6 L1141.0,2467.7 L1142.0,2467.8 L1143.0,2467.9 L1144.0,2467.9 L1145.0,2468.0 L1146.0,2468.0 L1147.0,2468.1" fill="none" stroke="#348080" stroke-width="1.7" stroke-linejoin="round"/>
<path d="M1154.0,2468.1 L1155.0,2468.0 L1156.0,2468.0 L1157.0,2467.9 L1158.0,2467.8 L1159.0,2467.7 L1160.0,2467.6 L1161.0,2467.5 L1162.0,2467.4 L1163.0,2467.2 L1164.0,2467.0 L1165.0,2466.8 L1166.0,2466.5 L1167.0,2466.2 L1168.0,2465.9 L1169.0,2465.5 L1170.0,2465.1 L1171.0,2464.6 L1172.0,2464.1 L1173.0,2463.5 L1174.0,2462.8 L1175.0,2462.1 L1176.0,2461.3 L1177.0,2460.4 L1178.0,2459.4 L1179.0,2458.3 L1180.0,2457.2 L1181.0,2455.9 L1182.0,2454.6 L1183.0,2453.1 L1184.0,2451.6 L1185.0,2450.0 L1186.0,2448.2 L1187.0,2446.4 L1188.0,2444.5 L1189.0,2442.6 L1190.0,2440.5 L1191.0,2438.4 L1192.0,2436.2 L1193.0,2434.0 L1194.0,2431.8 L1195.0,2429.5 L1196.0,2427.3 L1197.0,2425.0 L1198.0,2422.8 L1199.0,2420.6 L1200.0,2418.5 L1201.0,2416.4 L1202.0,2414.5 L1203.0,2412.6 L1204.0,2410.9 L1205.0,2409.4 L1206.0,2407.9 L1207.0,2406.7 L1208.0,2405.6 L1209.0,2404.8 L1210.0,2404.1 L1211.0,2403.6 L1212.0,2403.4 L1213.0,2403.3 L1214.0,2403.5 L1215.0,2403.9 L1216.0,2404.5 L1217.0,2405.3 L1218.0,2406.2 L1219.0,2407.4 L1220.0,2408.8 L1221.0,2410.3 L1222.0,2411.9 L1223.0,2413.7 L1224.0,2415.6 L1225.0,2417.7 L1226.0,2419.7 L1227.0,2421.9 L1228.0,2424.1 L1229.0,2426.4 L1230.0,2428.6 L1231.0,2430.9 L1232.0,2433.1 L1233.0,2435.4 L1234.0,2437.5 L1235.0,2439.7 L1236.0,2441.8 L1237.0,2443.8 L1238.0,2445.7 L1239.0,2447.5 L1240.0,2449.3 L1241.0,2451.0 L1242.0,2452.5 L1243.0,2454.0 L1244.0,2455.4 L1245.0,2456.7 L1246.0,2457.9 L1247.0,2459.0 L1248.0,2460.0 L1249.0,2460.9 L1250.0,2461.7 L1251.0,2462.5 L1252.0,2463.2 L1253.0,2463.8 L1254.0,2464.4 L1255.0,2464.9 L1256.0,2465.3 L1257.0,2465.7 L1258.0,2466.1 L1259.0,2466.4 L1260.0,2466.7 L1261.0,2466.9 L1262.0,2467.1 L1263.0,2467.3 L1264.0,2467.5 L1265.0,2467.6 L1266.0,2467.7 L1267.0,2467.8 L1268.0,2467.9 L1269.0,2468.0 L1270.0,2468.0 L1271.0,2468.1" fill="none" stroke="#348080" stroke-width="1.7" stroke-linejoin="round"/>
<path d="M1201.0,2468.1 L1202.0,2468.0 L1203.0,2468.0 L1204.0,2468.0 L1205.0,2468.0 L1206.0,2467.9 L1207.0,2467.9 L1208.0,2467.8 L1209.0,2467.8 L1210.0,2467.7 L1211.0,2467.7 L1212.0,2467.6 L1213.0,2467.5 L1214.0,2467.5 L1215.0,2467.4 L1216.0,2467.3 L1217.0,2467.2 L1218.0,2467.1 L1219.0,2467.0 L1220.0,2466.9 L1221.0,2466.8 L1222.0,2466.6 L1223.0,2466.5 L1224.0,2466.3 L1225.0,2466.2 L1226.0,2466.0 L1227.0,2465.8 L1228.0,2465.6 L1229.0,2465.4 L1230.0,2465.2 L1231.0,2464.9 L1232.0,2464.7 L1233.0,2464.4 L1234.0,2464.2 L1235.0,2463.9 L1236.0,2463.6 L1237.0,2463.3 L1238.0,2463.0 L1239.0,2462.6 L1240.0,2462.3 L1241.0,2461.9 L1242.0,2461.5 L1243.0,2461.1 L1244.0,2460.7 L1245.0,2460.3 L1246.0,2459.8 L1247.0,2459.4 L1248.0,2458.9 L1249.0,2458.4 L1250.0,2457.9 L1251.0,2457.4 L1252.0,2456.9 L1253.0,2456.4 L1254.0,2455.9 L1255.0,2455.4 L1256.0,2454.8 L1257.0,2454.3 L1258.0,2453.7 L1259.0,2453.2 L1260.0,2452.6 L1261.0,2452.1 L1262.0,2451.5 L1263.0,2451.0 L1264.0,2450.4 L1265.0,2449.9 L1266.0,2449.3 L1267.0,2448.8 L1268.0,2448.3 L1269.0,2447.8 L1270.0,2447.3 L1271.0,2446.8 L1272.0,2446.4 L1273.0,2445.9 L1274.0,2445.5 L1275.0,2445.1 L1276.0,2444.7 L1277.0,2444.4 L1278.0,2444.0 L1279.0,2443.7 L1280.0,2443.5 L1281.0,2443.2 L1282.0,2443.0 L1283.0,2442.8 L1284.0,2442.6 L1285.0,2442.5 L1286.0,2442.4 L1287.0,2442.3 L1288.0,2442.3 L1289.0,2442.3 L1290.0,2442.3 L1291.0,2442.4 L1292.0,2442.5 L1293.0,2442.6 L1294.0,2442.8 L1295.0,2442.9 L1296.0,2443.2 L1297.0,2443.4 L1298.0,2443.7 L1299.0,2444.0 L1300.0,2444.3 L1301.0,2444.7 L1302.0,2445.0 L1303.0,2445.4 L1304.0,2445.8 L1305.0,2446.3 L1306.0,2446.7 L1307.0,2447.2 L1308.0,2447.7 L1309.0,2448.2 L1310.0,2448.7 L1311.0,2449.2 L1312.0,2449.8 L1313.0,2450.3 L1314.0,2450.8 L1315.0,2451.4 L1316.0,2451.9 L1317.0,2452.5 L1318.0,2453.1 L1319.0,2453.6 L1320.0,2454.2 L1321.0,2454.7 L1322.0,2455.2 L1323.0,2455.8 L1324.0,2456.3 L1325.0,2456.8 L1326.0,2457.3 L1327.0,2457.8 L1328.0,2458.3 L1329.0,2458.8 L1330.0,2459.3 L1331.0,2459.7 L1332.0,2460.2 L1333.0,2460.6 L1334.0,2461.0 L1335.0,2461.4 L1336.0,2461.8 L1337.0,2462.2 L1338.0,2462.5 L1339.0,2462.9 L1340.0,2463.2 L1341.0,2463.5 L1342.0,2463.8 L1343.0,2464.1 L1344.0,2464.4 L1345.0,2464.7 L1346.0,2464.9 L1347.0,2465.1 L1348.0,2465.4 L1349.0,2465.6 L1350.0,2465.8 L1351.0,2466.0 L1352.0,2466.1 L1353.0,2466.3 L1354.0,2466.4 L1355.0,2466.6 L1356.0,2466.7 L1357.0,2466.9 L1358.0,2467.0 L1359.0,2467.1 L1360.0,2467.2 L1361.0,2467.3 L1362.0,2467.4 L1363.0,2467.4 L1364.0,2467.5 L1365.0,2467.6 L1366.0,2467.7 L1367.0,2467.7 L1368.0,2467.8 L1369.0,2467.8 L1370.0,2467.9 L1371.0,2467.9 L1372.0,2467.9 L1373.0,2468.0 L1374.0,2468.0 L1375.0,2468.0 L1376.0,2468.1" fill="none" stroke="#348080" stroke-width="1.7" stroke-linejoin="round"/>
<path d="M1308.0,2468.1 L1309.0,2468.0 L1310.0,2468.0 L1311.0,2467.9 L1312.0,2467.8 L1313.0,2467.6 L1314.0,2467.4 L1315.0,2467.1 L1316.0,2466.6 L1317.0,2466.1 L1318.0,2465.4 L1319.0,2464.5 L1320.0,2463.5 L1321.0,2462.2 L1322.0,2460.8 L1323.0,2459.2 L1324.0,2457.4 L1325.0,2455.6 L1326.0,2453.9 L1327.0,2452.2 L1328.0,2450.7 L1329.0,2449.5 L1330.0,2448.7 L1331.0,2448.3 L1332.0,2448.4 L1333.0,2449.0 L1334.0,2449.9 L1335.0,2451.3 L1336.0,2452.8 L1337.0,2454.6 L1338.0,2456.4 L1339.0,2458.1 L1340.0,2459.8 L1341.0,2461.4 L1342.0,2462.7 L1343.0,2463.9 L1344.0,2464.9 L1345.0,2465.7 L1346.0,2466.3 L1347.0,2466.8 L1348.0,2467.2 L1349.0,2467.5 L1350.0,2467.7 L1351.0,2467.8 L1352.0,2467.9 L1353.0,2468.0 L1354.0,2468.0 L1355.0,2468.1" fill="none" stroke="#348080" stroke-width="1.7" stroke-linejoin="round"/>
<path d="M1309.0,2468.1 L1310.0,2468.0 L1311.0,2468.0 L1312.0,2468.0 L1313.0,2468.0 L1314.0,2468.0 L1315.0,2468.0 L1316.0,2467.9 L1317.0,2467.9 L1318.0,2467.9 L1319.0,2467.9 L1320.0,2467.8 L1321.0,2467.8 L1322.0,2467.8 L1323.0,2467.7 L1324.0,2467.7 L1325.0,2467.6 L1326.0,2467.5 L1327.0,2467.4 L1328.0,2467.3 L1329.0,2467.2 L1330.0,2466.9 L1331.0,2466.6 L1332.0,2466.2 L1333.0,2465.6 L1334.0,2464.8 L1335.0,2463.7 L1336.0,2462.4 L1337.0,2460.7 L1338.0,2458.7 L1339.0,2456.3 L1340.0,2453.6 L1341.0,2450.5 L1342.0,2447.2 L1343.0,2443.9 L1344.0,2440.6 L1345.0,2437.6 L1346.0,2435.0 L1347.0,2433.2 L1348.0,2432.2 L1349.0,2432.2 L1350.0,2433.2 L1351.0,2435.0 L1352.0,2437.6 L1353.0,2440.6 L1354.0,2443.9 L1355.0,2447.2 L1356.0,2450.5 L1357.0,2453.6 L1358.0,2456.3 L1359.0,2458.7 L1360.0,2460.7 L1361.0,2462.4 L1362.0,2463.7 L1363.0,2464.8 L1364.0,2465.6 L1365.0,2466.2 L1366.0,2466.6 L1367.0,2466.9 L1368.0,2467.2 L1369.0,2467.3 L1370.0,2467.4 L1371.0,2467.5 L1372.0,2467.6 L1373.0,2467.7 L1374.0,2467.7 L1375.0,2467.8 L1376.0,2467.8 L1377.0,2467.8 L1378.0,2467.9 L1379.0,2467.9 L1380.0,2467.9 L1381.0,2467.9 L1382.0,2468.0 L1383.0,2468.0 L1384.0,2468.0 L1385.0,2468.0 L1386.0,2468.0 L1387.0,2468.0 L1388.0,2468.1" fill="none" stroke="#348080" stroke-width="1.7" stroke-linejoin="round"/>
<path d="M1310.0,2468.1 L1311.0,2468.0 L1312.0,2468.0 L1313.0,2468.0 L1314.0,2468.0 L1315.0,2468.0 L1316.0,2468.0 L1317.0,2468.0 L1318.0,2468.0 L1319.0,2468.0 L1320.0,2468.0 L1321.0,2467.9 L1322.0,2467.9 L1323.0,2467.9 L1324.0,2467.9 L1325.0,2467.9 L1326.0,2467.9 L1327.0,2467.8 L1328.0,2467.8 L1329.0,2467.8 L1330.0,2467.7 L1331.0,2467.7 L1332.0,2467.6 L1333.0,2467.5 L1334.0,2467.5 L1335.0,2467.3 L1336.0,2467.2 L1337.0,2467.0 L1338.0,2466.8 L1339.0,2466.5 L1340.0,2466.1 L1341.0,2465.6 L1342.0,2465.0 L1343.0,2464.3 L1344.0,2463.4 L1345.0,2462.3 L1346.0,2460.9 L1347.0,2459.3 L1348.0,2457.4 L1349.0,2455.2 L1350.0,2452.6 L1351.0,2449.5 L1352.0,2446.1 L1353.0,2442.2 L1354.0,2437.8 L1355.0,2433.0 L1356.0,2427.7 L1357.0,2422.0 L1358.0,2415.9 L1359.0,2409.5 L1360.0,2402.8 L1361.0,2395.9 L1362.0,2389.0 L1363.0,2382.1 L1364.0,2375.5 L1365.0,2369.1 L1366.0,2363.2 L1367.0,2357.8 L1368.0,2353.2 L1369.0,2349.5 L1370.0,2346.6 L1371.0,2344.8 L1372.0,2344.0 L1373.0,2344.3 L1374.0,2345.8 L1375.0,2348.2 L1376.0,2351.6 L1377.0,2355.9 L1378.0,2361.0 L1379.0,2366.7 L1380.0,2372.9 L1381.0,2379.4 L1382.0,2386.2 L1383.0,2393.2 L1384.0,2400.1 L1385.0,2406.8 L1386.0,2413.4 L1387.0,2419.6 L1388.0,2425.5 L1389.0,2430.9 L1390.0,2435.9 L1391.0,2440.5 L1392.0,2444.6 L1393.0,2448.2 L1394.0,2451.4 L1395.0,2454.2 L1396.0,2456.6 L1397.0,2458.6 L1398.0,2460.3 L1399.0,2461.8 L1400.0,2463.0 L1401.0,2463.9 L1402.0,2464.7 L1403.0,2465.4 L1404.0,2465.9 L1405.0,2466.3 L1406.0,2466.7 L1407.0,2466.9 L1408.0,2467.1 L1409.0,2467.3 L1410.0,2467.4 L1411.0,2467.5 L1412.0,2467.6 L1413.0,2467.7 L1414.0,2467.7 L1415.0,2467.8 L1416.0,2467.8 L1417.0,2467.8 L1418.0,2467.8 L1419.0,2467.9 L1420.0,2467.9 L1421.0,2467.9 L1422.0,2467.9 L1423.0,2467.9 L1424.0,2467.9 L1425.0,2468.0 L1426.0,2468.0 L1427.0,2468.0 L1428.0,2468.0 L1429.0,2468.0 L1430.0,2468.0 L1431.0,2468.0 L1432.0,2468.0 L1433.0,2468.0 L1434.0,2468.0 L1435.0,2468.1" fill="none" stroke="#348080" stroke-width="1.7" stroke-linejoin="round"/>
<path d="M1331.0,2468.1 L1332.0,2468.0 L1333.0,2468.0 L1334.0,2468.0 L1335.0,2468.0 L1336.0,2468.0 L1337.0,2468.0 L1338.0,2468.0 L1339.0,2468.0 L1340.0,2468.0 L1341.0,2468.0 L1342.0,2467.9 L1343.0,2467.9 L1344.0,2467.9 L1345.0,2467.9 L1346.0,2467.9 L1347.0,2467.8 L1348.0,2467.8 L1349.0,2467.7 L1350.0,2467.7 L1351.0,2467.6 L1352.0,2467.6 L1353.0,2467.5 L1354.0,2467.4 L1355.0,2467.2 L1356.0,2467.1 L1357.0,2466.9 L1358.0,2466.7 L1359.0,2466.4 L1360.0,2466.1 L1361.0,2465.7 L1362.0,2465.3 L1363.0,2464.7 L1364.0,2464.1 L1365.0,2463.4 L1366.0,2462.6 L1367.0,2461.6 L1368.0,2460.6 L1369.0,2459.3 L1370.0,2457.9 L1371.0,2456.4 L1372.0,2454.7 L1373.0,2452.7 L1374.0,2450.6 L1375.0,2448.3 L1376.0,2445.7 L1377.0,2443.0 L1378.0,2440.1 L1379.0,2436.9 L1380.0,2433.6 L1381.0,2430.1 L1382.0,2426.5 L1383.0,2422.8 L1384.0,2418.9 L1385.0,2415.0 L1386.0,2411.1 L1387.0,2407.2 L1388.0,2403.4 L1389.0,2399.7 L1390.0,2396.1 L1391.0,2392.7 L1392.0,2389.6 L1393.0,2386.8 L1394.0,2384.3 L1395.0,2382.1 L1396.0,2380.4 L1397.0,2379.2 L1398.0,2378.3 L1399.0,2378.0 L1400.0,2378.2 L1401.0,2378.8 L1402.0,2379.9 L1403.0,2381.5 L1404.0,2383.5 L1405.0,2385.8 L1406.0,2388.6 L1407.0,2391.6 L1408.0,2394.9 L1409.0,2398.4 L1410.0,2402.1 L1411.0,2405.9 L1412.0,2409.7 L1413.0,2413.6 L1414.0,2417.5 L1415.0,2421.3 L1416.0,2425.0 L1417.0,2428.6 L1418.0,2432.1 L1419.0,2435.4 L1420.0,2438.6 L1421.0,2441.5 L1422.0,2444.3 L1423.0,2446.9 L1424.0,2449.2 L1425.0,2451.4 L1426.0,2453.4 L1427.0,2455.2 L1428.0,2456.8 L1429.0,2458.2 L1430.0,2459.5 L1431.0,2460.6 L1432.0,2461.6 L1433.0,2462.5 L1434.0,2463.2 L1435.0,2463.9 L1436.0,2464.4 L1437.0,2464.9 L1438.0,2465.3 L1439.0,2465.7 L1440.0,2466.0 L1441.0,2466.3 L1442.0,2466.5 L1443.0,2466.7 L1444.0,2466.8 L1445.0,2466.9 L1446.0,2467.1 L1447.0,2467.1 L1448.0,2467.2 L1449.0,2467.3 L1450.0,2467.4 L1451.0,2467.4 L1452.0,2467.5 L1453.0,2467.5 L1454.0,2467.5 L1455.0,2467.6 L1456.0,2467.6 L1457.0,2467.6 L1458.0,2467.6 L1459.0,2467.7 L1460.0,2467.7 L1461.0,2467.7 L1462.0,2467.7 L1463.0,2467.7 L1464.0,2467.8 L1465.0,2467.8 L1466.0,2467.8 L1467.0,2467.8 L1468.0,2467.8 L1469.0,2467.8 L1470.0,2467.8 L1471.0,2467.9 L1472.0,2467.9 L1473.0,2467.9 L1474.0,2467.9 L1475.0,2467.9 L1476.0,2467.9 L1477.0,2467.9 L1478.0,2467.9 L1479.0,2467.9 L1480.0,2467.9 L1481.0,2468.0 L1482.0,2468.0 L1483.0,2468.0 L1484.0,2468.0 L1485.0,2468.0 L1486.0,2468.0 L1487.0,2468.0 L1488.0,2468.0 L1489.0,2468.0 L1490.0,2468.0 L1491.0,2468.0 L1492.0,2468.0 L1493.0,2468.0 L1494.0,2468.0 L1495.0,2468.0 L1496.0,2468.1" fill="none" stroke="#348080" stroke-width="1.7" stroke-linejoin="round"/>
<path d="M1360.0,2468.1 L1361.0,2468.0 L1362.0,2468.0 L1363.0,2468.0 L1364.0,2468.0 L1365.0,2468.0 L1366.0,2468.0 L1367.0,2468.0 L1368.0,2468.0 L1369.0,2468.0 L1370.0,2468.0 L1371.0,2468.0 L1372.0,2467.9 L1373.0,2467.9 L1374.0,2467.9 L1375.0,2467.9 L1376.0,2467.9 L1377.0,2467.9 L1378.0,2467.9 L1379.0,2467.8 L1380.0,2467.8 L1381.0,2467.8 L1382.0,2467.8 L1383.0,2467.8 L1384.0,2467.7 L1385.0,2467.7 L1386.0,2467.7 L1387.0,2467.7 L1388.0,2467.6 L1389.0,2467.6 L1390.0,2467.6 L1391.0,2467.5 L1392.0,2467.5 L1393.0,2467.4 L1394.0,2467.4 L1395.0,2467.3 L1396.0,2467.3 L1397.0,2467.2 L1398.0,2467.2 L1399.0,2467.1 L1400.0,2467.0 L1401.0,2466.9 L1402.0,2466.8 L1403.0,2466.7 L1404.0,2466.5 L1405.0,2466.3 L1406.0,2466.0 L1407.0,2465.7 L1408.0,2465.3 L1409.0,2464.9 L1410.0,2464.2 L1411.0,2463.5 L1412.0,2462.6 L1413.0,2461.4 L1414.0,2460.0 L1415.0,2458.4 L1416.0,2456.5 L1417.0,2454.3 L1418.0,2451.8 L1419.0,2449.0 L1420.0,2446.0 L1421.0,2442.7 L1422.0,2439.4 L1423.0,2435.9 L1424.0,2432.5 L1425.0,2429.3 L1426.0,2426.5 L1427.0,2424.1 L1428.0,2422.3 L1429.0,2421.3 L1430.0,2421.1 L1431.0,2421.8 L1432.0,2423.2 L1433.0,2425.2 L1434.0,2427.9 L1435.0,2430.9 L1436.0,2434.3 L1437.0,2437.7 L1438.0,2441.3 L1439.0,2444.7 L1440.0,2448.0 L1441.0,2451.0 L1442.0,2453.8 L1443.0,2456.3 L1444.0,2458.4 L1445.0,2460.2 L1446.0,2461.8 L1447.0,2463.1 L1448.0,2464.1 L1449.0,2464.9 L1450.0,2465.6 L1451.0,2466.1 L1452.0,2466.5 L1453.0,2466.8 L1454.0,2467.0 L1455.0,2467.2 L1456.0,2467.4 L1457.0,2467.5 L1458.0,2467.5 L1459.0,2467.6 L1460.0,2467.7 L1461.0,2467.7 L1462.0,2467.7 L1463.0,2467.8 L1464.0,2467.8 L1465.0,2467.8 L1466.0,2467.9 L1467.0,2467.9 L1468.0,2467.9 L1469.0,2467.9 L1470.0,2467.9 L1471.0,2468.0 L1472.0,2468.0 L1473.0,2468.0 L1474.0,2468.0 L1475.0,2468.0 L1476.0,2468.0 L1477.0,2468.0 L1478.0,2468.0 L1479.0,2468.1" fill="none" stroke="#348080" stroke-width="1.7" stroke-linejoin="round"/>
<path d="M1439.0,2468.1 L1440.0,2468.0 L1441.0,2468.0 L1442.0,2467.9 L1443.0,2467.7 L1444.0,2467.4 L1445.0,2466.8 L1446.0,2466.0 L1447.0,2464.8 L1448.0,2463.0 L1449.0,2460.7 L1450.0,2457.9 L1451.0,2454.7 L1452.0,2451.3 L1453.0,2448.2 L1454.0,2445.8 L1455.0,2444.5 L1456.0,2444.5 L1457.0,2445.8 L1458.0,2448.2 L1459.0,2451.3 L1460.0,2454.7 L1461.0,2457.9 L1462.0,2460.7 L1463.0,2463.0 L1464.0,2464.8 L1465.0,2466.0 L1466.0,2466.8 L1467.0,2467.4 L1468.0,2467.7 L1469.0,2467.9 L1470.0,2468.0 L1471.0,2468.0 L1472.0,2468.1" fill="none" stroke="#348080" stroke-width="1.7" stroke-linejoin="round"/>
<path d="M1447.0,2468.1 L1448.0,2468.0 L1449.0,2467.9 L1450.0,2467.8 L1451.0,2467.5 L1452.0,2467.2 L1453.0,2466.8 L1454.0,2466.3 L1455.0,2465.5 L1456.0,2464.6 L1457.0,2463.6 L1458.0,2462.3 L1459.0,2460.8 L1460.0,2459.1 L1461.0,2457.4 L1462.0,2455.6 L1463.0,2453.8 L1464.0,2452.2 L1465.0,2450.8 L1466.0,2449.7 L1467.0,2449.1 L1468.0,2448.9 L1469.0,2449.2 L1470.0,2449.9 L1471.0,2451.0 L1472.0,2452.5 L1473.0,2454.1 L1474.0,2455.9 L1475.0,2457.7 L1476.0,2459.5 L1477.0,2461.1 L1478.0,2462.5 L1479.0,2463.8 L1480.0,2464.8 L1481.0,2465.7 L1482.0,2466.4 L1483.0,2466.9 L1484.0,2467.3 L1485.0,2467.6 L1486.0,2467.8 L1487.0,2467.9 L1488.0,2468.0 L1489.0,2468.1" fill="none" stroke="#348080" stroke-width="1.7" stroke-linejoin="round"/>
<path d="M1479.0,2468.1 L1480.0,2468.0 L1481.0,2467.9 L1482.0,2467.7 L1483.0,2467.4 L1484.0,2466.9 L1485.0,2466.1 L1486.0,2465.0 L1487.0,2463.5 L1488.0,2461.6 L1489.0,2459.3 L1490.0,2456.7 L1491.0,2454.0 L1492.0,2451.5 L1493.0,2449.4 L1494.0,2448.1 L1495.0,2447.8 L1496.0,2448.5 L1497.0,2450.2 L1498.0,2452.5 L1499.0,2455.1 L1500.0,2457.8 L1501.0,2460.3 L1502.0,2462.4 L1503.0,2464.2 L1504.0,2465.5 L1505.0,2466.4 L1506.0,2467.1 L1507.0,2467.5 L1508.0,2467.8 L1509.0,2467.9 L1510.0,2468.0 L1511.0,2468.1" fill="none" stroke="#348080" stroke-width="1.7" stroke-linejoin="round"/>
<path d="M1486.0,2468.1 L1487.0,2468.0 L1488.0,2467.9 L1489.0,2467.7 L1490.0,2467.5 L1491.0,2467.3 L1492.0,2466.9 L1493.0,2466.5 L1494.0,2466.0 L1495.0,2465.4 L1496.0,2464.6 L1497.0,2463.8 L1498.0,2462.7 L1499.0,2461.5 L1500.0,2460.1 L1501.0,2458.6 L1502.0,2456.8 L1503.0,2454.9 L1504.0,2452.9 L1505.0,2450.7 L1506.0,2448.4 L1507.0,2446.1 L1508.0,2443.7 L1509.0,2441.4 L1510.0,2439.2 L1511.0,2437.2 L1512.0,2435.3 L1513.0,2433.7 L1514.0,2432.4 L1515.0,2431.5 L1516.0,2431.0 L1517.0,2430.8 L1518.0,2431.0 L1519.0,2431.7 L1520.0,2432.7 L1521.0,2434.0 L1522.0,2435.7 L1523.0,2437.5 L1524.0,2439.6 L1525.0,2441.9 L1526.0,2444.2 L1527.0,2446.5 L1528.0,2448.9 L1529.0,2451.1 L1530.0,2453.3 L1531.0,2455.3 L1532.0,2457.2 L1533.0,2458.9 L1534.0,2460.4 L1535.0,2461.8 L1536.0,2462.9 L1537.0,2464.0 L1538.0,2464.8 L1539.0,2465.5 L1540.0,2466.1 L1541.0,2466.6 L1542.0,2467.0 L1543.0,2467.3 L1544.0,2467.6 L1545.0,2467.7 L1546.0,2467.9 L1547.0,2468.0 L1548.0,2468.1" fill="none" stroke="#348080" stroke-width="1.7" stroke-linejoin="round"/>
<path d="M79.0,2468.3 L1618.5,2468.3" fill="none" stroke="#348080" stroke-width="1.7" stroke-linejoin="round"/>
<path d="M79.0,2464.0 L80.0,2463.9 L81.0,2463.9 L82.0,2463.8 L83.0,2463.8 L84.0,2463.7 L85.0,2463.6 L86.0,2463.6 L87.0,2463.5 L88.0,2463.4 L89.0,2463.4 L90.0,2463.3 L91.0,2463.2 L92.0,2463.2 L93.0,2463.1 L94.0,2463.0 L95.0,2463.0 L96.0,2462.9 L97.0,2462.8 L98.0,2462.7 L99.0,2462.7 L100.0,2462.6 L101.0,2462.5 L102.0,2462.4 L103.0,2462.3 L104.0,2462.3 L105.0,2462.2 L106.0,2462.1 L107.0,2462.0 L108.0,2461.9 L109.0,2461.8 L110.0,2461.8 L111.0,2461.7 L112.0,2461.6 L113.0,2461.5 L114.0,2461.4 L115.0,2461.3 L116.0,2461.2 L117.0,2461.1 L118.0,2461.0 L119.0,2460.9 L120.0,2460.8 L121.0,2460.7 L122.0,2460.6 L123.0,2460.5 L124.0,2460.4 L125.0,2460.3 L126.0,2460.2 L127.0,2460.1 L128.0,2460.0 L129.0,2459.9 L130.0,2459.7 L131.0,2459.6 L132.0,2459.5 L133.0,2459.4 L134.0,2459.2 L135.0,2459.1 L136.0,2459.0 L137.0,2458.8 L138.0,2458.7 L139.0,2458.5 L140.0,2458.4 L141.0,2458.2 L142.0,2458.1 L143.0,2457.9 L144.0,2457.8 L145.0,2457.6 L146.0,2457.4 L147.0,2457.2 L148.0,2457.0 L149.0,2456.8 L150.0,2456.6 L151.0,2456.4 L152.0,2456.1 L153.0,2455.9 L154.0,2455.7 L155.0,2455.4 L156.0,2455.1 L157.0,2454.9 L158.0,2454.6 L159.0,2454.3 L160.0,2454.0 L161.0,2453.7 L162.0,2453.4 L163.0,2453.1 L164.0,2452.7 L165.0,2452.4 L166.0,2452.0 L167.0,2451.6 L168.0,2451.2 L169.0,2450.8 L170.0,2450.4 L171.0,2450.0 L172.0,2449.6 L173.0,2449.1 L174.0,2448.7 L175.0,2448.2 L176.0,2447.7 L177.0,2447.2 L178.0,2446.7 L179.0,2446.2 L180.0,2445.6 L181.0,2445.1 L182.0,2444.5 L183.0,2443.9 L184.0,2443.3 L185.0,2442.7 L186.0,2442.1 L187.0,2441.5 L188.0,2440.9 L189.0,2440.2 L190.0,2439.5 L191.0,2438.9 L192.0,2438.2 L193.0,2437.5 L194.0,2436.7 L195.0,2436.0 L196.0,2435.3 L197.0,2434.5 L198.0,2433.8 L199.0,2433.0 L200.0,2432.2 L201.0,2431.4 L202.0,2430.6 L203.0,2429.7 L204.0,2428.9 L205.0,2428.0 L206.0,2427.1 L207.0,2426.2 L208.0,2425.3 L209.0,2424.4 L210.0,2423.4 L211.0,2422.5 L212.0,2421.5 L213.0,2420.5 L214.0,2419.4 L215.0,2418.4 L216.0,2417.3 L217.0,2416.2 L218.0,2415.1 L219.0,2413.9 L220.0,2412.7 L221.0,2411.4 L222.0,2410.1 L223.0,2408.8 L224.0,2407.4 L225.0,2406.0 L226.0,2404.5 L227.0,2402.9 L228.0,2401.4 L229.0,2399.8 L230.0,2398.3 L231.0,2396.7 L232.0,2395.0 L233.0,2393.3 L234.0,2391.6 L235.0,2389.7 L236.0,2387.8 L237.0,2385.8 L238.0,2383.6 L239.0,2381.3 L240.0,2378.9 L241.0,2376.3 L242.0,2373.6 L243.0,2370.7 L244.0,2367.6 L245.0,2364.3 L246.0,2360.8 L247.0,2357.1 L248.0,2353.1 L249.0,2348.9 L250.0,2344.4 L251.0,2339.7 L252.0,2334.9 L253.0,2329.9 L254.0,2324.8 L255.0,2319.7 L256.0,2314.6 L257.0,2309.6 L258.0,2304.6 L259.0,2299.6 L260.0,2294.7 L261.0,2289.7 L262.0,2284.6 L263.0,2279.3 L264.0,2274.0 L265.0,2268.4 L266.0,2262.2 L267.0,2255.4 L268.0,2248.3 L269.0,2241.4 L270.0,2235.0 L271.0,2229.1 L272.0,2223.3 L273.0,2217.6 L274.0,2212.1 L275.0,2206.8 L276.0,2201.7 L277.0,2197.0 L278.0,2192.4 L279.0,2187.9 L280.0,2183.5 L281.0,2179.2 L282.0,2175.1 L283.0,2171.1 L284.0,2167.2 L285.0,2163.6 L286.0,2160.2 L287.0,2157.1 L288.0,2154.2 L289.0,2151.4 L290.0,2148.7 L291.0,2146.2 L292.0,2143.8 L293.0,2141.5 L294.0,2139.3 L295.0,2137.1 L296.0,2135.0 L297.0,2133.0 L298.0,2131.0 L299.0,2129.1 L300.0,2127.2 L301.0,2125.2 L302.0,2123.2 L303.0,2121.2 L304.0,2119.1 L305.0,2117.1 L306.0,2115.1 L307.0,2113.2 L308.0,2111.3 L309.0,2109.3 L310.0,2107.4 L311.0,2105.4 L312.0,2103.3 L313.0,2101.2 L314.0,2098.9 L315.0,2096.6 L316.0,2094.2 L317.0,2091.7 L318.0,2089.1 L319.0,2086.4 L320.0,2083.6 L321.0,2080.8 L322.0,2077.9 L323.0,2074.8 L324.0,2071.7 L325.0,2068.5 L326.0,2065.2 L327.0,2061.8 L328.0,2058.4 L329.0,2055.1 L330.0,2051.9 L331.0,2048.7 L332.0,2045.6 L333.0,2042.5 L334.0,2039.7 L335.0,2037.1 L336.0,2034.8 L337.0,2032.8 L338.0,2031.0 L339.0,2029.1 L340.0,2027.2 L341.0,2025.3 L342.0,2023.5 L343.0,2021.7 L344.0,2019.9 L345.0,2018.1 L346.0,2016.2 L347.0,2014.3 L348.0,2012.4 L349.0,2010.7 L350.0,2009.0 L351.0,2007.3 L352.0,2005.8 L353.0,2004.2 L354.0,2002.7 L355.0,2001.3 L356.0,2000.0 L357.0,1998.7 L358.0,1997.5 L359.0,1996.2 L360.0,1995.0 L361.0,1993.8 L362.0,1992.5 L363.0,1991.2 L364.0,1989.9 L365.0,1988.5 L366.0,1987.0 L367.0,1985.5 L368.0,1984.0 L369.0,1982.3 L370.0,1980.6 L371.0,1978.8 L372.0,1976.9 L373.0,1974.9 L374.0,1972.9 L375.0,1970.8 L376.0,1968.6 L377.0,1966.3 L378.0,1964.0 L379.0,1961.5 L380.0,1959.0 L381.0,1956.4 L382.0,1953.8 L383.0,1951.1 L384.0,1948.5 L385.0,1945.9 L386.0,1943.5 L387.0,1941.1 L388.0,1938.6 L389.0,1936.1 L390.0,1933.6 L391.0,1931.0 L392.0,1928.5 L393.0,1925.9 L394.0,1923.4 L395.0,1921.0 L396.0,1918.6 L397.0,1916.3 L398.0,1914.1 L399.0,1912.1 L400.0,1910.1 L401.0,1908.2 L402.0,1906.3 L403.0,1904.6 L404.0,1902.8 L405.0,1901.2 L406.0,1899.7 L407.0,1898.4 L408.0,1897.2 L409.0,1896.3 L410.0,1895.6 L411.0,1895.0 L412.0,1894.5 L413.0,1894.1 L414.0,1893.5 L415.0,1893.1 L416.0,1892.7 L417.0,1892.5 L418.0,1892.4 L419.0,1892.4 L420.0,1892.5 L421.0,1892.7 L422.0,1893.0 L423.0,1893.3 L424.0,1893.7 L425.0,1894.1 L426.0,1894.5 L427.0,1895.0 L428.0,1895.3 L429.0,1895.6 L430.0,1895.8 L431.0,1896.0 L432.0,1896.2 L433.0,1896.3 L434.0,1896.3 L435.0,1896.2 L436.0,1896.1 L437.0,1895.8 L438.0,1895.5 L439.0,1895.1 L440.0,1894.6 L441.0,1894.1 L442.0,1893.4 L443.0,1892.7 L444.0,1891.9 L445.0,1891.1 L446.0,1890.2 L447.0,1889.3 L448.0,1888.2 L449.0,1887.1 L450.0,1885.8 L451.0,1884.3 L452.0,1882.8 L453.0,1881.1 L454.0,1879.2 L455.0,1877.3 L456.0,1875.3 L457.0,1873.1 L458.0,1870.9 L459.0,1868.7 L460.0,1866.3 L461.0,1864.0 L462.0,1861.6 L463.0,1859.2 L464.0,1856.8 L465.0,1854.5 L466.0,1852.1 L467.0,1849.9 L468.0,1847.7 L469.0,1845.6 L470.0,1843.6 L471.0,1841.6 L472.0,1839.8 L473.0,1838.2 L474.0,1836.6 L475.0,1835.1 L476.0,1833.8 L477.0,1832.7 L478.0,1831.6 L479.0,1830.8 L480.0,1830.0 L481.0,1829.5 L482.0,1829.1 L483.0,1828.9 L484.0,1828.8 L485.0,1829.0 L486.0,1829.3 L487.0,1829.7 L488.0,1830.4 L489.0,1831.4 L490.0,1832.6 L491.0,1834.0 L492.0,1835.7 L493.0,1837.6 L494.0,1839.8 L495.0,1842.3 L496.0,1845.0 L497.0,1847.9 L498.0,1851.1 L499.0,1854.6 L500.0,1858.3 L501.0,1862.2 L502.0,1866.3 L503.0,1870.6 L504.0,1875.2 L505.0,1879.9 L506.0,1884.8 L507.0,1889.9 L508.0,1895.1 L509.0,1900.5 L510.0,1906.0 L511.0,1911.6 L512.0,1917.3 L513.0,1923.1 L514.0,1929.0 L515.0,1934.9 L516.0,1940.9 L517.0,1946.9 L518.0,1952.9 L519.0,1959.0 L520.0,1965.0 L521.0,1971.1 L522.0,1977.1 L523.0,1983.0 L524.0,1988.9 L525.0,1994.7 L526.0,2000.5 L527.0,2006.2 L528.0,2011.7 L529.0,2017.2 L530.0,2022.5 L531.0,2027.7 L532.0,2032.7 L533.0,2037.6 L534.0,2042.3 L535.0,2046.9 L536.0,2051.2 L537.0,2055.4 L538.0,2059.4 L539.0,2063.2 L540.0,2066.8 L541.0,2070.2 L542.0,2073.4 L543.0,2076.3 L544.0,2079.0 L545.0,2081.5 L546.0,2083.8 L547.0,2085.8 L548.0,2087.6 L549.0,2089.2 L550.0,2090.5 L551.0,2091.6 L552.0,2092.5 L553.0,2093.1 L554.0,2093.5 L555.0,2093.6 L556.0,2093.5 L557.0,2093.2 L558.0,2092.7 L559.0,2091.9 L560.0,2091.0 L561.0,2089.8 L562.0,2088.4 L563.0,2086.8 L564.0,2085.0 L565.0,2083.1 L566.0,2081.0 L567.0,2078.7 L568.0,2076.3 L569.0,2073.7 L570.0,2071.0 L571.0,2068.3 L572.0,2065.4 L573.0,2062.4 L574.0,2059.4 L575.0,2056.3 L576.0,2053.2 L577.0,2050.1 L578.0,2046.9 L579.0,2043.7 L580.0,2040.6 L581.0,2037.5 L582.0,2034.5 L583.0,2031.5 L584.0,2028.6 L585.0,2025.8 L586.0,2023.1 L587.0,2020.5 L588.0,2018.1 L589.0,2015.8 L590.0,2013.8 L591.0,2011.9 L592.0,2010.2 L593.0,2008.7 L594.0,2007.4 L595.0,2006.4 L596.0,2005.6 L597.0,2005.0 L598.0,2004.8 L599.0,2004.7 L600.0,2005.0 L601.0,2005.5 L602.0,2006.3 L603.0,2007.3 L604.0,2008.6 L605.0,2010.2 L606.0,2012.0 L607.0,2014.1 L608.0,2016.4 L609.0,2019.0 L610.0,2021.8 L611.0,2024.8 L612.0,2028.0 L613.0,2031.5 L614.0,2035.1 L615.0,2039.0 L616.0,2042.9 L617.0,2047.1 L618.0,2051.4 L619.0,2055.8 L620.0,2060.3 L621.0,2065.0 L622.0,2069.7 L623.0,2074.5 L624.0,2079.3 L625.0,2084.2 L626.0,2089.2 L627.0,2094.1 L628.0,2099.1 L629.0,2104.1 L630.0,2109.0 L631.0,2114.0 L632.0,2118.9 L633.0,2123.7 L634.0,2128.5 L635.0,2133.2 L636.0,2137.9 L637.0,2142.5 L638.0,2147.0 L639.0,2151.4 L640.0,2155.7 L641.0,2160.0 L642.0,2164.1 L643.0,2168.1 L644.0,2172.0 L645.0,2175.7 L646.0,2179.4 L647.0,2182.9 L648.0,2186.4 L649.0,2189.6 L650.0,2192.8 L651.0,2195.9 L652.0,2198.8 L653.0,2201.6 L654.0,2204.3 L655.0,2206.9 L656.0,2209.3 L657.0,2211.7 L658.0,2213.9 L659.0,2216.0 L660.0,2218.0 L661.0,2219.9 L662.0,2221.7 L663.0,2223.4 L664.0,2225.0 L665.0,2226.4 L666.0,2227.8 L667.0,2229.1 L668.0,2230.2 L669.0,2231.3 L670.0,2232.3 L671.0,2233.1 L672.0,2233.8 L673.0,2234.4 L674.0,2234.9 L675.0,2235.3 L676.0,2235.5 L677.0,2235.6 L678.0,2235.6 L679.0,2235.4 L680.0,2235.0 L681.0,2234.5 L682.0,2233.8 L683.0,2232.9 L684.0,2231.8 L685.0,2230.5 L686.0,2229.0 L687.0,2227.3 L688.0,2225.4 L689.0,2223.3 L690.0,2221.0 L691.0,2218.4 L692.0,2215.7 L693.0,2212.7 L694.0,2209.5 L695.0,2206.1 L696.0,2202.4 L697.0,2198.6 L698.0,2194.5 L699.0,2190.2 L700.0,2185.8 L701.0,2181.1 L702.0,2176.3 L703.0,2171.2 L704.0,2166.1 L705.0,2160.7 L706.0,2155.3 L707.0,2149.7 L708.0,2144.0 L709.0,2138.3 L710.0,2132.4 L711.0,2126.5 L712.0,2120.6 L713.0,2114.7 L714.0,2108.8 L715.0,2102.9 L716.0,2097.0 L717.0,2091.3 L718.0,2085.7 L719.0,2080.2 L720.0,2074.8 L721.0,2069.7 L722.0,2064.7 L723.0,2060.0 L724.0,2055.6 L725.0,2051.4 L726.0,2047.6 L727.0,2044.1 L728.0,2040.9 L729.0,2038.1 L730.0,2035.8 L731.0,2033.8 L732.0,2032.3 L733.0,2031.2 L734.0,2030.6 L735.0,2030.4 L736.0,2030.6 L737.0,2031.4 L738.0,2032.5 L739.0,2034.2 L740.0,2036.3 L741.0,2038.8 L742.0,2041.7 L743.0,2044.9 L744.0,2048.6 L745.0,2052.5 L746.0,2056.8 L747.0,2061.4 L748.0,2066.2 L749.0,2071.2 L750.0,2076.4 L751.0,2081.8 L752.0,2087.3 L753.0,2093.0 L754.0,2098.7 L755.0,2104.4 L756.0,2110.2 L757.0,2115.9 L758.0,2121.7 L759.0,2127.3 L760.0,2133.0 L761.0,2138.5 L762.0,2143.8 L763.0,2149.1 L764.0,2154.2 L765.0,2159.1 L766.0,2163.8 L767.0,2168.4 L768.0,2172.7 L769.0,2176.8 L770.0,2180.6 L771.0,2184.2 L772.0,2187.5 L773.0,2190.6 L774.0,2193.4 L775.0,2196.0 L776.0,2198.2 L777.0,2200.2 L778.0,2201.9 L779.0,2203.3 L780.0,2204.5 L781.0,2205.4 L782.0,2206.0 L783.0,2206.4 L784.0,2206.6 L785.0,2206.4 L786.0,2206.1 L787.0,2205.5 L788.0,2204.7 L789.0,2203.8 L790.0,2202.6 L791.0,2201.3 L792.0,2199.8 L793.0,2198.2 L794.0,2196.5 L795.0,2194.6 L796.0,2192.7 L797.0,2190.7 L798.0,2188.7 L799.0,2186.6 L800.0,2184.6 L801.0,2182.5 L802.0,2180.5 L803.0,2178.6 L804.0,2176.7 L805.0,2174.9 L806.0,2173.3 L807.0,2171.7 L808.0,2170.4 L809.0,2169.2 L810.0,2168.2 L811.0,2167.4 L812.0,2166.8 L813.0,2166.4 L814.0,2166.3 L815.0,2166.4 L816.0,2166.8 L817.0,2167.4 L818.0,2168.3 L819.0,2169.5 L820.0,2170.9 L821.0,2172.6 L822.0,2174.5 L823.0,2176.7 L824.0,2179.1 L825.0,2181.7 L826.0,2184.5 L827.0,2187.5 L828.0,2190.7 L829.0,2194.0 L830.0,2197.4 L831.0,2201.0 L832.0,2204.7 L833.0,2208.5 L834.0,2212.4 L835.0,2216.3 L836.0,2220.3 L837.0,2224.3 L838.0,2228.4 L839.0,2232.5 L840.0,2236.6 L841.0,2240.7 L842.0,2244.7 L843.0,2248.8 L844.0,2252.9 L845.0,2256.9 L846.0,2260.9 L847.0,2264.9 L848.0,2268.8 L849.0,2272.7 L850.0,2276.5 L851.0,2280.4 L852.0,2284.1 L853.0,2287.8 L854.0,2291.5 L855.0,2295.1 L856.0,2298.7 L857.0,2302.2 L858.0,2305.7 L859.0,2309.2 L860.0,2312.6 L861.0,2315.9 L862.0,2319.2 L863.0,2322.5 L864.0,2325.7 L865.0,2328.9 L866.0,2332.1 L867.0,2335.2 L868.0,2338.3 L869.0,2341.3 L870.0,2344.3 L871.0,2347.3 L872.0,2350.2 L873.0,2353.1 L874.0,2355.9 L875.0,2358.7 L876.0,2361.5 L877.0,2364.2 L878.0,2366.9 L879.0,2369.6 L880.0,2372.2 L881.0,2374.7 L882.0,2377.3 L883.0,2379.7 L884.0,2382.1 L885.0,2384.5 L886.0,2386.8 L887.0,2389.1 L888.0,2391.3 L889.0,2393.5 L890.0,2395.6 L891.0,2397.6 L892.0,2399.6 L893.0,2401.5 L894.0,2403.4 L895.0,2405.1 L896.0,2406.8 L897.0,2408.5 L898.0,2410.0 L899.0,2411.5 L900.0,2412.9 L901.0,2414.2 L902.0,2415.5 L903.0,2416.7 L904.0,2417.7 L905.0,2418.7 L906.0,2419.6 L907.0,2420.4 L908.0,2421.2 L909.0,2421.8 L910.0,2422.3 L911.0,2422.8 L912.0,2423.1 L913.0,2423.3 L914.0,2423.5 L915.0,2423.5 L916.0,2423.5 L917.0,2423.4 L918.0,2423.1 L919.0,2422.8 L920.0,2422.4 L921.0,2421.9 L922.0,2421.2 L923.0,2420.5 L924.0,2419.7 L925.0,2418.9 L926.0,2417.9 L927.0,2416.8 L928.0,2415.6 L929.0,2414.4 L930.0,2413.1 L931.0,2411.7 L932.0,2410.2 L933.0,2408.7 L934.0,2407.1 L935.0,2405.4 L936.0,2403.7 L937.0,2401.9 L938.0,2400.1 L939.0,2398.3 L940.0,2396.5 L941.0,2394.6 L942.0,2392.7 L943.0,2390.9 L944.0,2389.0 L945.0,2387.2 L946.0,2385.4 L947.0,2383.6 L948.0,2381.9 L949.0,2380.2 L950.0,2378.6 L951.0,2377.1 L952.0,2375.6 L953.0,2374.3 L954.0,2373.0 L955.0,2371.9 L956.0,2370.9 L957.0,2369.9 L958.0,2369.2 L959.0,2368.5 L960.0,2368.0 L961.0,2367.6 L962.0,2367.3 L963.0,2367.3 L964.0,2367.3 L965.0,2367.5 L966.0,2367.9 L967.0,2368.4 L968.0,2369.1 L969.0,2369.9 L970.0,2370.8 L971.0,2371.9 L972.0,2373.2 L973.0,2374.6 L974.0,2376.0 L975.0,2377.7 L976.0,2379.4 L977.0,2381.2 L978.0,2383.1 L979.0,2385.1 L980.0,2387.2 L981.0,2389.4 L982.0,2391.6 L983.0,2393.8 L984.0,2396.1 L985.0,2398.5 L986.0,2400.8 L987.0,2403.2 L988.0,2405.6 L989.0,2407.9 L990.0,2410.3 L991.0,2412.6 L992.0,2415.0 L993.0,2417.2 L994.0,2419.5 L995.0,2421.7 L996.0,2423.9 L997.0,2426.0 L998.0,2428.0 L999.0,2430.0 L1000.0,2431.9 L1001.0,2433.8 L1002.0,2435.6 L1003.0,2437.3 L1004.0,2439.0 L1005.0,2440.6 L1006.0,2442.1 L1007.0,2443.5 L1008.0,2444.9 L1009.0,2446.2 L1010.0,2447.4 L1011.0,2448.6 L1012.0,2449.7 L1013.0,2450.7 L1014.0,2451.7 L1015.0,2452.6 L1016.0,2453.4 L1017.0,2454.2 L1018.0,2455.0 L1019.0,2455.7 L1020.0,2456.3 L1021.0,2456.9 L1022.0,2457.5 L1023.0,2458.0 L1024.0,2458.5 L1025.0,2458.9 L1026.0,2459.3 L1027.0,2459.7 L1028.0,2460.0 L1029.0,2460.3 L1030.0,2460.6 L1031.0,2460.9 L1032.0,2461.2 L1033.0,2461.4 L1034.0,2461.6 L1035.0,2461.8 L1036.0,2462.0 L1037.0,2462.1 L1038.0,2462.3 L1039.0,2462.4 L1040.0,2462.6 L1041.0,2462.7 L1042.0,2462.8 L1043.0,2462.9 L1044.0,2463.0 L1045.0,2463.1 L1046.0,2463.2 L1047.0,2463.3 L1048.0,2463.4 L1049.0,2463.4 L1050.0,2463.5 L1051.0,2463.6 L1052.0,2463.6 L1053.0,2463.7 L1054.0,2463.8 L1055.0,2463.8 L1056.0,2463.9 L1057.0,2463.9 L1058.0,2464.0 L1059.0,2464.0 L1060.0,2464.1 L1061.0,2464.1 L1062.0,2464.2 L1063.0,2464.2 L1064.0,2464.3 L1065.0,2464.3 L1066.0,2464.3 L1067.0,2464.4 L1068.0,2464.4 L1069.0,2464.5 L1070.0,2464.5 L1071.0,2464.6 L1072.0,2464.6 L1073.0,2464.6 L1074.0,2464.7 L1075.0,2464.7 L1076.0,2464.7 L1077.0,2464.8 L1078.0,2464.8 L1079.0,2464.8 L1080.0,2464.8 L1081.0,2464.9 L1082.0,2464.9 L1083.0,2464.9 L1084.0,2464.9 L1085.0,2464.9 L1086.0,2464.9 L1087.0,2464.9 L1088.0,2464.9 L1089.0,2464.8 L1090.0,2464.8 L1091.0,2464.7 L1092.0,2464.7 L1093.0,2464.6 L1094.0,2464.5 L1095.0,2464.4 L1096.0,2464.3 L1097.0,2464.2 L1098.0,2464.1 L1099.0,2464.0 L1100.0,2463.8 L1101.0,2463.7 L1102.0,2463.5 L1103.0,2463.3 L1104.0,2463.2 L1105.0,2463.0 L1106.0,2462.9 L1107.0,2462.7 L1108.0,2462.6 L1109.0,2462.4 L1110.0,2462.3 L1111.0,2462.2 L1112.0,2462.1 L1113.0,2462.1 L1114.0,2462.0 L1115.0,2462.0 L1116.0,2462.0 L1117.0,2462.0 L1118.0,2462.1 L1119.0,2462.1 L1120.0,2462.2 L1121.0,2462.4 L1122.0,2462.5 L1123.0,2462.7 L1124.0,2462.8 L1125.0,2463.0 L1126.0,2463.2 L1127.0,2463.4 L1128.0,2463.6 L1129.0,2463.8 L1130.0,2464.0 L1131.0,2464.2 L1132.0,2464.4 L1133.0,2464.6 L1134.0,2464.8 L1135.0,2465.0 L1136.0,2465.2 L1137.0,2465.3 L1138.0,2465.5 L1139.0,2465.6 L1140.0,2465.7 L1141.0,2465.8 L1142.0,2465.9 L1143.0,2466.0 L1144.0,2466.1 L1145.0,2466.2 L1146.0,2466.2 L1147.0,2466.3 L1148.0,2466.3 L1149.0,2466.3 L1150.0,2466.4 L1151.0,2466.4 L1152.0,2466.4 L1153.0,2466.4 L1154.0,2466.3 L1155.0,2466.3 L1156.0,2466.3 L1157.0,2466.2 L1158.0,2466.2 L1159.0,2466.1 L1160.0,2466.0 L1161.0,2465.9 L1162.0,2465.7 L1163.0,2465.6 L1164.0,2465.4 L1165.0,2465.1 L1166.0,2464.8 L1167.0,2464.5 L1168.0,2464.1 L1169.0,2463.7 L1170.0,2463.2 L1171.0,2462.7 L1172.0,2462.1 L1173.0,2461.5 L1174.0,2460.7 L1175.0,2459.9 L1176.0,2459.0 L1177.0,2458.1 L1178.0,2457.0 L1179.0,2455.8 L1180.0,2454.6 L1181.0,2453.3 L1182.0,2451.8 L1183.0,2450.3 L1184.0,2448.7 L1185.0,2446.9 L1186.0,2445.1 L1187.0,2443.2 L1188.0,2441.2 L1189.0,2439.1 L1190.0,2437.0 L1191.0,2434.8 L1192.0,2432.5 L1193.0,2430.2 L1194.0,2427.8 L1195.0,2425.5 L1196.0,2423.1 L1197.0,2420.7 L1198.0,2418.4 L1199.0,2416.1 L1200.0,2413.9 L1201.0,2411.7 L1202.0,2409.6 L1203.0,2407.7 L1204.0,2405.9 L1205.0,2404.2 L1206.0,2402.7 L1207.0,2401.3 L1208.0,2400.1 L1209.0,2399.1 L1210.0,2398.4 L1211.0,2397.8 L1212.0,2397.4 L1213.0,2397.3 L1214.0,2397.3 L1215.0,2397.6 L1216.0,2398.0 L1217.0,2398.7 L1218.0,2399.5 L1219.0,2400.6 L1220.0,2401.8 L1221.0,2403.1 L1222.0,2404.6 L1223.0,2406.2 L1224.0,2407.9 L1225.0,2409.7 L1226.0,2411.6 L1227.0,2413.5 L1228.0,2415.5 L1229.0,2417.5 L1230.0,2419.5 L1231.0,2421.5 L1232.0,2423.4 L1233.0,2425.3 L1234.0,2427.2 L1235.0,2429.0 L1236.0,2430.8 L1237.0,2432.4 L1238.0,2434.0 L1239.0,2435.5 L1240.0,2436.8 L1241.0,2438.1 L1242.0,2439.2 L1243.0,2440.3 L1244.0,2441.2 L1245.0,2442.1 L1246.0,2442.8 L1247.0,2443.4 L1248.0,2443.9 L1249.0,2444.4 L1250.0,2444.7 L1251.0,2445.0 L1252.0,2445.1 L1253.0,2445.2 L1254.0,2445.2 L1255.0,2445.2 L1256.0,2445.1 L1257.0,2444.9 L1258.0,2444.7 L1259.0,2444.5 L1260.0,2444.2 L1261.0,2443.9 L1262.0,2443.6 L1263.0,2443.3 L1264.0,2442.9 L1265.0,2442.6 L1266.0,2442.4 L1267.0,2442.1 L1268.0,2441.8 L1269.0,2441.6 L1270.0,2441.3 L1271.0,2441.1 L1272.0,2440.9 L1273.0,2440.7 L1274.0,2440.6 L1275.0,2440.4 L1276.0,2440.3 L1277.0,2440.2 L1278.0,2440.1 L1279.0,2440.0 L1280.0,2440.0 L1281.0,2439.9 L1282.0,2439.9 L1283.0,2439.8 L1284.0,2439.8 L1285.0,2439.8 L1286.0,2439.8 L1287.0,2439.8 L1288.0,2439.8 L1289.0,2439.8 L1290.0,2439.8 L1291.0,2439.8 L1292.0,2439.9 L1293.0,2440.0 L1294.0,2440.1 L1295.0,2440.2 L1296.0,2440.4 L1297.0,2440.5 L1298.0,2440.7 L1299.0,2440.9 L1300.0,2441.2 L1301.0,2441.4 L1302.0,2441.6 L1303.0,2441.7 L1304.0,2441.9 L1305.0,2442.0 L1306.0,2442.1 L1307.0,2442.1 L1308.0,2442.1 L1309.0,2442.1 L1310.0,2442.1 L1311.0,2442.0 L1312.0,2441.9 L1313.0,2441.8 L1314.0,2441.6 L1315.0,2441.3 L1316.0,2440.8 L1317.0,2439.9 L1318.0,2438.8 L1319.0,2437.5 L1320.0,2436.1 L1321.0,2434.7 L1322.0,2433.5 L1323.0,2432.4 L1324.0,2431.1 L1325.0,2429.7 L1326.0,2428.3 L1327.0,2427.0 L1328.0,2425.8 L1329.0,2424.8 L1330.0,2423.9 L1331.0,2423.0 L1332.0,2422.3 L1333.0,2421.7 L1334.0,2421.3 L1335.0,2421.0 L1336.0,2420.7 L1337.0,2420.1 L1338.0,2419.1 L1339.0,2417.7 L1340.0,2416.1 L1341.0,2414.2 L1342.0,2411.9 L1343.0,2409.2 L1344.0,2406.2 L1345.0,2403.1 L1346.0,2400.1 L1347.0,2397.3 L1348.0,2394.9 L1349.0,2393.0 L1350.0,2391.5 L1351.0,2390.2 L1352.0,2389.0 L1353.0,2387.7 L1354.0,2386.3 L1355.0,2384.5 L1356.0,2382.5 L1357.0,2380.9 L1358.0,2379.7 L1359.0,2378.0 L1360.0,2375.1 L1361.0,2370.2 L1362.0,2363.9 L1363.0,2356.8 L1364.0,2349.6 L1365.0,2342.8 L1366.0,2337.1 L1367.0,2332.7 L1368.0,2329.2 L1369.0,2326.2 L1370.0,2323.5 L1371.0,2321.6 L1372.0,2320.4 L1373.0,2319.9 L1374.0,2319.9 L1375.0,2320.6 L1376.0,2322.0 L1377.0,2323.9 L1378.0,2326.3 L1379.0,2329.1 L1380.0,2331.9 L1381.0,2334.5 L1382.0,2336.9 L1383.0,2339.1 L1384.0,2341.2 L1385.0,2343.2 L1386.0,2345.0 L1387.0,2346.3 L1388.0,2347.4 L1389.0,2348.2 L1390.0,2349.0 L1391.0,2349.7 L1392.0,2350.4 L1393.0,2351.0 L1394.0,2351.5 L1395.0,2351.9 L1396.0,2352.4 L1397.0,2353.1 L1398.0,2353.9 L1399.0,2354.9 L1400.0,2356.1 L1401.0,2357.8 L1402.0,2359.9 L1403.0,2362.4 L1404.0,2365.2 L1405.0,2368.2 L1406.0,2371.3 L1407.0,2374.7 L1408.0,2378.2 L1409.0,2381.6 L1410.0,2384.9 L1411.0,2387.9 L1412.0,2390.6 L1413.0,2393.1 L1414.0,2395.3 L1415.0,2397.2 L1416.0,2398.8 L1417.0,2400.3 L1418.0,2401.8 L1419.0,2403.3 L1420.0,2404.6 L1421.0,2405.5 L1422.0,2405.7 L1423.0,2405.7 L1424.0,2405.6 L1425.0,2405.4 L1426.0,2405.3 L1427.0,2405.2 L1428.0,2405.4 L1429.0,2405.9 L1430.0,2406.8 L1431.0,2408.3 L1432.0,2410.4 L1433.0,2413.1 L1434.0,2416.5 L1435.0,2420.3 L1436.0,2424.5 L1437.0,2428.7 L1438.0,2432.8 L1439.0,2436.6 L1440.0,2439.9 L1441.0,2442.7 L1442.0,2445.1 L1443.0,2446.9 L1444.0,2448.3 L1445.0,2449.1 L1446.0,2449.1 L1447.0,2448.3 L1448.0,2447.0 L1449.0,2445.0 L1450.0,2442.3 L1451.0,2439.1 L1452.0,2435.7 L1453.0,2432.8 L1454.0,2430.6 L1455.0,2429.5 L1456.0,2429.1 L1457.0,2429.5 L1458.0,2430.5 L1459.0,2431.7 L1460.0,2433.1 L1461.0,2434.2 L1462.0,2435.1 L1463.0,2435.8 L1464.0,2436.3 L1465.0,2436.7 L1466.0,2437.2 L1467.0,2437.9 L1468.0,2438.7 L1469.0,2439.8 L1470.0,2441.0 L1471.0,2442.3 L1472.0,2443.8 L1473.0,2445.5 L1474.0,2447.2 L1475.0,2449.0 L1476.0,2450.8 L1477.0,2452.8 L1478.0,2455.0 L1479.0,2457.2 L1480.0,2459.3 L1481.0,2461.1 L1482.0,2462.5 L1483.0,2463.1 L1484.0,2463.0 L1485.0,2462.2 L1486.0,2460.8 L1487.0,2458.8 L1488.0,2456.4 L1489.0,2453.3 L1490.0,2449.9 L1491.0,2446.4 L1492.0,2443.4 L1493.0,2441.4 L1494.0,2440.4 L1495.0,2439.8 L1496.0,2439.7 L1497.0,2440.4 L1498.0,2441.7 L1499.0,2443.1 L1500.0,2444.4 L1501.0,2445.9 L1502.0,2447.0 L1503.0,2447.4 L1504.0,2446.9 L1505.0,2445.8 L1506.0,2444.2 L1507.0,2442.3 L1508.0,2440.3 L1509.0,2438.2 L1510.0,2436.2 L1511.0,2434.4 L1512.0,2432.7 L1513.0,2431.4 L1514.0,2430.3 L1515.0,2429.6 L1516.0,2429.2 L1517.0,2429.2 L1518.0,2429.6 L1519.0,2430.4 L1520.0,2431.5 L1521.0,2432.9 L1522.0,2434.7 L1523.0,2436.6 L1524.0,2438.6 L1525.0,2440.7 L1526.0,2442.7 L1527.0,2444.7 L1528.0,2446.6 L1529.0,2448.6 L1530.0,2450.6 L1531.0,2452.6 L1532.0,2454.3 L1533.0,2456.0 L1534.0,2457.5 L1535.0,2458.8 L1536.0,2459.9 L1537.0,2460.9 L1538.0,2461.8 L1539.0,2462.6 L1540.0,2463.4 L1541.0,2464.0 L1542.0,2464.5 L1543.0,2465.0 L1544.0,2465.3 L1545.0,2465.6 L1546.0,2465.9 L1547.0,2466.1 L1548.0,2466.3 L1549.0,2466.4 L1550.0,2466.6 L1551.0,2466.7 L1552.0,2466.8 L1553.0,2466.9 L1554.0,2467.0 L1555.0,2467.1 L1556.0,2467.2 L1557.0,2467.3 L1558.0,2467.3 L1559.0,2467.3 L1560.0,2467.4 L1561.0,2467.4 L1562.0,2467.4 L1563.0,2467.4 L1564.0,2467.4 L1565.0,2467.4 L1566.0,2467.4 L1567.0,2467.5 L1568.0,2467.5 L1569.0,2467.5 L1570.0,2467.5 L1571.0,2467.5 L1572.0,2467.5 L1573.0,2467.5 L1574.0,2467.5 L1575.0,2467.5 L1576.0,2467.6 L1577.0,2467.6 L1578.0,2467.6 L1579.0,2467.6 L1580.0,2467.6 L1581.0,2467.6 L1582.0,2467.6 L1583.0,2467.6 L1584.0,2467.6 L1585.0,2467.6 L1586.0,2467.6 L1587.0,2467.6 L1588.0,2467.7 L1589.0,2467.7 L1590.0,2467.7 L1591.0,2467.7 L1592.0,2467.7 L1593.0,2467.7 L1594.0,2467.7 L1595.0,2467.7 L1596.0,2467.7 L1597.0,2467.7 L1598.0,2467.7 L1599.0,2467.7 L1600.0,2467.7 L1601.0,2467.7 L1602.0,2467.7 L1603.0,2467.7 L1604.0,2467.7 L1605.0,2467.8 L1606.0,2467.8 L1607.0,2467.8 L1608.0,2467.8 L1609.0,2467.8 L1610.0,2467.8 L1611.0,2467.8 L1612.0,2467.8 L1613.0,2467.8 L1614.0,2467.8 L1615.0,2467.8 L1616.0,2467.8 L1617.0,2467.8 L1618.0,2467.8" fill="none" stroke="#000" stroke-width="1.7" stroke-linejoin="round"/>
<path d="M105.4,2462.1h.01M108.1,2462.1h.01M110.7,2461.9h.01M113.4,2461.6h.01M116.1,2461.1h.01M118.8,2460.7h.01M121.4,2460.4h.01M124.1,2460.2h.01M126.8,2460.2h.01M129.4,2460.2h.01M132.1,2460.1h.01M134.8,2459.7h.01M137.4,2459.0h.01M140.1,2458.5h.01M142.8,2458.1h.01M145.5,2457.7h.01M148.1,2457.1h.01M150.8,2456.5h.01M153.5,2456.1h.01M156.1,2455.7h.01M158.8,2455.1h.01M161.5,2454.3h.01M164.1,2453.3h.01M166.8,2452.3h.01M169.5,2451.4h.01M172.2,2450.7h.01M174.8,2450.0h.01M177.5,2449.2h.01M180.2,2448.1h.01M182.8,2446.5h.01M185.5,2444.6h.01M188.2,2442.6h.01M190.8,2440.7h.01M193.5,2438.8h.01M196.2,2436.9h.01M198.9,2434.9h.01M201.5,2432.7h.01M204.2,2430.5h.01M206.9,2428.1h.01M209.5,2425.6h.01M212.2,2423.0h.01M214.9,2420.3h.01M217.5,2417.4h.01M220.2,2414.3h.01M222.9,2410.7h.01M225.6,2406.9h.01M228.2,2402.7h.01M230.9,2398.7h.01M233.6,2394.6h.01M236.2,2389.9h.01M238.9,2384.4h.01M241.6,2378.0h.01M244.2,2370.7h.01M246.9,2361.9h.01M249.6,2351.8h.01M252.3,2339.9h.01M254.9,2326.7h.01M257.6,2313.2h.01M260.3,2300.1h.01M262.9,2286.8h.01M265.6,2272.8h.01M268.3,2256.1h.01M270.9,2237.4h.01M273.6,2221.2h.01M276.3,2206.4h.01M279.0,2193.7h.01M281.6,2182.2h.01M284.3,2171.3h.01M287.0,2161.5h.01M289.6,2153.3h.01M292.3,2146.2h.01M295.0,2140.1h.01M297.6,2134.6h.01M300.3,2129.6h.01M303.0,2124.7h.01M305.7,2119.5h.01M308.3,2114.1h.01M311.0,2108.8h.01M313.7,2103.3h.01M316.3,2097.3h.01M319.0,2090.5h.01M321.7,2083.1h.01M324.3,2075.1h.01M327.0,2066.3h.01M329.7,2057.2h.01M332.4,2048.7h.01M335.0,2040.9h.01M337.7,2034.8h.01M340.4,2029.9h.01M343.0,2025.0h.01M345.7,2020.1h.01M348.4,2014.8h.01M351.0,2009.7h.01M353.7,2005.1h.01M356.4,2001.1h.01M359.1,1997.7h.01M361.7,1994.6h.01M364.4,1991.4h.01M367.1,1987.9h.01M369.7,1983.9h.01M372.4,1979.5h.01M375.1,1974.4h.01M377.7,1968.8h.01M380.4,1962.6h.01M383.1,1955.8h.01M385.8,1948.8h.01M388.4,1942.1h.01M391.1,1935.1h.01M393.8,1928.0h.01M396.4,1921.2h.01M399.1,1915.2h.01M401.8,1910.1h.01M404.4,1905.5h.01M407.1,1901.1h.01M409.8,1897.7h.01M412.5,1895.8h.01M415.1,1894.6h.01M417.8,1893.7h.01M420.5,1893.3h.01M423.1,1893.5h.01M425.8,1894.2h.01M428.5,1895.0h.01M431.1,1895.8h.01M433.8,1896.5h.01M436.5,1896.7h.01M439.2,1896.0h.01M441.8,1894.6h.01M444.5,1892.6h.01M447.2,1890.5h.01M449.8,1887.9h.01M452.5,1884.6h.01M455.2,1880.2h.01M457.8,1874.7h.01M460.5,1868.4h.01M463.2,1861.8h.01M465.9,1855.4h.01M468.5,1849.2h.01M471.2,1843.7h.01M473.9,1839.2h.01M476.5,1835.6h.01M479.2,1832.7h.01M481.9,1830.6h.01M484.5,1829.6h.01M487.2,1829.6h.01M489.9,1831.0h.01M492.6,1834.3h.01M495.2,1839.8h.01M497.9,1847.1h.01M500.6,1856.1h.01M503.2,1866.8h.01M505.9,1879.2h.01M508.6,1892.8h.01M511.2,1907.1h.01M513.9,1922.0h.01M516.6,1937.5h.01M519.3,1953.5h.01M521.9,1969.4h.01M524.6,1985.2h.01M527.3,2000.9h.01M529.9,2016.0h.01M532.6,2030.1h.01M535.3,2043.0h.01M537.9,2054.6h.01M540.6,2065.2h.01M543.3,2074.3h.01M546.0,2081.6h.01M548.6,2087.0h.01M551.3,2090.7h.01M554.0,2093.0h.01M556.6,2093.7h.01M559.3,2092.6h.01M562.0,2089.9h.01M564.6,2086.1h.01M567.3,2081.2h.01M570.0,2075.1h.01M572.7,2067.9h.01M575.3,2060.1h.01M578.0,2051.7h.01M580.7,2043.4h.01M583.3,2035.4h.01M586.0,2028.1h.01M588.7,2021.3h.01M591.3,2015.3h.01M594.0,2010.4h.01M596.7,2007.1h.01M599.4,2005.5h.01M602.0,2005.8h.01M604.7,2008.2h.01M607.4,2012.8h.01M610.0,2019.4h.01M612.7,2027.6h.01M615.4,2037.0h.01M618.0,2047.5h.01M620.7,2059.0h.01M623.4,2071.0h.01M626.1,2083.5h.01M628.7,2096.4h.01M631.4,2109.5h.01M634.1,2122.4h.01M636.7,2135.0h.01M639.4,2147.3h.01M642.1,2159.0h.01M644.7,2169.9h.01M647.4,2179.8h.01M650.1,2189.0h.01M652.8,2197.5h.01M655.4,2205.2h.01M658.1,2211.8h.01M660.8,2217.4h.01M663.4,2222.4h.01M666.1,2226.8h.01M668.8,2230.6h.01M671.4,2233.3h.01M674.1,2235.0h.01M676.8,2235.8h.01M679.5,2235.6h.01M682.1,2234.7h.01M684.8,2232.5h.01M687.5,2228.9h.01M690.1,2223.6h.01M692.8,2216.8h.01M695.5,2208.8h.01M698.1,2199.2h.01M700.8,2188.2h.01M703.5,2175.8h.01M706.2,2162.2h.01M708.8,2147.8h.01M711.5,2132.6h.01M714.2,2117.0h.01M716.8,2101.2h.01M719.5,2085.7h.01M722.2,2071.2h.01M724.8,2058.3h.01M727.5,2047.5h.01M730.2,2039.2h.01M732.9,2033.8h.01M735.5,2031.1h.01M738.2,2031.6h.01M740.9,2035.6h.01M743.5,2042.8h.01M746.2,2052.8h.01M748.9,2064.8h.01M751.5,2078.5h.01M754.2,2093.4h.01M756.9,2108.7h.01M759.6,2123.8h.01M762.2,2138.5h.01M764.9,2152.5h.01M767.6,2165.3h.01M770.2,2176.7h.01M772.9,2186.6h.01M775.6,2194.7h.01M778.2,2200.7h.01M780.9,2204.4h.01M783.6,2206.2h.01M786.3,2206.3h.01M788.9,2205.0h.01M791.6,2202.4h.01M794.3,2198.5h.01M796.9,2193.7h.01M799.6,2188.3h.01M802.3,2182.8h.01M804.9,2177.4h.01M807.6,2172.7h.01M810.3,2169.2h.01M813.0,2167.2h.01M815.6,2166.6h.01M818.3,2167.6h.01M821.0,2170.6h.01M823.6,2175.5h.01M826.3,2182.2h.01M829.0,2190.2h.01M831.6,2199.1h.01M834.3,2208.9h.01M837.0,2219.4h.01M839.7,2230.5h.01M842.3,2241.7h.01M845.0,2252.8h.01M847.7,2263.6h.01M850.3,2273.9h.01M853.0,2283.6h.01M855.7,2292.8h.01M858.3,2301.9h.01M861.0,2311.0h.01M863.7,2319.9h.01M866.4,2328.6h.01M869.0,2336.9h.01M871.7,2344.9h.01M874.4,2352.8h.01M877.0,2360.9h.01M879.7,2368.8h.01M882.4,2376.2h.01M885.0,2383.0h.01M887.7,2389.2h.01M890.4,2395.0h.01M893.1,2400.1h.01M895.7,2404.7h.01M898.4,2408.8h.01M901.1,2412.5h.01M903.7,2415.8h.01M906.4,2418.7h.01M909.1,2421.0h.01M911.7,2422.7h.01M914.4,2423.7h.01M917.1,2423.9h.01M919.8,2423.4h.01M922.4,2422.5h.01M925.1,2421.0h.01M927.8,2418.8h.01M930.4,2415.8h.01M933.1,2412.1h.01M935.8,2407.6h.01M938.4,2402.5h.01M941.1,2397.1h.01M943.8,2391.8h.01M946.5,2386.6h.01M949.1,2381.7h.01M951.8,2377.3h.01M954.5,2373.5h.01M957.1,2370.6h.01M959.8,2368.6h.01M962.5,2367.5h.01M965.1,2367.2h.01M967.8,2368.0h.01M970.5,2369.9h.01M973.2,2373.0h.01M975.8,2377.0h.01M978.5,2381.8h.01M981.2,2387.4h.01M983.8,2393.4h.01M986.5,2399.6h.01M989.2,2405.8h.01M991.8,2411.9h.01M994.5,2418.0h.01M997.2,2423.8h.01M999.9,2429.1h.01M1002.5,2433.7h.01M1005.2,2437.9h.01M1007.9,2442.1h.01M1010.5,2446.4h.01M1013.2,2450.2h.01M1015.9,2453.3h.01M1018.5,2455.5h.01M1021.2,2457.0h.01M1023.9,2458.2h.01M1026.6,2459.3h.01M1029.2,2460.4h.01M1031.9,2461.3h.01M1034.6,2462.1h.01M1037.2,2462.8h.01M1039.9,2463.2h.01M1042.6,2463.4h.01M1045.2,2463.4h.01M1047.9,2463.4h.01M1050.6,2463.7h.01M1053.3,2464.2h.01M1055.9,2464.7h.01M1058.6,2465.1h.01M1061.3,2465.3h.01M1063.9,2465.5h.01M1066.6,2465.5h.01M1069.3,2465.4h.01M1071.9,2465.3h.01M1074.6,2465.4h.01M1077.3,2465.5h.01M1080.0,2465.4h.01M1082.6,2465.2h.01M1085.3,2465.2h.01M1088.0,2465.2h.01M1090.6,2465.3h.01M1093.3,2465.2h.01M1096.0,2465.0h.01M1098.6,2464.9h.01M1101.3,2464.8h.01M1104.0,2464.6h.01M1106.7,2464.1h.01M1109.3,2463.5h.01M1112.0,2463.0h.01M1114.7,2462.8h.01M1117.3,2463.0h.01M1120.0,2463.3h.01M1122.7,2463.5h.01M1125.3,2463.7h.01M1128.0,2464.1h.01M1130.7,2464.7h.01M1133.4,2465.5h.01M1136.0,2466.0h.01M1138.7,2466.3h.01M1141.4,2466.6h.01M1144.0,2467.0h.01M1146.7,2467.1h.01M1149.4,2466.9h.01M1152.0,2466.6h.01M1154.7,2466.4h.01M1157.4,2466.3h.01M1160.1,2466.2h.01M1162.7,2466.1h.01M1165.4,2465.9h.01M1168.1,2465.2h.01M1170.7,2464.1h.01M1173.4,2462.5h.01M1176.1,2460.5h.01M1178.7,2458.0h.01M1181.4,2454.9h.01M1184.1,2451.1h.01M1186.8,2446.7h.01M1189.4,2441.6h.01M1192.1,2436.0h.01M1194.8,2430.0h.01M1197.4,2423.9h.01M1200.1,2417.9h.01M1202.8,2412.2h.01M1205.4,2407.2h.01M1208.1,2403.0h.01M1210.8,2399.8h.01M1213.5,2398.0h.01M1216.1,2398.1h.01M1218.8,2399.9h.01M1221.5,2402.9h.01M1224.1,2406.7h.01M1226.8,2411.2h.01M1229.5,2416.1h.01M1232.1,2421.3h.01M1234.8,2426.4h.01M1237.5,2431.2h.01M1240.2,2435.4h.01M1242.8,2439.1h.01M1245.5,2442.0h.01M1248.2,2444.0h.01M1250.8,2445.1h.01M1253.5,2445.7h.01M1256.2,2446.0h.01M1258.8,2445.8h.01M1261.5,2445.3h.01M1264.2,2444.4h.01M1266.9,2443.6h.01M1269.5,2443.0h.01M1272.2,2442.5h.01M1274.9,2441.9h.01M1277.5,2441.2h.01M1280.2,2440.5h.01M1282.9,2440.1h.01M1285.5,2440.2h.01M1288.2,2440.6h.01M1290.9,2440.9h.01M1293.6,2441.0h.01M1296.2,2441.1h.01M1298.9,2441.2h.01M1301.6,2441.6h.01M1304.2,2442.0h.01M1306.9,2442.3h.01M1309.6,2442.4h.01M1312.2,2442.4h.01M1314.9,2442.2h.01M1317.6,2441.2h.01M1320.3,2438.4h.01M1322.9,2435.0h.01M1325.6,2431.5h.01M1328.3,2427.6h.01M1330.9,2424.4h.01M1333.6,2422.3h.01M1336.3,2421.7h.01M1338.9,2420.8h.01M1341.6,2417.1h.01M1344.3,2410.8h.01M1347.0,2402.3h.01M1349.6,2395.1h.01M1352.3,2390.9h.01M1355.0,2387.2h.01M1357.6,2382.1h.01M1360.3,2378.0h.01M1363.0,2365.8h.01M1365.6,2347.0h.01M1368.3,2332.3h.01M1371.0,2324.2h.01M1373.7,2320.5h.01M1376.3,2321.1h.01M1379.0,2326.1h.01M1381.7,2333.3h.01M1384.3,2339.5h.01M1387.0,2344.7h.01M1389.7,2348.0h.01M1392.3,2350.0h.01M1395.0,2351.7h.01M1397.7,2352.9h.01M1400.4,2354.8h.01M1403.0,2359.0h.01M1405.7,2366.3h.01M1408.4,2375.3h.01M1411.0,2384.4h.01M1413.7,2391.8h.01M1416.4,2397.1h.01M1419.0,2401.0h.01M1421.7,2404.5h.01M1424.4,2405.4h.01M1427.1,2405.0h.01M1429.7,2405.1h.01M1432.4,2408.0h.01M1435.1,2415.5h.01M1437.7,2426.7h.01M1440.4,2437.9h.01M1443.1,2445.9h.01M1445.7,2450.3h.01M1448.4,2449.7h.01M1451.1,2444.0h.01M1453.8,2435.1h.01M1456.4,2430.0h.01M1459.1,2430.9h.01M1461.8,2434.0h.01M1464.4,2435.8h.01M1467.1,2436.7h.01M1469.8,2438.9h.01M1472.4,2442.6h.01M1475.1,2447.2h.01M1477.8,2451.9h.01M1480.5,2457.6h.01M1483.1,2462.4h.01M1485.8,2463.2h.01M1488.5,2459.5h.01M1491.1,2451.6h.01M1493.8,2443.3h.01M1496.5,2440.4h.01M1499.1,2442.2h.01M1501.8,2446.1h.01M1504.5,2448.4h.01M1507.2,2445.3h.01M1509.8,2439.8h.01M1512.5,2434.2h.01M1515.2,2430.2h.01M1517.8,2428.8h.01M1520.5,2430.2h.01M1523.2,2434.1h.01M1525.8,2439.2h.01M1528.5,2444.4h.01M1531.2,2449.9h.01M1533.9,2455.3h.01M1536.5,2459.5h.01M1539.2,2462.2h.01" fill="none" stroke="#000" stroke-width="3.5" stroke-linecap="square"/>
<line x1="79.0" y1="2471.2" x2="96.0" y2="2470.6" stroke="#000" stroke-width="1.6" stroke-linecap="butt"/>
<line x1="77.3" y1="1748.8" x2="77.3" y2="2499.0" stroke="#000" stroke-width="3.4" stroke-linecap="butt"/>
<line x1="1620.1" y1="1748.8" x2="1620.1" y2="2499.0" stroke="#000" stroke-width="3.4" stroke-linecap="butt"/>
<line x1="75.6" y1="1750.5" x2="1621.8" y2="1750.5" stroke="#000" stroke-width="3.4" stroke-linecap="butt"/>
<line x1="75.6" y1="2492.4" x2="1621.8" y2="2492.4" stroke="#000" stroke-width="3.4" stroke-linecap="butt"/>
<line x1="248.6" y1="2492.4" x2="248.6" y2="2499.0" stroke="#000" stroke-width="3.6" stroke-linecap="butt"/>
<line x1="420.0" y1="2492.4" x2="420.0" y2="2499.0" stroke="#000" stroke-width="3.6" stroke-linecap="butt"/>
<line x1="591.3" y1="2492.4" x2="591.3" y2="2499.0" stroke="#000" stroke-width="3.6" stroke-linecap="butt"/>
<line x1="762.7" y1="2492.4" x2="762.7" y2="2499.0" stroke="#000" stroke-width="3.6" stroke-linecap="butt"/>
<line x1="934.1" y1="2492.4" x2="934.1" y2="2499.0" stroke="#000" stroke-width="3.6" stroke-linecap="butt"/>
<line x1="1105.5" y1="2492.4" x2="1105.5" y2="2499.0" stroke="#000" stroke-width="3.6" stroke-linecap="butt"/>
<line x1="1276.8" y1="2492.4" x2="1276.8" y2="2499.0" stroke="#000" stroke-width="3.6" stroke-linecap="butt"/>
<line x1="1448.2" y1="2492.4" x2="1448.2" y2="2499.0" stroke="#000" stroke-width="3.6" stroke-linecap="butt"/>
<text transform="translate(248.6,2527.8) scale(1,1.04)" font-size="30" text-anchor="middle">1200</text>
<text transform="translate(591.3,2527.8) scale(1,1.04)" font-size="30" text-anchor="middle">1000</text>
<text transform="translate(934.1,2527.8) scale(1,1.04)" font-size="30" text-anchor="middle">800</text>
<text transform="translate(1276.8,2527.8) scale(1,1.04)" font-size="30" text-anchor="middle">600</text>
<text transform="translate(1619.6,2527.8) scale(1,1.04)" font-size="30" text-anchor="middle">400</text>
<text transform="translate(33.2,2145.3) rotate(-90) scale(1,1)" font-size="40" text-anchor="middle">absorbance</text>
<text x="847.2" y="2579.7" font-size="40.4" text-anchor="middle">wavenumber [cm<tspan font-size="20" dy="-19">-1</tspan><tspan dy="19">]</tspan></text>
<text transform="translate(1541.0,1842.4) scale(1,1)" font-size="80" text-anchor="start">c</text>
<text transform="translate(226.6,2324.8) rotate(-90) scale(1,1.04)" font-size="24.5" text-anchor="start">1206</text>
<line x1="226.0" y1="2325.7" x2="227.1" y2="2403.5" stroke="#000" stroke-width="1.5" stroke-linecap="butt"/>
<text transform="translate(297.0,2086.0) rotate(-90) scale(1,1.04)" font-size="24.5" text-anchor="start">1179</text>
<text transform="translate(348.1,1987.6) rotate(-90) scale(1,1.04)" font-size="24.5" text-anchor="start">1147</text>
<text transform="translate(419.9,1888.0) rotate(-90) scale(1,1.04)" font-size="24.5" text-anchor="start">1108</text>
<text transform="translate(497.3,1823.2) rotate(-90) scale(1,1.04)" font-size="24.5" text-anchor="start">1060</text>
<text transform="translate(610.7,1982.8) rotate(-90) scale(1,1.04)" font-size="24.5" text-anchor="start">994</text>
<text transform="translate(679.5,2177.0) rotate(-90) scale(1,1.04)" font-size="24.5" text-anchor="start">954</text>
<line x1="670.2" y1="2179.6" x2="666.6" y2="2227.4" stroke="#000" stroke-width="1.5" stroke-linecap="butt"/>
<text transform="translate(743.9,2021.0) rotate(-90) scale(1,1.04)" font-size="24.5" text-anchor="start">917</text>
<text transform="translate(825.0,2148.0) rotate(-90) scale(1,1.04)" font-size="24.5" text-anchor="start">870</text>
<text transform="translate(881.4,2246.3) rotate(-90) scale(1,1.04)" font-size="24.5" text-anchor="start">841</text>
<line x1="871.9" y1="2251.5" x2="863.1" y2="2323.0" stroke="#000" stroke-width="1.5" stroke-linecap="butt"/>
<text transform="translate(974.3,2341.1) rotate(-90) scale(1,1.04)" font-size="24.5" text-anchor="start">783</text>
<text transform="translate(1125.8,2453.8) rotate(-90) scale(1,1.04)" font-size="24.5" text-anchor="start">694</text>
<text transform="translate(1221.4,2385.6) rotate(-90) scale(1,1.04)" font-size="24.5" text-anchor="start">638</text>
<text transform="translate(1297.4,2430.5) rotate(-90) scale(1,1.04)" font-size="24.5" text-anchor="start">594</text>
<text transform="translate(1330.1,2396.3) rotate(-90) scale(1,1.04)" font-size="24.5" text-anchor="start">569</text>
<line x1="1321.4" y1="2399.3" x2="1329.6" y2="2425.3" stroke="#000" stroke-width="1.5" stroke-linecap="butt"/>
<text transform="translate(1350.6,2345.8) rotate(-90) scale(1,1.04)" font-size="24.5" text-anchor="start">559</text>
<line x1="1342.4" y1="2347.5" x2="1349.5" y2="2392.5" stroke="#000" stroke-width="1.5" stroke-linecap="butt"/>
<text transform="translate(1379.8,2292.6) rotate(-90) scale(1,1.04)" font-size="24.5" text-anchor="start">545</text>
<text transform="translate(1420.5,2315.2) rotate(-90) scale(1,1.04)" font-size="24.5" text-anchor="start">529</text>
<line x1="1408.0" y1="2318.0" x2="1399.2" y2="2355.7" stroke="#000" stroke-width="1.5" stroke-linecap="butt"/>
<text transform="translate(1441.5,2354.8) rotate(-90) scale(1,1.04)" font-size="24.5" text-anchor="start">511</text>
<line x1="1429.5" y1="2362.5" x2="1427.9" y2="2404.8" stroke="#000" stroke-width="1.5" stroke-linecap="butt"/>
<text transform="translate(1466.9,2384.6) rotate(-90) scale(1,1.04)" font-size="24.5" text-anchor="start">496</text>
<line x1="1455.7" y1="2389.0" x2="1456.6" y2="2430.0" stroke="#000" stroke-width="1.5" stroke-linecap="butt"/>
<text transform="translate(1488.0,2401.8) rotate(-90) scale(1,1.04)" font-size="24.5" text-anchor="start">489</text>
<line x1="1474.9" y1="2405.4" x2="1472.1" y2="2443.0" stroke="#000" stroke-width="1.5" stroke-linecap="butt"/>
<text transform="translate(1507.1,2425.0) rotate(-90) scale(1,1.04)" font-size="24.5" text-anchor="start">473</text>
<line x1="1494.8" y1="2423.9" x2="1495.3" y2="2440.3" stroke="#000" stroke-width="1.5" stroke-linecap="butt"/>
<text transform="translate(1533.8,2400.4) rotate(-90) scale(1,1.04)" font-size="24.5" text-anchor="start">460</text>
<line x1="1523.5" y1="2398.8" x2="1519.4" y2="2428.0" stroke="#000" stroke-width="1.5" stroke-linecap="butt"/>
</g>
</svg>
</body>
</html>
